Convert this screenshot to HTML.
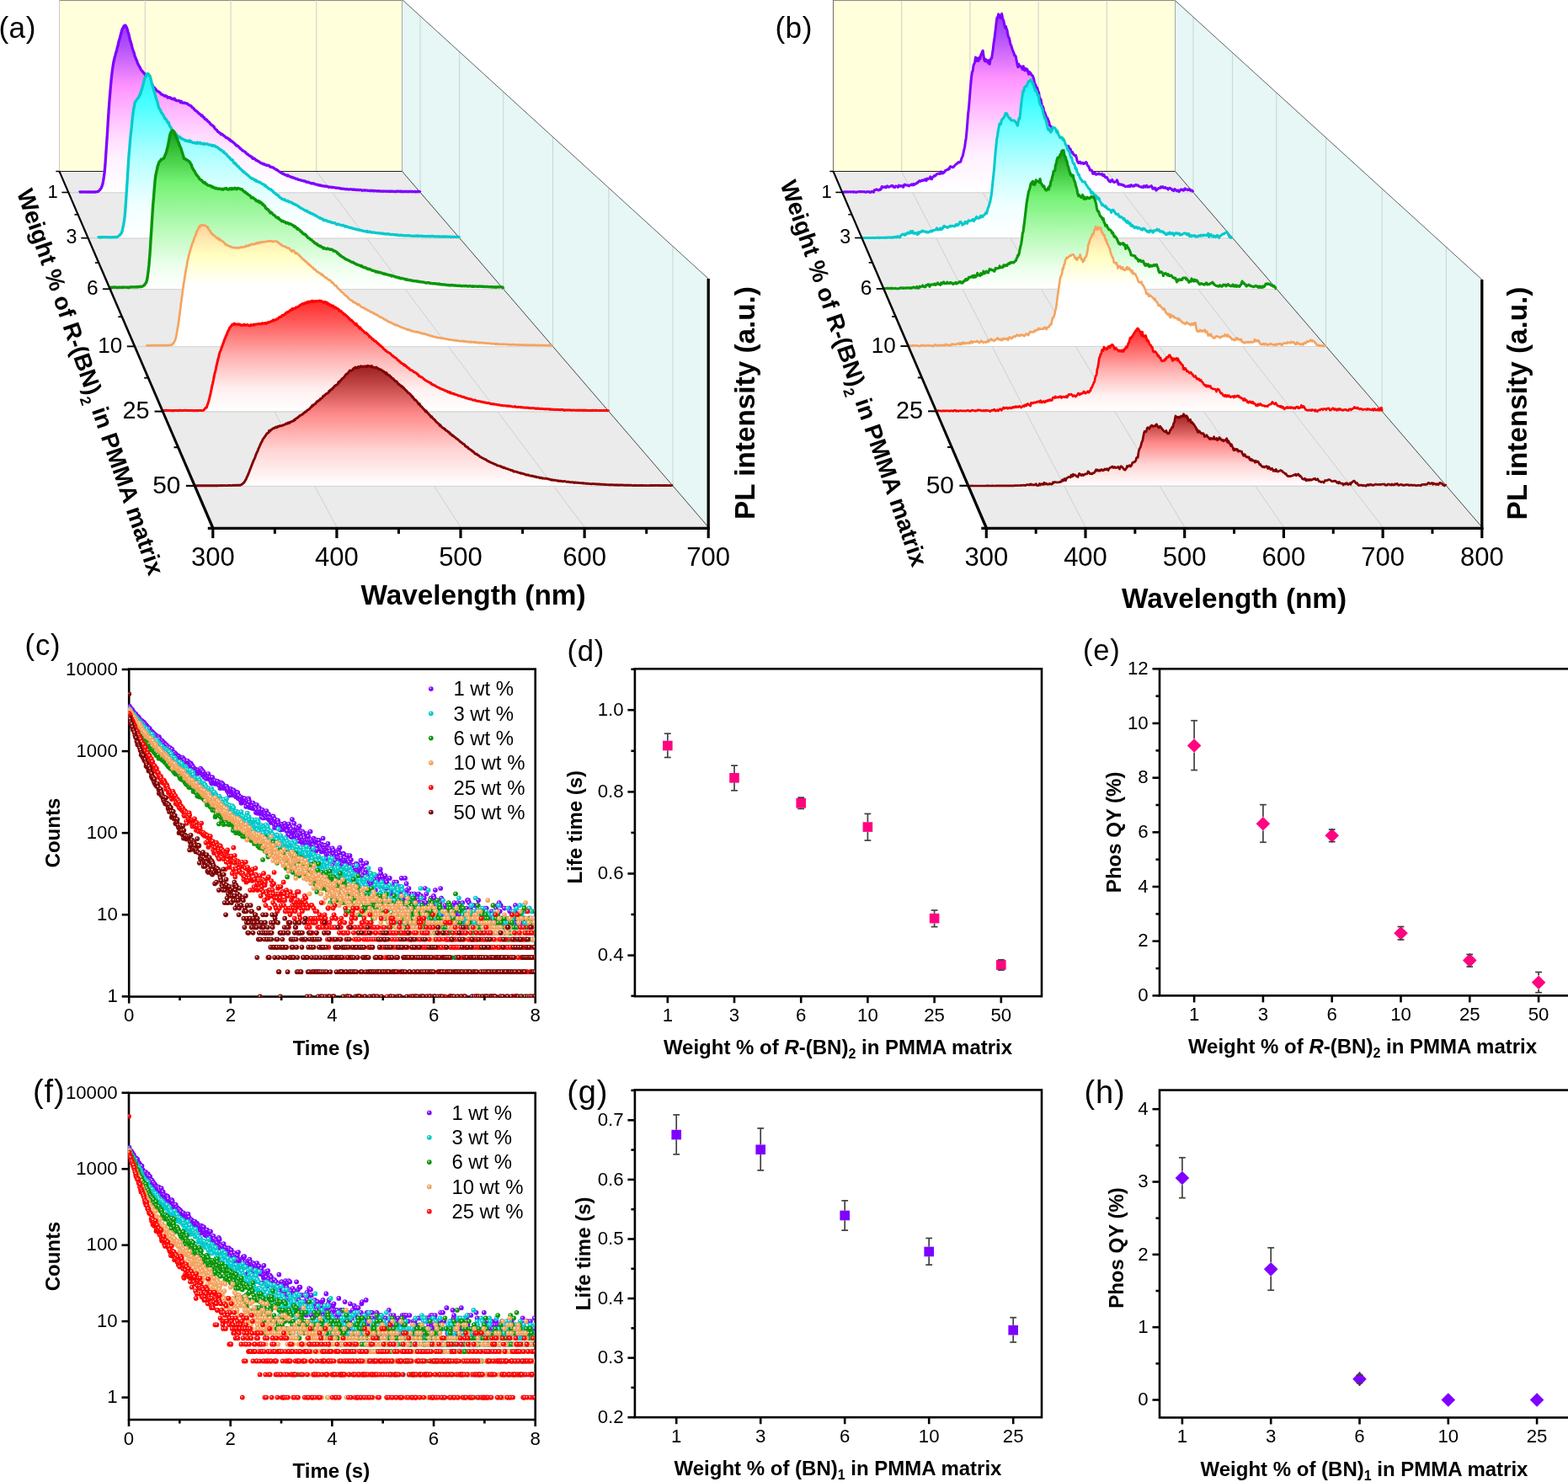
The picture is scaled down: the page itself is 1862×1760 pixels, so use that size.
<!DOCTYPE html>
<html lang="en"><head><meta charset="utf-8"><title>Figure</title>
<style>
html,body{margin:0;padding:0;background:#fff;}
body{width:1862px;height:1760px;overflow:hidden;}
svg{display:block;font-family:"Liberation Sans", Arial, Helvetica, sans-serif;fill:#000;}
</style></head><body>
<svg width="1862" height="1760" viewBox="0 0 1862 1760">
<defs>
<linearGradient id="g1" x1="0" y1="0" x2="0" y2="1"><stop offset="0" stop-color="#9a38f8"/><stop offset="0.12" stop-color="#b050fa"/><stop offset="0.36" stop-color="#ff92ff"/><stop offset="0.5" stop-color="#ffb4ff"/><stop offset="0.65" stop-color="#ffd8ff"/><stop offset="0.8" stop-color="#fff2ff"/><stop offset="1" stop-color="#ffffff"/></linearGradient>
<linearGradient id="g3" x1="0" y1="0" x2="0" y2="1"><stop offset="0" stop-color="#28f0f4"/><stop offset="0.15" stop-color="#40ffff"/><stop offset="0.45" stop-color="#a0ffff"/><stop offset="0.6" stop-color="#c8ffff"/><stop offset="0.8" stop-color="#f0ffff"/><stop offset="1" stop-color="#ffffff"/></linearGradient>
<linearGradient id="g6" x1="0" y1="0" x2="0" y2="1"><stop offset="0" stop-color="#189c20"/><stop offset="0.12" stop-color="#38c038"/><stop offset="0.33" stop-color="#74f274"/><stop offset="0.6" stop-color="#b4fab4"/><stop offset="0.85" stop-color="#ecffec"/><stop offset="1" stop-color="#ffffff"/></linearGradient>
<linearGradient id="g10" x1="0" y1="0" x2="0" y2="1"><stop offset="0" stop-color="#ffd29c"/><stop offset="0.13" stop-color="#ffeab0"/><stop offset="0.25" stop-color="#ffffc0"/><stop offset="0.5" stop-color="#ffffff"/><stop offset="1" stop-color="#ffffff"/></linearGradient>
<linearGradient id="g25" x1="0" y1="0" x2="0" y2="1"><stop offset="0" stop-color="#ff2828"/><stop offset="0.2" stop-color="#ff5c5c"/><stop offset="0.5" stop-color="#ffb0b0"/><stop offset="0.8" stop-color="#fff0f0"/><stop offset="1" stop-color="#ffffff"/></linearGradient>
<linearGradient id="g50" x1="0" y1="0" x2="0" y2="1"><stop offset="0" stop-color="#9c2020"/><stop offset="0.15" stop-color="#c04444"/><stop offset="0.4" stop-color="#ff8888"/><stop offset="0.7" stop-color="#ffd4d4"/><stop offset="1" stop-color="#ffffff"/></linearGradient>
<path id="ca1" d="M93.8 228.5 94.5 228.1 95.3 227.9 96.1 228 96.9 228 97.7 227.9 98.5 227.9 99.3 228.1 100.1 228 100.9 227.8 101.7 228.2 102.5 228.1 103.3 227.9 104.1 228.1 104.9 228 105.7 228 106.5 228.1 107.3 227.9 108.1 228 108.9 228.1 109.7 228.1 110.5 228 111.3 228.1 112.1 227.9 112.9 228 113.7 228 114.5 227.8 115.3 227.7 116.1 227.6 116.9 227.2 117.7 226.4 118.5 225.6 119.3 224.5 120.1 223.5 120.9 221.7 121.7 219.3 122.5 215.6 123.3 210.7 124.1 204.9 124.9 196 125.7 184.2 126.5 172.4 127.3 160.7 128.1 147.3 128.9 134.7 129.7 123 130.5 113.1 131.3 103.9 132.1 94.7 132.9 87.4 133.7 81.4 134.5 75.9 135.3 71.8 136.1 68.5 136.9 65.7 137.7 62.4 138.5 60.3 139.3 56.3 140.1 53.9 140.9 49.8 141.7 47.2 142.5 44.5 143.3 41.2 144.1 38.6 144.9 35.1 145.7 33.4 146.5 32.7 147.3 30.6 148.1 30.9 148.9 30 149.7 31.4 150.5 32.8 151.3 35.3 152.1 38.3 152.9 40.5 153.7 44.1 154.5 47.9 155.3 49.9 156.1 52.7 156.9 56.2 157.7 58.7 158.5 61 159.3 63.1 160.1 66.8 160.9 68.3 161.7 70.6 162.5 71.9 163.3 74.9 164.1 76.3 164.9 78 165.7 79 166.5 80.7 167.3 82.2 168.1 83.6 168.9 84.4 169.7 85.4 170.5 86.3 171.3 87.2 172.1 88.1 172.9 89.7 173.7 90.4 174.5 90.6 175.3 92.5 176.1 94.2 176.9 94.7 177.7 95.2 178.5 97.1 179.3 98.8 180.1 99.7 180.9 100.6 181.7 102.7 182.5 103.8 183.3 104 184.1 105.3 184.9 106 185.7 107 186.5 108 187.3 108.5 188.1 108.8 188.9 109.2 189.7 109.8 190.5 110.7 191.3 111.8 192.1 112 192.9 112.4 193.7 113 194.5 113.3 195.3 114 196.1 113.6 196.9 113.6 197.7 114.6 198.5 114.6 199.3 116.1 200.1 115.6 200.9 115.9 201.7 115.6 202.5 116.6 203.3 116.5 204.1 117.5 204.9 117.7 205.7 117.3 206.5 118.1 207.3 117.1 208.1 118.2 208.9 119.4 209.7 119.5 210.5 119.5 211.3 119.7 212.1 119.4 212.9 119.8 213.7 120.7 214.5 121.7 215.3 120.3 216.1 121.7 216.9 122 217.7 122.4 218.5 121.8 219.3 122.2 220.1 122.7 220.9 122.5 221.7 122.7 222.5 123.2 223.3 123.9 224.1 124.5 224.9 124.8 225.7 125.4 226.5 125.6 227.3 126.2 228.1 127.7 228.9 127.8 229.7 128.5 230.5 129.7 231.3 130.5 232.1 131.3 232.9 131.6 233.7 132.2 234.5 133 235.3 133.7 236.1 134.8 236.9 135.1 237.7 135.9 238.5 136.3 239.3 137.6 240.1 136.9 240.9 138.6 241.7 139.5 242.5 139.4 243.3 141.5 244.1 141.3 244.9 142 245.7 142.4 246.5 143.9 247.3 144.4 248.1 144.8 248.9 145.9 249.7 146.9 250.5 147.9 251.3 148.4 252.1 148.8 252.9 149.8 253.7 149.9 254.5 151.4 255.3 152.8 256.1 153.5 256.9 154.1 257.7 154.8 258.5 156.3 259.3 156.5 260.1 157.4 260.9 157.9 261.7 158.2 262.5 159.6 263.3 159.1 264.1 159.7 264.9 160.5 265.7 161 266.5 161.6 267.3 162.1 268.1 163.2 268.9 163.4 269.7 164 270.5 163.8 271.3 164.6 272.1 165.9 272.9 165.7 273.7 167.1 274.5 166.9 275.3 168 276.1 168.2 276.9 169.2 277.7 169.5 278.5 170.4 279.3 171.7 280.1 171.6 280.9 173.1 281.7 172.9 282.5 173.3 283.3 174.4 284.1 174.9 284.9 176.2 285.7 176.6 286.5 177.3 287.3 177.8 288.1 179 288.9 179.2 289.7 179.7 290.5 180 291.3 180.6 292.1 181.6 292.9 182.5 293.7 183.2 294.5 183.2 295.3 184.3 296.1 184.8 296.9 185 297.7 186 298.5 185.8 299.3 187.1 300.1 188.3 300.9 187.7 301.7 188.6 302.5 188.5 303.3 189.4 304.1 190.3 304.9 190.3 305.7 191 306.5 191.4 307.3 191.8 308.1 192.4 308.9 193 309.7 193.6 310.5 193.9 311.3 193.8 312.1 194.8 312.9 195 313.7 194.6 314.5 195.5 315.3 195.9 316.1 196.2 316.9 196.4 317.7 196.1 318.5 196.7 319.3 196.5 320.1 197.3 320.9 198.3 321.7 198.2 322.5 198.6 323.3 198.6 324.1 198.9 324.9 199.3 325.7 200.1 326.5 200.3 327.3 200.8 328.1 201.8 328.9 201.6 329.7 202.2 330.5 203 331.3 203.6 332.1 204.1 332.9 204.3 333.7 205.2 334.5 205.5 335.3 206.1 336.1 206.1 336.9 206.8 337.7 207.2 338.5 207.3 339.3 207.8 340.1 208 340.9 208.8 341.7 208 342.5 208.8 343.3 209 344.1 209.6 344.9 209.9 345.7 210.2 346.5 210.8 347.3 210.5 348.1 210.9 348.9 211.4 349.7 211.4 350.5 212 351.3 212.3 352.1 212.3 352.9 212.3 353.7 213.3 354.5 213.3 355.3 213.5 356.1 213.7 356.9 213.9 357.7 214.3 358.5 214.3 359.3 214.4 360.1 214.9 360.9 215 361.7 215 362.5 215.2 363.3 215.9 364.1 216 364.9 216.5 365.7 216.2 366.5 216.4 367.3 216.9 368.1 217.3 368.9 217.3 369.7 217.5 370.5 218 371.3 217.7 372.1 217.8 372.9 218.1 373.7 218.4 374.5 218.8 375.3 219.1 376.1 219.2 376.9 219.6 377.7 219.3 378.5 220.1 379.3 219.7 380.1 220.3 380.9 220.1 381.7 220.5 382.5 220.6 383.3 220.8 384.1 221 384.9 221 385.7 221.2 386.5 221.4 387.3 221.2 388.1 221.5 388.9 221.4 389.7 221.9 390.5 222.4 391.3 222.2 392.1 222.1 392.9 222.2 393.7 222.6 394.5 222.5 395.3 222.4 396.1 222.6 396.9 222.7 397.7 222.8 398.5 223.2 399.3 223.2 400.1 223.1 400.9 223.3 401.7 223.3 402.5 223.4 403.3 223.4 404.1 224.1 404.9 223.8 405.7 224.1 406.5 224.2 407.3 224.1 408.1 224.3 408.9 224.4 409.7 224.4 410.5 224.8 411.3 224.6 412.1 224.5 412.9 224.8 413.7 225 414.5 225 415.3 224.8 416.1 224.8 416.9 224.8 417.7 224.9 418.5 225.2 419.3 225.3 420.1 224.9 420.9 225.3 421.7 225.2 422.5 225.5 423.3 225.6 424.1 225.4 424.9 225.5 425.7 225.5 426.5 225.8 427.3 225.5 428.1 225.6 428.9 225.7 429.7 226.1 430.5 226.3 431.3 226 432.1 225.8 432.9 226.1 433.7 226 434.5 226.2 435.3 226 436.1 226.2 436.9 226.3 437.7 226.4 438.5 226.4 439.3 226.6 440.1 226.5 440.9 226.2 441.7 226.7 442.5 226.5 443.3 226.5 444.1 226.9 444.9 226.5 445.7 226.7 446.5 226.7 447.3 227 448.1 226.8 448.9 226.9 449.7 226.7 450.5 227.2 451.3 226.8 452.1 227.1 452.9 227.2 453.7 227.2 454.5 227.3 455.3 227 456.1 227.2 456.9 227.2 457.7 227.2 458.5 227.3 459.3 227.2 460.1 227.1 460.9 227.2 461.7 227.5 462.5 227.1 463.3 227.3 464.1 227.2 464.9 227.4 465.7 227.1 466.5 227.3 467.3 227.3 468.1 227.3 468.9 227.6 469.7 227.5 470.5 227.2 471.3 227.6 472.1 227.2 472.9 227.1 473.7 227.2 474.5 227.4 475.3 227.5 476.1 227.1 476.9 227.5 477.7 227.4 478.5 227.5 479.3 227.4 480.1 227.5 480.9 227.5 481.7 227.3 482.5 227.6 483.3 227.5 484.1 227.5 484.9 227.6 485.7 227.4 486.5 227.5 487.3 227.4 488.1 227.4 488.9 227.5 489.7 227.5 490.5 227.6 491.3 227.6 492.1 227.5 492.9 227.4 493.7 227.9 494.5 227.7 495.3 227.5 496.1 227.4 496.9 227.5 497.7 227.5 498.5 227.6 499.3 228.5"/>
<path id="ca3" d="M116.2 282.7 117 281.7 117.8 281.8 118.6 281.7 119.4 281.8 120.2 281.7 121 281.8 121.8 281.5 122.6 281.7 123.4 281.7 124.2 281.6 125 281.7 125.8 281.6 126.6 281.7 127.4 281.7 128.2 281.7 129 281.7 129.8 281.9 130.6 281.8 131.4 281.8 132.2 281.8 133 281.7 133.8 281.7 134.6 281.8 135.4 281.7 136.2 281.6 137 281.5 137.8 281.8 138.6 281.5 139.4 281.3 140.2 280.8 141 280.2 141.8 279.6 142.6 278.6 143.4 277.9 144.2 276.9 145 274.8 145.8 271.2 146.6 267.4 147.4 262.8 148.2 256.5 149 247 149.8 235.3 150.6 223 151.4 210.7 152.2 197.4 153 184.9 153.8 176 154.6 165.9 155.4 158.5 156.2 151.6 157 142.8 157.8 136 158.6 130.1 159.4 126.4 160.2 121.2 161 120.7 161.8 119.4 162.6 118.1 163.4 117 164.2 116.1 165 114.9 165.8 112.7 166.6 112.1 167.4 108.6 168.2 106.6 169 103.9 169.8 101 170.6 97.9 171.4 94.3 172.2 91.9 173 91.2 173.8 89.3 174.6 87.5 175.4 88.1 176.2 87.8 177 89.3 177.8 89.7 178.6 91.9 179.4 94.9 180.2 99.1 181 101.6 181.8 104.5 182.6 106.9 183.4 109.7 184.2 112.4 185 115.2 185.8 117.7 186.6 120 187.4 122.9 188.2 126.5 189 128.6 189.8 130 190.6 130.5 191.4 133.5 192.2 134.3 193 135.4 193.8 136.7 194.6 137.8 195.4 140.1 196.2 141.3 197 141.2 197.8 142.7 198.6 144.1 199.4 145.8 200.2 145.3 201 148.3 201.8 150.1 202.6 150.7 203.4 152.3 204.2 154.3 205 155.1 205.8 155.3 206.6 156.4 207.4 157.3 208.2 158 209 159.5 209.8 160 210.6 161 211.4 161.9 212.2 163 213 162.9 213.8 162.5 214.6 164.4 215.4 164.2 216.2 165.2 217 165 217.8 165.7 218.6 165.9 219.4 166.3 220.2 167.2 221 166.7 221.8 167.3 222.6 167.6 223.4 167.5 224.2 167 225 168.3 225.8 167.1 226.6 167.9 227.4 168.5 228.2 169 229 169.4 229.8 169.5 230.6 169.6 231.4 169.3 232.2 170.1 233 169.6 233.8 170.3 234.6 169 235.4 169.6 236.2 169.9 237 170.2 237.8 169.3 238.6 170.7 239.4 170.8 240.2 170.8 241 170.3 241.8 171.2 242.6 170.4 243.4 171.1 244.2 170.8 245 170.9 245.8 170.9 246.6 171.1 247.4 171.7 248.2 172 249 172.1 249.8 172.1 250.6 172.2 251.4 172.4 252.2 173.3 253 172.6 253.8 172.9 254.6 173.5 255.4 173.2 256.2 174.2 257 174.6 257.8 174.6 258.6 175.3 259.4 176.3 260.2 176.4 261 177.1 261.8 178.1 262.6 178 263.4 178.4 264.2 179.5 265 180.4 265.8 180.1 266.6 181.8 267.4 182.1 268.2 182.8 269 183.3 269.8 184.3 270.6 185.6 271.4 186.2 272.2 187.1 273 187.5 273.8 189.1 274.6 189.8 275.4 190.1 276.2 189.9 277 191.8 277.8 193.7 278.6 193.4 279.4 193.8 280.2 195.7 281 195.6 281.8 196.9 282.6 197.8 283.4 197.8 284.2 199.2 285 200.4 285.8 200.6 286.6 201.7 287.4 202.2 288.2 203.3 289 204.3 289.8 203.9 290.6 205 291.4 205.9 292.2 206.2 293 206.8 293.8 207.7 294.6 208.4 295.4 208.9 296.2 209.8 297 210.6 297.8 211.2 298.6 211.7 299.4 212.4 300.2 212 301 212.9 301.8 213.5 302.6 214 303.4 213.6 304.2 215.2 305 214.6 305.8 215.4 306.6 215.9 307.4 216.4 308.2 216.2 309 216.6 309.8 217.4 310.6 217.9 311.4 218.5 312.2 218.7 313 219 313.8 219.3 314.6 220.9 315.4 220.4 316.2 221.6 317 222.1 317.8 222.8 318.6 223.5 319.4 224.2 320.2 224.3 321 225.1 321.8 224.9 322.6 226.1 323.4 226.4 324.2 227.3 325 228.5 325.8 228.8 326.6 229.8 327.4 230.1 328.2 231 329 231.4 329.8 231.4 330.6 232.7 331.4 233.5 332.2 234.3 333 234.8 333.8 235.3 334.6 236.2 335.4 236.5 336.2 236.6 337 237.4 337.8 236.8 338.6 237.7 339.4 238 340.2 238.8 341 238.5 341.8 238.5 342.6 239.3 343.4 240 344.2 239.7 345 240 345.8 240.3 346.6 240.7 347.4 241.5 348.2 242 349 242 349.8 242.3 350.6 243.3 351.4 243.3 352.2 243.7 353 244.1 353.8 244.6 354.6 245.3 355.4 245.7 356.2 246.4 357 246.8 357.8 247.4 358.6 247.7 359.4 248.2 360.2 248.8 361 249.1 361.8 249.6 362.6 250.3 363.4 250.1 364.2 250.2 365 251.4 365.8 251.5 366.6 252.3 367.4 252.3 368.2 252.4 369 253.7 369.8 253.6 370.6 253.8 371.4 254.1 372.2 254.8 373 254.9 373.8 255.6 374.6 256.2 375.4 256 376.2 256.7 377 257.3 377.8 258 378.6 258.3 379.4 258.4 380.2 259.3 381 259.2 381.8 259.6 382.6 260.2 383.4 260.2 384.2 261.6 385 261.4 385.8 261.5 386.6 261.6 387.4 261.7 388.2 262.4 389 262.8 389.8 262.8 390.6 263.1 391.4 263.5 392.2 263.6 393 263.5 393.8 264.3 394.6 264.5 395.4 264.8 396.2 264.7 397 264.6 397.8 265 398.6 265.6 399.4 266.3 400.2 266.6 401 266.3 401.8 266.1 402.6 266.6 403.4 267 404.2 267.2 405 267.3 405.8 267.8 406.6 267.5 407.4 267.5 408.2 268 409 268.1 409.8 269.1 410.6 268.8 411.4 268.7 412.2 269.4 413 269.7 413.8 269.7 414.6 270 415.4 270.4 416.2 270.5 417 270.4 417.8 270.9 418.6 271.2 419.4 271.3 420.2 271.7 421 271.8 421.8 271.9 422.6 272.1 423.4 272.5 424.2 272.4 425 273 425.8 273.2 426.6 272.8 427.4 273.3 428.2 273.4 429 273.6 429.8 273.9 430.6 274.1 431.4 274.4 432.2 274.5 433 274.6 433.8 274.6 434.6 274.8 435.4 275.3 436.2 274.6 437 275.6 437.8 275.3 438.6 275.7 439.4 275.1 440.2 275.6 441 276 441.8 276 442.6 276.2 443.4 276 444.2 276.2 445 276.2 445.8 276.5 446.6 276.6 447.4 276.6 448.2 276.7 449 276.8 449.8 276.9 450.6 276.8 451.4 277.1 452.2 277.1 453 277.2 453.8 277.2 454.6 277.7 455.4 277.4 456.2 277.7 457 277.9 457.8 277.9 458.6 277.8 459.4 278.1 460.2 277.7 461 277.8 461.8 278.1 462.6 278.2 463.4 278.3 464.2 278.7 465 278.7 465.8 278.5 466.6 278.6 467.4 278.5 468.2 278.8 469 278.6 469.8 279.1 470.6 278.9 471.4 279.1 472.2 278.9 473 279.4 473.8 279.3 474.6 279.6 475.4 279.4 476.2 279.2 477 279.4 477.8 279.4 478.6 279.9 479.4 279.6 480.2 279.6 481 279.9 481.8 279.9 482.6 279.9 483.4 279.8 484.2 279.6 485 279.8 485.8 279.7 486.6 280.2 487.4 280.2 488.2 280 489 280.2 489.8 280.3 490.6 280.3 491.4 280.3 492.2 280.4 493 280.3 493.8 279.9 494.6 279.9 495.4 280.5 496.2 280.4 497 280 497.8 280.4 498.6 280.3 499.4 280.3 500.2 280.1 501 280.6 501.8 280.5 502.6 280.6 503.4 280.7 504.2 280.7 505 280.8 505.8 280.6 506.6 280.6 507.4 280.5 508.2 280.7 509 280.6 509.8 280.5 510.6 280.9 511.4 280.8 512.2 280.3 513 280.4 513.8 280.7 514.6 280.6 515.4 281 516.2 280.8 517 280.9 517.8 281 518.6 281 519.4 280.8 520.2 281 521 280.9 521.8 281 522.6 281 523.4 281.2 524.2 281 525 280.9 525.8 281 526.6 280.9 527.4 281.1 528.2 281.3 529 281 529.8 280.9 530.6 281.1 531.4 281.1 532.2 281.2 533 281.1 533.8 281.2 534.6 281.1 535.4 281.5 536.2 281.2 537 281.4 537.8 281.4 538.6 281.3 539.4 281.4 540.2 281.3 541 281.3 541.8 281.4 542.6 281.5 543.4 281.3 544.2 281.4 545 281.4 545.8 282.7"/>
<path id="ca6" d="M131.2 343.2 132.1 341.2 132.9 341.2 133.7 341.3 134.5 341.4 135.3 341.1 136.1 341.4 136.9 340.9 137.7 341.1 138.5 341.5 139.3 341.5 140.1 341.3 140.9 341.2 141.7 341.3 142.5 341.1 143.3 341.4 144.1 341.4 144.9 341.3 145.7 341 146.5 341.3 147.3 341.1 148.1 341.1 148.9 341.1 149.7 341.1 150.5 341.2 151.3 341.2 152.1 341.2 152.9 341.6 153.7 341 154.5 341.2 155.3 340.9 156.1 340.9 156.9 340.8 157.7 341.1 158.5 340.9 159.3 340.9 160.1 340.8 160.9 341 161.7 340.7 162.5 340.8 163.3 341.1 164.1 340.7 164.9 340.5 165.7 340.4 166.5 340.7 167.3 340.5 168.1 340.3 168.9 340.1 169.7 339.8 170.5 339.1 171.3 338.9 172.1 337.6 172.9 336.5 173.7 335.3 174.5 332.7 175.3 328.1 176.1 322 176.9 314.7 177.7 305.4 178.5 294 179.3 280.3 180.1 268.3 180.9 255.5 181.7 243.1 182.5 234.2 183.3 223.9 184.1 214.7 184.9 208 185.7 204.4 186.5 200.8 187.3 197 188.1 195.2 188.9 192.4 189.7 191.6 190.5 190.9 191.3 189.3 192.1 189.4 192.9 188.9 193.7 188.6 194.5 187.8 195.3 186.5 196.1 184 196.9 182.4 197.7 179.9 198.5 176.6 199.3 173.8 200.1 169.7 200.9 165.4 201.7 160.8 202.5 158.1 203.3 156.5 204.1 155.4 204.9 154.8 205.7 155.5 206.5 156.2 207.3 158.1 208.1 159.9 208.9 161.5 209.7 163.5 210.5 165.1 211.3 167.9 212.1 169 212.9 171.7 213.7 173.7 214.5 175.3 215.3 177.5 216.1 180.6 216.9 182.7 217.7 185.1 218.5 188.3 219.3 188.2 220.1 188.8 220.9 189.8 221.7 189.6 222.5 190.3 223.3 191.1 224.1 191.1 224.9 192.2 225.7 193.1 226.5 194.6 227.3 195.4 228.1 198.9 228.9 199.9 229.7 201.8 230.5 202.5 231.3 203.8 232.1 205.7 232.9 206.7 233.7 208.3 234.5 208.7 235.3 209.7 236.1 211.2 236.9 212.3 237.7 213.2 238.5 213.5 239.3 214.4 240.1 214.6 240.9 216.1 241.7 216.7 242.5 217.3 243.3 216.6 244.1 218.3 244.9 218.1 245.7 219.1 246.5 219.6 247.3 220.4 248.1 220.2 248.9 220.5 249.7 220.6 250.5 220.9 251.3 222 252.1 221.6 252.9 222.7 253.7 222.5 254.5 222.7 255.3 223.7 256.1 223.9 256.9 223.3 257.7 223.9 258.5 224.1 259.3 224.5 260.1 223.9 260.9 224.1 261.7 224.3 262.5 224.7 263.3 224.8 264.1 224.2 264.9 225.2 265.7 224.6 266.5 224.1 267.3 223.8 268.1 224.3 268.9 223.5 269.7 224.6 270.5 224.8 271.3 225.1 272.1 224.7 272.9 223.8 273.7 224.4 274.5 224.8 275.3 223.5 276.1 224 276.9 224.6 277.7 224.2 278.5 223.3 279.3 223.8 280.1 224 280.9 224.8 281.7 223.7 282.5 223.4 283.3 223.9 284.1 223.9 284.9 224.1 285.7 224.8 286.5 224.6 287.3 224.6 288.1 225.9 288.9 226.5 289.7 227.5 290.5 228 291.3 227.9 292.1 229.1 292.9 229.8 293.7 229.9 294.5 231 295.3 231.3 296.1 231.9 296.9 232.4 297.7 233.4 298.5 234.9 299.3 234.4 300.1 234.4 300.9 235.3 301.7 235.7 302.5 236.5 303.3 236.8 304.1 238.4 304.9 238.1 305.7 239 306.5 238.4 307.3 239.1 308.1 240.6 308.9 239.5 309.7 240.8 310.5 240.8 311.3 242.7 312.1 242.2 312.9 243.4 313.7 244.3 314.5 244.5 315.3 247.1 316.1 246.9 316.9 248.5 317.7 248.4 318.5 248.9 319.3 250.4 320.1 251.1 320.9 252.9 321.7 252 322.5 252.5 323.3 253.5 324.1 254.6 324.9 255.4 325.7 255.5 326.5 256.3 327.3 257.3 328.1 258.1 328.9 258.1 329.7 259 330.5 258.4 331.3 259.7 332.1 260.7 332.9 261.1 333.7 261.5 334.5 262.7 335.3 262.4 336.1 262.5 336.9 263.3 337.7 263.6 338.5 263.5 339.3 264.6 340.1 265.1 340.9 264.5 341.7 264.7 342.5 265.2 343.3 266 344.1 265.6 344.9 265.9 345.7 266.3 346.5 266.9 347.3 267.3 348.1 267.6 348.9 268.5 349.7 269.4 350.5 268.9 351.3 270.1 352.1 270.5 352.9 272.1 353.7 271.4 354.5 272.3 355.3 273.1 356.1 273.3 356.9 274.4 357.7 275.5 358.5 275.4 359.3 276.6 360.1 277.9 360.9 277.7 361.7 278.2 362.5 278.3 363.3 279.8 364.1 280 364.9 281.4 365.7 282.4 366.5 282.7 367.3 282.9 368.1 284.1 368.9 284.3 369.7 284.7 370.5 285.6 371.3 286.4 372.1 286.8 372.9 287.7 373.7 288.7 374.5 288.8 375.3 289.4 376.1 289.5 376.9 290.8 377.7 291 378.5 291.8 379.3 291.8 380.1 292.6 380.9 292.2 381.7 293.3 382.5 293.6 383.3 293.9 384.1 295.1 384.9 294.4 385.7 295 386.5 295.2 387.3 295.5 388.1 295.8 388.9 295.1 389.7 295.5 390.5 295.6 391.3 296.1 392.1 296.4 392.9 296.1 393.7 296.3 394.5 296.4 395.3 297.2 396.1 298 396.9 298 397.7 298.2 398.5 298.6 399.3 299.2 400.1 299.5 400.9 301.1 401.7 301.2 402.5 301.7 403.3 303.1 404.1 303.1 404.9 304.1 405.7 304.4 406.5 305.2 407.3 305.5 408.1 305.9 408.9 306.7 409.7 307.3 410.5 307.8 411.3 308 412.1 308.3 412.9 308.7 413.7 309.3 414.5 309.4 415.3 309.9 416.1 310.5 416.9 310.9 417.7 311.3 418.5 311.4 419.3 311.5 420.1 312.4 420.9 312.7 421.7 313 422.5 313.5 423.3 314 424.1 314.1 424.9 314.6 425.7 314.6 426.5 315.1 427.3 315.3 428.1 315.5 428.9 316.3 429.7 315.8 430.5 316.8 431.3 317.4 432.1 317.6 432.9 317.4 433.7 318.1 434.5 317.9 435.3 318.4 436.1 319.3 436.9 319.3 437.7 319.8 438.5 319.5 439.3 319.5 440.1 320.1 440.9 320.9 441.7 321.1 442.5 321.4 443.3 321.3 444.1 321.6 444.9 321.8 445.7 322.8 446.5 322.3 447.3 323 448.1 322.7 448.9 323.4 449.7 323 450.5 323.3 451.3 323.8 452.1 323.8 452.9 324 453.7 324.3 454.5 324.5 455.3 325.2 456.1 325.3 456.9 324.9 457.7 325.9 458.5 325.7 459.3 325.9 460.1 326.1 460.9 326.5 461.7 326.7 462.5 326.7 463.3 327 464.1 326.9 464.9 327.9 465.7 327.5 466.5 327.7 467.3 327.9 468.1 328.3 468.9 328.7 469.7 328.7 470.5 329 471.3 329.1 472.1 329.7 472.9 329.6 473.7 329.4 474.5 330.3 475.3 330.3 476.1 330.8 476.9 330.5 477.7 330.7 478.5 330.9 479.3 330.9 480.1 331.3 480.9 331.8 481.7 331.9 482.5 331.4 483.3 332.3 484.1 332.3 484.9 332.5 485.7 332.5 486.5 332.7 487.3 332.8 488.1 333 488.9 332.9 489.7 333.5 490.5 333.4 491.3 333.6 492.1 333.7 492.9 333.7 493.7 333.9 494.5 333.8 495.3 334.2 496.1 334.3 496.9 334.4 497.7 334.2 498.5 334.9 499.3 334.7 500.1 334.9 500.9 334.9 501.7 335 502.5 335.1 503.3 335.1 504.1 335.3 504.9 335.9 505.7 335.9 506.5 336.1 507.3 335.7 508.1 335.6 508.9 335.8 509.7 335.6 510.5 336.4 511.3 336.6 512.1 336.4 512.9 336.6 513.7 336.7 514.5 336.7 515.3 336.9 516.1 336.7 516.9 336.9 517.7 337.1 518.5 336.9 519.3 337.1 520.1 337.4 520.9 337.5 521.7 337.1 522.5 337.8 523.3 337.7 524.1 337.9 524.9 337.8 525.7 338 526.5 337.8 527.3 338 528.1 338 528.9 338.1 529.7 338.5 530.5 338.6 531.3 338.4 532.1 338.4 532.9 338.7 533.7 338.7 534.5 339 535.3 338.8 536.1 338.4 536.9 338.8 537.7 338.8 538.5 338.8 539.3 339 540.1 339 540.9 339 541.7 339.4 542.5 339.2 543.3 339.3 544.1 339.3 544.9 339.5 545.7 339.2 546.5 339.6 547.3 339.4 548.1 339.7 548.9 339.7 549.7 339.6 550.5 339.5 551.3 339.7 552.1 339.7 552.9 339.5 553.7 339.7 554.5 339.6 555.3 340 556.1 340.1 556.9 339.7 557.7 339.8 558.5 339.7 559.3 340 560.1 340.1 560.9 340.3 561.7 339.8 562.5 340.2 563.3 340.1 564.1 340 564.9 340.1 565.7 340.1 566.5 340.3 567.3 340.2 568.1 340.5 568.9 340.2 569.7 340 570.5 340.2 571.3 340.4 572.1 340.2 572.9 340.3 573.7 340.5 574.5 340.2 575.3 340.6 576.1 340.6 576.9 340.4 577.7 340.6 578.5 340.5 579.3 340.5 580.1 340.6 580.9 340.7 581.7 340.7 582.5 340.6 583.3 340.6 584.1 341.1 584.9 340.6 585.7 340.8 586.5 341 587.3 341 588.1 340.7 588.9 341.2 589.7 341.1 590.5 340.8 591.3 340.7 592.1 341 592.9 340.9 593.7 340.9 594.5 340.8 595.3 340.9 596.1 341 596.9 341.1 597.7 343.2"/>
<path id="ca10" d="M173.8 411.4 174.6 410.4 175.4 410.2 176.2 410.3 177 410.3 177.8 410.4 178.6 410.4 179.4 410.2 180.2 410.2 181 410.3 181.8 410.3 182.6 410.2 183.4 410.1 184.2 410.2 185 410.2 185.8 410.2 186.6 410.1 187.4 410.3 188.2 410 189 410.1 189.8 410.4 190.6 410 191.4 410.2 192.2 410.2 193 410.2 193.8 409.9 194.6 410.3 195.4 410.2 196.2 410.2 197 410.1 197.8 410.1 198.6 410.2 199.4 410.3 200.2 409.8 201 409.9 201.8 410 202.6 409.7 203.4 410 204.2 409.2 205 408.7 205.8 407.7 206.6 406.5 207.4 405.1 208.2 403.3 209 400.3 209.8 396.4 210.6 391.6 211.4 386.9 212.2 381.8 213 376.3 213.8 369.8 214.6 363.3 215.4 357.1 216.2 351.3 217 345 217.8 339.2 218.6 334.4 219.4 329.1 220.2 324 221 319.3 221.8 315.4 222.6 310.1 223.4 307 224.2 303.4 225 300.5 225.8 297.7 226.6 294.9 227.4 292.8 228.2 289.3 229 288.1 229.8 286.1 230.6 283.1 231.4 280.8 232.2 279.9 233 276.6 233.8 274.9 234.6 273 235.4 271.7 236.2 270.2 237 268.3 237.8 269.3 238.6 267.3 239.4 267.6 240.2 267.2 241 267.7 241.8 267.4 242.6 267.5 243.4 267.8 244.2 268.2 245 268.6 245.8 269.9 246.6 269.6 247.4 271.7 248.2 272.8 249 273.9 249.8 274.4 250.6 276.9 251.4 277.1 252.2 278.7 253 278.3 253.8 279.7 254.6 280.1 255.4 280.5 256.2 281.1 257 282.7 257.8 282.3 258.6 283 259.4 284.3 260.2 283.2 261 285.1 261.8 284.9 262.6 285.5 263.4 286.2 264.2 286.3 265 287.1 265.8 287.9 266.6 288.8 267.4 290 268.2 290.7 269 290.5 269.8 291.3 270.6 291.7 271.4 291.8 272.2 292.3 273 292.3 273.8 293.2 274.6 293.2 275.4 293.6 276.2 294 277 294.1 277.8 294 278.6 293.8 279.4 294.5 280.2 294.3 281 294.3 281.8 294.4 282.6 294.1 283.4 294.5 284.2 294.3 285 293.6 285.8 294 286.6 293.3 287.4 293.9 288.2 293.7 289 293.2 289.8 293.5 290.6 293.3 291.4 292.9 292.2 291.7 293 292.3 293.8 292.1 294.6 292.1 295.4 291 296.2 291.5 297 291.1 297.8 290.8 298.6 289.9 299.4 289.8 300.2 290.5 301 290.2 301.8 289.6 302.6 289.9 303.4 289.4 304.2 288.9 305 288.2 305.8 289.2 306.6 288.5 307.4 288.6 308.2 287.5 309 287.9 309.8 288.2 310.6 287.8 311.4 287.5 312.2 287.2 313 287.6 313.8 287.3 314.6 287.1 315.4 287 316.2 286.8 317 286.8 317.8 286.5 318.6 286.7 319.4 286 320.2 286 321 286.5 321.8 286.3 322.6 286.4 323.4 287.2 324.2 286.6 325 286.7 325.8 286.5 326.6 286.5 327.4 286.5 328.2 286.5 329 287.1 329.8 287.3 330.6 288.3 331.4 288.6 332.2 289.4 333 290.2 333.8 290.4 334.6 291.4 335.4 291.8 336.2 292.2 337 292.5 337.8 292.6 338.6 292.7 339.4 293.5 340.2 293.6 341 294.1 341.8 294.7 342.6 294.5 343.4 294.7 344.2 296 345 297.1 345.8 297.3 346.6 298.9 347.4 297.2 348.2 298 349 297.8 349.8 298.9 350.6 300.6 351.4 301.1 352.2 300.5 353 301.4 353.8 301.8 354.6 302.3 355.4 303.4 356.2 304.1 357 305 357.8 305.8 358.6 306.7 359.4 307.8 360.2 307.9 361 308.6 361.8 309.5 362.6 310.4 363.4 310.9 364.2 311.3 365 312.2 365.8 313.4 366.6 313.4 367.4 314.8 368.2 314.6 369 316.1 369.8 316.8 370.6 317.2 371.4 317.9 372.2 318.5 373 320 373.8 319.8 374.6 320.4 375.4 321.5 376.2 322.4 377 322.7 377.8 323.2 378.6 324.2 379.4 324.2 380.2 324.7 381 325.1 381.8 326.6 382.6 325.8 383.4 326.7 384.2 327.8 385 328.3 385.8 329.3 386.6 329.4 387.4 329.5 388.2 330.8 389 331.2 389.8 331.9 390.6 332.5 391.4 332.9 392.2 332.9 393 333.7 393.8 335.6 394.6 335.6 395.4 335.7 396.2 337.2 397 338.3 397.8 338.8 398.6 339.5 399.4 339.4 400.2 341 401 341.8 401.8 343.2 402.6 343.4 403.4 344.2 404.2 344.9 405 345.9 405.8 346.8 406.6 347.4 407.4 348 408.2 348.7 409 349.9 409.8 350.4 410.6 351.2 411.4 351.5 412.2 352.4 413 352.8 413.8 354.4 414.6 355.2 415.4 355.6 416.2 356 417 356.9 417.8 356.8 418.6 357.4 419.4 358.8 420.2 358.6 421 359.4 421.8 359.7 422.6 359.6 423.4 360.6 424.2 361.5 425 362.1 425.8 361.3 426.6 362.1 427.4 362.8 428.2 363.8 429 364.3 429.8 364.9 430.6 365.4 431.4 365.3 432.2 365.6 433 366.6 433.8 366.7 434.6 367.3 435.4 367.6 436.2 368.1 437 368.9 437.8 368.8 438.6 369 439.4 369.7 440.2 370.4 441 370.7 441.8 371.1 442.6 370.9 443.4 371.6 444.2 372.6 445 372.6 445.8 372.9 446.6 373.8 447.4 373.7 448.2 374.5 449 374.8 449.8 375.3 450.6 376 451.4 376.8 452.2 377 453 376.9 453.8 377.3 454.6 378 455.4 378.5 456.2 379.2 457 379.5 457.8 380 458.6 379.9 459.4 380.8 460.2 381.3 461 382.1 461.8 382.2 462.6 382.4 463.4 382.5 464.2 383.2 465 383.6 465.8 383.9 466.6 384.4 467.4 384.8 468.2 385.2 469 386 469.8 385.5 470.6 385.7 471.4 386.5 472.2 386.4 473 387 473.8 387.4 474.6 387.5 475.4 388.2 476.2 388.5 477 388.7 477.8 389.1 478.6 389.5 479.4 389.5 480.2 390.1 481 390.3 481.8 390.5 482.6 390.7 483.4 391.6 484.2 391.5 485 391.3 485.8 392.1 486.6 391.6 487.4 392.5 488.2 392.8 489 393.2 489.8 393.1 490.6 393.1 491.4 393.9 492.2 393.9 493 394.1 493.8 393.9 494.6 394.3 495.4 394 496.2 394.7 497 394.3 497.8 394.8 498.6 394.9 499.4 395.7 500.2 395.8 501 395.7 501.8 396.3 502.6 396.3 503.4 396 504.2 396.6 505 396.5 505.8 397.1 506.6 397.4 507.4 397.4 508.2 398 509 398.3 509.8 398.1 510.6 398.7 511.4 398.8 512.2 398.9 513 399.6 513.8 399.3 514.6 399.6 515.4 399.8 516.2 400.2 517 400.4 517.8 400.2 518.6 400.8 519.4 401.1 520.2 401.3 521 401.1 521.8 401.1 522.6 401.1 523.4 401.6 524.2 401.6 525 401.8 525.8 401.8 526.6 401.6 527.4 402.2 528.2 402.3 529 402.4 529.8 402.3 530.6 402.7 531.4 402.9 532.2 402.8 533 403.3 533.8 403.3 534.6 403.4 535.4 403.6 536.2 403.6 537 403.7 537.8 404 538.6 404.1 539.4 404.2 540.2 404.1 541 404.4 541.8 404.6 542.6 404.2 543.4 404.5 544.2 404.7 545 404.8 545.8 405.2 546.6 405.2 547.4 405 548.2 405.1 549 404.9 549.8 405.1 550.6 405.6 551.4 405.1 552.2 405.6 553 405.5 553.8 405.6 554.6 405.7 555.4 406.2 556.2 406 557 406.1 557.8 406.2 558.6 405.7 559.4 406.5 560.2 406 561 406.2 561.8 406.5 562.6 406.2 563.4 406.2 564.2 406.8 565 406.6 565.8 406.9 566.6 406.9 567.4 406.8 568.2 407.2 569 406.9 569.8 407.4 570.6 406.9 571.4 407 572.2 407.1 573 407.3 573.8 407.1 574.6 407.3 575.4 407.7 576.2 407.5 577 407.8 577.8 407.7 578.6 407.6 579.4 407.6 580.2 407.8 581 407.9 581.8 407.8 582.6 407.9 583.4 408.3 584.2 408.3 585 408.2 585.8 408.1 586.6 408.2 587.4 408.6 588.2 408.2 589 408.8 589.8 408.3 590.6 408.2 591.4 408.9 592.2 408.6 593 408.9 593.8 408.7 594.6 408.7 595.4 408.9 596.2 408.7 597 408.9 597.8 408.9 598.6 408.6 599.4 409 600.2 408.9 601 409 601.8 409.1 602.6 408.9 603.4 409.2 604.2 409.3 605 409.5 605.8 409.4 606.6 409.3 607.4 409.2 608.2 409.3 609 409.1 609.8 409.4 610.6 409.4 611.4 409.4 612.2 409.5 613 409.5 613.8 409.5 614.6 409.3 615.4 409.7 616.2 409.6 617 409.6 617.8 409.6 618.6 409.5 619.4 409.7 620.2 409.6 621 409.6 621.8 409.7 622.6 409.8 623.4 409.8 624.2 409.8 625 409.7 625.8 409.8 626.6 409.8 627.4 409.6 628.2 410 629 409.9 629.8 409.7 630.6 410.1 631.4 410.2 632.2 409.7 633 409.9 633.8 409.8 634.6 410.1 635.4 409.8 636.2 410.1 637 410.1 637.8 410.2 638.6 409.8 639.4 410 640.2 410 641 410.2 641.8 410.1 642.6 410.2 643.4 410.2 644.2 410 645 410.1 645.8 410.1 646.6 410.2 647.4 410.1 648.2 410.3 649 410.3 649.8 410 650.6 410.3 651.4 410.2 652.2 410.1 653 410.4 653.8 410.3 654.6 410.4 655.4 410.3 656.2 411.4"/>
<path id="ca25" d="M192.5 488.6 193.3 487.6 194.1 487.4 194.9 487.5 195.7 487.5 196.5 487.4 197.3 487.3 198.1 487.5 198.9 487.6 199.7 487.4 200.5 487.4 201.3 487.5 202.1 487.4 202.9 487.7 203.7 487.6 204.5 487.8 205.3 487.5 206.1 487.8 206.9 487.4 207.7 487.5 208.5 487.4 209.3 487.5 210.1 487.5 210.9 487.6 211.7 487.7 212.5 487.5 213.3 487.3 214.1 487.5 214.9 487.5 215.7 487.4 216.5 487.6 217.3 487.6 218.1 487.4 218.9 487.4 219.7 487.2 220.5 487.4 221.3 487.6 222.1 487.4 222.9 487.6 223.7 487.6 224.5 487.6 225.3 487.6 226.1 487.5 226.9 487.6 227.7 487.6 228.5 487.5 229.3 487.5 230.1 487.7 230.9 487.7 231.7 487.4 232.5 487.6 233.3 487.5 234.1 487.8 234.9 487.5 235.7 487.4 236.5 487.4 237.3 487.6 238.1 487.4 238.9 487.6 239.7 487.4 240.5 487.6 241.3 487.4 242.1 486.9 242.9 485.8 243.7 485.1 244.5 484 245.3 483.9 246.1 481.6 246.9 479.2 247.7 476.6 248.5 473.7 249.3 470.5 250.1 467 250.9 463.1 251.7 458.8 252.5 455.8 253.3 452 254.1 447.7 254.9 443.8 255.7 440.8 256.5 437.5 257.3 433.3 258.1 430.1 258.9 426.6 259.7 423.9 260.5 420.1 261.3 417.6 262.1 416.1 262.9 413.5 263.7 411.4 264.5 409.1 265.3 407.1 266.1 404.8 266.9 402.6 267.7 400.8 268.5 398.4 269.3 397.3 270.1 394.6 270.9 393 271.7 391.7 272.5 389.5 273.3 388.6 274.1 387.8 274.9 386.6 275.7 385.3 276.5 385.7 277.3 384.8 278.1 384.1 278.9 385.4 279.7 384.8 280.5 385.1 281.3 385.3 282.1 384.9 282.9 385.6 283.7 384.8 284.5 385.1 285.3 385.4 286.1 386.5 286.9 386 287.7 386.3 288.5 385.7 289.3 386.2 290.1 385.2 290.9 386 291.7 386.3 292.5 386 293.3 385.4 294.1 385.6 294.9 386.6 295.7 386.8 296.5 386.1 297.3 386.8 298.1 385.6 298.9 386.3 299.7 386 300.5 386.2 301.3 385 302.1 385.9 302.9 385.4 303.7 384.9 304.5 384.9 305.3 384.9 306.1 385 306.9 384.5 307.7 384.4 308.5 384.7 309.3 384.5 310.1 384.7 310.9 384.8 311.7 383.5 312.5 384.1 313.3 384.2 314.1 384 314.9 383.4 315.7 384 316.5 384.2 317.3 383.2 318.1 382.7 318.9 383.1 319.7 382.6 320.5 382.3 321.3 382.1 322.1 381.5 322.9 381.4 323.7 380.8 324.5 379.9 325.3 380.9 326.1 380.2 326.9 379.7 327.7 379.9 328.5 378.8 329.3 378.9 330.1 378.3 330.9 377.4 331.7 376.5 332.5 376.8 333.3 376.2 334.1 376 334.9 374.5 335.7 374.6 336.5 374.3 337.3 373.8 338.1 373.2 338.9 372.8 339.7 371.2 340.5 371.5 341.3 370.8 342.1 370 342.9 370.2 343.7 369.5 344.5 368.6 345.3 368 346.1 368.3 346.9 366.6 347.7 367.2 348.5 366.2 349.3 366.3 350.1 366.6 350.9 365.7 351.7 364.8 352.5 365.1 353.3 364.8 354.1 364 354.9 364 355.7 362.8 356.5 362.6 357.3 361.9 358.1 361.3 358.9 361.1 359.7 360.4 360.5 360.3 361.3 361 362.1 360 362.9 359.3 363.7 359.9 364.5 359.6 365.3 358.2 366.1 358.3 366.9 359.2 367.7 358.3 368.5 358.2 369.3 357.8 370.1 357.4 370.9 358.3 371.7 357.3 372.5 357.9 373.3 358.4 374.1 357.8 374.9 357.4 375.7 357.8 376.5 357.8 377.3 357.4 378.1 357.8 378.9 357.2 379.7 357 380.5 357.7 381.3 357.3 382.1 357.9 382.9 358.3 383.7 358.6 384.5 359.5 385.3 358.4 386.1 358.8 386.9 359 387.7 359.1 388.5 360.9 389.3 360 390.1 360.7 390.9 361.2 391.7 362.8 392.5 362 393.3 362.3 394.1 363.7 394.9 363.3 395.7 363.1 396.5 365 397.3 365.4 398.1 364.8 398.9 365.3 399.7 366.4 400.5 366.4 401.3 366.7 402.1 367.3 402.9 369.2 403.7 369.4 404.5 369 405.3 370 406.1 370.7 406.9 371.2 407.7 372 408.5 373.5 409.3 373.1 410.1 373.8 410.9 374.8 411.7 375.3 412.5 376.1 413.3 376.9 414.1 377.3 414.9 379 415.7 378.9 416.5 380.5 417.3 380.2 418.1 380.9 418.9 382.1 419.7 382.6 420.5 383.7 421.3 384.4 422.1 385.8 422.9 384.2 423.7 385.7 424.5 386.9 425.3 387.5 426.1 388.3 426.9 390.1 427.7 388.7 428.5 390.7 429.3 391 430.1 391.8 430.9 392.9 431.7 393.1 432.5 394.2 433.3 395.1 434.1 395.8 434.9 395.2 435.7 396.4 436.5 396.8 437.3 397.7 438.1 398.7 438.9 400.3 439.7 399.9 440.5 400.7 441.3 401.5 442.1 402.9 442.9 402.7 443.7 403.8 444.5 404.7 445.3 405.3 446.1 405 446.9 405.9 447.7 407.4 448.5 407.2 449.3 408.5 450.1 408.7 450.9 410.1 451.7 410.7 452.5 410.8 453.3 412 454.1 412.4 454.9 413.2 455.7 414.6 456.5 414.9 457.3 415.6 458.1 416.7 458.9 416.8 459.7 417.9 460.5 418.1 461.3 418.7 462.1 419.1 462.9 419.6 463.7 420.1 464.5 420.8 465.3 422 466.1 422.6 466.9 422.7 467.7 424.1 468.5 424.1 469.3 424.8 470.1 425.1 470.9 426 471.7 427.2 472.5 427.7 473.3 428 474.1 429.3 474.9 429.5 475.7 430.2 476.5 431.2 477.3 431.6 478.1 432 478.9 432.3 479.7 433.8 480.5 433.1 481.3 434.3 482.1 434.5 482.9 435.5 483.7 436.5 484.5 436.7 485.3 437.2 486.1 437.9 486.9 439.1 487.7 439.4 488.5 439.6 489.3 439.9 490.1 440.5 490.9 441.3 491.7 441.7 492.5 442.3 493.3 442.5 494.1 443 494.9 443.6 495.7 444.6 496.5 444.8 497.3 446.5 498.1 446.5 498.9 447.1 499.7 447.7 500.5 447.7 501.3 448.2 502.1 449 502.9 449.8 503.7 450.4 504.5 451.2 505.3 451.7 506.1 452.1 506.9 452.6 507.7 452.9 508.5 453.6 509.3 453.7 510.1 454.2 510.9 455.1 511.7 454.8 512.5 456.2 513.3 456.8 514.1 456.6 514.9 457.4 515.7 457.7 516.5 457.8 517.3 458.6 518.1 459.1 518.9 459.6 519.7 459.7 520.5 460.2 521.3 460.4 522.1 461.2 522.9 461.3 523.7 461.9 524.5 461.9 525.3 462.4 526.1 462.5 526.9 462.9 527.7 463.7 528.5 463.7 529.3 464.1 530.1 464.6 530.9 464.6 531.7 465.6 532.5 465.2 533.3 465.6 534.1 466.6 534.9 465.9 535.7 467.1 536.5 467 537.3 467.4 538.1 467.3 538.9 467.9 539.7 467.8 540.5 468.6 541.3 468.6 542.1 468.8 542.9 469.1 543.7 469.4 544.5 470 545.3 470.1 546.1 470.1 546.9 470.3 547.7 470.6 548.5 471.2 549.3 471.4 550.1 471.3 550.9 471.4 551.7 472 552.5 472.2 553.3 472.7 554.1 472.7 554.9 473.1 555.7 473.4 556.5 473.7 557.3 473.6 558.1 474.1 558.9 474 559.7 474.1 560.5 474.6 561.3 475 562.1 475.3 562.9 475.2 563.7 475 564.5 475.7 565.3 475.7 566.1 476.1 566.9 476.4 567.7 476.3 568.5 476.4 569.3 476.6 570.1 476.8 570.9 476.9 571.7 477.3 572.5 477.3 573.3 477.5 574.1 477.7 574.9 477.8 575.7 478.2 576.5 478.1 577.3 478.4 578.1 478.7 578.9 478.6 579.7 478.5 580.5 478.8 581.3 479 582.1 479.3 582.9 479.7 583.7 479.5 584.5 479.6 585.3 480 586.1 479.7 586.9 480 587.7 480.2 588.5 480.2 589.3 480.3 590.1 480.5 590.9 480.9 591.7 480.8 592.5 480.7 593.3 481 594.1 481.2 594.9 481.5 595.7 481.4 596.5 481.4 597.3 481.8 598.1 481.8 598.9 481.7 599.7 481.7 600.5 481.9 601.3 482.2 602.1 481.9 602.9 481.9 603.7 482.4 604.5 482.1 605.3 482.3 606.1 482.5 606.9 482.6 607.7 482.8 608.5 482.9 609.3 483 610.1 483 610.9 482.9 611.7 482.6 612.5 483.4 613.3 483.4 614.1 483.4 614.9 483.4 615.7 483.3 616.5 483.6 617.3 483.6 618.1 483.4 618.9 483.9 619.7 483.6 620.5 483.8 621.3 484.2 622.1 483.9 622.9 484.1 623.7 484.3 624.5 484.2 625.3 484 626.1 484.2 626.9 484.4 627.7 484.2 628.5 484.7 629.3 484.6 630.1 484.7 630.9 484.7 631.7 484.8 632.5 484.7 633.3 484.6 634.1 485 634.9 485 635.7 485.3 636.5 484.9 637.3 485.1 638.1 485.5 638.9 485 639.7 485.1 640.5 485.4 641.3 485.7 642.1 485.3 642.9 485.5 643.7 485.5 644.5 485.5 645.3 485.6 646.1 485.9 646.9 485.8 647.7 485.6 648.5 485.8 649.3 485.9 650.1 485.7 650.9 485.9 651.7 486 652.5 485.8 653.3 486.4 654.1 485.9 654.9 486.2 655.7 486.2 656.5 486.2 657.3 486.5 658.1 486.4 658.9 486.3 659.7 486.6 660.5 486.6 661.3 486.4 662.1 486.3 662.9 486.7 663.7 486.6 664.5 486.4 665.3 486.8 666.1 486.5 666.9 486.6 667.7 486.6 668.5 486.5 669.3 486.9 670.1 487.4 670.9 487 671.7 487 672.5 486.9 673.3 486.9 674.1 487 674.9 487.1 675.7 487 676.5 487.1 677.3 487 678.1 487.2 678.9 487.3 679.7 487.3 680.5 487.1 681.3 487.1 682.1 487.3 682.9 487.2 683.7 487.2 684.5 487.3 685.3 487.3 686.1 487.4 686.9 487.1 687.7 487.4 688.5 487.2 689.3 487.4 690.1 487.1 690.9 487.3 691.7 487.2 692.5 487.6 693.3 487.2 694.1 487.5 694.9 487.2 695.7 487.2 696.5 487.4 697.3 487.5 698.1 487.4 698.9 487.5 699.7 487.4 700.5 487.4 701.3 487.6 702.1 487.4 702.9 487.5 703.7 487.3 704.5 487.4 705.3 487.6 706.1 487.4 706.9 487.2 707.7 487.5 708.5 487.5 709.3 487.4 710.1 487.5 710.9 487.4 711.7 487.5 712.5 487.6 713.3 487.5 714.1 487.5 714.9 487.4 715.7 487.5 716.5 487.4 717.3 487.6 718.1 487.4 718.9 487.4 719.7 487.5 720.5 487.5 721.3 487.5 722.1 487.5 722.9 488.6"/>
<path id="ca50" d="M232.5 576.9 233.3 576.7 234.1 576.7 234.9 576.8 235.7 576.8 236.5 576.7 237.3 576.7 238.1 576.7 238.9 576.8 239.7 576.8 240.5 576.8 241.3 576.7 242.1 576.8 242.9 576.8 243.7 576.8 244.5 576.7 245.3 576.8 246.1 576.7 246.9 576.8 247.7 576.7 248.5 576.7 249.3 576.7 250.1 576.6 250.9 576.7 251.7 576.7 252.5 576.7 253.3 576.7 254.1 576.7 254.9 576.6 255.7 576.7 256.5 576.6 257.3 576.7 258.1 576.6 258.9 576.7 259.7 576.6 260.5 576.6 261.3 576.5 262.1 576.6 262.9 576.7 263.7 576.5 264.5 576.6 265.3 576.6 266.1 576.5 266.9 576.6 267.7 576.6 268.5 576.6 269.3 576.6 270.1 576.6 270.9 576.5 271.7 576.6 272.5 576.4 273.3 576.4 274.1 576.6 274.9 576.6 275.7 576.5 276.5 576.3 277.3 576.4 278.1 576.3 278.9 576.5 279.7 576.3 280.5 576.3 281.3 576.3 282.1 576.4 282.9 576.3 283.7 576.3 284.5 576.3 285.3 576.2 286.1 575.8 286.9 575.3 287.7 575.1 288.5 574.1 289.3 573.5 290.1 572.6 290.9 571.4 291.7 569.8 292.5 568.5 293.3 566.3 294.1 565 294.9 562.8 295.7 561 296.5 558.8 297.3 556.7 298.1 554.7 298.9 552.6 299.7 550.5 300.5 548.4 301.3 546.7 302.1 544.9 302.9 543.1 303.7 540.8 304.5 538.6 305.3 536.9 306.1 535.4 306.9 533 307.7 531.4 308.5 529.5 309.3 527.7 310.1 525.8 310.9 524.7 311.7 522.7 312.5 521.1 313.3 520.2 314.1 519.1 314.9 517.9 315.7 516.9 316.5 515.5 317.3 514.6 318.1 514.2 318.9 513.7 319.7 511.3 320.5 512 321.3 511.1 322.1 510.4 322.9 509.7 323.7 509.2 324.5 508.6 325.3 508.7 326.1 507.9 326.9 507.8 327.7 507.1 328.5 507.7 329.3 507.2 330.1 506.3 330.9 506.6 331.7 506 332.5 505.6 333.3 505.7 334.1 505.7 334.9 505.6 335.7 504.9 336.5 504.9 337.3 504.4 338.1 504.2 338.9 504 339.7 502.9 340.5 502.9 341.3 503.3 342.1 502 342.9 501.9 343.7 502.5 344.5 501.1 345.3 501.2 346.1 500.8 346.9 500.2 347.7 500.2 348.5 499.7 349.3 498.6 350.1 499 350.9 497.5 351.7 497.1 352.5 496.6 353.3 496.2 354.1 495.2 354.9 495.1 355.7 493.7 356.5 493.7 357.3 493 358.1 492.5 358.9 492.2 359.7 491.7 360.5 490.7 361.3 490.4 362.1 489.2 362.9 489 363.7 488.8 364.5 487.6 365.3 487.1 366.1 486.5 366.9 486.2 367.7 485.3 368.5 484.4 369.3 483.4 370.1 483.1 370.9 481.2 371.7 481.8 372.5 480.6 373.3 480.4 374.1 479.4 374.9 479.3 375.7 477.8 376.5 476.6 377.3 476.7 378.1 475.8 378.9 475.2 379.7 475 380.5 473.5 381.3 473.4 382.1 472.8 382.9 472.2 383.7 470.2 384.5 470.4 385.3 469.4 386.1 468.9 386.9 467.9 387.7 467.4 388.5 467.3 389.3 466.9 390.1 465.8 390.9 464.3 391.7 464.7 392.5 462.9 393.3 462.6 394.1 462.5 394.9 461 395.7 460.8 396.5 459.6 397.3 458.4 398.1 458.2 398.9 457.1 399.7 457.3 400.5 456.5 401.3 455.6 402.1 453.6 402.9 454.1 403.7 452.6 404.5 451.9 405.3 450.9 406.1 449.8 406.9 449.2 407.7 448.7 408.5 448.1 409.3 446.8 410.1 445.7 410.9 444.6 411.7 443.9 412.5 444 413.3 442.8 414.1 441.9 414.9 440.5 415.7 439.9 416.5 440.4 417.3 439.9 418.1 439.6 418.9 438.7 419.7 437.8 420.5 436.9 421.3 436.9 422.1 436 422.9 437 423.7 436.8 424.5 437 425.3 435.4 426.1 435.4 426.9 436.2 427.7 435.9 428.5 434.7 429.3 435.2 430.1 435.5 430.9 435.2 431.7 435.5 432.5 435.2 433.3 434.9 434.1 435.3 434.9 435 435.7 435.6 436.5 434.3 437.3 434.9 438.1 434.7 438.9 434.9 439.7 435.3 440.5 435.6 441.3 434.4 442.1 436.1 442.9 436 443.7 436.2 444.5 436.2 445.3 436.8 446.1 436.8 446.9 436 447.7 436.9 448.5 437.4 449.3 437.7 450.1 438.1 450.9 439 451.7 438.6 452.5 439.2 453.3 439.5 454.1 440.4 454.9 441.1 455.7 441 456.5 442.1 457.3 442.2 458.1 443.7 458.9 442.6 459.7 444.2 460.5 445.3 461.3 445.2 462.1 445.5 462.9 446.2 463.7 447.5 464.5 447.7 465.3 449.1 466.1 449.3 466.9 449.8 467.7 450.6 468.5 451.7 469.3 452.7 470.1 452.6 470.9 453.1 471.7 453.9 472.5 455.3 473.3 456.6 474.1 456.3 474.9 457.5 475.7 457.7 476.5 458.9 477.3 458.6 478.1 460.2 478.9 460 479.7 461 480.5 462.2 481.3 462.7 482.1 463.5 482.9 464.5 483.7 465.1 484.5 466.4 485.3 466.9 486.1 467 486.9 468.1 487.7 468.7 488.5 469.6 489.3 471.3 490.1 471 490.9 472.7 491.7 473.7 492.5 475 493.3 474.8 494.1 475.7 494.9 476.7 495.7 477.3 496.5 479.1 497.3 480.1 498.1 479.3 498.9 481 499.7 482.5 500.5 482.6 501.3 483.6 502.1 484.7 502.9 485.6 503.7 486.3 504.5 487.2 505.3 488.7 506.1 487.9 506.9 489.4 507.7 490 508.5 491.3 509.3 491.8 510.1 492.9 510.9 493.6 511.7 495.2 512.5 494.6 513.3 495.8 514.1 497.1 514.9 497.4 515.7 498.5 516.5 498.7 517.3 500.3 518.1 500.8 518.9 501.9 519.7 502.2 520.5 503.1 521.3 503.7 522.1 505.4 522.9 504.8 523.7 506.3 524.5 506.9 525.3 508 526.1 508.3 526.9 508.4 527.7 509.6 528.5 509.4 529.3 511.1 530.1 511.3 530.9 511.6 531.7 512.3 532.5 513.3 533.3 513.2 534.1 515 534.9 514.8 535.7 516.2 536.5 516.4 537.3 517.6 538.1 517.2 538.9 518.5 539.7 518.9 540.5 519.3 541.3 520.4 542.1 520.7 542.9 521.2 543.7 522 544.5 522.5 545.3 523.3 546.1 524 546.9 525 547.7 525.2 548.5 525.7 549.3 526.8 550.1 527.1 550.9 527.6 551.7 528.1 552.5 529.8 553.3 529.8 554.1 531 554.9 530.8 555.7 531.4 556.5 533 557.3 533 558.1 533.6 558.9 534.2 559.7 534.6 560.5 535.8 561.3 535.7 562.1 536.9 562.9 537 563.7 538.7 564.5 538.7 565.3 539.4 566.1 539.1 566.9 540.3 567.7 540.6 568.5 541.1 569.3 541.6 570.1 542.6 570.9 542.9 571.7 543.2 572.5 543.7 573.3 544.1 574.1 544.6 574.9 545.1 575.7 545.3 576.5 545.8 577.3 545.8 578.1 546.8 578.9 547.4 579.7 547.5 580.5 548.4 581.3 548.2 582.1 548.8 582.9 549.4 583.7 549.6 584.5 549.6 585.3 550.3 586.1 550.4 586.9 551.2 587.7 551.4 588.5 551.5 589.3 552 590.1 552.7 590.9 552.8 591.7 553.1 592.5 553.1 593.3 553.3 594.1 553.6 594.9 554.3 595.7 554.1 596.5 554.8 597.3 555.4 598.1 554.9 598.9 555.7 599.7 555.6 600.5 556.2 601.3 556.6 602.1 556.6 602.9 556.8 603.7 557.3 604.5 557.7 605.3 557.9 606.1 558 606.9 558.7 607.7 558.5 608.5 558.7 609.3 559.4 610.1 560.1 610.9 559.7 611.7 560.1 612.5 560.1 613.3 560.4 614.1 560.5 614.9 561.1 615.7 561.1 616.5 561.3 617.3 561.9 618.1 561.6 618.9 562.3 619.7 562.3 620.5 562.3 621.3 562.7 622.1 562.9 622.9 563.2 623.7 563.3 624.5 564 625.3 564 626.1 564.2 626.9 563.9 627.7 564.3 628.5 564.8 629.3 564.9 630.1 565 630.9 565.1 631.7 565.5 632.5 565.1 633.3 565.5 634.1 565.6 634.9 566.3 635.7 565.9 636.5 566.3 637.3 566.8 638.1 566.6 638.9 566.8 639.7 566.9 640.5 567.2 641.3 567.7 642.1 567.1 642.9 567.5 643.7 568 644.5 568.2 645.3 567.9 646.1 568.3 646.9 568.3 647.7 568.4 648.5 568.2 649.3 568.3 650.1 568.8 650.9 568.9 651.7 569.1 652.5 569 653.3 569.7 654.1 569.5 654.9 570.2 655.7 569.8 656.5 570 657.3 570.3 658.1 570.2 658.9 570.2 659.7 570.4 660.5 570.6 661.3 570.6 662.1 571.2 662.9 570.8 663.7 571.2 664.5 571.3 665.3 571.3 666.1 571.1 666.9 571.5 667.7 571.7 668.5 571.7 669.3 571.7 670.1 571.4 670.9 571.7 671.7 571.9 672.5 572.1 673.3 572.3 674.1 572.2 674.9 572.4 675.7 572.2 676.5 572.6 677.3 572.7 678.1 572.6 678.9 572.9 679.7 572.7 680.5 572.8 681.3 572.9 682.1 573.4 682.9 572.8 683.7 573.2 684.5 573.2 685.3 573.3 686.1 573.1 686.9 573.6 687.7 573.6 688.5 573.5 689.3 573.6 690.1 573.7 690.9 573.9 691.7 573.6 692.5 574.1 693.3 573.9 694.1 574.1 694.9 573.9 695.7 574.4 696.5 574.2 697.3 574.5 698.1 574.2 698.9 574.2 699.7 574.6 700.5 574.6 701.3 574.6 702.1 574.8 702.9 574.7 703.7 574.6 704.5 574.4 705.3 574.4 706.1 574.9 706.9 574.9 707.7 574.8 708.5 575 709.3 575 710.1 575 710.9 575.2 711.7 574.9 712.5 575.2 713.3 575.3 714.1 575.2 714.9 575.3 715.7 575.1 716.5 575.4 717.3 575.5 718.1 575.5 718.9 575.3 719.7 575.6 720.5 575.6 721.3 575.6 722.1 575.6 722.9 575.7 723.7 575.7 724.5 576 725.3 575.7 726.1 575.9 726.9 575.8 727.7 575.6 728.5 575.9 729.3 576 730.1 576 730.9 576 731.7 575.8 732.5 576 733.3 575.8 734.1 576.2 734.9 576.2 735.7 575.9 736.5 576 737.3 575.9 738.1 576 738.9 576.1 739.7 576 740.5 576.1 741.3 576.2 742.1 576.2 742.9 576.3 743.7 576.2 744.5 576.3 745.3 576.2 746.1 576.4 746.9 576.2 747.7 576.3 748.5 576.3 749.3 576.4 750.1 576.3 750.9 576.5 751.7 576.6 752.5 576.5 753.3 576.3 754.1 576.5 754.9 576.5 755.7 576.5 756.5 576.5 757.3 576.6 758.1 576.6 758.9 576.5 759.7 576.4 760.5 576.5 761.3 576.6 762.1 576.4 762.9 576.5 763.7 576.4 764.5 576.6 765.3 576.6 766.1 576.6 766.9 576.5 767.7 576.6 768.5 576.6 769.3 576.6 770.1 576.6 770.9 576.6 771.7 576.4 772.5 576.5 773.3 576.5 774.1 576.5 774.9 576.4 775.7 576.5 776.5 576.5 777.3 576.5 778.1 576.5 778.9 576.4 779.7 576.4 780.5 576.5 781.3 576.4 782.1 576.5 782.9 576.4 783.7 576.5 784.5 576.6 785.3 576.5 786.1 576.5 786.9 576.6 787.7 576.5 788.5 576.5 789.3 576.5 790.1 576.7 790.9 576.5 791.7 576.6 792.5 576.5 793.3 576.6 794.1 576.6 794.9 576.4 795.7 576.5 796.5 576.6 797.3 576.6 798.1 576.5 798.9 576.9"/>
<path id="cb1" d="M1000 228.4 1000.8 228.2 1001.6 228.2 1002.4 227.8 1003.2 228.2 1004 227.8 1004.8 227.8 1005.6 227.9 1006.4 227.7 1007.2 228.2 1008 227.9 1008.8 227.7 1009.6 227.9 1010.4 228 1011.2 227.7 1012 227.7 1012.8 228.1 1013.6 228.2 1014.4 227.6 1015.2 228.1 1016 228.3 1016.8 228.4 1017.6 227.9 1018.4 227.7 1019.2 227.8 1020 227.6 1020.8 227.7 1021.6 227.6 1022.4 227.7 1023.2 227.6 1024 227.7 1024.8 227.8 1025.6 227.7 1026.4 227.5 1027.2 228.3 1028 228.3 1028.8 228.1 1029.6 227.5 1030.4 227.9 1031.2 227.7 1032 227.9 1032.8 227.8 1033.6 228.7 1034.4 228 1035.2 227.2 1036 227.9 1036.8 228.1 1037.6 228.3 1038.4 225.7 1039.2 225.6 1040 225.5 1040.8 224.7 1041.6 225.4 1042.4 225.8 1043.2 226.1 1044 225.8 1044.8 224.8 1045.6 225.4 1046.4 224.4 1047.2 221.5 1048 222.2 1048.8 221.9 1049.6 222.5 1050.4 222 1051.2 221.8 1052 223 1052.8 221.7 1053.6 220.8 1054.4 221.7 1055.2 222.3 1056 221.9 1056.8 221.8 1057.6 221.3 1058.4 220.5 1059.2 220.7 1060 220.5 1060.8 222.2 1061.6 221.6 1062.4 222.7 1063.2 221.8 1064 220.9 1064.8 221.4 1065.6 221.6 1066.4 222.5 1067.2 220.1 1068 220.5 1068.8 221.3 1069.6 220.6 1070.4 221 1071.2 220.8 1072 222 1072.8 222.3 1073.6 219.6 1074.4 219.1 1075.2 219.4 1076 220.1 1076.8 220.1 1077.6 219.8 1078.4 220.5 1079.2 220.9 1080 220.4 1080.8 219.7 1081.6 219.7 1082.4 218.8 1083.2 219.7 1084 219.9 1084.8 218.3 1085.6 219.5 1086.4 218.5 1087.2 218.6 1088 217.8 1088.8 217.1 1089.6 217.4 1090.4 215.8 1091.2 215.7 1092 214.6 1092.8 215.4 1093.6 214.9 1094.4 214.4 1095.2 213.9 1096 214.5 1096.8 214.2 1097.6 213.5 1098.4 212.8 1099.2 214.4 1100 214.6 1100.8 212 1101.6 213.1 1102.4 212.6 1103.2 212.1 1104 211.8 1104.8 209.8 1105.6 212.5 1106.4 212.8 1107.2 210.9 1108 210 1108.8 209.6 1109.6 208.5 1110.4 209 1111.2 208.4 1112 207 1112.8 206.8 1113.6 206.4 1114.4 206.1 1115.2 206 1116 206.6 1116.8 205.6 1117.6 203.9 1118.4 206 1119.2 204.5 1120 205.7 1120.8 204.7 1121.6 204.3 1122.4 202.6 1123.2 202.6 1124 201.8 1124.8 201.5 1125.6 201.6 1126.4 200.4 1127.2 200.8 1128 198.4 1128.8 197.5 1129.6 198.3 1130.4 198.3 1131.2 198.5 1132 198.8 1132.8 197.4 1133.6 196.9 1134.4 195.9 1135.2 195.2 1136 194.4 1136.8 194.1 1137.6 192.9 1138.4 192.6 1139.2 193 1140 192.3 1140.8 192 1141.6 189.1 1142.4 186.9 1143.2 185.4 1144 181.7 1144.8 177.8 1145.6 174.8 1146.4 168.8 1147.2 163.9 1148 155.9 1148.8 145.9 1149.6 135.3 1150.4 129 1151.2 119.1 1152 109 1152.8 99.5 1153.6 91.3 1154.4 85.7 1155.2 84 1156 77.9 1156.8 75.8 1157.6 74.2 1158.4 68.1 1159.2 69 1160 72.3 1160.8 69 1161.6 72.5 1162.4 71.6 1163.2 67.9 1164 69.8 1164.8 64.9 1165.6 64.1 1166.4 61.1 1167.2 60.2 1168 66 1168.8 71.2 1169.6 72.7 1170.4 70.3 1171.2 73 1172 71.6 1172.8 72 1173.6 75 1174.4 71.6 1175.2 76.3 1176 71.4 1176.8 69.5 1177.6 69.2 1178.4 63.9 1179.2 58.6 1180 51.2 1180.8 46.6 1181.6 40.1 1182.4 33.4 1183.2 26.1 1184 20.7 1184.8 21 1185.6 16.7 1186.4 17.7 1187.2 20.4 1188 21.6 1188.8 20.2 1189.6 16.2 1190.4 20.4 1191.2 23.5 1192 25.2 1192.8 30 1193.6 33.2 1194.4 31.1 1195.2 34.1 1196 35.9 1196.8 41.3 1197.6 44 1198.4 45.2 1199.2 48.7 1200 52.8 1200.8 53.8 1201.6 56.8 1202.4 59.3 1203.2 61.1 1204 63.1 1204.8 66 1205.6 65.8 1206.4 67.4 1207.2 72.4 1208 76.5 1208.8 79.7 1209.6 76 1210.4 78.6 1211.2 78.1 1212 78.7 1212.8 79.8 1213.6 81.4 1214.4 82.5 1215.2 78.6 1216 80.3 1216.8 83.8 1217.6 83.8 1218.4 81.5 1219.2 81.9 1220 82.6 1220.8 85.8 1221.6 88.3 1222.4 85.2 1223.2 86.9 1224 86.8 1224.8 88.9 1225.6 89.6 1226.4 90.1 1227.2 92.5 1228 95 1228.8 100.4 1229.6 100.2 1230.4 103.3 1231.2 103.6 1232 105.2 1232.8 108.3 1233.6 109.7 1234.4 115.4 1235.2 118.2 1236 117.8 1236.8 122 1237.6 126.7 1238.4 126.4 1239.2 128.9 1240 133.7 1240.8 133.6 1241.6 136.8 1242.4 138.2 1243.2 140.3 1244 140.5 1244.8 142.9 1245.6 144.3 1246.4 148.6 1247.2 149.6 1248 150.1 1248.8 151 1249.6 153 1250.4 151.7 1251.2 152.7 1252 154 1252.8 155.4 1253.6 155.6 1254.4 159.1 1255.2 159.8 1256 162.9 1256.8 163 1257.6 163.4 1258.4 165.2 1259.2 166.4 1260 166.6 1260.8 168.3 1261.6 170.2 1262.4 169.3 1263.2 171.6 1264 171.1 1264.8 172.7 1265.6 172.7 1266.4 172.8 1267.2 174.1 1268 173.5 1268.8 173.4 1269.6 175.7 1270.4 176.8 1271.2 176.9 1272 181.1 1272.8 181.3 1273.6 180.7 1274.4 182.6 1275.2 183.9 1276 184 1276.8 185.1 1277.6 184.6 1278.4 187.7 1279.2 191.4 1280 192.7 1280.8 193.7 1281.6 192.8 1282.4 192.2 1283.2 194 1284 194 1284.8 193.5 1285.6 193.2 1286.4 194.4 1287.2 194.5 1288 193.4 1288.8 193.5 1289.6 192.5 1290.4 193.3 1291.2 196.2 1292 197 1292.8 197.7 1293.6 199.8 1294.4 202.3 1295.2 201.6 1296 202.2 1296.8 202.9 1297.6 206.2 1298.4 206.4 1299.2 206.1 1300 204.8 1300.8 206.7 1301.6 207.4 1302.4 207.1 1303.2 206.6 1304 206.8 1304.8 205.9 1305.6 206.8 1306.4 207.1 1307.2 206.8 1308 207.3 1308.8 206.4 1309.6 208.8 1310.4 208.5 1311.2 207.7 1312 209.7 1312.8 210.7 1313.6 210.6 1314.4 210.5 1315.2 212.1 1316 213.7 1316.8 214.8 1317.6 215.6 1318.4 216 1319.2 214.2 1320 215 1320.8 213.6 1321.6 215.7 1322.4 215.9 1323.2 216.6 1324 216.1 1324.8 216 1325.6 215.6 1326.4 213.8 1327.2 215.6 1328 218.9 1328.8 219.3 1329.6 218.5 1330.4 219 1331.2 219.5 1332 219.1 1332.8 219.6 1333.6 220.2 1334.4 219.8 1335.2 220.6 1336 221.6 1336.8 221.7 1337.6 221.4 1338.4 221 1339.2 221.6 1340 220.8 1340.8 220.5 1341.6 221.8 1342.4 220.9 1343.2 219.6 1344 220.8 1344.8 221 1345.6 221.3 1346.4 220.3 1347.2 220.9 1348 220.1 1348.8 219.2 1349.6 219.7 1350.4 220.5 1351.2 219.9 1352 220.7 1352.8 221.6 1353.6 221.6 1354.4 222.1 1355.2 222.3 1356 221.7 1356.8 222.3 1357.6 222.7 1358.4 220.7 1359.2 221 1360 222.1 1360.8 222.2 1361.6 220.2 1362.4 221.2 1363.2 222.3 1364 222.3 1364.8 222.1 1365.6 221.4 1366.4 221.4 1367.2 220.7 1368 221.7 1368.8 224.3 1369.6 223.7 1370.4 223.3 1371.2 224.5 1372 223.2 1372.8 226.1 1373.6 225.8 1374.4 224.8 1375.2 224.2 1376 223.4 1376.8 223.6 1377.6 223.3 1378.4 221.8 1379.2 223 1380 222.3 1380.8 221.5 1381.6 222.9 1382.4 223.3 1383.2 222.6 1384 222.4 1384.8 223.8 1385.6 223.4 1386.4 223.8 1387.2 225.1 1388 223.7 1388.8 223.2 1389.6 223.6 1390.4 224.1 1391.2 224.8 1392 225.8 1392.8 225.2 1393.6 226.6 1394.4 226.2 1395.2 224.5 1396 225.4 1396.8 226.3 1397.6 226.9 1398.4 225.9 1399.2 226 1400 227.7 1400.8 226.9 1401.6 225.8 1402.4 224.9 1403.2 225.3 1404 225.9 1404.8 225 1405.6 226.3 1406.4 225.2 1407.2 223.9 1408 225.2 1408.8 225.1 1409.6 224.9 1410.4 225.9 1411.2 224.9 1412 225.5 1412.8 224.9 1413.6 226.4 1414.4 225.9 1415.2 225.9 1416 226.4 1416.8 228.4"/>
<path id="cb3" d="M1023.8 282.5 1024.5 282.5 1025.3 282.5 1026.1 282.5 1026.9 282.5 1027.7 282.5 1028.5 282.5 1029.3 282.5 1030.1 282.5 1030.9 282.4 1031.7 282.5 1032.5 282.5 1033.3 282.6 1034.1 282.5 1034.9 282.5 1035.7 282.6 1036.5 282.5 1037.3 282.3 1038.1 282.4 1038.9 282.4 1039.7 282.4 1040.5 282.4 1041.3 282.3 1042.1 282.2 1042.9 282.3 1043.7 282.5 1044.5 282.3 1045.3 282.4 1046.1 282.3 1046.9 282.3 1047.7 282.2 1048.5 282.4 1049.3 282.2 1050.1 282.2 1050.9 282.4 1051.7 282.3 1052.5 282 1053.3 282.2 1054.1 282.1 1054.9 281.9 1055.7 282 1056.5 282 1057.3 282.2 1058.1 282 1058.9 282 1059.7 282.2 1060.5 281.5 1061.3 282 1062.1 281.9 1062.9 281.3 1063.7 281.5 1064.5 281.9 1065.3 281 1066.1 280.5 1066.9 281.5 1067.7 281.9 1068.5 282.1 1069.3 280.7 1070.1 279.3 1070.9 278.6 1071.7 278.7 1072.5 278 1073.3 278.7 1074.1 279.3 1074.9 277.7 1075.7 278.9 1076.5 277.4 1077.3 276.9 1078.1 276.1 1078.9 277.3 1079.7 277 1080.5 276.9 1081.3 274.6 1082.1 275.5 1082.9 276.4 1083.7 274.4 1084.5 277.2 1085.3 276.9 1086.1 277.3 1086.9 276.4 1087.7 276.9 1088.5 277.4 1089.3 278.5 1090.1 276 1090.9 277.6 1091.7 275.6 1092.5 275.8 1093.3 275.5 1094.1 275.4 1094.9 274 1095.7 274.8 1096.5 274.2 1097.3 274.8 1098.1 275.3 1098.9 275.3 1099.7 275 1100.5 276.1 1101.3 275.5 1102.1 275.5 1102.9 276 1103.7 275 1104.5 274.6 1105.3 274.9 1106.1 274.1 1106.9 275 1107.7 273.7 1108.5 273.5 1109.3 273.4 1110.1 273.1 1110.9 273.1 1111.7 272.6 1112.5 270.8 1113.3 273 1114.1 272.3 1114.9 272.9 1115.7 271.5 1116.5 272.3 1117.3 270.9 1118.1 272.6 1118.9 271.7 1119.7 271.1 1120.5 268.7 1121.3 268.2 1122.1 269.4 1122.9 269.6 1123.7 269.6 1124.5 269.5 1125.3 270.6 1126.1 269.7 1126.9 269.3 1127.7 268.7 1128.5 268.1 1129.3 269 1130.1 268.5 1130.9 268.2 1131.7 268.6 1132.5 268.4 1133.3 268.8 1134.1 268.7 1134.9 266.8 1135.7 266.4 1136.5 267.7 1137.3 266.8 1138.1 267.3 1138.9 265.9 1139.7 263.9 1140.5 263.3 1141.3 264.2 1142.1 264.7 1142.9 267.2 1143.7 266.4 1144.5 266 1145.3 265.9 1146.1 263.4 1146.9 263.8 1147.7 263.7 1148.5 265.4 1149.3 263.3 1150.1 261.7 1150.9 262.4 1151.7 262.2 1152.5 262.2 1153.3 262.1 1154.1 261.8 1154.9 260.8 1155.7 260.4 1156.5 262.6 1157.3 260.4 1158.1 260.5 1158.9 258.8 1159.7 257.3 1160.5 259 1161.3 258.7 1162.1 259.3 1162.9 259 1163.7 257.9 1164.5 256.2 1165.3 257.9 1166.1 256.3 1166.9 257.5 1167.7 256.2 1168.5 255.6 1169.3 254.7 1170.1 253.7 1170.9 252.2 1171.7 253.5 1172.5 250 1173.3 246.8 1174.1 245.7 1174.9 242.2 1175.7 240.3 1176.5 235.7 1177.3 231.6 1178.1 224.4 1178.9 216 1179.7 208.5 1180.5 201 1181.3 190.5 1182.1 181 1182.9 172.8 1183.7 165.5 1184.5 161 1185.3 155.3 1186.1 151.4 1186.9 146.9 1187.7 147.5 1188.5 147.5 1189.3 142.8 1190.1 141.9 1190.9 140.6 1191.7 140.3 1192.5 138.7 1193.3 136.8 1194.1 134.6 1194.9 134.5 1195.7 135 1196.5 137.1 1197.3 138.7 1198.1 139.6 1198.9 140.8 1199.7 140.4 1200.5 142.9 1201.3 142.7 1202.1 143 1202.9 143.2 1203.7 143 1204.5 143 1205.3 144.2 1206.1 144.9 1206.9 146.2 1207.7 147.8 1208.5 149.3 1209.3 143.8 1210.1 140.3 1210.9 140.9 1211.7 133.3 1212.5 125.2 1213.3 118.6 1214.1 113.2 1214.9 107.6 1215.7 108.7 1216.5 103.8 1217.3 103.1 1218.1 102.2 1218.9 102.4 1219.7 100.5 1220.5 98.5 1221.3 96.5 1222.1 97 1222.9 95.9 1223.7 95 1224.5 94.4 1225.3 96.1 1226.1 99.5 1226.9 99.1 1227.7 102.6 1228.5 104.6 1229.3 108 1230.1 107.4 1230.9 108 1231.7 111.2 1232.5 113.8 1233.3 113.2 1234.1 120.7 1234.9 123.3 1235.7 125.3 1236.5 125.7 1237.3 128.8 1238.1 130.1 1238.9 134.7 1239.7 136.5 1240.5 140.4 1241.3 140.5 1242.1 143.5 1242.9 147.1 1243.7 149 1244.5 153.7 1245.3 154.4 1246.1 153.2 1246.9 154.1 1247.7 157.2 1248.5 154.9 1249.3 155 1250.1 151.3 1250.9 151.3 1251.7 151.7 1252.5 151.8 1253.3 152.8 1254.1 154.6 1254.9 157.4 1255.7 155.4 1256.5 158.2 1257.3 160.8 1258.1 161.6 1258.9 163.7 1259.7 163.2 1260.5 163.2 1261.3 163.2 1262.1 166.3 1262.9 165 1263.7 166.6 1264.5 168.8 1265.3 171.7 1266.1 172.8 1266.9 173.7 1267.7 177.5 1268.5 177.9 1269.3 179.9 1270.1 180.1 1270.9 184.3 1271.7 187.1 1272.5 186.8 1273.3 190 1274.1 193.4 1274.9 194.2 1275.7 194.3 1276.5 197.5 1277.3 200.6 1278.1 199.8 1278.9 203.9 1279.7 205.3 1280.5 207.9 1281.3 207.4 1282.1 210.5 1282.9 211.6 1283.7 213.3 1284.5 213.7 1285.3 215.7 1286.1 215.6 1286.9 215.9 1287.7 216 1288.5 216 1289.3 218.6 1290.1 219.7 1290.9 220.9 1291.7 221.8 1292.5 223.4 1293.3 224.2 1294.1 224.4 1294.9 226.6 1295.7 229.5 1296.5 227.7 1297.3 228.2 1298.1 230.1 1298.9 230 1299.7 232.5 1300.5 232.2 1301.3 232.1 1302.1 233 1302.9 236.1 1303.7 234.4 1304.5 236.6 1305.3 235.5 1306.1 238.7 1306.9 240 1307.7 241.2 1308.5 243.7 1309.3 242.7 1310.1 244.1 1310.9 244.4 1311.7 245.4 1312.5 244.4 1313.3 246.3 1314.1 245.9 1314.9 248 1315.7 248.6 1316.5 248.2 1317.3 249 1318.1 249.5 1318.9 249.7 1319.7 252.5 1320.5 250.3 1321.3 249.3 1322.1 249.3 1322.9 250.7 1323.7 251.7 1324.5 253.2 1325.3 254.3 1326.1 254.4 1326.9 254.7 1327.7 254.1 1328.5 256.2 1329.3 257.6 1330.1 257.1 1330.9 258.1 1331.7 257.6 1332.5 258.4 1333.3 259.2 1334.1 260.6 1334.9 259.4 1335.7 260.8 1336.5 262.6 1337.3 263.3 1338.1 264.3 1338.9 262.4 1339.7 263.7 1340.5 265.1 1341.3 265.7 1342.1 264.9 1342.9 268 1343.7 268.7 1344.5 267.3 1345.3 268.2 1346.1 269.1 1346.9 270.3 1347.7 270.6 1348.5 269.4 1349.3 269.4 1350.1 270.2 1350.9 271.3 1351.7 270.5 1352.5 270.2 1353.3 271.3 1354.1 271.4 1354.9 272.6 1355.7 272.5 1356.5 273.2 1357.3 271.2 1358.1 271.3 1358.9 271.4 1359.7 272.4 1360.5 273.8 1361.3 274 1362.1 274.9 1362.9 274.3 1363.7 275.6 1364.5 275.9 1365.3 274 1366.1 273.7 1366.9 273.9 1367.7 275.1 1368.5 275.3 1369.3 276.2 1370.1 273.7 1370.9 274.1 1371.7 274 1372.5 273.7 1373.3 273.6 1374.1 272 1374.9 273.4 1375.7 273.4 1376.5 272.9 1377.3 275.1 1378.1 274.5 1378.9 275.3 1379.7 275.1 1380.5 274.7 1381.3 275.6 1382.1 276.8 1382.9 276.4 1383.7 277.5 1384.5 278.8 1385.3 278.8 1386.1 277.7 1386.9 276.8 1387.7 277.8 1388.5 276.3 1389.3 276 1390.1 277.9 1390.9 277.5 1391.7 277.4 1392.5 276.6 1393.3 278.8 1394.1 279.7 1394.9 277.4 1395.7 277.4 1396.5 276.5 1397.3 276.7 1398.1 277.6 1398.9 277.9 1399.7 276.9 1400.5 277.1 1401.3 279.3 1402.1 278.7 1402.9 279 1403.7 278.5 1404.5 278 1405.3 277.2 1406.1 277.2 1406.9 276.8 1407.7 277.2 1408.5 277.6 1409.3 279 1410.1 277.7 1410.9 278.9 1411.7 277.6 1412.5 280.6 1413.3 279.4 1414.1 279.5 1414.9 280.8 1415.7 279.9 1416.5 279.8 1417.3 279.9 1418.1 280.3 1418.9 279.7 1419.7 281.1 1420.5 281.2 1421.3 280.6 1422.1 281.1 1422.9 280.4 1423.7 279.8 1424.5 279.9 1425.3 280.4 1426.1 279.1 1426.9 279.5 1427.7 280.1 1428.5 279.2 1429.3 279.9 1430.1 279 1430.9 279.6 1431.7 279.6 1432.5 279.9 1433.3 279.2 1434.1 278 1434.9 277.1 1435.7 281.5 1436.5 279.3 1437.3 279 1438.1 278.4 1438.9 280.5 1439.7 280.8 1440.5 281.1 1441.3 279.9 1442.1 281.1 1442.9 280.3 1443.7 281.6 1444.5 281.1 1445.3 279.4 1446.1 280.4 1446.9 280.2 1447.7 282.4 1448.5 280.4 1449.3 280.1 1450.1 279.7 1450.9 278.8 1451.7 278.1 1452.5 278 1453.3 278 1454.1 277 1454.9 276.6 1455.7 276.4 1456.5 275.5 1457.3 275.9 1458.1 277.1 1458.9 279.4 1459.7 281 1460.5 281.8 1461.3 282.2 1462.1 281.7 1462.9 282.3 1463.7 282.5"/>
<path id="cb6" d="M1048.8 343 1049.5 342.4 1050.3 342.6 1051.1 342.4 1051.9 342.6 1052.7 342.4 1053.5 342.3 1054.3 342.5 1055.1 342.3 1055.9 342.7 1056.7 342.4 1057.5 342.3 1058.3 342.7 1059.1 342.1 1059.9 342.6 1060.7 342.5 1061.5 342.5 1062.3 342.5 1063.1 342.2 1063.9 342.8 1064.7 342.7 1065.5 342.7 1066.3 342.7 1067.1 342.8 1067.9 342.6 1068.7 342.1 1069.5 341.8 1070.3 341.7 1071.1 341.9 1071.9 342.5 1072.7 341.9 1073.5 342 1074.3 342.3 1075.1 342.1 1075.9 342.1 1076.7 341.7 1077.5 342 1078.3 341.9 1079.1 341.7 1079.9 341.8 1080.7 342.1 1081.5 342.5 1082.3 341.7 1083.1 342.1 1083.9 341.5 1084.7 340.9 1085.5 341.2 1086.3 341.7 1087.1 341.7 1087.9 341.9 1088.7 340.5 1089.5 342 1090.3 342.1 1091.1 342 1091.9 340.2 1092.7 341 1093.5 340.4 1094.3 340.1 1095.1 340.3 1095.9 339 1096.7 340.4 1097.5 340.7 1098.3 340.6 1099.1 340.8 1099.9 338.5 1100.7 338.6 1101.5 338.5 1102.3 337.6 1103.1 338.8 1103.9 340.4 1104.7 338.1 1105.5 338.5 1106.3 338.1 1107.1 338 1107.9 337.8 1108.7 338.2 1109.5 337.2 1110.3 337 1111.1 338.5 1111.9 337.7 1112.7 337.4 1113.5 335.9 1114.3 337.1 1115.1 337.6 1115.9 337.5 1116.7 338.4 1117.5 336 1118.3 337.3 1119.1 335.8 1119.9 335.7 1120.7 334.9 1121.5 336.8 1122.3 336.7 1123.1 336.4 1123.9 336.7 1124.7 335.1 1125.5 335.7 1126.3 336.5 1127.1 336.1 1127.9 336.4 1128.7 335.3 1129.5 336.2 1130.3 336.1 1131.1 336.5 1131.9 337.6 1132.7 336.8 1133.5 336 1134.3 336.4 1135.1 335.3 1135.9 337 1136.7 336.3 1137.5 335.9 1138.3 336 1139.1 334.5 1139.9 334.8 1140.7 334.5 1141.5 336.2 1142.3 336 1143.1 336 1143.9 334.4 1144.7 333.6 1145.5 333.9 1146.3 332.3 1147.1 331.3 1147.9 332.8 1148.7 332.2 1149.5 331.7 1150.3 329.4 1151.1 329.5 1151.9 329.2 1152.7 328.7 1153.5 329.2 1154.3 328.1 1155.1 327.3 1155.9 329.6 1156.7 328.9 1157.5 327.1 1158.3 329.1 1159.1 328.2 1159.9 327.6 1160.7 324.4 1161.5 326.9 1162.3 326.4 1163.1 327 1163.9 327.5 1164.7 324.7 1165.5 326.4 1166.3 325.9 1167.1 324.9 1167.9 322.2 1168.7 324.9 1169.5 324.2 1170.3 324.1 1171.1 322.2 1171.9 323 1172.7 323.1 1173.5 323.9 1174.3 321.7 1175.1 319.6 1175.9 320.2 1176.7 319.9 1177.5 320.8 1178.3 320.6 1179.1 320.7 1179.9 321.6 1180.7 322.2 1181.5 320.7 1182.3 318.4 1183.1 319 1183.9 318.8 1184.7 318.7 1185.5 318.4 1186.3 318.2 1187.1 315.9 1187.9 317.5 1188.7 317.8 1189.5 317.6 1190.3 316.8 1191.1 317.4 1191.9 314.8 1192.7 315.2 1193.5 315.8 1194.3 314.8 1195.1 314.6 1195.9 315.4 1196.7 314.2 1197.5 312.9 1198.3 312.6 1199.1 313.1 1199.9 311.7 1200.7 312.1 1201.5 311.6 1202.3 311.6 1203.1 312 1203.9 311.9 1204.7 310.7 1205.5 310.1 1206.3 309.7 1207.1 307.1 1207.9 306.1 1208.7 303.1 1209.5 303.2 1210.3 300.5 1211.1 296 1211.9 292.3 1212.7 289.3 1213.5 284.3 1214.3 277.1 1215.1 274.9 1215.9 268.2 1216.7 262 1217.5 255.1 1218.3 248.4 1219.1 241.1 1219.9 236.9 1220.7 231.9 1221.5 227.5 1222.3 225.8 1223.1 222.9 1223.9 218.7 1224.7 217.2 1225.5 218.5 1226.3 215.3 1227.1 218.9 1227.9 216.2 1228.7 219.5 1229.5 217.5 1230.3 213.8 1231.1 215.5 1231.9 215.5 1232.7 215 1233.5 215.8 1234.3 216.5 1235.1 212.5 1235.9 217.3 1236.7 218.1 1237.5 219.3 1238.3 221.2 1239.1 221.6 1239.9 221 1240.7 224.5 1241.5 224.9 1242.3 226.1 1243.1 225.2 1243.9 225.2 1244.7 223.2 1245.5 225 1246.3 220.7 1247.1 220.7 1247.9 215.3 1248.7 214.4 1249.5 210.4 1250.3 207.8 1251.1 203.3 1251.9 203 1252.7 202.6 1253.5 195.8 1254.3 194 1255.1 189.8 1255.9 187.3 1256.7 186.8 1257.5 187.1 1258.3 185.9 1259.1 183.3 1259.9 183.6 1260.7 179.8 1261.5 178.7 1262.3 179.9 1263.1 178.6 1263.9 184.3 1264.7 185.4 1265.5 186.9 1266.3 190.6 1267.1 191.9 1267.9 196.7 1268.7 198 1269.5 201.7 1270.3 203.9 1271.1 207.3 1271.9 206.7 1272.7 209.2 1273.5 209.1 1274.3 208.1 1275.1 212.7 1275.9 214.9 1276.7 216.4 1277.5 221.1 1278.3 222.5 1279.1 226.2 1279.9 230.6 1280.7 232.8 1281.5 231.6 1282.3 232.9 1283.1 233.4 1283.9 234.5 1284.7 233.9 1285.5 231.4 1286.3 233 1287.1 236.3 1287.9 234.3 1288.7 234.6 1289.5 236.3 1290.3 235.5 1291.1 234.2 1291.9 235.3 1292.7 235.5 1293.5 234.8 1294.3 235.5 1295.1 234.1 1295.9 233.3 1296.7 233.4 1297.5 234.5 1298.3 234.8 1299.1 234 1299.9 236.6 1300.7 239 1301.5 241.6 1302.3 246.3 1303.1 250 1303.9 251.2 1304.7 251.1 1305.5 253.9 1306.3 256.3 1307.1 257.1 1307.9 257.6 1308.7 259.2 1309.5 260.8 1310.3 259.5 1311.1 264.2 1311.9 264.8 1312.7 268.2 1313.5 267.8 1314.3 267.4 1315.1 270 1315.9 270.8 1316.7 272.7 1317.5 272.5 1318.3 273.1 1319.1 273.7 1319.9 274.6 1320.7 276.9 1321.5 276.3 1322.3 278.6 1323.1 281.1 1323.9 280.3 1324.7 281.7 1325.5 282.3 1326.3 283.8 1327.1 285.7 1327.9 287.7 1328.7 289.3 1329.5 288.6 1330.3 290.3 1331.1 289.8 1331.9 289.3 1332.7 289.5 1333.5 288.7 1334.3 290.9 1335.1 289.7 1335.9 291.8 1336.7 295.5 1337.5 293.2 1338.3 291.4 1339.1 294.1 1339.9 294.2 1340.7 296.1 1341.5 297.6 1342.3 299.3 1343.1 302.9 1343.9 302.8 1344.7 303.3 1345.5 303.6 1346.3 303.5 1347.1 303.9 1347.9 304 1348.7 306.4 1349.5 306.4 1350.3 307.6 1351.1 308 1351.9 310.3 1352.7 309 1353.5 309.6 1354.3 308.9 1355.1 310.7 1355.9 310.3 1356.7 310.8 1357.5 309.9 1358.3 312 1359.1 314.3 1359.9 315.2 1360.7 313.5 1361.5 315.3 1362.3 314.6 1363.1 313.8 1363.9 314.1 1364.7 316.8 1365.5 316.2 1366.3 315.1 1367.1 316.1 1367.9 316.2 1368.7 315.3 1369.5 315.6 1370.3 314.5 1371.1 315.5 1371.9 315.3 1372.7 314.3 1373.5 314.4 1374.3 316.5 1375.1 318.4 1375.9 321.7 1376.7 323.5 1377.5 323.8 1378.3 322.6 1379.1 322.9 1379.9 323.4 1380.7 324.6 1381.5 327.5 1382.3 325.3 1383.1 325.1 1383.9 324.4 1384.7 325.1 1385.5 325.6 1386.3 326.9 1387.1 325.6 1387.9 327.1 1388.7 327.7 1389.5 327.6 1390.3 327 1391.1 327.3 1391.9 328.4 1392.7 329.7 1393.5 329.9 1394.3 329.7 1395.1 330.8 1395.9 330.4 1396.7 332.2 1397.5 335 1398.3 332.9 1399.1 333.4 1399.9 331.8 1400.7 331.9 1401.5 332.2 1402.3 332.6 1403.1 331.6 1403.9 332.2 1404.7 330 1405.5 330 1406.3 330 1407.1 330.1 1407.9 329.9 1408.7 331.8 1409.5 331.1 1410.3 332.7 1411.1 333.3 1411.9 335.3 1412.7 334.2 1413.5 334.5 1414.3 334.3 1415.1 330.9 1415.9 332.5 1416.7 333.4 1417.5 334.1 1418.3 332.2 1419.1 332.5 1419.9 334 1420.7 332.9 1421.5 333.1 1422.3 334.8 1423.1 335.8 1423.9 337.1 1424.7 337.7 1425.5 337.4 1426.3 336.6 1427.1 336.8 1427.9 337.3 1428.7 337.8 1429.5 337.6 1430.3 338.1 1431.1 337 1431.9 336.7 1432.7 335.9 1433.5 338 1434.3 337 1435.1 337.5 1435.9 337.8 1436.7 337.2 1437.5 336.5 1438.3 336 1439.1 336.2 1439.9 335.2 1440.7 336 1441.5 337.6 1442.3 338 1443.1 338.8 1443.9 339.3 1444.7 339.6 1445.5 339.5 1446.3 339.6 1447.1 340.3 1447.9 339.6 1448.7 338.6 1449.5 339.9 1450.3 339.7 1451.1 340.3 1451.9 339.3 1452.7 338.1 1453.5 338.7 1454.3 338.6 1455.1 338.2 1455.9 339.9 1456.7 339.5 1457.5 338.3 1458.3 337.5 1459.1 338.3 1459.9 339.1 1460.7 339.1 1461.5 339.9 1462.3 339.5 1463.1 339.6 1463.9 338 1464.7 339.8 1465.5 339.2 1466.3 340.2 1467.1 338.8 1467.9 338.9 1468.7 340.5 1469.5 339.3 1470.3 340 1471.1 339.6 1471.9 340.4 1472.7 338.9 1473.5 338.3 1474.3 336.4 1475.1 334 1475.9 336.4 1476.7 335.7 1477.5 336.7 1478.3 337.8 1479.1 337.8 1479.9 339.9 1480.7 339.9 1481.5 338.8 1482.3 338.7 1483.1 338.1 1483.9 339 1484.7 339.7 1485.5 339.4 1486.3 340 1487.1 340 1487.9 340.7 1488.7 340.5 1489.5 340.4 1490.3 339.9 1491.1 339.4 1491.9 339.5 1492.7 340.4 1493.5 340.1 1494.3 341.4 1495.1 341.4 1495.9 339.9 1496.7 340.6 1497.5 341.5 1498.3 340.4 1499.1 341.2 1499.9 339.9 1500.7 340.8 1501.5 340.1 1502.3 338.9 1503.1 337.1 1503.9 337.4 1504.7 336.9 1505.5 337.6 1506.3 336.9 1507.1 337.7 1507.9 337.4 1508.7 338.3 1509.5 338.9 1510.3 338.8 1511.1 339.3 1511.9 340.2 1512.7 339.3 1513.5 340.5 1514.3 341.1 1515.1 342.7 1515.9 343.0"/>
<path id="cb10" d="M1078.8 411.1 1079.5 410.1 1080.3 410.8 1081.1 410.7 1081.9 410.7 1082.7 410.9 1083.5 410.2 1084.3 410.3 1085.1 410.5 1085.9 410.4 1086.7 410.3 1087.5 410.7 1088.3 410.6 1089.1 410.4 1089.9 410.5 1090.7 410.9 1091.5 411.2 1092.3 411.1 1093.1 410.8 1093.9 410.1 1094.7 410.1 1095.5 410 1096.3 410 1097.1 410.7 1097.9 410.3 1098.7 410.9 1099.5 410.6 1100.3 410.4 1101.1 410.3 1101.9 409.8 1102.7 410 1103.5 410.6 1104.3 410.7 1105.1 410.5 1105.9 410.7 1106.7 410.5 1107.5 410.5 1108.3 411.3 1109.1 410.7 1109.9 409.7 1110.7 409.2 1111.5 409.5 1112.3 410.1 1113.1 410.6 1113.9 410.3 1114.7 410.3 1115.5 410.5 1116.3 409.8 1117.1 410 1117.9 410.2 1118.7 410 1119.5 409.6 1120.3 410.2 1121.1 410.6 1121.9 410.3 1122.7 408.9 1123.5 409.2 1124.3 409.4 1125.1 410 1125.9 409.6 1126.7 409.5 1127.5 410.2 1128.3 410.7 1129.1 410 1129.9 409 1130.7 408.4 1131.5 409.5 1132.3 408.8 1133.1 409 1133.9 408.9 1134.7 409.1 1135.5 409.2 1136.3 408.2 1137.1 408 1137.9 408.5 1138.7 408.5 1139.5 407.4 1140.3 409.3 1141.1 407.6 1141.9 408.6 1142.7 407 1143.5 408.3 1144.3 406.7 1145.1 408 1145.9 407.9 1146.7 408.2 1147.5 407.1 1148.3 407.5 1149.1 407.5 1149.9 407.4 1150.7 406.8 1151.5 408 1152.3 406 1153.1 405.4 1153.9 405.2 1154.7 407.3 1155.5 406.2 1156.3 405.9 1157.1 405.7 1157.9 405.9 1158.7 406 1159.5 405.8 1160.3 404.9 1161.1 406 1161.9 406 1162.7 407.1 1163.5 406.6 1164.3 406 1165.1 404.7 1165.9 405.4 1166.7 406 1167.5 406.9 1168.3 406.2 1169.1 406.3 1169.9 406.1 1170.7 406.7 1171.5 406.5 1172.3 405.5 1173.1 404 1173.9 405.8 1174.7 405.1 1175.5 404.1 1176.3 403.2 1177.1 402.5 1177.9 403.8 1178.7 403.9 1179.5 404.2 1180.3 405 1181.1 403.7 1181.9 403.9 1182.7 403.2 1183.5 402.7 1184.3 401.3 1185.1 401.9 1185.9 403.5 1186.7 402.7 1187.5 403 1188.3 402.9 1189.1 404.3 1189.9 404.3 1190.7 402.5 1191.5 401.9 1192.3 402.9 1193.1 402.5 1193.9 402.1 1194.7 402.8 1195.5 402.4 1196.3 401.9 1197.1 404 1197.9 402.5 1198.7 400.4 1199.5 401 1200.3 401 1201.1 402.2 1201.9 401.3 1202.7 400.1 1203.5 400.5 1204.3 399.2 1205.1 399.3 1205.9 399.9 1206.7 399 1207.5 397.6 1208.3 397.8 1209.1 398 1209.9 399.1 1210.7 398.5 1211.5 398.6 1212.3 397.7 1213.1 398.2 1213.9 397.6 1214.7 398.4 1215.5 398.2 1216.3 399.1 1217.1 398.5 1217.9 397.4 1218.7 396.4 1219.5 396.9 1220.3 397.4 1221.1 398.1 1221.9 396.4 1222.7 395 1223.5 393.8 1224.3 394 1225.1 394.5 1225.9 394.4 1226.7 394.1 1227.5 394 1228.3 394.1 1229.1 392 1229.9 392.6 1230.7 392.4 1231.5 392.1 1232.3 391.6 1233.1 389.8 1233.9 391.2 1234.7 390.6 1235.5 390.6 1236.3 390.9 1237.1 390.7 1237.9 390.8 1238.7 390.8 1239.5 389.5 1240.3 388.7 1241.1 390.1 1241.9 389 1242.7 391.2 1243.5 388.8 1244.3 388.9 1245.1 388.4 1245.9 388 1246.7 385.8 1247.5 385.2 1248.3 385.5 1249.1 381.8 1249.9 377.6 1250.7 377.7 1251.5 375.9 1252.3 373.7 1253.1 369.1 1253.9 366.3 1254.7 361.8 1255.5 354.4 1256.3 348.7 1257.1 343.3 1257.9 338 1258.7 332.1 1259.5 328.4 1260.3 327.3 1261.1 325.1 1261.9 318.6 1262.7 319.2 1263.5 314.6 1264.3 313.6 1265.1 308.9 1265.9 307.7 1266.7 305.8 1267.5 306.6 1268.3 305.5 1269.1 304.9 1269.9 304.2 1270.7 303.4 1271.5 303.8 1272.3 302.9 1273.1 302.5 1273.9 302.2 1274.7 302.4 1275.5 303.5 1276.3 305.6 1277.1 307.3 1277.9 306.2 1278.7 308.6 1279.5 308.1 1280.3 306.2 1281.1 305.7 1281.9 305 1282.7 302.4 1283.5 306.3 1284.3 308.3 1285.1 307.7 1285.9 311.3 1286.7 310.1 1287.5 309.3 1288.3 305.9 1289.1 305.7 1289.9 304.9 1290.7 301.3 1291.5 297.6 1292.3 290.7 1293.1 289.1 1293.9 286.1 1294.7 283.6 1295.5 282.3 1296.3 281.2 1297.1 278.2 1297.9 277.7 1298.7 278 1299.5 273 1300.3 272.3 1301.1 269.1 1301.9 270.6 1302.7 272.8 1303.5 271.5 1304.3 269.7 1305.1 270.2 1305.9 272.1 1306.7 270.5 1307.5 271.3 1308.3 275.7 1309.1 275.9 1309.9 279 1310.7 279.2 1311.5 279.1 1312.3 283.2 1313.1 285.8 1313.9 284.8 1314.7 289.9 1315.5 289.9 1316.3 292.1 1317.1 294.1 1317.9 294.9 1318.7 299.8 1319.5 301.8 1320.3 304.1 1321.1 305.6 1321.9 306.6 1322.7 311.7 1323.5 311.8 1324.3 311.7 1325.1 313.5 1325.9 312.2 1326.7 314.3 1327.5 318.7 1328.3 316.2 1329.1 317.2 1329.9 315.8 1330.7 317.2 1331.5 319.4 1332.3 317.6 1333.1 317.3 1333.9 320.1 1334.7 320.1 1335.5 320.8 1336.3 320.9 1337.1 318.8 1337.9 317.6 1338.7 317.1 1339.5 320.3 1340.3 319.2 1341.1 318.5 1341.9 320.2 1342.7 321.6 1343.5 323 1344.3 321.1 1345.1 324.9 1345.9 323.7 1346.7 325.1 1347.5 325.8 1348.3 325.4 1349.1 327.6 1349.9 328.9 1350.7 331 1351.5 333.3 1352.3 335.2 1353.1 335.1 1353.9 335.6 1354.7 335.3 1355.5 334.6 1356.3 337.6 1357.1 338.2 1357.9 339.7 1358.7 340.9 1359.5 343.3 1360.3 344.1 1361.1 348.6 1361.9 349.1 1362.7 348.4 1363.5 349.7 1364.3 351.9 1365.1 350 1365.9 351.4 1366.7 351.4 1367.5 352.4 1368.3 352.5 1369.1 353.7 1369.9 354.9 1370.7 356 1371.5 354.6 1372.3 357.3 1373.1 358.3 1373.9 358.5 1374.7 360 1375.5 363 1376.3 362.5 1377.1 362 1377.9 364 1378.7 364.1 1379.5 365.5 1380.3 365.8 1381.1 367.6 1381.9 366.4 1382.7 366.7 1383.5 369 1384.3 371.2 1385.1 371.1 1385.9 373 1386.7 373.6 1387.5 373.9 1388.3 372.7 1389.1 376.5 1389.9 377.1 1390.7 373.8 1391.5 376.1 1392.3 375.6 1393.1 375.1 1393.9 375.6 1394.7 377.4 1395.5 377.4 1396.3 377.5 1397.1 378 1397.9 378.4 1398.7 379.9 1399.5 378.2 1400.3 378.8 1401.1 380.5 1401.9 380.4 1402.7 381.9 1403.5 382.1 1404.3 383.2 1405.1 383.2 1405.9 384.2 1406.7 384.1 1407.5 384.9 1408.3 384.2 1409.1 382.6 1409.9 383.8 1410.7 384.2 1411.5 383.9 1412.3 385.2 1413.1 385.2 1413.9 386.3 1414.7 384.7 1415.5 384.2 1416.3 384.9 1417.1 386 1417.9 383.8 1418.7 383.8 1419.5 383.3 1420.3 388.2 1421.1 392.5 1421.9 393.4 1422.7 393.8 1423.5 392.9 1424.3 393.3 1425.1 391.9 1425.9 393.5 1426.7 392.4 1427.5 392.7 1428.3 393.6 1429.1 392.6 1429.9 392.5 1430.7 391.7 1431.5 394.8 1432.3 393.1 1433.1 393.9 1433.9 395.2 1434.7 398.6 1435.5 397.1 1436.3 397.5 1437.1 398.6 1437.9 396.7 1438.7 398.9 1439.5 399.5 1440.3 400.9 1441.1 401.5 1441.9 400.9 1442.7 401.3 1443.5 399.9 1444.3 399 1445.1 399.4 1445.9 399.9 1446.7 399.7 1447.5 400.1 1448.3 400.4 1449.1 401.4 1449.9 400.1 1450.7 399.3 1451.5 399.7 1452.3 399.3 1453.1 398.8 1453.9 399.2 1454.7 397.2 1455.5 398 1456.3 399.1 1457.1 399.6 1457.9 397.6 1458.7 398.2 1459.5 400.1 1460.3 399.9 1461.1 400.8 1461.9 401.2 1462.7 403.1 1463.5 403.2 1464.3 402.9 1465.1 403.1 1465.9 404.3 1466.7 403.9 1467.5 402.2 1468.3 401.2 1469.1 403.1 1469.9 401.9 1470.7 403.1 1471.5 402.9 1472.3 403.9 1473.1 403.8 1473.9 402.9 1474.7 405.9 1475.5 406 1476.3 406.1 1477.1 407.3 1477.9 407.1 1478.7 407.3 1479.5 406.4 1480.3 406.4 1481.1 406.6 1481.9 405.8 1482.7 406.7 1483.5 406.7 1484.3 406.1 1485.1 405.8 1485.9 406.7 1486.7 406.2 1487.5 406.4 1488.3 406.3 1489.1 405.7 1489.9 403 1490.7 404.6 1491.5 405.4 1492.3 404.5 1493.1 404.1 1493.9 405.3 1494.7 404.5 1495.5 406.7 1496.3 407.6 1497.1 409 1497.9 408.9 1498.7 409.1 1499.5 409.2 1500.3 408 1501.1 408 1501.9 409.4 1502.7 408.6 1503.5 408.2 1504.3 408.9 1505.1 409.9 1505.9 409.3 1506.7 408.9 1507.5 408.9 1508.3 409.2 1509.1 407.9 1509.9 408.7 1510.7 408.9 1511.5 409.4 1512.3 409.5 1513.1 409.2 1513.9 410 1514.7 408.9 1515.5 408.5 1516.3 409.6 1517.1 409 1517.9 408.4 1518.7 408.3 1519.5 408.7 1520.3 407.9 1521.1 409.3 1521.9 409.3 1522.7 409.8 1523.5 408.2 1524.3 407.8 1525.1 407.2 1525.9 407.7 1526.7 407.6 1527.5 407.7 1528.3 407.7 1529.1 406.4 1529.9 406.9 1530.7 407 1531.5 407 1532.3 407.4 1533.1 405.8 1533.9 406.2 1534.7 406.7 1535.5 406.5 1536.3 406.3 1537.1 407.7 1537.9 408.3 1538.7 409.1 1539.5 407.7 1540.3 406.3 1541.1 408.2 1541.9 408.3 1542.7 408 1543.5 409.1 1544.3 409.3 1545.1 408.3 1545.9 409.2 1546.7 408.4 1547.5 409.3 1548.3 408 1549.1 406.8 1549.9 407.5 1550.7 407.6 1551.5 406.4 1552.3 405.2 1553.1 405.9 1553.9 405.7 1554.7 405.5 1555.5 404.9 1556.3 403.7 1557.1 404 1557.9 405.5 1558.7 404.4 1559.5 404.6 1560.3 405.1 1561.1 406.6 1561.9 407.3 1562.7 407.5 1563.5 409.6 1564.3 409.5 1565.1 410 1565.9 410 1566.7 410.1 1567.5 410.7 1568.3 410.6 1569.1 410.7 1569.9 410.3 1570.7 410.9 1571.5 410.8 1572.3 410.9 1573.1 410.6 1573.9 410.7 1574.7 411.1"/>
<path id="cb25" d="M1112.5 488.4 1113.3 488.2 1114.1 487.6 1114.9 487.9 1115.7 488 1116.5 487.9 1117.3 488 1118.1 488.1 1118.9 488.2 1119.7 487.8 1120.5 487.7 1121.3 487.9 1122.1 488.1 1122.9 487.8 1123.7 487.9 1124.5 487.7 1125.3 487.9 1126.1 487.9 1126.9 488 1127.7 488.3 1128.5 487.9 1129.3 488 1130.1 487.6 1130.9 487.9 1131.7 488.3 1132.5 487.7 1133.3 487.7 1134.1 487.1 1134.9 487.7 1135.7 488.4 1136.5 487.8 1137.3 487.9 1138.1 488.3 1138.9 487.8 1139.7 487.9 1140.5 487.7 1141.3 487.7 1142.1 487.8 1142.9 488.1 1143.7 488 1144.5 487.9 1145.3 487.8 1146.1 488.1 1146.9 488.1 1147.7 488 1148.5 487.3 1149.3 487.5 1150.1 487.4 1150.9 488.2 1151.7 488.1 1152.5 488.3 1153.3 487.7 1154.1 487.2 1154.9 487.2 1155.7 487.7 1156.5 487.5 1157.3 487.8 1158.1 488.2 1158.9 487.7 1159.7 488 1160.5 487 1161.3 486.9 1162.1 487.1 1162.9 487.3 1163.7 486.9 1164.5 487.2 1165.3 487.8 1166.1 488 1166.9 487.9 1167.7 487.2 1168.5 488 1169.3 487.9 1170.1 487.2 1170.9 487.8 1171.7 487.3 1172.5 487.6 1173.3 487.6 1174.1 487.7 1174.9 488.2 1175.7 488.7 1176.5 488 1177.3 487.5 1178.1 487.1 1178.9 487.3 1179.7 487.4 1180.5 486.1 1181.3 486.6 1182.1 488.2 1182.9 487.7 1183.7 487.6 1184.5 486.8 1185.3 488 1186.1 487.3 1186.9 486.3 1187.7 485.6 1188.5 486.2 1189.3 487.3 1190.1 485.9 1190.9 485.1 1191.7 483.8 1192.5 485.4 1193.3 484.7 1194.1 484.6 1194.9 484.2 1195.7 484.2 1196.5 485.3 1197.3 484.5 1198.1 484.8 1198.9 484.2 1199.7 484.1 1200.5 484.8 1201.3 485 1202.1 483.6 1202.9 483.9 1203.7 483.2 1204.5 484.1 1205.3 483.3 1206.1 482.7 1206.9 483.7 1207.7 482.9 1208.5 483.1 1209.3 483.5 1210.1 482.6 1210.9 482.3 1211.7 482.8 1212.5 484.2 1213.3 483.3 1214.1 482.9 1214.9 482.2 1215.7 481.7 1216.5 482.7 1217.3 481.1 1218.1 480.5 1218.9 481.9 1219.7 480.5 1220.5 479.4 1221.3 480.3 1222.1 480.9 1222.9 481.5 1223.7 482 1224.5 478.4 1225.3 478.6 1226.1 478.5 1226.9 478.9 1227.7 477.9 1228.5 478.1 1229.3 478.3 1230.1 478.2 1230.9 477.2 1231.7 477.7 1232.5 476.9 1233.3 476.6 1234.1 476.9 1234.9 477.8 1235.7 475.7 1236.5 476.6 1237.3 478 1238.1 477.4 1238.9 476.6 1239.7 476.8 1240.5 478 1241.3 476.8 1242.1 475.9 1242.9 476.7 1243.7 475.9 1244.5 475.1 1245.3 476 1246.1 474.7 1246.9 474.5 1247.7 475.7 1248.5 474.9 1249.3 475.4 1250.1 472.7 1250.9 471.8 1251.7 472 1252.5 472.5 1253.3 470.9 1254.1 472.2 1254.9 471.9 1255.7 471.7 1256.5 472.1 1257.3 471.9 1258.1 470.9 1258.9 471.4 1259.7 470.7 1260.5 472.6 1261.3 471.7 1262.1 471.5 1262.9 471 1263.7 471.4 1264.5 471.7 1265.3 471.4 1266.1 470.4 1266.9 472 1267.7 471.4 1268.5 469.4 1269.3 468.3 1270.1 468.7 1270.9 468.7 1271.7 468.1 1272.5 468.4 1273.3 469.5 1274.1 470.6 1274.9 469.9 1275.7 469.6 1276.5 470.1 1277.3 471.1 1278.1 470.3 1278.9 469.4 1279.7 468.3 1280.5 467 1281.3 467.8 1282.1 468.8 1282.9 468.2 1283.7 467.1 1284.5 467.7 1285.3 467.2 1286.1 466.5 1286.9 464.9 1287.7 466.6 1288.5 465.9 1289.3 467.2 1290.1 465.8 1290.9 465.8 1291.7 464.8 1292.5 466.2 1293.3 465.9 1294.1 463.9 1294.9 464.1 1295.7 460.8 1296.5 460.6 1297.3 458.2 1298.1 456.6 1298.9 454.4 1299.7 453.4 1300.5 448.8 1301.3 446.4 1302.1 445.3 1302.9 438.5 1303.7 436.1 1304.5 431.3 1305.3 425 1306.1 423.9 1306.9 420.5 1307.7 420.4 1308.5 415.5 1309.3 415.6 1310.1 416.5 1310.9 412.2 1311.7 413.8 1312.5 414.2 1313.3 413.7 1314.1 415 1314.9 414.4 1315.7 412.3 1316.5 411.2 1317.3 411.2 1318.1 412.8 1318.9 410.6 1319.7 410.7 1320.5 409.2 1321.3 409.7 1322.1 410.4 1322.9 412.4 1323.7 414.8 1324.5 413.7 1325.3 413.1 1326.1 414.5 1326.9 415.2 1327.7 415.9 1328.5 417.3 1329.3 416.1 1330.1 416.3 1330.9 416.4 1331.7 417.6 1332.5 415.9 1333.3 416.8 1334.1 417.6 1334.9 414.6 1335.7 415.1 1336.5 413.6 1337.3 411.6 1338.1 412.8 1338.9 411.4 1339.7 408 1340.5 407.1 1341.3 404.2 1342.1 401.2 1342.9 402 1343.7 399.9 1344.5 400.4 1345.3 398.1 1346.1 396.8 1346.9 395.3 1347.7 394.6 1348.5 392.7 1349.3 392.6 1350.1 390.7 1350.9 390 1351.7 390.5 1352.5 391.8 1353.3 393.2 1354.1 393.8 1354.9 396.1 1355.7 399 1356.5 394.1 1357.3 398.2 1358.1 399.6 1358.9 398.8 1359.7 400.1 1360.5 398.5 1361.3 401 1362.1 405.1 1362.9 403.7 1363.7 404.8 1364.5 406.9 1365.3 409.1 1366.1 409.9 1366.9 410.2 1367.7 412.6 1368.5 412.7 1369.3 417.2 1370.1 418.1 1370.9 417.7 1371.7 417.3 1372.5 418.2 1373.3 419.1 1374.1 420.6 1374.9 422.8 1375.7 422 1376.5 424 1377.3 425.1 1378.1 424.8 1378.9 428 1379.7 428.6 1380.5 428.9 1381.3 428.2 1382.1 427.8 1382.9 428.4 1383.7 426.2 1384.5 426.8 1385.3 424.4 1386.1 424.2 1386.9 424.3 1387.7 422.8 1388.5 421.7 1389.3 421.9 1390.1 424.2 1390.9 424.5 1391.7 426.6 1392.5 428.5 1393.3 425.6 1394.1 425.9 1394.9 427.3 1395.7 426.1 1396.5 425.8 1397.3 425.5 1398.1 428.1 1398.9 425.9 1399.7 428 1400.5 429.2 1401.3 430.6 1402.1 430.8 1402.9 432.6 1403.7 433.2 1404.5 433.7 1405.3 438.4 1406.1 438.8 1406.9 437 1407.7 437.2 1408.5 439 1409.3 441.1 1410.1 440.4 1410.9 441.5 1411.7 441.7 1412.5 443.2 1413.3 442.2 1414.1 442 1414.9 443.5 1415.7 444.4 1416.5 444.9 1417.3 446.7 1418.1 447.3 1418.9 447.3 1419.7 446.4 1420.5 448.6 1421.3 450 1422.1 449.4 1422.9 450.3 1423.7 449.9 1424.5 451.6 1425.3 452.2 1426.1 451.2 1426.9 453.1 1427.7 453.8 1428.5 454.4 1429.3 456.4 1430.1 456.9 1430.9 457.8 1431.7 457.2 1432.5 459 1433.3 457.8 1434.1 459.2 1434.9 457.8 1435.7 459.2 1436.5 458.8 1437.3 458.4 1438.1 460.6 1438.9 461.1 1439.7 461.7 1440.5 461.7 1441.3 462 1442.1 462.1 1442.9 462.1 1443.7 462.6 1444.5 465.1 1445.3 462.9 1446.1 461.9 1446.9 462.4 1447.7 463.1 1448.5 464.9 1449.3 466.4 1450.1 467.4 1450.9 466.9 1451.7 468 1452.5 469.8 1453.3 469.7 1454.1 470.6 1454.9 469.1 1455.7 470.5 1456.5 471 1457.3 469.4 1458.1 470 1458.9 470.9 1459.7 469.8 1460.5 471.1 1461.3 471.7 1462.1 471.3 1462.9 470.8 1463.7 470.6 1464.5 471.1 1465.3 472 1466.1 470.1 1466.9 470.9 1467.7 471.3 1468.5 470.5 1469.3 469.9 1470.1 470.8 1470.9 470 1471.7 471.7 1472.5 472.1 1473.3 471.8 1474.1 473 1474.9 473 1475.7 473.5 1476.5 475.6 1477.3 474.9 1478.1 473.4 1478.9 475.6 1479.7 475.3 1480.5 475.6 1481.3 477.9 1482.1 477.5 1482.9 478.3 1483.7 476.9 1484.5 476.8 1485.3 477.2 1486.1 478.7 1486.9 478.2 1487.7 477.2 1488.5 479.2 1489.3 478.9 1490.1 479.5 1490.9 480.4 1491.7 481.9 1492.5 480.8 1493.3 481.9 1494.1 480 1494.9 480.7 1495.7 481.2 1496.5 479.5 1497.3 480.1 1498.1 480.6 1498.9 481.8 1499.7 481.6 1500.5 481.7 1501.3 481.6 1502.1 482.5 1502.9 482.4 1503.7 482.4 1504.5 482.2 1505.3 482.7 1506.1 481.4 1506.9 481 1507.7 480.4 1508.5 480.1 1509.3 480 1510.1 479.1 1510.9 477.3 1511.7 478.5 1512.5 479.3 1513.3 479.9 1514.1 480 1514.9 478.5 1515.7 479.6 1516.5 481.1 1517.3 482.1 1518.1 482.2 1518.9 482.7 1519.7 482.3 1520.5 483.5 1521.3 482.2 1522.1 483.2 1522.9 484.4 1523.7 483.3 1524.5 484.8 1525.3 485.9 1526.1 485.2 1526.9 484.3 1527.7 484 1528.5 483.4 1529.3 484.7 1530.1 483.8 1530.9 484.4 1531.7 483.7 1532.5 484.7 1533.3 483.6 1534.1 484.2 1534.9 483.9 1535.7 485.1 1536.5 484.4 1537.3 484.3 1538.1 485.2 1538.9 483.8 1539.7 483.2 1540.5 483.8 1541.3 483.2 1542.1 485 1542.9 484.4 1543.7 484.3 1544.5 483.8 1545.3 481.4 1546.1 483.9 1546.9 483.8 1547.7 482.5 1548.5 483 1549.3 484.4 1550.1 486.2 1550.9 486.5 1551.7 487 1552.5 487.4 1553.3 487.1 1554.1 487.1 1554.9 487.4 1555.7 486.9 1556.5 487.3 1557.3 487.7 1558.1 486.4 1558.9 486.9 1559.7 487 1560.5 487.2 1561.3 488.2 1562.1 486.6 1562.9 488.1 1563.7 487.8 1564.5 488.7 1565.3 487.3 1566.1 487.2 1566.9 486.7 1567.7 487 1568.5 486 1569.3 485.7 1570.1 486 1570.9 486.7 1571.7 485.5 1572.5 485.7 1573.3 485.6 1574.1 486.1 1574.9 486.7 1575.7 485.2 1576.5 485 1577.3 485.3 1578.1 484.9 1578.9 486.5 1579.7 487.2 1580.5 486.8 1581.3 486.4 1582.1 485.1 1582.9 484.7 1583.7 485.6 1584.5 486.6 1585.3 485.6 1586.1 485.8 1586.9 486.8 1587.7 487.3 1588.5 485.6 1589.3 486 1590.1 486.6 1590.9 485.3 1591.7 485.9 1592.5 486.7 1593.3 486.6 1594.1 487.4 1594.9 487.2 1595.7 486.6 1596.5 486.7 1597.3 486.3 1598.1 486.3 1598.9 487.1 1599.7 487.2 1600.5 487.3 1601.3 487.7 1602.1 486 1602.9 485.7 1603.7 485.9 1604.5 486.9 1605.3 486.1 1606.1 485.4 1606.9 485.4 1607.7 484.5 1608.5 483.3 1609.3 484.7 1610.1 484.6 1610.9 485.2 1611.7 484.2 1612.5 484.2 1613.3 485.4 1614.1 485.5 1614.9 486.1 1615.7 485.3 1616.5 485.6 1617.3 486.2 1618.1 486.6 1618.9 486.2 1619.7 486.3 1620.5 486.1 1621.3 486.1 1622.1 486.2 1622.9 486.6 1623.7 485.5 1624.5 486.1 1625.3 485.7 1626.1 486.3 1626.9 486.3 1627.7 486.7 1628.5 486.5 1629.3 486.6 1630.1 485.8 1630.9 487.4 1631.7 486.2 1632.5 485.4 1633.3 486.6 1634.1 487.2 1634.9 486.9 1635.7 486.5 1636.5 485.7 1637.3 487.3 1638.1 485.2 1638.9 487.1 1639.7 484.8 1640.5 484.1 1641.3 488.4"/>
<path id="cb50" d="M1151.2 576.8 1152 577 1152.8 577 1153.6 577 1154.4 576.9 1155.2 577 1156 577 1156.8 577 1157.6 577 1158.4 577 1159.2 577 1160 577 1160.8 577 1161.6 577 1162.4 577 1163.2 577 1164 577 1164.8 577 1165.6 577 1166.4 577 1167.2 577 1168 577 1168.8 577 1169.6 577 1170.4 577 1171.2 576.9 1172 577 1172.8 576.9 1173.6 576.9 1174.4 576.9 1175.2 577 1176 577 1176.8 577 1177.6 576.9 1178.4 576.9 1179.2 576.9 1180 577 1180.8 577 1181.6 577 1182.4 576.9 1183.2 576.9 1184 576.9 1184.8 576.9 1185.6 576.9 1186.4 576.9 1187.2 576.9 1188 576.9 1188.8 576.9 1189.6 576.9 1190.4 576.9 1191.2 576.9 1192 576.8 1192.8 576.9 1193.6 576.8 1194.4 576.8 1195.2 576.9 1196 576.9 1196.8 576.8 1197.6 576.9 1198.4 576.9 1199.2 576.9 1200 576.9 1200.8 576.8 1201.6 576.8 1202.4 576.8 1203.2 576.8 1204 576.8 1204.8 576.7 1205.6 576.6 1206.4 576.7 1207.2 576.7 1208 576.6 1208.8 576.6 1209.6 576.5 1210.4 576.5 1211.2 576.6 1212 576.7 1212.8 576.2 1213.6 576.4 1214.4 576.5 1215.2 576.2 1216 576.2 1216.8 576.4 1217.6 576.6 1218.4 576 1219.2 575.6 1220 575.7 1220.8 575.7 1221.6 575.9 1222.4 575.9 1223.2 575 1224 575.9 1224.8 575 1225.6 575.6 1226.4 575.9 1227.2 575.9 1228 575.8 1228.8 575.8 1229.6 575 1230.4 574.7 1231.2 576.5 1232 576.7 1232.8 576.6 1233.6 576.2 1234.4 574.3 1235.2 576 1236 575.1 1236.8 574.9 1237.6 575.4 1238.4 574.5 1239.2 575.5 1240 573.2 1240.8 574.9 1241.6 575 1242.4 574 1243.2 574.8 1244 575.3 1244.8 575.1 1245.6 575.1 1246.4 574.2 1247.2 574.8 1248 574.9 1248.8 575.1 1249.6 574.7 1250.4 572.7 1251.2 573.6 1252 572.5 1252.8 572.4 1253.6 572.8 1254.4 573 1255.2 572.7 1256 572.9 1256.8 573 1257.6 572.7 1258.4 572.3 1259.2 572.2 1260 572.3 1260.8 570.9 1261.6 569.8 1262.4 571.2 1263.2 570.7 1264 568.5 1264.8 570.2 1265.6 570.6 1266.4 568.1 1267.2 567.4 1268 567.4 1268.8 566.5 1269.6 566.3 1270.4 566.4 1271.2 567 1272 564.1 1272.8 565 1273.6 565.9 1274.4 563.1 1275.2 564.4 1276 564.5 1276.8 564 1277.6 564.9 1278.4 565.7 1279.2 565.7 1280 566.5 1280.8 564.3 1281.6 562.3 1282.4 562.9 1283.2 563.6 1284 564.7 1284.8 564.5 1285.6 563.3 1286.4 564.5 1287.2 564 1288 563.5 1288.8 562.8 1289.6 562.9 1290.4 563 1291.2 562.4 1292 559.9 1292.8 560.2 1293.6 561.4 1294.4 562.7 1295.2 562.6 1296 562.4 1296.8 562.8 1297.6 561.8 1298.4 561.9 1299.2 561.6 1300 560.6 1300.8 559.1 1301.6 557.7 1302.4 559.1 1303.2 557.9 1304 558.4 1304.8 559.2 1305.6 558.1 1306.4 559.2 1307.2 558.7 1308 557.5 1308.8 558.4 1309.6 558.8 1310.4 557.8 1311.2 558.3 1312 556.9 1312.8 557.5 1313.6 557.8 1314.4 556.6 1315.2 557.2 1316 558.5 1316.8 557 1317.6 555.9 1318.4 555.1 1319.2 555.2 1320 554.8 1320.8 554 1321.6 555.2 1322.4 555.6 1323.2 554.4 1324 554.8 1324.8 555.7 1325.6 555.3 1326.4 555 1327.2 555.4 1328 554.3 1328.8 555.5 1329.6 557 1330.4 555.3 1331.2 553.7 1332 554.5 1332.8 554.6 1333.6 555.9 1334.4 557.4 1335.2 557.2 1336 558.2 1336.8 557.1 1337.6 556.1 1338.4 553.5 1339.2 554.5 1340 553.5 1340.8 552.9 1341.6 552.6 1342.4 554 1343.2 553.4 1344 551.9 1344.8 549.5 1345.6 549.1 1346.4 548.6 1347.2 548.9 1348 548 1348.8 546.8 1349.6 543.7 1350.4 543.2 1351.2 543.2 1352 537.2 1352.8 533.8 1353.6 532.2 1354.4 530.9 1355.2 527.7 1356 524.6 1356.8 523.5 1357.6 518.7 1358.4 514.4 1359.2 512.2 1360 513.1 1360.8 512.8 1361.6 510.7 1362.4 508.2 1363.2 507.6 1364 508.6 1364.8 509.4 1365.6 507.4 1366.4 506.2 1367.2 505.3 1368 505.1 1368.8 506.4 1369.6 506.1 1370.4 506.1 1371.2 505.8 1372 505.9 1372.8 504.1 1373.6 503.9 1374.4 505.8 1375.2 506.6 1376 508 1376.8 507.2 1377.6 506.2 1378.4 507.1 1379.2 507.9 1380 509.8 1380.8 510.1 1381.6 511.5 1382.4 512.2 1383.2 512.6 1384 512.9 1384.8 511.3 1385.6 513.5 1386.4 514.9 1387.2 514.4 1388 515 1388.8 513.3 1389.6 510.7 1390.4 510.3 1391.2 508.5 1392 506.9 1392.8 507.4 1393.6 502.8 1394.4 501.9 1395.2 497.8 1396 493.8 1396.8 495.4 1397.6 495.3 1398.4 495.3 1399.2 495.2 1400 496.2 1400.8 495.6 1401.6 494.5 1402.4 494.3 1403.2 494.9 1404 493.8 1404.8 494.6 1405.6 491.7 1406.4 493.2 1407.2 493.9 1408 495.2 1408.8 493.6 1409.6 494.5 1410.4 496 1411.2 500 1412 498.5 1412.8 499.1 1413.6 498.3 1414.4 502 1415.2 501.1 1416 501.8 1416.8 503.7 1417.6 503.6 1418.4 504.9 1419.2 506.8 1420 507.4 1420.8 510.2 1421.6 509.9 1422.4 513.5 1423.2 512.7 1424 511.7 1424.8 512.7 1425.6 514.1 1426.4 514.1 1427.2 515 1428 514.9 1428.8 514.6 1429.6 515.7 1430.4 518.7 1431.2 517.6 1432 517.9 1432.8 516.7 1433.6 517.6 1434.4 519.3 1435.2 519.3 1436 521.2 1436.8 521.7 1437.6 520.4 1438.4 520.4 1439.2 521.3 1440 521.3 1440.8 520.6 1441.6 518.7 1442.4 521.7 1443.2 521.3 1444 521.4 1444.8 520.4 1445.6 522.7 1446.4 521.7 1447.2 521.8 1448 519.5 1448.8 520.5 1449.6 521.4 1450.4 522.3 1451.2 523.1 1452 522.5 1452.8 523.8 1453.6 523.1 1454.4 522.9 1455.2 523.2 1456 521.7 1456.8 520.7 1457.6 525.3 1458.4 523.3 1459.2 524.5 1460 526.8 1460.8 526.9 1461.6 529.5 1462.4 527.7 1463.2 529.8 1464 531.6 1464.8 534.3 1465.6 534.8 1466.4 532.9 1467.2 534.3 1468 534.5 1468.8 533.3 1469.6 533.9 1470.4 536.2 1471.2 535.9 1472 535.4 1472.8 536 1473.6 536 1474.4 536 1475.2 538.5 1476 539.9 1476.8 541.4 1477.6 539.6 1478.4 539.8 1479.2 541.9 1480 542.7 1480.8 543 1481.6 542.4 1482.4 543.3 1483.2 542.8 1484 545.9 1484.8 546.3 1485.6 545.1 1486.4 547.1 1487.2 545.8 1488 547.1 1488.8 547.4 1489.6 547.2 1490.4 549.2 1491.2 547.2 1492 548.1 1492.8 548.8 1493.6 548 1494.4 548.4 1495.2 550.5 1496 551.8 1496.8 551.4 1497.6 553 1498.4 553.8 1499.2 554.5 1500 554 1500.8 554.1 1501.6 555 1502.4 554.3 1503.2 553.9 1504 553.6 1504.8 555.1 1505.6 556.5 1506.4 554.2 1507.2 555 1508 556.3 1508.8 557.6 1509.6 557.1 1510.4 556.1 1511.2 557.3 1512 559.3 1512.8 558.4 1513.6 558.5 1514.4 559.6 1515.2 557.3 1516 558.7 1516.8 559.9 1517.6 560.1 1518.4 559.6 1519.2 559.2 1520 559 1520.8 558.5 1521.6 559.2 1522.4 559.1 1523.2 560.4 1524 561 1524.8 561.4 1525.6 562 1526.4 563 1527.2 562.7 1528 564.4 1528.8 565 1529.6 565.7 1530.4 565.4 1531.2 565.4 1532 565.7 1532.8 565.7 1533.6 565.2 1534.4 565 1535.2 564.6 1536 564.5 1536.8 564 1537.6 563.6 1538.4 563.2 1539.2 564.9 1540 563.7 1540.8 563.8 1541.6 563 1542.4 563.9 1543.2 565.4 1544 564.9 1544.8 566.1 1545.6 566.9 1546.4 568.5 1547.2 568.8 1548 569.2 1548.8 569.4 1549.6 568.1 1550.4 569.8 1551.2 570.9 1552 569.4 1552.8 570.1 1553.6 569.7 1554.4 570.6 1555.2 569.3 1556 569.6 1556.8 570.3 1557.6 570 1558.4 569.5 1559.2 569.2 1560 568.6 1560.8 568.9 1561.6 568.2 1562.4 570 1563.2 570 1564 569.6 1564.8 568.7 1565.6 570.5 1566.4 571.6 1567.2 571.6 1568 572.2 1568.8 572.6 1569.6 572.2 1570.4 572 1571.2 572.3 1572 573.2 1572.8 571.9 1573.6 570.5 1574.4 570.8 1575.2 570.7 1576 570.3 1576.8 570.4 1577.6 569.5 1578.4 569.5 1579.2 569.9 1580 570.4 1580.8 571.1 1581.6 571.7 1582.4 571.6 1583.2 571.5 1584 571.1 1584.8 571.4 1585.6 571 1586.4 571.6 1587.2 572.8 1588 573.4 1588.8 572.7 1589.6 574.1 1590.4 572.3 1591.2 573.7 1592 574 1592.8 574 1593.6 574.5 1594.4 574.2 1595.2 576 1596 574.9 1596.8 574.6 1597.6 575 1598.4 573.7 1599.2 574.5 1600 574 1600.8 575.6 1601.6 575 1602.4 575 1603.2 573.7 1604 575.4 1604.8 573.3 1605.6 572.5 1606.4 572.4 1607.2 571.1 1608 571.2 1608.8 571.8 1609.6 573.2 1610.4 574.1 1611.2 573.5 1612 574.3 1612.8 575.9 1613.6 576.6 1614.4 576.2 1615.2 576.2 1616 576.2 1616.8 576.3 1617.6 576.2 1618.4 576.8 1619.2 576.3 1620 576.6 1620.8 576.5 1621.6 577.1 1622.4 577.1 1623.2 575.8 1624 576.2 1624.8 575.4 1625.6 576.3 1626.4 576 1627.2 575.1 1628 575.3 1628.8 575.5 1629.6 576.4 1630.4 576.1 1631.2 576.2 1632 575.7 1632.8 575.5 1633.6 575 1634.4 575.3 1635.2 575.5 1636 575.6 1636.8 575.3 1637.6 575.5 1638.4 575.4 1639.2 575.7 1640 575.3 1640.8 575.2 1641.6 575 1642.4 575 1643.2 575.2 1644 574.9 1644.8 576 1645.6 576.3 1646.4 576 1647.2 576.1 1648 575.1 1648.8 575 1649.6 575.1 1650.4 575.5 1651.2 575.9 1652 576.1 1652.8 574.9 1653.6 575.2 1654.4 576 1655.2 575.5 1656 575.8 1656.8 574.6 1657.6 575.2 1658.4 575.2 1659.2 574.2 1660 575.5 1660.8 576.3 1661.6 576.2 1662.4 575.6 1663.2 575.5 1664 575.2 1664.8 575.8 1665.6 576 1666.4 576.5 1667.2 576 1668 576.3 1668.8 575.9 1669.6 575.6 1670.4 575.8 1671.2 575.6 1672 575.6 1672.8 576.2 1673.6 576.4 1674.4 576 1675.2 575.9 1676 576.1 1676.8 576 1677.6 576.4 1678.4 576.3 1679.2 576.1 1680 576.1 1680.8 576.4 1681.6 576.8 1682.4 576.7 1683.2 576.3 1684 576.3 1684.8 576.4 1685.6 576.3 1686.4 576.3 1687.2 576.8 1688 575.9 1688.8 575.3 1689.6 575.4 1690.4 575.4 1691.2 575.3 1692 575.6 1692.8 575.1 1693.6 575.5 1694.4 575 1695.2 574.9 1696 573.4 1696.8 573.5 1697.6 573.9 1698.4 574.7 1699.2 574.1 1700 573.7 1700.8 573.7 1701.6 575.3 1702.4 573.8 1703.2 574.4 1704 574.5 1704.8 575.4 1705.6 575.3 1706.4 574.5 1707.2 575.1 1708 575.6 1708.8 574.6 1709.6 573.4 1710.4 573.4 1711.2 574.3 1712 574 1712.8 574.8 1713.6 575.9 1714.4 575.8 1715.2 576.9 1716 576.3 1716.8 576.1 1717.6 576.8"/>
<radialGradient id="r1" cx="0.38" cy="0.36" r="0.6"><stop offset="0" stop-color="#fff" stop-opacity="0.92"/><stop offset="0.13" stop-color="#fff" stop-opacity="0.75"/><stop offset="0.4" stop-color="#fff" stop-opacity="0"/></radialGradient>
<marker id="m1" markerWidth="7" markerHeight="7" refX="3.5" refY="3.5" markerUnits="userSpaceOnUse" overflow="visible"><circle cx="3.5" cy="3.5" r="2.85" fill="#8000ff"/><circle cx="3.5" cy="3.5" r="2.85" fill="url(#r1)"/></marker>
<radialGradient id="r3" cx="0.38" cy="0.36" r="0.6"><stop offset="0" stop-color="#fff" stop-opacity="0.92"/><stop offset="0.13" stop-color="#fff" stop-opacity="0.75"/><stop offset="0.4" stop-color="#fff" stop-opacity="0"/></radialGradient>
<marker id="m3" markerWidth="7" markerHeight="7" refX="3.5" refY="3.5" markerUnits="userSpaceOnUse" overflow="visible"><circle cx="3.5" cy="3.5" r="2.85" fill="#00cacc"/><circle cx="3.5" cy="3.5" r="2.85" fill="url(#r3)"/></marker>
<radialGradient id="r6" cx="0.38" cy="0.36" r="0.6"><stop offset="0" stop-color="#fff" stop-opacity="0.92"/><stop offset="0.13" stop-color="#fff" stop-opacity="0.75"/><stop offset="0.4" stop-color="#fff" stop-opacity="0"/></radialGradient>
<marker id="m6" markerWidth="7" markerHeight="7" refX="3.5" refY="3.5" markerUnits="userSpaceOnUse" overflow="visible"><circle cx="3.5" cy="3.5" r="2.85" fill="#0a960a"/><circle cx="3.5" cy="3.5" r="2.85" fill="url(#r6)"/></marker>
<radialGradient id="r10" cx="0.38" cy="0.36" r="0.6"><stop offset="0" stop-color="#fff" stop-opacity="0.92"/><stop offset="0.13" stop-color="#fff" stop-opacity="0.75"/><stop offset="0.4" stop-color="#fff" stop-opacity="0"/></radialGradient>
<marker id="m10" markerWidth="7" markerHeight="7" refX="3.5" refY="3.5" markerUnits="userSpaceOnUse" overflow="visible"><circle cx="3.5" cy="3.5" r="2.85" fill="#f4a460"/><circle cx="3.5" cy="3.5" r="2.85" fill="url(#r10)"/></marker>
<radialGradient id="r25" cx="0.38" cy="0.36" r="0.6"><stop offset="0" stop-color="#fff" stop-opacity="0.92"/><stop offset="0.13" stop-color="#fff" stop-opacity="0.75"/><stop offset="0.4" stop-color="#fff" stop-opacity="0"/></radialGradient>
<marker id="m25" markerWidth="7" markerHeight="7" refX="3.5" refY="3.5" markerUnits="userSpaceOnUse" overflow="visible"><circle cx="3.5" cy="3.5" r="2.85" fill="#ff0000"/><circle cx="3.5" cy="3.5" r="2.85" fill="url(#r25)"/></marker>
<radialGradient id="r50" cx="0.38" cy="0.36" r="0.6"><stop offset="0" stop-color="#fff" stop-opacity="0.92"/><stop offset="0.13" stop-color="#fff" stop-opacity="0.75"/><stop offset="0.4" stop-color="#fff" stop-opacity="0"/></radialGradient>
<marker id="m50" markerWidth="7" markerHeight="7" refX="3.5" refY="3.5" markerUnits="userSpaceOnUse" overflow="visible"><circle cx="3.5" cy="3.5" r="2.85" fill="#800000"/><circle cx="3.5" cy="3.5" r="2.85" fill="url(#r50)"/></marker>
<clipPath id="clipc"><rect x="152.6" y="794.6" width="482.2" height="389.7"/></clipPath>
<clipPath id="clipf"><rect x="152.4" y="1297.9" width="482.4" height="388.8"/></clipPath>
</defs>
<rect width="1862" height="1760" fill="#fff"/>
<g id="pa">
<rect x="70.5" y="-0.55" width="407" height="204.05" fill="#ffffdc"/>
<line x1="70.5" y1="0.5" x2="477.5" y2="0.5" stroke="#8c8c84" stroke-width="1.2"/>
<line x1="70.5" y1="0" x2="70.5" y2="203.5" stroke="#c4c4c4" stroke-width="0.9"/>
<line x1="172.25" y1="-0.55" x2="172.25" y2="203.5" stroke="#c8c8c4" stroke-width="0.9"/>
<line x1="274" y1="-0.55" x2="274" y2="203.5" stroke="#c8c8c4" stroke-width="0.9"/>
<line x1="375.75" y1="-0.55" x2="375.75" y2="203.5" stroke="#c8c8c4" stroke-width="0.9"/>
<polygon points="477.5,-0.55 841.2,331 841.2,626 477.5,203.5" fill="#e6f7f5"/>
<line x1="499.02" y1="19.06" x2="499.02" y2="228.5" stroke="#c4d0d0" stroke-width="0.9"/>
<line x1="545.65" y1="61.57" x2="545.65" y2="282.66" stroke="#c4d0d0" stroke-width="0.9"/>
<line x1="597.77" y1="109.09" x2="597.77" y2="343.22" stroke="#c4d0d0" stroke-width="0.9"/>
<line x1="656.43" y1="162.56" x2="656.43" y2="411.36" stroke="#c4d0d0" stroke-width="0.9"/>
<line x1="722.93" y1="223.18" x2="722.93" y2="488.61" stroke="#c4d0d0" stroke-width="0.9"/>
<line x1="798.95" y1="292.49" x2="798.95" y2="576.92" stroke="#c4d0d0" stroke-width="0.9"/>
<line x1="477.5" y1="-0.55" x2="841.2" y2="331" stroke="#606060" stroke-width="1"/>
<line x1="477.5" y1="-0.55" x2="477.5" y2="203.5" stroke="#a8a8a8" stroke-width="1"/>
<polygon points="70.5,203.5 477.5,203.5 841.2,626 252.8,626" fill="#ebebeb"/>
<line x1="172.25" y1="203.5" x2="399.9" y2="626" stroke="#cfcfcf" stroke-width="1"/>
<line x1="274" y1="203.5" x2="547" y2="626" stroke="#cfcfcf" stroke-width="1"/>
<line x1="375.75" y1="203.5" x2="694.1" y2="626" stroke="#cfcfcf" stroke-width="1"/>
<line x1="81.29" y1="228.5" x2="499.02" y2="228.5" stroke="#cfcfcf" stroke-width="1"/>
<line x1="104.66" y1="282.66" x2="545.65" y2="282.66" stroke="#cfcfcf" stroke-width="1"/>
<line x1="130.78" y1="343.22" x2="597.77" y2="343.22" stroke="#cfcfcf" stroke-width="1"/>
<line x1="160.19" y1="411.36" x2="656.43" y2="411.36" stroke="#cfcfcf" stroke-width="1"/>
<line x1="193.52" y1="488.61" x2="722.93" y2="488.61" stroke="#cfcfcf" stroke-width="1"/>
<line x1="231.62" y1="576.92" x2="798.95" y2="576.92" stroke="#cfcfcf" stroke-width="1"/>
<line x1="66.5" y1="203.5" x2="477.5" y2="203.5" stroke="#222" stroke-width="1.1"/>
<line x1="477.5" y1="203.5" x2="841.2" y2="626" stroke="#333" stroke-width="0.9"/>
<use href="#ca1" fill="url(#g1)"/>
<line x1="81.29" y1="228.9" x2="499.02" y2="228.9" stroke="#d4d4d4" stroke-width="1"/>
<use href="#ca1" fill="none" stroke="#8000ff" stroke-width="3.3" stroke-linejoin="round"/>
<use href="#ca3" fill="url(#g3)"/>
<line x1="104.66" y1="283.06" x2="545.65" y2="283.06" stroke="#d4d4d4" stroke-width="1"/>
<use href="#ca3" fill="none" stroke="#00cacc" stroke-width="3.3" stroke-linejoin="round"/>
<use href="#ca6" fill="url(#g6)"/>
<line x1="130.78" y1="343.62" x2="597.77" y2="343.62" stroke="#d4d4d4" stroke-width="1"/>
<use href="#ca6" fill="none" stroke="#0a960a" stroke-width="3.4" stroke-linejoin="round"/>
<use href="#ca10" fill="url(#g10)"/>
<line x1="160.19" y1="411.76" x2="656.43" y2="411.76" stroke="#d4d4d4" stroke-width="1"/>
<use href="#ca10" fill="none" stroke="#f4a460" stroke-width="2.7" stroke-linejoin="round"/>
<use href="#ca25" fill="url(#g25)"/>
<line x1="193.52" y1="489.01" x2="722.93" y2="489.01" stroke="#d4d4d4" stroke-width="1"/>
<use href="#ca25" fill="none" stroke="#ff0000" stroke-width="3" stroke-linejoin="round"/>
<use href="#ca50" fill="url(#g50)"/>
<line x1="231.62" y1="577.32" x2="798.95" y2="577.32" stroke="#d4d4d4" stroke-width="1"/>
<use href="#ca50" fill="none" stroke="#800000" stroke-width="2.9" stroke-linejoin="round"/>
<polygon points="69.58,203.9 71.42,203.1 254.31,626.35 251.29,627.65"/>
<line x1="246.8" y1="627.3" x2="842.8" y2="627.3" stroke="#000" stroke-width="3.3"/>
<line x1="841.2" y1="331" x2="841.2" y2="628.9" stroke="#000" stroke-width="3.3"/>
<line x1="252.8" y1="627.3" x2="252.8" y2="639.1" stroke="#000" stroke-width="3.2"/>
<text x="252.8" y="671.9" font-size="31" text-anchor="middle">300</text>
<line x1="326.35" y1="627.3" x2="326.35" y2="633.9" stroke="#000" stroke-width="3"/>
<line x1="399.9" y1="627.3" x2="399.9" y2="639.1" stroke="#000" stroke-width="3.2"/>
<text x="399.9" y="671.9" font-size="31" text-anchor="middle">400</text>
<line x1="473.45" y1="627.3" x2="473.45" y2="633.9" stroke="#000" stroke-width="3"/>
<line x1="547" y1="627.3" x2="547" y2="639.1" stroke="#000" stroke-width="3.2"/>
<text x="547" y="671.9" font-size="31" text-anchor="middle">500</text>
<line x1="620.55" y1="627.3" x2="620.55" y2="633.9" stroke="#000" stroke-width="3"/>
<line x1="694.1" y1="627.3" x2="694.1" y2="639.1" stroke="#000" stroke-width="3.2"/>
<text x="694.1" y="671.9" font-size="31" text-anchor="middle">600</text>
<line x1="767.65" y1="627.3" x2="767.65" y2="633.9" stroke="#000" stroke-width="3"/>
<line x1="841.2" y1="627.3" x2="841.2" y2="639.1" stroke="#000" stroke-width="3.2"/>
<text x="841.2" y="671.9" font-size="31" text-anchor="middle">700</text>
<line x1="81.29" y1="228.5" x2="73.38" y2="228.5" stroke="#000" stroke-width="1.59"/>
<text x="68.66" y="234.66" font-size="21.96" text-anchor="end">1</text>
<line x1="104.66" y1="282.66" x2="96.31" y2="282.66" stroke="#000" stroke-width="1.68"/>
<text x="91.33" y="289.26" font-size="23.19" text-anchor="end">3</text>
<line x1="130.78" y1="343.22" x2="121.95" y2="343.22" stroke="#000" stroke-width="1.78"/>
<text x="116.67" y="350.31" font-size="24.55" text-anchor="end">6</text>
<line x1="160.19" y1="411.36" x2="150.8" y2="411.36" stroke="#000" stroke-width="1.89"/>
<text x="145.19" y="419" font-size="26.09" text-anchor="end">10</text>
<line x1="193.52" y1="488.61" x2="183.5" y2="488.61" stroke="#000" stroke-width="2.02"/>
<text x="177.52" y="497.22" font-size="28.81" text-anchor="end">25</text>
<line x1="231.62" y1="576.92" x2="220.89" y2="576.92" stroke="#000" stroke-width="2.16"/>
<text x="214.48" y="585.9" font-size="29.83" text-anchor="end">50</text>
<line x1="70.5" y1="203.5" x2="66.5" y2="203.5" stroke="#000" stroke-width="1.5"/>
<line x1="92.65" y1="254.85" x2="88.44" y2="254.85" stroke="#000" stroke-width="1.58"/>
<line x1="117.35" y1="312.07" x2="112.89" y2="312.07" stroke="#000" stroke-width="1.67"/>
<line x1="145.04" y1="376.25" x2="140.31" y2="376.25" stroke="#000" stroke-width="1.77"/>
<line x1="176.31" y1="448.73" x2="171.28" y2="448.73" stroke="#000" stroke-width="1.89"/>
<line x1="211.91" y1="531.24" x2="206.53" y2="531.24" stroke="#000" stroke-width="2.02"/>
<text x="562" y="718" font-size="33.3" text-anchor="middle" font-weight="bold">Wavelength (nm)</text>
<text x="0" y="0" font-size="33.3" text-anchor="middle" font-weight="bold" transform="translate(896 478.5) rotate(-90)">PL intensity (a.u.)</text>
<text x="0" y="0" font-size="28" text-anchor="middle" font-weight="bold" transform="translate(98.3 456.7) rotate(71)">Weight % of R-(BN)<tspan font-size="17.5" dy="9">2</tspan><tspan dy="-9"> in PMMA matrix</tspan></text>
<text x="-1.6" y="44.6" font-size="35.2" letter-spacing="0.5">(a)</text>
</g>
<g id="pb">
<rect x="989.5" y="0.67" width="406" height="202.83" fill="#ffffdc"/>
<line x1="989.5" y1="0.5" x2="1395.5" y2="0.5" stroke="#8c8c84" stroke-width="1.2"/>
<line x1="989.5" y1="0" x2="989.5" y2="203.5" stroke="#74746c" stroke-width="1.1"/>
<line x1="1070.7" y1="0.67" x2="1070.7" y2="203.5" stroke="#c8c8c4" stroke-width="0.9"/>
<line x1="1151.9" y1="0.67" x2="1151.9" y2="203.5" stroke="#c8c8c4" stroke-width="0.9"/>
<line x1="1233.1" y1="0.67" x2="1233.1" y2="203.5" stroke="#c8c8c4" stroke-width="0.9"/>
<line x1="1314.3" y1="0.67" x2="1314.3" y2="203.5" stroke="#c8c8c4" stroke-width="0.9"/>
<polygon points="1395.5,0.67 1759.8,332 1759.8,626 1395.5,203.5" fill="#e6f7f5"/>
<line x1="1417" y1="20.23" x2="1417" y2="228.43" stroke="#c4d0d0" stroke-width="0.9"/>
<line x1="1463.61" y1="62.62" x2="1463.61" y2="282.49" stroke="#c4d0d0" stroke-width="0.9"/>
<line x1="1515.76" y1="110.05" x2="1515.76" y2="342.97" stroke="#c4d0d0" stroke-width="0.9"/>
<line x1="1574.49" y1="163.46" x2="1574.49" y2="411.08" stroke="#c4d0d0" stroke-width="0.9"/>
<line x1="1641.12" y1="224.06" x2="1641.12" y2="488.36" stroke="#c4d0d0" stroke-width="0.9"/>
<line x1="1717.38" y1="293.42" x2="1717.38" y2="576.81" stroke="#c4d0d0" stroke-width="0.9"/>
<line x1="1395.5" y1="0.67" x2="1759.8" y2="332" stroke="#606060" stroke-width="1"/>
<line x1="1395.5" y1="0.67" x2="1395.5" y2="203.5" stroke="#a8a8a8" stroke-width="1"/>
<polygon points="989.5,203.5 1395.5,203.5 1759.8,626 1171.3,626" fill="#ebebeb"/>
<line x1="1070.7" y1="203.5" x2="1289" y2="626" stroke="#cfcfcf" stroke-width="1"/>
<line x1="1151.9" y1="203.5" x2="1406.7" y2="626" stroke="#cfcfcf" stroke-width="1"/>
<line x1="1233.1" y1="203.5" x2="1524.4" y2="626" stroke="#cfcfcf" stroke-width="1"/>
<line x1="1314.3" y1="203.5" x2="1642.1" y2="626" stroke="#cfcfcf" stroke-width="1"/>
<line x1="1000.23" y1="228.43" x2="1417" y2="228.43" stroke="#cfcfcf" stroke-width="1"/>
<line x1="1023.49" y1="282.49" x2="1463.61" y2="282.49" stroke="#cfcfcf" stroke-width="1"/>
<line x1="1049.51" y1="342.97" x2="1515.76" y2="342.97" stroke="#cfcfcf" stroke-width="1"/>
<line x1="1078.82" y1="411.08" x2="1574.49" y2="411.08" stroke="#cfcfcf" stroke-width="1"/>
<line x1="1112.08" y1="488.36" x2="1641.12" y2="488.36" stroke="#cfcfcf" stroke-width="1"/>
<line x1="1150.13" y1="576.81" x2="1717.38" y2="576.81" stroke="#cfcfcf" stroke-width="1"/>
<line x1="985.5" y1="203.5" x2="1395.5" y2="203.5" stroke="#222" stroke-width="1.1"/>
<line x1="1395.5" y1="203.5" x2="1759.8" y2="626" stroke="#333" stroke-width="0.9"/>
<use href="#cb1" fill="url(#g1)"/>
<line x1="1000.23" y1="228.83" x2="1417" y2="228.83" stroke="#d4d4d4" stroke-width="1"/>
<use href="#cb1" fill="none" stroke="#8000ff" stroke-width="3" stroke-linejoin="round"/>
<use href="#cb3" fill="url(#g3)"/>
<line x1="1023.49" y1="282.89" x2="1463.61" y2="282.89" stroke="#d4d4d4" stroke-width="1"/>
<use href="#cb3" fill="none" stroke="#00cacc" stroke-width="3" stroke-linejoin="round"/>
<use href="#cb6" fill="url(#g6)"/>
<line x1="1049.51" y1="343.37" x2="1515.76" y2="343.37" stroke="#d4d4d4" stroke-width="1"/>
<use href="#cb6" fill="none" stroke="#0a960a" stroke-width="3.1" stroke-linejoin="round"/>
<use href="#cb10" fill="url(#g10)"/>
<line x1="1078.82" y1="411.48" x2="1574.49" y2="411.48" stroke="#d4d4d4" stroke-width="1"/>
<use href="#cb10" fill="none" stroke="#f4a460" stroke-width="2.6" stroke-linejoin="round"/>
<use href="#cb25" fill="url(#g25)"/>
<line x1="1112.08" y1="488.76" x2="1641.12" y2="488.76" stroke="#d4d4d4" stroke-width="1"/>
<use href="#cb25" fill="none" stroke="#ff0000" stroke-width="2.7" stroke-linejoin="round"/>
<use href="#cb50" fill="url(#g50)"/>
<line x1="1150.13" y1="577.21" x2="1717.38" y2="577.21" stroke="#d4d4d4" stroke-width="1"/>
<use href="#cb50" fill="none" stroke="#800000" stroke-width="2.7" stroke-linejoin="round"/>
<polygon points="988.58,203.9 990.42,203.1 1172.82,626.35 1169.78,627.65"/>
<line x1="1165.3" y1="627.3" x2="1761.4" y2="627.3" stroke="#000" stroke-width="3.3"/>
<line x1="1759.8" y1="332" x2="1759.8" y2="628.9" stroke="#000" stroke-width="3.3"/>
<line x1="1171.3" y1="627.3" x2="1171.3" y2="639.1" stroke="#000" stroke-width="3.2"/>
<text x="1171.3" y="671.9" font-size="31" text-anchor="middle">300</text>
<line x1="1230.15" y1="627.3" x2="1230.15" y2="633.9" stroke="#000" stroke-width="3"/>
<line x1="1289" y1="627.3" x2="1289" y2="639.1" stroke="#000" stroke-width="3.2"/>
<text x="1289" y="671.9" font-size="31" text-anchor="middle">400</text>
<line x1="1347.85" y1="627.3" x2="1347.85" y2="633.9" stroke="#000" stroke-width="3"/>
<line x1="1406.7" y1="627.3" x2="1406.7" y2="639.1" stroke="#000" stroke-width="3.2"/>
<text x="1406.7" y="671.9" font-size="31" text-anchor="middle">500</text>
<line x1="1465.55" y1="627.3" x2="1465.55" y2="633.9" stroke="#000" stroke-width="3"/>
<line x1="1524.4" y1="627.3" x2="1524.4" y2="639.1" stroke="#000" stroke-width="3.2"/>
<text x="1524.4" y="671.9" font-size="31" text-anchor="middle">600</text>
<line x1="1583.25" y1="627.3" x2="1583.25" y2="633.9" stroke="#000" stroke-width="3"/>
<line x1="1642.1" y1="627.3" x2="1642.1" y2="639.1" stroke="#000" stroke-width="3.2"/>
<text x="1642.1" y="671.9" font-size="31" text-anchor="middle">700</text>
<line x1="1700.95" y1="627.3" x2="1700.95" y2="633.9" stroke="#000" stroke-width="3"/>
<line x1="1759.8" y1="627.3" x2="1759.8" y2="639.1" stroke="#000" stroke-width="3.2"/>
<text x="1759.8" y="671.9" font-size="31" text-anchor="middle">800</text>
<line x1="1000.23" y1="228.43" x2="992.32" y2="228.43" stroke="#000" stroke-width="1.59"/>
<text x="987.6" y="234.6" font-size="21.97" text-anchor="end">1</text>
<line x1="1023.49" y1="282.49" x2="1015.14" y2="282.49" stroke="#000" stroke-width="1.68"/>
<text x="1010.16" y="289.1" font-size="23.2" text-anchor="end">3</text>
<line x1="1049.51" y1="342.97" x2="1040.67" y2="342.97" stroke="#000" stroke-width="1.78"/>
<text x="1035.39" y="350.07" font-size="24.58" text-anchor="end">6</text>
<line x1="1078.82" y1="411.08" x2="1069.42" y2="411.08" stroke="#000" stroke-width="1.89"/>
<text x="1063.8" y="418.73" font-size="26.13" text-anchor="end">10</text>
<line x1="1112.08" y1="488.36" x2="1102.04" y2="488.36" stroke="#000" stroke-width="2.02"/>
<text x="1096.05" y="497" font-size="28.86" text-anchor="end">25</text>
<line x1="1150.13" y1="576.81" x2="1139.37" y2="576.81" stroke="#000" stroke-width="2.17"/>
<text x="1132.95" y="585.81" font-size="29.9" text-anchor="end">50</text>
<line x1="989.5" y1="203.5" x2="985.5" y2="203.5" stroke="#000" stroke-width="1.5"/>
<line x1="1011.54" y1="254.73" x2="1007.32" y2="254.73" stroke="#000" stroke-width="1.58"/>
<line x1="1036.13" y1="311.86" x2="1031.67" y2="311.86" stroke="#000" stroke-width="1.67"/>
<line x1="1063.72" y1="375.98" x2="1058.98" y2="375.98" stroke="#000" stroke-width="1.78"/>
<line x1="1094.91" y1="448.46" x2="1089.86" y2="448.46" stroke="#000" stroke-width="1.89"/>
<line x1="1130.44" y1="531.04" x2="1125.05" y2="531.04" stroke="#000" stroke-width="2.02"/>
<text x="1465.55" y="722" font-size="33.3" text-anchor="middle" font-weight="bold">Wavelength (nm)</text>
<text x="0" y="0" font-size="33.3" text-anchor="middle" font-weight="bold" transform="translate(1813 479) rotate(-90)">PL intensity (a.u.)</text>
<text x="0" y="0" font-size="28" text-anchor="middle" font-weight="bold" transform="translate(1004.8 446.5) rotate(71)">Weight % of R-(BN)<tspan font-size="17.5" dy="9">2</tspan><tspan dy="-9"> in PMMA matrix</tspan></text>
<text x="920.4" y="44.6" font-size="35.2" letter-spacing="0.5">(b)</text>
</g>
<g id="pc">
<rect x="153.2" y="794.6" width="482.5" height="389" fill="none" stroke="#000" stroke-width="2.6"/>
<g clip-path="url(#clipc)">
<path d="M153.2 840.1L153.7 838.7L154.2 839.6L154.6 841.3L155.1 842.6L155.6 841.4L156.1 842.3L156.6 844.0L157.1 842.8L157.5 844.8L158 844.9L158.5 845.7L159 848.4L159.5 847.4L160 847.2L160.4 848.2L160.9 849.8L161.4 848.0L161.9 851.1L162.4 850.5L162.9 850.7L163.3 852.1L163.8 852.1L164.3 851.4L164.8 852.3L165.3 854.7L165.8 854.1L166.2 854.5L166.7 855.0L167.2 856.8L167.7 856.8L168.2 856.4L168.7 856.0L169.1 857.1L169.6 857.7L170.1 857.9L170.6 857.7L171.1 860.3L171.6 858.9L172 860.5L172.5 860.1L173 862.1L173.5 863.4L174 861.5L174.5 862.6L174.9 863.1L175.4 864.1L175.9 865.7L176.4 866.7L176.9 864.6L177.3 866.4L177.8 865.3L178.3 867.5L178.8 868.9L179.3 868.5L179.8 869.8L180.2 868.6L180.7 871.1L181.2 869.5L181.7 870.9L182.2 870.7L182.7 871.6L183.1 873.8L183.6 872.1L184.1 873.8L184.6 875.3L185.1 873.1L185.6 873.9L186 875.2L186.5 877.9L187 876.9L187.5 875.1L188 878.5L188.5 877.0L188.9 875.2L189.4 876.8L189.9 878.0L190.4 880.7L190.9 880.7L191.4 879.4L191.8 881.1L192.3 881.4L192.8 879.8L193.3 881.3L193.8 882.2L194.3 887.4L194.7 884.8L195.2 882.3L195.7 884.1L196.2 883.9L196.7 885.6L197.2 884.5L197.6 884.5L198.1 887.5L198.6 886.0L199.1 888.4L199.6 887.6L200 887.2L200.5 889.4L201 890.8L201.5 890.1L202 888.2L202.5 891.3L202.9 893.6L203.4 893.9L203.9 892.7L204.4 889.9L204.9 894.7L205.4 893.5L205.8 895.8L206.3 894.3L206.8 895.4L207.3 893.8L207.8 896.1L208.3 897.7L208.7 895.4L209.2 896.3L209.7 898.0L210.2 897.8L210.7 897.3L211.2 898.2L211.6 897.5L212.1 898.5L212.6 898.5L213.1 900.1L213.6 900.8L214.1 902.2L214.5 902.1L215 900.1L215.5 899.8L216 901.8L216.5 900.8L217 899.9L217.4 905.1L217.9 905.6L218.4 901.7L218.9 902.5L219.4 906.3L219.9 904.3L220.3 906.0L220.8 906.9L221.3 905.8L221.8 906.7L222.3 906.3L222.7 903.5L223.2 909.8L223.7 908.5L224.2 906.7L224.7 906.0L225.2 910.0L225.6 906.1L226.1 908.9L226.6 906.5L227.1 907.9L227.6 911.5L228.1 909.2L228.5 913.6L229 910.8L229.5 911.1L230 913.4L230.5 914.0L231 915.4L231.4 913.4L231.9 918.2L232.4 913.6L232.9 914.3L233.4 914.5L233.9 915.7L234.3 915.1L234.8 918.6L235.3 914.7L235.8 916.3L236.3 916.4L236.8 917.4L237.2 917.3L237.7 916.7L238.2 912.6L238.7 915.8L239.2 918.3L239.7 915.9L240.1 914.9L240.6 920.5L241.1 917.1L241.6 916.8L242.1 920.8L242.6 922.9L243 919.7L243.5 919.8L244 920.5L244.5 919.7L245 924.8L245.4 920.6L245.9 920.7L246.4 921.4L246.9 923.2L247.4 919.0L247.9 922.7L248.3 924.9L248.8 924.3L249.3 923.1L249.8 923.1L250.3 927.7L250.8 927.5L251.2 930.3L251.7 924.4L252.2 923.2L252.7 930.1L253.2 929.0L253.7 927.1L254.1 927.3L254.6 928.7L255.1 930.6L255.6 927.2L256.1 930.8L256.6 930.2L257 929.8L257.5 929.2L258 927.8L258.5 928.0L259 930.8L259.5 932.0L259.9 930.0L260.4 932.8L260.9 929.3L261.4 936.1L261.9 930.5L262.4 929.7L262.8 935.1L263.3 934.6L263.8 930.3L264.3 935.5L264.8 931.7L265.3 936.1L265.7 933.9L266.2 933.7L266.7 935.4L267.2 934.1L267.7 933.9L268.1 935.9L268.6 934.4L269.1 933.8L269.6 938.7L270.1 935.8L270.6 937.2L271 940.4L271.5 941.8L272 938.5L272.5 944.6L273 940.4L273.5 936.9L273.9 938.9L274.4 937.0L274.9 944.2L275.4 938.6L275.9 940.4L276.4 939.2L276.8 943.9L277.3 938.3L277.8 942.2L278.3 940.0L278.8 942.2L279.3 944.9L279.7 943.3L280.2 946.2L280.7 940.5L281.2 944.4L281.7 941.2L282.2 941.4L282.6 948.1L283.1 944.3L283.6 944.9L284.1 948.3L284.6 947.9L285.1 947.0L285.5 950.4L286 946.5L286.5 953.7L287 948.3L287.5 951.8L288 947.8L288.4 948.6L288.9 950.2L289.4 951.6L289.9 948.3L290.4 949.2L290.9 948.4L291.3 951.8L291.8 953.9L292.3 957.9L292.8 950.9L293.3 949.1L293.7 951.2L294.2 955.6L294.7 956.0L295.2 948.4L295.7 950.4L296.2 952.6L296.6 958.9L297.1 957.7L297.6 958.7L298.1 958.1L298.6 959.6L299.1 957.7L299.5 957.1L300 959.8L300.5 953.5L301 960.0L301.5 960.2L302 958.1L302.4 959.1L302.9 956.1L303.4 959.8L303.9 965.1L304.4 961.5L304.9 955.8L305.3 965.6L305.8 963.9L306.3 965.6L306.8 962.6L307.3 964.6L307.8 959.3L308.2 961.3L308.7 965.8L309.2 965.6L309.7 966.6L310.2 965.4L310.7 970.4L311.1 963.3L311.6 961.9L312.1 966.1L312.6 971.5L313.1 967.1L313.6 965.4L314 968.1L314.5 964.2L315 966.1L315.5 969.9L316 969.6L316.4 963.0L316.9 971.5L317.4 966.8L317.9 968.1L318.4 972.1L318.9 966.8L319.3 971.3L319.8 974.1L320.3 973.2L320.8 973.5L321.3 971.5L321.8 976.9L322.2 975.9L322.7 973.0L323.2 975.0L323.7 969.4L324.2 972.1L324.7 969.6L325.1 977.5L325.6 978.8L326.1 982.9L326.6 973.0L327.1 976.2L327.6 982.9L328 980.1L328.5 976.5L329 975.0L329.5 976.5L330 974.4L330.5 977.2L330.9 981.9L331.4 979.8L331.9 980.1L332.4 984.8L332.9 985.6L333.4 979.1L333.8 981.2L334.3 978.8L334.8 980.8L335.3 985.2L335.8 979.8L336.3 981.5L336.7 983.3L337.2 982.6L337.7 978.1L338.2 978.1L338.7 980.8L339.1 981.2L339.6 981.2L340.1 986.3L340.6 986.0L341.1 986.7L341.6 980.1L342 990.9L342.5 981.5L343 978.5L343.5 991.4L344 981.9L344.5 982.2L344.9 987.1L345.4 993.6L345.9 984.8L346.4 994.1L346.9 973.2L347.4 989.6L347.8 987.1L348.3 987.1L348.8 994.6L349.3 977.8L349.8 993.2L350.3 986.7L350.7 992.7L351.2 984.0L351.7 982.9L352.2 1006.1L352.7 992.3L353.2 996.6L353.6 992.3L354.1 983.7L354.6 999.1L355.1 989.6L355.6 981.2L356.1 995.1L356.5 995.6L357 990.5L357.5 987.1L358 994.6L358.5 1000.8L359 1000.2L359.4 987.5L359.9 998.1L360.4 989.2L360.9 992.7L361.4 995.1L361.8 999.7L362.3 1005.5L362.8 998.1L363.3 1000.8L363.8 1004.8L364.3 997.6L364.7 990.1L365.2 1001.3L365.7 998.1L366.2 993.2L366.7 1003.1L367.2 1001.3L367.6 998.1L368.1 1010.0L368.6 987.5L369.1 999.7L369.6 997.1L370.1 1008.7L370.5 1008.0L371 999.1L371.5 1006.1L372 1003.6L372.5 995.6L373 997.1L373.4 998.6L373.9 1004.8L374.4 997.6L374.9 999.1L375.4 1010.7L375.9 1004.8L376.3 997.6L376.8 1008.7L377.3 1020.2L377.8 1000.8L378.3 998.1L378.8 998.1L379.2 1001.9L379.7 1006.1L380.2 1004.8L380.7 1005.5L381.2 1008.0L381.7 1011.5L382.1 1002.5L382.6 1009.4L383.1 1003.6L383.6 995.6L384.1 1010.7L384.5 1004.2L385 1007.4L385.5 1011.5L386 1009.4L386.5 1004.2L387 1009.4L387.4 1014.4L387.9 1019.3L388.4 1007.4L388.9 1012.2L389.4 1001.9L389.9 1007.4L390.3 1013.7L390.8 1013.7L391.3 1008.0L391.8 1010.7L392.3 1015.2L392.8 1017.6L393.2 1022.9L393.7 1019.3L394.2 1016.8L394.7 1007.4L395.2 1027.8L395.7 1013.7L396.1 1010.0L396.6 1017.6L397.1 1016.8L397.6 1016.8L398.1 1020.2L398.6 1021.9L399 1014.4L399.5 1025.8L400 1014.4L400.5 1018.4L401 1018.4L401.5 1022.9L401.9 1009.4L402.4 1019.3L402.9 1012.9L403.4 1006.7L403.9 1020.2L404.4 1030.0L404.8 1025.8L405.3 1019.3L405.8 1028.9L406.3 1033.5L406.8 1025.8L407.2 1026.8L407.7 1013.7L408.2 1014.4L408.7 1021.9L409.2 1026.8L409.7 1030.0L410.1 1022.9L410.6 1023.8L411.1 1021.9L411.6 1019.3L412.1 1032.3L412.6 1016.0L413 1023.8L413.5 1021.9L414 1031.1L414.5 1023.8L415 1034.7L415.5 1016.0L415.9 1027.8L416.4 1026.8L416.9 1021.0L417.4 1027.8L417.9 1036.0L418.4 1027.8L418.8 1030.0L419.3 1032.3L419.8 1040.0L420.3 1027.8L420.8 1036.0L421.3 1034.7L421.7 1031.1L422.2 1036.0L422.7 1025.8L423.2 1025.8L423.7 1033.5L424.2 1030.0L424.6 1026.8L425.1 1036.0L425.6 1034.7L426.1 1047.7L426.6 1032.3L427.1 1041.4L427.5 1041.4L428 1031.1L428.5 1021.9L429 1046.0L429.5 1028.9L429.9 1049.4L430.4 1041.4L430.9 1040.0L431.4 1036.0L431.9 1025.8L432.4 1044.4L432.8 1046.0L433.3 1053.1L433.8 1037.2L434.3 1032.3L434.8 1033.5L435.3 1024.8L435.7 1047.7L436.2 1041.4L436.7 1040.0L437.2 1041.4L437.7 1053.1L438.2 1044.4L438.6 1049.4L439.1 1047.7L439.6 1037.2L440.1 1040.0L440.6 1049.4L441.1 1046.0L441.5 1053.1L442 1038.6L442.5 1055.0L443 1046.0L443.5 1042.9L444 1047.7L444.4 1041.4L444.9 1046.0L445.4 1044.4L445.9 1057.1L446.4 1049.4L446.9 1040.0L447.3 1046.0L447.8 1042.9L448.3 1046.0L448.8 1044.4L449.3 1063.9L449.8 1049.4L450.2 1041.4L450.7 1061.5L451.2 1041.4L451.7 1032.3L452.2 1037.2L452.6 1053.1L453.1 1059.2L453.6 1047.7L454.1 1041.4L454.6 1051.2L455.1 1049.4L455.5 1044.4L456 1053.1L456.5 1041.4L457 1047.7L457.5 1040.0L458 1046.0L458.4 1046.0L458.9 1055.0L459.4 1047.7L459.9 1061.5L460.4 1069.2L460.9 1072.1L461.3 1075.2L461.8 1075.2L462.3 1059.2L462.8 1042.9L463.3 1061.5L463.8 1053.1L464.2 1053.1L464.7 1055.0L465.2 1069.2L465.7 1053.1L466.2 1086.3L466.7 1053.1L467.1 1075.2L467.6 1057.1L468.1 1047.7L468.6 1059.2L469.1 1069.2L469.6 1057.1L470 1049.4L470.5 1082.3L471 1047.7L471.5 1061.5L472 1053.1L472.5 1069.2L472.9 1053.1L473.4 1063.9L473.9 1069.2L474.4 1061.5L474.9 1059.2L475.3 1053.1L475.8 1066.5L476.3 1059.2L476.8 1042.9L477.3 1086.3L477.8 1069.2L478.2 1066.5L478.7 1075.2L479.2 1063.9L479.7 1101.3L480.2 1101.3L480.7 1059.2L481.1 1042.9L481.6 1066.5L482.1 1078.6L482.6 1049.4L483.1 1057.1L483.6 1078.6L484 1095.7L484.5 1101.3L485 1061.5L485.5 1055.0L486 1072.1L486.5 1061.5L486.9 1072.1L487.4 1078.6L487.9 1069.2L488.4 1072.1L488.9 1063.9L489.4 1061.5L489.8 1078.6L490.3 1101.3L490.8 1075.2L491.3 1072.1L491.8 1069.2L492.3 1061.5L492.7 1063.9L493.2 1082.3L493.7 1078.6L494.2 1072.1L494.7 1075.2L495.2 1086.3L495.6 1090.7L496.1 1066.5L496.6 1069.2L497.1 1061.5L497.6 1090.7L498 1082.3L498.5 1115.5L499 1072.1L499.5 1075.2L500 1063.9L500.5 1090.7L500.9 1072.1L501.4 1075.2L501.9 1075.2L502.4 1078.6L502.9 1078.6L503.4 1090.7L503.8 1066.5L504.3 1078.6L504.8 1055.0L505.3 1086.3L505.8 1072.1L506.3 1061.5L506.7 1082.3L507.2 1086.3L507.7 1086.3L508.2 1082.3L508.7 1082.3L509.2 1082.3L509.6 1078.6L510.1 1107.8L510.6 1082.3L511.1 1082.3L511.6 1066.5L512.1 1090.7L512.5 1101.3L513 1069.2L513.5 1078.6L514 1095.7L514.5 1075.2L515 1063.9L515.4 1095.7L515.9 1066.5L516.4 1095.7L516.9 1057.1L517.4 1078.6L517.9 1078.6L518.3 1107.8L518.8 1086.3L519.3 1082.3L519.8 1086.3L520.3 1090.7L520.8 1072.1L521.2 1090.7L521.7 1075.2L522.2 1090.7L522.7 1072.1L523.2 1055.0L523.6 1078.6L524.1 1066.5L524.6 1082.3L525.1 1082.3L525.6 1090.7L526.1 1086.3L526.5 1090.7L527 1086.3L527.5 1078.6L528 1101.3L528.5 1075.2L529 1095.7L529.4 1082.3L529.9 1115.5L530.4 1115.5L530.9 1115.5L531.4 1082.3L531.9 1115.5L532.3 1101.3L532.8 1101.3L533.3 1115.5L533.8 1086.3L534.3 1101.3L534.8 1078.6L535.2 1095.7L535.7 1101.3L536.2 1115.5L536.7 1095.7L537.2 1082.3L537.7 1075.2L538.1 1082.3L538.6 1078.6L539.1 1090.7L539.6 1072.1L540.1 1082.3L540.6 1137.1L541 1090.7L541.5 1137.1L542 1086.3L542.5 1078.6L543 1095.7L543.5 1086.3L543.9 1072.1L544.4 1086.3L544.9 1078.6L545.4 1115.5L545.9 1086.3L546.3 1090.7L546.8 1107.8L547.3 1082.3L547.8 1154.2L548.3 1090.7L548.8 1101.3L549.2 1072.1L549.7 1086.3L550.2 1107.8L550.7 1090.7L551.2 1107.8L551.7 1101.3L552.1 1107.8L552.6 1095.7L553.1 1137.1L553.6 1107.8L554.1 1078.6L554.6 1095.7L555 1069.2L555.5 1095.7L556 1069.2L556.5 1086.3L557 1072.1L557.5 1095.7L557.9 1124.9L558.4 1086.3L558.9 1078.6L559.4 1090.7L559.9 1115.5L560.4 1086.3L560.8 1183.4L561.3 1115.5L561.8 1124.9L562.3 1115.5L562.8 1075.2L563.3 1101.3L563.7 1090.7L564.2 1095.7L564.7 1137.1L565.2 1095.7L565.7 1101.3L566.2 1115.5L566.6 1082.3L567.1 1078.6L567.6 1075.2L568.1 1069.2L568.6 1078.6L569 1095.7L569.5 1090.7L570 1078.6L570.5 1107.8L571 1101.3L571.5 1090.7L571.9 1115.5L572.4 1082.3L572.9 1124.9L573.4 1107.8L573.9 1090.7L574.4 1086.3L574.8 1107.8L575.3 1078.6L575.8 1101.3L576.3 1090.7L576.8 1090.7L577.3 1115.5L577.7 1078.6L578.2 1124.9L578.7 1095.7L579.2 1107.8L579.7 1124.9L580.2 1107.8L580.6 1086.3L581.1 1095.7L581.6 1101.3L582.1 1086.3L582.6 1107.8L583.1 1095.7L583.5 1124.9L584 1082.3L584.5 1086.3L585 1090.7L585.5 1107.8L586 1124.9L586.4 1107.8L586.9 1107.8L587.4 1107.8L587.9 1090.7L588.4 1107.8L588.9 1078.6L589.3 1107.8L589.8 1124.9L590.3 1090.7L590.8 1075.2L591.3 1095.7L591.7 1082.3L592.2 1095.7L592.7 1072.1L593.2 1095.7L593.7 1082.3L594.2 1095.7L594.6 1075.2L595.1 1137.1L595.6 1095.7L596.1 1095.7L596.6 1095.7L597.1 1183.4L597.5 1154.2L598 1101.3L598.5 1107.8L599 1078.6L599.5 1101.3L600 1095.7L600.4 1115.5L600.9 1107.8L601.4 1124.9L601.9 1107.8L602.4 1101.3L602.9 1095.7L603.3 1124.9L603.8 1107.8L604.3 1107.8L604.8 1078.6L605.3 1082.3L605.8 1124.9L606.2 1107.8L606.7 1107.8L607.2 1082.3L607.7 1086.3L608.2 1090.7L608.7 1095.7L609.1 1090.7L609.6 1115.5L610.1 1082.3L610.6 1090.7L611.1 1115.5L611.6 1101.3L612 1075.2L612.5 1095.7L613 1107.8L613.5 1107.8L614 1095.7L614.4 1090.7L614.9 1115.5L615.4 1082.3L615.9 1107.8L616.4 1095.7L616.9 1115.5L617.3 1115.5L617.8 1107.8L618.3 1101.3L618.8 1095.7L619.3 1086.3L619.8 1124.9L620.2 1124.9L620.7 1154.2L621.2 1101.3L621.7 1115.5L622.2 1107.8L622.7 1124.9L623.1 1124.9L623.6 1082.3L624.1 1115.5L624.6 1137.1L625.1 1115.5L625.6 1124.9L626 1115.5L626.5 1101.3L627 1107.8L627.5 1107.8L628 1137.1L628.5 1078.6L628.9 1090.7L629.4 1095.7L629.9 1101.3L630.4 1137.1L630.9 1095.7L631.4 1107.8L631.8 1082.3L632.3 1115.5L632.8 1101.3L633.3 1090.7L633.8 1107.8L634.3 1124.9L634.7 1115.5L635.2 1107.8L635.7 1090.7" fill="none" stroke="none" marker-start="url(#m1)" marker-mid="url(#m1)" marker-end="url(#m1)"/>
<path d="M153.2 841.9L153.7 842.4L154.2 842.2L154.6 843.9L155.1 844.1L155.6 845.6L156.1 846.3L156.6 848.1L157.1 847.7L157.5 848.4L158 848.0L158.5 848.6L159 848.2L159.5 849.7L160 850.7L160.4 850.8L160.9 851.8L161.4 852.5L161.9 853.3L162.4 853.2L162.9 856.4L163.3 856.3L163.8 856.2L164.3 854.8L164.8 857.0L165.3 857.0L165.8 856.9L166.2 857.7L166.7 860.4L167.2 858.9L167.7 861.8L168.2 861.5L168.7 861.6L169.1 861.2L169.6 862.8L170.1 861.8L170.6 863.8L171.1 863.1L171.6 863.8L172 866.2L172.5 868.2L173 867.8L173.5 866.9L174 867.2L174.5 865.6L174.9 869.3L175.4 867.9L175.9 870.0L176.4 870.3L176.9 870.2L177.3 872.5L177.8 871.9L178.3 871.6L178.8 871.9L179.3 874.7L179.8 873.5L180.2 875.8L180.7 871.5L181.2 874.3L181.7 875.0L182.2 876.9L182.7 878.7L183.1 879.4L183.6 879.2L184.1 880.0L184.6 878.7L185.1 878.8L185.6 879.1L186 878.3L186.5 881.0L187 880.3L187.5 883.6L188 884.5L188.5 885.5L188.9 882.5L189.4 884.0L189.9 884.2L190.4 887.5L190.9 885.2L191.4 888.0L191.8 886.6L192.3 886.2L192.8 889.4L193.3 888.5L193.8 889.4L194.3 888.3L194.7 888.5L195.2 891.1L195.7 889.2L196.2 890.3L196.7 890.5L197.2 892.8L197.6 891.1L198.1 890.3L198.6 892.7L199.1 891.9L199.6 891.8L200 894.4L200.5 892.5L201 896.1L201.5 893.1L202 895.4L202.5 895.7L202.9 896.2L203.4 895.1L203.9 899.7L204.4 898.5L204.9 901.2L205.4 900.0L205.8 902.1L206.3 901.0L206.8 901.2L207.3 899.6L207.8 901.7L208.3 903.0L208.7 902.0L209.2 904.6L209.7 906.0L210.2 906.1L210.7 905.4L211.2 904.8L211.6 907.7L212.1 905.7L212.6 905.3L213.1 905.6L213.6 904.9L214.1 908.7L214.5 910.7L215 909.2L215.5 909.6L216 906.7L216.5 911.9L217 909.3L217.4 910.5L217.9 911.0L218.4 912.8L218.9 912.2L219.4 910.6L219.9 913.5L220.3 910.1L220.8 911.2L221.3 912.1L221.8 913.6L222.3 916.8L222.7 915.5L223.2 914.5L223.7 918.7L224.2 918.7L224.7 915.8L225.2 918.6L225.6 920.1L226.1 914.9L226.6 918.6L227.1 920.3L227.6 921.3L228.1 918.7L228.5 920.3L229 916.9L229.5 920.0L230 925.6L230.5 924.2L231 926.1L231.4 926.5L231.9 923.5L232.4 924.8L232.9 927.0L233.4 929.0L233.9 925.3L234.3 924.4L234.8 931.2L235.3 925.9L235.8 924.0L236.3 927.9L236.8 929.7L237.2 926.8L237.7 929.4L238.2 931.1L238.7 937.0L239.2 931.7L239.7 931.7L240.1 933.3L240.6 932.5L241.1 929.9L241.6 934.3L242.1 931.4L242.6 936.3L243 931.4L243.5 932.0L244 938.0L244.5 934.5L245 934.5L245.4 937.1L245.9 938.1L246.4 938.3L246.9 937.1L247.4 940.7L247.9 936.5L248.3 938.5L248.8 940.8L249.3 939.4L249.8 940.1L250.3 945.2L250.8 940.3L251.2 936.3L251.7 938.7L252.2 940.8L252.7 942.7L253.2 940.5L253.7 944.3L254.1 941.6L254.6 940.8L255.1 946.2L255.6 946.8L256.1 943.3L256.6 944.4L257 945.5L257.5 951.2L258 948.7L258.5 946.4L259 955.8L259.5 947.5L259.9 947.5L260.4 945.5L260.9 950.9L261.4 950.4L261.9 948.4L262.4 949.1L262.8 953.5L263.3 949.9L263.8 953.0L264.3 955.6L264.8 958.3L265.3 953.0L265.7 949.6L266.2 956.0L266.7 955.8L267.2 957.3L267.7 953.5L268.1 952.8L268.6 954.4L269.1 948.4L269.6 959.6L270.1 960.0L270.6 955.6L271 960.8L271.5 957.3L272 957.3L272.5 960.2L273 956.7L273.5 959.3L273.9 960.2L274.4 962.4L274.9 960.8L275.4 959.8L275.9 957.1L276.4 962.1L276.8 964.6L277.3 959.1L277.8 968.9L278.3 969.1L278.8 964.2L279.3 964.4L279.7 969.6L280.2 967.8L280.7 963.5L281.2 972.7L281.7 968.6L282.2 965.8L282.6 964.4L283.1 967.6L283.6 964.9L284.1 967.1L284.6 971.3L285.1 973.0L285.5 966.6L286 967.8L286.5 964.2L287 975.6L287.5 968.9L288 972.7L288.4 973.0L288.9 971.8L289.4 969.6L289.9 973.5L290.4 975.0L290.9 975.6L291.3 971.5L291.8 972.4L292.3 976.5L292.8 971.8L293.3 975.9L293.7 965.6L294.2 979.1L294.7 982.6L295.2 972.4L295.7 970.2L296.2 973.8L296.6 979.1L297.1 975.3L297.6 975.6L298.1 978.1L298.6 974.7L299.1 975.6L299.5 974.4L300 973.5L300.5 985.2L301 980.5L301.5 981.5L302 977.2L302.4 975.0L302.9 980.1L303.4 973.5L303.9 986.7L304.4 979.1L304.9 980.5L305.3 985.6L305.8 985.2L306.3 973.8L306.8 976.2L307.3 987.1L307.8 982.2L308.2 993.6L308.7 983.3L309.2 983.7L309.7 989.6L310.2 982.9L310.7 980.1L311.1 981.9L311.6 986.0L312.1 982.6L312.6 989.2L313.1 991.8L313.6 981.5L314 985.2L314.5 985.2L315 993.2L315.5 980.5L316 979.5L316.4 994.1L316.9 984.4L317.4 988.8L317.9 981.9L318.4 994.6L318.9 985.6L319.3 991.8L319.8 991.4L320.3 994.1L320.8 987.5L321.3 993.6L321.8 987.1L322.2 991.8L322.7 990.5L323.2 1001.9L323.7 990.9L324.2 998.6L324.7 993.6L325.1 1000.2L325.6 994.6L326.1 993.2L326.6 994.1L327.1 996.1L327.6 996.6L328 1003.1L328.5 991.4L329 997.1L329.5 1001.9L330 992.3L330.5 984.4L330.9 1010.0L331.4 1003.6L331.9 1001.9L332.4 1003.6L332.9 1006.7L333.4 992.3L333.8 995.1L334.3 996.1L334.8 1003.1L335.3 996.6L335.8 999.1L336.3 1006.1L336.7 1003.1L337.2 999.7L337.7 997.1L338.2 1000.2L338.7 995.1L339.1 1001.9L339.6 996.1L340.1 1004.8L340.6 1003.6L341.1 999.1L341.6 1004.2L342 1002.5L342.5 1011.5L343 1010.0L343.5 1015.2L344 1003.6L344.5 1008.7L344.9 1000.8L345.4 1010.7L345.9 1004.2L346.4 1003.6L346.9 1001.3L347.4 1016.8L347.8 1004.2L348.3 1008.0L348.8 1002.5L349.3 998.6L349.8 1004.8L350.3 1009.4L350.7 1000.2L351.2 1006.1L351.7 1010.0L352.2 1016.0L352.7 1010.0L353.2 1006.1L353.6 1014.4L354.1 1026.8L354.6 1016.8L355.1 1016.0L355.6 1010.0L356.1 1015.2L356.5 1015.2L357 1010.7L357.5 1006.7L358 1014.4L358.5 1014.4L359 1014.4L359.4 1015.2L359.9 1015.2L360.4 1012.9L360.9 1007.4L361.4 1009.4L361.8 1014.4L362.3 1016.8L362.8 1012.9L363.3 1015.2L363.8 1005.5L364.3 1005.5L364.7 1010.0L365.2 1025.8L365.7 1023.8L366.2 1020.2L366.7 1010.0L367.2 1026.8L367.6 1013.7L368.1 1016.8L368.6 1016.0L369.1 1015.2L369.6 1014.4L370.1 1025.8L370.5 1013.7L371 1019.3L371.5 1013.7L372 1007.4L372.5 1015.2L373 1015.2L373.4 1027.8L373.9 1019.3L374.4 1017.6L374.9 1017.6L375.4 1024.8L375.9 1021.9L376.3 1031.1L376.8 1025.8L377.3 1023.8L377.8 1016.8L378.3 1016.8L378.8 1032.3L379.2 1034.7L379.7 1030.0L380.2 1021.9L380.7 1030.0L381.2 1028.9L381.7 1026.8L382.1 1033.5L382.6 1023.8L383.1 1019.3L383.6 1033.5L384.1 1020.2L384.5 1019.3L385 1041.4L385.5 1034.7L386 1044.4L386.5 1030.0L387 1024.8L387.4 1033.5L387.9 1027.8L388.4 1026.8L388.9 1025.8L389.4 1030.0L389.9 1030.0L390.3 1032.3L390.8 1038.6L391.3 1018.4L391.8 1022.9L392.3 1030.0L392.8 1022.9L393.2 1038.6L393.7 1032.3L394.2 1041.4L394.7 1019.3L395.2 1044.4L395.7 1040.0L396.1 1041.4L396.6 1038.6L397.1 1040.0L397.6 1033.5L398.1 1030.0L398.6 1033.5L399 1038.6L399.5 1032.3L400 1026.8L400.5 1041.4L401 1024.8L401.5 1030.0L401.9 1031.1L402.4 1037.2L402.9 1036.0L403.4 1046.0L403.9 1046.0L404.4 1037.2L404.8 1040.0L405.3 1036.0L405.8 1033.5L406.3 1042.9L406.8 1053.1L407.2 1046.0L407.7 1031.1L408.2 1053.1L408.7 1030.0L409.2 1038.6L409.7 1036.0L410.1 1027.8L410.6 1040.0L411.1 1037.2L411.6 1037.2L412.1 1031.1L412.6 1051.2L413 1042.9L413.5 1047.7L414 1038.6L414.5 1037.2L415 1038.6L415.5 1030.0L415.9 1042.9L416.4 1049.4L416.9 1034.7L417.4 1044.4L417.9 1037.2L418.4 1037.2L418.8 1059.2L419.3 1044.4L419.8 1044.4L420.3 1040.0L420.8 1059.2L421.3 1051.2L421.7 1041.4L422.2 1038.6L422.7 1040.0L423.2 1027.8L423.7 1041.4L424.2 1046.0L424.6 1053.1L425.1 1044.4L425.6 1046.0L426.1 1046.0L426.6 1057.1L427.1 1044.4L427.5 1047.7L428 1057.1L428.5 1049.4L429 1055.0L429.5 1051.2L429.9 1051.2L430.4 1046.0L430.9 1053.1L431.4 1046.0L431.9 1044.4L432.4 1047.7L432.8 1044.4L433.3 1059.2L433.8 1053.1L434.3 1041.4L434.8 1051.2L435.3 1061.5L435.7 1069.2L436.2 1078.6L436.7 1042.9L437.2 1078.6L437.7 1031.1L438.2 1059.2L438.6 1066.5L439.1 1055.0L439.6 1063.9L440.1 1037.2L440.6 1044.4L441.1 1055.0L441.5 1041.4L442 1069.2L442.5 1063.9L443 1057.1L443.5 1072.1L444 1053.1L444.4 1066.5L444.9 1038.6L445.4 1051.2L445.9 1063.9L446.4 1047.7L446.9 1061.5L447.3 1078.6L447.8 1063.9L448.3 1069.2L448.8 1061.5L449.3 1069.2L449.8 1051.2L450.2 1061.5L450.7 1053.1L451.2 1066.5L451.7 1061.5L452.2 1051.2L452.6 1082.3L453.1 1047.7L453.6 1057.1L454.1 1082.3L454.6 1051.2L455.1 1066.5L455.5 1059.2L456 1072.1L456.5 1061.5L457 1063.9L457.5 1053.1L458 1086.3L458.4 1053.1L458.9 1075.2L459.4 1063.9L459.9 1066.5L460.4 1075.2L460.9 1063.9L461.3 1053.1L461.8 1059.2L462.3 1066.5L462.8 1051.2L463.3 1090.7L463.8 1095.7L464.2 1069.2L464.7 1069.2L465.2 1055.0L465.7 1078.6L466.2 1075.2L466.7 1069.2L467.1 1086.3L467.6 1055.0L468.1 1082.3L468.6 1069.2L469.1 1059.2L469.6 1078.6L470 1072.1L470.5 1051.2L471 1078.6L471.5 1066.5L472 1061.5L472.5 1055.0L472.9 1057.1L473.4 1095.7L473.9 1075.2L474.4 1075.2L474.9 1069.2L475.3 1069.2L475.8 1078.6L476.3 1101.3L476.8 1075.2L477.3 1053.1L477.8 1057.1L478.2 1075.2L478.7 1090.7L479.2 1095.7L479.7 1086.3L480.2 1061.5L480.7 1101.3L481.1 1101.3L481.6 1078.6L482.1 1063.9L482.6 1095.7L483.1 1063.9L483.6 1086.3L484 1072.1L484.5 1066.5L485 1078.6L485.5 1115.5L486 1069.2L486.5 1078.6L486.9 1066.5L487.4 1086.3L487.9 1101.3L488.4 1082.3L488.9 1075.2L489.4 1072.1L489.8 1063.9L490.3 1086.3L490.8 1078.6L491.3 1090.7L491.8 1086.3L492.3 1090.7L492.7 1075.2L493.2 1095.7L493.7 1090.7L494.2 1082.3L494.7 1095.7L495.2 1086.3L495.6 1095.7L496.1 1078.6L496.6 1124.9L497.1 1095.7L497.6 1078.6L498 1075.2L498.5 1095.7L499 1078.6L499.5 1055.0L500 1066.5L500.5 1115.5L500.9 1082.3L501.4 1090.7L501.9 1095.7L502.4 1107.8L502.9 1078.6L503.4 1090.7L503.8 1095.7L504.3 1095.7L504.8 1107.8L505.3 1101.3L505.8 1086.3L506.3 1082.3L506.7 1078.6L507.2 1078.6L507.7 1107.8L508.2 1107.8L508.7 1057.1L509.2 1075.2L509.6 1090.7L510.1 1086.3L510.6 1090.7L511.1 1078.6L511.6 1095.7L512.1 1101.3L512.5 1154.2L513 1090.7L513.5 1082.3L514 1095.7L514.5 1072.1L515 1082.3L515.4 1090.7L515.9 1090.7L516.4 1095.7L516.9 1095.7L517.4 1101.3L517.9 1095.7L518.3 1101.3L518.8 1078.6L519.3 1072.1L519.8 1082.3L520.3 1086.3L520.8 1115.5L521.2 1075.2L521.7 1086.3L522.2 1101.3L522.7 1095.7L523.2 1082.3L523.6 1082.3L524.1 1078.6L524.6 1107.8L525.1 1090.7L525.6 1101.3L526.1 1069.2L526.5 1095.7L527 1101.3L527.5 1090.7L528 1090.7L528.5 1101.3L529 1086.3L529.4 1107.8L529.9 1095.7L530.4 1086.3L530.9 1095.7L531.4 1107.8L531.9 1107.8L532.3 1107.8L532.8 1075.2L533.3 1107.8L533.8 1086.3L534.3 1086.3L534.8 1101.3L535.2 1154.2L535.7 1086.3L536.2 1115.5L536.7 1078.6L537.2 1095.7L537.7 1115.5L538.1 1107.8L538.6 1090.7L539.1 1101.3L539.6 1090.7L540.1 1115.5L540.6 1090.7L541 1115.5L541.5 1101.3L542 1124.9L542.5 1078.6L543 1107.8L543.5 1115.5L543.9 1124.9L544.4 1095.7L544.9 1066.5L545.4 1101.3L545.9 1115.5L546.3 1101.3L546.8 1082.3L547.3 1115.5L547.8 1095.7L548.3 1075.2L548.8 1124.9L549.2 1124.9L549.7 1086.3L550.2 1090.7L550.7 1101.3L551.2 1090.7L551.7 1090.7L552.1 1101.3L552.6 1082.3L553.1 1090.7L553.6 1095.7L554.1 1086.3L554.6 1090.7L555 1095.7L555.5 1115.5L556 1086.3L556.5 1101.3L557 1124.9L557.5 1137.1L557.9 1095.7L558.4 1086.3L558.9 1082.3L559.4 1075.2L559.9 1075.2L560.4 1101.3L560.8 1137.1L561.3 1107.8L561.8 1090.7L562.3 1095.7L562.8 1082.3L563.3 1086.3L563.7 1095.7L564.2 1183.4L564.7 1066.5L565.2 1137.1L565.7 1115.5L566.2 1107.8L566.6 1107.8L567.1 1101.3L567.6 1086.3L568.1 1078.6L568.6 1086.3L569 1101.3L569.5 1107.8L570 1107.8L570.5 1078.6L571 1137.1L571.5 1095.7L571.9 1095.7L572.4 1107.8L572.9 1107.8L573.4 1078.6L573.9 1115.5L574.4 1095.7L574.8 1095.7L575.3 1115.5L575.8 1124.9L576.3 1090.7L576.8 1154.2L577.3 1095.7L577.7 1082.3L578.2 1115.5L578.7 1095.7L579.2 1107.8L579.7 1107.8L580.2 1101.3L580.6 1086.3L581.1 1107.8L581.6 1095.7L582.1 1107.8L582.6 1101.3L583.1 1124.9L583.5 1137.1L584 1107.8L584.5 1086.3L585 1107.8L585.5 1107.8L586 1115.5L586.4 1090.7L586.9 1115.5L587.4 1082.3L587.9 1095.7L588.4 1137.1L588.9 1090.7L589.3 1124.9L589.8 1137.1L590.3 1086.3L590.8 1124.9L591.3 1137.1L591.7 1107.8L592.2 1075.2L592.7 1107.8L593.2 1137.1L593.7 1115.5L594.2 1101.3L594.6 1124.9L595.1 1154.2L595.6 1090.7L596.1 1090.7L596.6 1101.3L597.1 1137.1L597.5 1107.8L598 1124.9L598.5 1107.8L599 1095.7L599.5 1124.9L600 1154.2L600.4 1090.7L600.9 1090.7L601.4 1115.5L601.9 1101.3L602.4 1115.5L602.9 1078.6L603.3 1095.7L603.8 1115.5L604.3 1124.9L604.8 1115.5L605.3 1115.5L605.8 1107.8L606.2 1101.3L606.7 1095.7L607.2 1115.5L607.7 1137.1L608.2 1115.5L608.7 1090.7L609.1 1095.7L609.6 1082.3L610.1 1115.5L610.6 1101.3L611.1 1101.3L611.6 1107.8L612 1101.3L612.5 1137.1L613 1115.5L613.5 1078.6L614 1154.2L614.4 1101.3L614.9 1090.7L615.4 1101.3L615.9 1086.3L616.4 1115.5L616.9 1137.1L617.3 1075.2L617.8 1101.3L618.3 1107.8L618.8 1137.1L619.3 1086.3L619.8 1107.8L620.2 1082.3L620.7 1124.9L621.2 1107.8L621.7 1082.3L622.2 1075.2L622.7 1095.7L623.1 1107.8L623.6 1095.7L624.1 1107.8L624.6 1101.3L625.1 1101.3L625.6 1115.5L626 1124.9L626.5 1107.8L627 1124.9L627.5 1095.7L628 1137.1L628.5 1078.6L628.9 1095.7L629.4 1107.8L629.9 1090.7L630.4 1107.8L630.9 1082.3L631.4 1095.7L631.8 1107.8L632.3 1107.8L632.8 1101.3L633.3 1107.8L633.8 1095.7L634.3 1115.5L634.7 1115.5L635.2 1101.3L635.7 1095.7" fill="none" stroke="none" marker-start="url(#m3)" marker-mid="url(#m3)" marker-end="url(#m3)"/>
<path d="M153.2 848.9L153.7 849.1L154.2 849.3L154.6 850.7L155.1 850.4L155.6 852.3L156.1 854.3L156.6 854.2L157.1 855.1L157.5 855.5L158 859.1L158.5 857.0L159 860.3L159.5 857.0L160 860.9L160.4 860.7L160.9 861.4L161.4 863.0L161.9 862.5L162.4 864.0L162.9 863.5L163.3 865.5L163.8 867.0L164.3 867.2L164.8 869.0L165.3 866.9L165.8 870.3L166.2 868.8L166.7 869.0L167.2 869.5L167.7 871.4L168.2 870.4L168.7 871.7L169.1 875.2L169.6 874.3L170.1 874.0L170.6 873.8L171.1 876.2L171.6 876.4L172 877.8L172.5 878.4L173 880.9L173.5 878.9L174 881.6L174.5 878.0L174.9 882.7L175.4 882.8L175.9 884.1L176.4 884.1L176.9 883.5L177.3 886.7L177.8 887.3L178.3 885.6L178.8 890.1L179.3 886.2L179.8 888.4L180.2 886.4L180.7 890.7L181.2 889.1L181.7 890.1L182.2 892.0L182.7 891.2L183.1 893.7L183.6 892.5L184.1 890.2L184.6 892.2L185.1 896.6L185.6 894.8L186 897.3L186.5 894.4L187 897.0L187.5 896.4L188 896.5L188.5 900.7L188.9 899.6L189.4 899.7L189.9 899.7L190.4 900.5L190.9 900.0L191.4 901.0L191.8 900.2L192.3 902.3L192.8 901.5L193.3 902.0L193.8 903.6L194.3 902.1L194.7 901.8L195.2 904.0L195.7 905.2L196.2 905.0L196.7 902.8L197.2 906.0L197.6 905.3L198.1 907.9L198.6 905.3L199.1 906.7L199.6 909.8L200 910.2L200.5 909.9L201 909.4L201.5 911.8L202 912.1L202.5 907.3L202.9 911.1L203.4 913.2L203.9 912.7L204.4 910.5L204.9 913.7L205.4 915.0L205.8 913.7L206.3 916.1L206.8 917.3L207.3 913.0L207.8 914.9L208.3 919.0L208.7 917.2L209.2 919.3L209.7 917.4L210.2 916.9L210.7 917.8L211.2 919.0L211.6 919.2L212.1 920.2L212.6 919.3L213.1 921.8L213.6 923.7L214.1 922.5L214.5 924.8L215 924.8L215.5 925.5L216 924.0L216.5 926.1L217 924.8L217.4 923.4L217.9 923.8L218.4 922.4L218.9 922.6L219.4 929.0L219.9 924.9L220.3 927.1L220.8 931.1L221.3 927.7L221.8 931.7L222.3 929.1L222.7 928.6L223.2 932.2L223.7 932.7L224.2 934.7L224.7 935.1L225.2 931.1L225.6 931.4L226.1 934.8L226.6 930.0L227.1 931.4L227.6 935.2L228.1 933.7L228.5 932.6L229 933.5L229.5 940.0L230 935.4L230.5 937.0L231 939.9L231.4 939.6L231.9 940.8L232.4 937.8L232.9 940.7L233.4 941.6L233.9 934.9L234.3 945.5L234.8 944.3L235.3 938.0L235.8 940.3L236.3 943.2L236.8 946.4L237.2 942.0L237.7 946.1L238.2 943.7L238.7 946.4L239.2 946.1L239.7 945.6L240.1 944.2L240.6 947.6L241.1 946.4L241.6 948.6L242.1 946.5L242.6 949.7L243 950.2L243.5 950.2L244 946.1L244.5 948.9L245 952.3L245.4 951.2L245.9 955.8L246.4 950.2L246.9 952.5L247.4 953.5L247.9 949.9L248.3 955.0L248.8 956.3L249.3 954.8L249.8 957.9L250.3 958.5L250.8 952.6L251.2 956.1L251.7 956.1L252.2 961.9L252.7 955.4L253.2 961.7L253.7 958.1L254.1 956.1L254.6 962.4L255.1 958.7L255.6 970.2L256.1 969.1L256.6 967.1L257 959.1L257.5 961.7L258 962.6L258.5 959.6L259 968.1L259.5 964.9L259.9 978.5L260.4 965.1L260.9 968.1L261.4 965.4L261.9 970.2L262.4 966.1L262.8 966.6L263.3 975.0L263.8 968.9L264.3 971.5L264.8 970.2L265.3 979.1L265.7 975.0L266.2 967.8L266.7 973.2L267.2 978.5L267.7 973.8L268.1 976.5L268.6 971.3L269.1 978.5L269.6 973.0L270.1 972.7L270.6 970.2L271 972.7L271.5 973.5L272 979.5L272.5 973.5L273 978.1L273.5 971.5L273.9 978.8L274.4 973.8L274.9 978.1L275.4 976.2L275.9 978.8L276.4 977.2L276.8 986.3L277.3 982.6L277.8 981.9L278.3 974.1L278.8 979.8L279.3 982.6L279.7 983.3L280.2 989.2L280.7 987.1L281.2 986.3L281.7 979.5L282.2 977.5L282.6 984.0L283.1 979.1L283.6 985.2L284.1 985.2L284.6 990.1L285.1 987.5L285.5 980.8L286 977.5L286.5 988.4L287 988.4L287.5 988.8L288 993.2L288.4 988.0L288.9 987.5L289.4 992.3L289.9 993.6L290.4 989.2L290.9 985.2L291.3 991.4L291.8 993.6L292.3 989.2L292.8 992.3L293.3 989.6L293.7 994.6L294.2 987.1L294.7 989.2L295.2 984.8L295.7 990.9L296.2 996.6L296.6 994.6L297.1 992.3L297.6 993.2L298.1 998.1L298.6 997.6L299.1 991.4L299.5 996.1L300 997.6L300.5 989.6L301 993.2L301.5 997.6L302 1001.9L302.4 1000.8L302.9 992.7L303.4 993.6L303.9 1000.8L304.4 1000.2L304.9 994.1L305.3 995.1L305.8 994.1L306.3 1004.8L306.8 1001.9L307.3 1001.3L307.8 1000.2L308.2 1006.7L308.7 1004.8L309.2 999.7L309.7 994.6L310.2 1002.5L310.7 995.1L311.1 1007.4L311.6 998.1L312.1 1021.0L312.6 999.7L313.1 1002.5L313.6 1002.5L314 1005.5L314.5 1010.7L315 994.1L315.5 1009.4L316 1006.7L316.4 1004.8L316.9 1010.0L317.4 1012.9L317.9 1004.8L318.4 1017.6L318.9 1004.8L319.3 1010.0L319.8 1008.7L320.3 1010.0L320.8 1008.7L321.3 1004.2L321.8 1010.0L322.2 1004.8L322.7 1007.4L323.2 999.7L323.7 1013.7L324.2 1011.5L324.7 1000.2L325.1 1008.0L325.6 1012.9L326.1 1010.0L326.6 1010.7L327.1 1015.2L327.6 1015.2L328 1015.2L328.5 1010.7L329 1024.8L329.5 1014.4L330 1015.2L330.5 1021.0L330.9 1020.2L331.4 1017.6L331.9 1017.6L332.4 1016.8L332.9 1009.4L333.4 1010.0L333.8 1016.0L334.3 1014.4L334.8 1015.2L335.3 1012.9L335.8 1016.0L336.3 1013.7L336.7 1022.9L337.2 1019.3L337.7 1011.5L338.2 1025.8L338.7 1025.8L339.1 1012.2L339.6 1031.1L340.1 1014.4L340.6 1028.9L341.1 1041.4L341.6 1022.9L342 1030.0L342.5 1020.2L343 1032.3L343.5 1033.5L344 1027.8L344.5 1025.8L344.9 1022.9L345.4 1012.9L345.9 1028.9L346.4 1031.1L346.9 1030.0L347.4 1017.6L347.8 1036.0L348.3 1030.0L348.8 1030.0L349.3 1020.2L349.8 1015.2L350.3 1026.8L350.7 1028.9L351.2 1013.7L351.7 1040.0L352.2 1022.9L352.7 1025.8L353.2 1021.0L353.6 1040.0L354.1 1019.3L354.6 1040.0L355.1 1040.0L355.6 1024.8L356.1 1038.6L356.5 1024.8L357 1018.4L357.5 1024.8L358 1024.8L358.5 1019.3L359 1022.9L359.4 1032.3L359.9 1033.5L360.4 1025.8L360.9 1033.5L361.4 1037.2L361.8 1033.5L362.3 1023.8L362.8 1034.7L363.3 1037.2L363.8 1036.0L364.3 1030.0L364.7 1038.6L365.2 1027.8L365.7 1033.5L366.2 1042.9L366.7 1036.0L367.2 1028.9L367.6 1036.0L368.1 1040.0L368.6 1034.7L369.1 1044.4L369.6 1042.9L370.1 1026.8L370.5 1037.2L371 1040.0L371.5 1034.7L372 1042.9L372.5 1047.7L373 1042.9L373.4 1024.8L373.9 1049.4L374.4 1046.0L374.9 1025.8L375.4 1053.1L375.9 1037.2L376.3 1059.2L376.8 1036.0L377.3 1033.5L377.8 1049.4L378.3 1025.8L378.8 1044.4L379.2 1053.1L379.7 1037.2L380.2 1044.4L380.7 1044.4L381.2 1038.6L381.7 1051.2L382.1 1036.0L382.6 1042.9L383.1 1041.4L383.6 1055.0L384.1 1040.0L384.5 1040.0L385 1038.6L385.5 1053.1L386 1053.1L386.5 1044.4L387 1044.4L387.4 1036.0L387.9 1046.0L388.4 1057.1L388.9 1042.9L389.4 1041.4L389.9 1044.4L390.3 1046.0L390.8 1057.1L391.3 1047.7L391.8 1034.7L392.3 1072.1L392.8 1049.4L393.2 1047.7L393.7 1041.4L394.2 1044.4L394.7 1066.5L395.2 1042.9L395.7 1059.2L396.1 1041.4L396.6 1047.7L397.1 1059.2L397.6 1042.9L398.1 1044.4L398.6 1053.1L399 1055.0L399.5 1049.4L400 1069.2L400.5 1053.1L401 1059.2L401.5 1066.5L401.9 1061.5L402.4 1059.2L402.9 1055.0L403.4 1053.1L403.9 1037.2L404.4 1044.4L404.8 1051.2L405.3 1051.2L405.8 1044.4L406.3 1061.5L406.8 1072.1L407.2 1066.5L407.7 1047.7L408.2 1047.7L408.7 1046.0L409.2 1057.1L409.7 1063.9L410.1 1057.1L410.6 1072.1L411.1 1082.3L411.6 1053.1L412.1 1053.1L412.6 1053.1L413 1072.1L413.5 1051.2L414 1082.3L414.5 1069.2L415 1066.5L415.5 1061.5L415.9 1072.1L416.4 1063.9L416.9 1059.2L417.4 1075.2L417.9 1063.9L418.4 1066.5L418.8 1066.5L419.3 1059.2L419.8 1044.4L420.3 1072.1L420.8 1078.6L421.3 1066.5L421.7 1061.5L422.2 1063.9L422.7 1053.1L423.2 1051.2L423.7 1061.5L424.2 1053.1L424.6 1107.8L425.1 1075.2L425.6 1040.0L426.1 1086.3L426.6 1057.1L427.1 1069.2L427.5 1057.1L428 1057.1L428.5 1101.3L429 1063.9L429.5 1086.3L429.9 1061.5L430.4 1066.5L430.9 1078.6L431.4 1082.3L431.9 1072.1L432.4 1066.5L432.8 1075.2L433.3 1101.3L433.8 1078.6L434.3 1063.9L434.8 1066.5L435.3 1075.2L435.7 1063.9L436.2 1057.1L436.7 1063.9L437.2 1069.2L437.7 1057.1L438.2 1075.2L438.6 1072.1L439.1 1075.2L439.6 1075.2L440.1 1075.2L440.6 1095.7L441.1 1055.0L441.5 1075.2L442 1069.2L442.5 1066.5L443 1090.7L443.5 1082.3L444 1075.2L444.4 1075.2L444.9 1072.1L445.4 1066.5L445.9 1078.6L446.4 1078.6L446.9 1063.9L447.3 1063.9L447.8 1072.1L448.3 1082.3L448.8 1063.9L449.3 1063.9L449.8 1063.9L450.2 1075.2L450.7 1069.2L451.2 1063.9L451.7 1072.1L452.2 1082.3L452.6 1082.3L453.1 1075.2L453.6 1082.3L454.1 1078.6L454.6 1066.5L455.1 1090.7L455.5 1066.5L456 1086.3L456.5 1069.2L457 1090.7L457.5 1090.7L458 1086.3L458.4 1115.5L458.9 1061.5L459.4 1069.2L459.9 1082.3L460.4 1072.1L460.9 1075.2L461.3 1101.3L461.8 1075.2L462.3 1078.6L462.8 1095.7L463.3 1078.6L463.8 1101.3L464.2 1072.1L464.7 1072.1L465.2 1095.7L465.7 1090.7L466.2 1095.7L466.7 1086.3L467.1 1095.7L467.6 1075.2L468.1 1063.9L468.6 1078.6L469.1 1090.7L469.6 1082.3L470 1090.7L470.5 1082.3L471 1082.3L471.5 1072.1L472 1086.3L472.5 1075.2L472.9 1090.7L473.4 1069.2L473.9 1072.1L474.4 1107.8L474.9 1101.3L475.3 1107.8L475.8 1090.7L476.3 1090.7L476.8 1101.3L477.3 1107.8L477.8 1090.7L478.2 1072.1L478.7 1078.6L479.2 1075.2L479.7 1086.3L480.2 1090.7L480.7 1101.3L481.1 1137.1L481.6 1075.2L482.1 1090.7L482.6 1090.7L483.1 1086.3L483.6 1090.7L484 1095.7L484.5 1066.5L485 1086.3L485.5 1095.7L486 1107.8L486.5 1072.1L486.9 1072.1L487.4 1095.7L487.9 1107.8L488.4 1078.6L488.9 1082.3L489.4 1075.2L489.8 1082.3L490.3 1090.7L490.8 1066.5L491.3 1086.3L491.8 1086.3L492.3 1086.3L492.7 1086.3L493.2 1095.7L493.7 1072.1L494.2 1078.6L494.7 1078.6L495.2 1137.1L495.6 1095.7L496.1 1082.3L496.6 1086.3L497.1 1124.9L497.6 1082.3L498 1107.8L498.5 1078.6L499 1137.1L499.5 1090.7L500 1090.7L500.5 1086.3L500.9 1078.6L501.4 1075.2L501.9 1101.3L502.4 1095.7L502.9 1082.3L503.4 1095.7L503.8 1082.3L504.3 1137.1L504.8 1082.3L505.3 1078.6L505.8 1086.3L506.3 1086.3L506.7 1101.3L507.2 1086.3L507.7 1101.3L508.2 1101.3L508.7 1086.3L509.2 1075.2L509.6 1101.3L510.1 1124.9L510.6 1069.2L511.1 1082.3L511.6 1082.3L512.1 1124.9L512.5 1090.7L513 1078.6L513.5 1072.1L514 1154.2L514.5 1086.3L515 1095.7L515.4 1082.3L515.9 1107.8L516.4 1124.9L516.9 1115.5L517.4 1095.7L517.9 1124.9L518.3 1086.3L518.8 1095.7L519.3 1069.2L519.8 1124.9L520.3 1107.8L520.8 1090.7L521.2 1115.5L521.7 1078.6L522.2 1075.2L522.7 1078.6L523.2 1115.5L523.6 1090.7L524.1 1107.8L524.6 1124.9L525.1 1090.7L525.6 1107.8L526.1 1101.3L526.5 1101.3L527 1107.8L527.5 1137.1L528 1107.8L528.5 1095.7L529 1095.7L529.4 1101.3L529.9 1115.5L530.4 1095.7L530.9 1082.3L531.4 1137.1L531.9 1137.1L532.3 1078.6L532.8 1072.1L533.3 1107.8L533.8 1115.5L534.3 1075.2L534.8 1078.6L535.2 1124.9L535.7 1115.5L536.2 1090.7L536.7 1137.1L537.2 1107.8L537.7 1115.5L538.1 1090.7L538.6 1082.3L539.1 1107.8L539.6 1082.3L540.1 1115.5L540.6 1124.9L541 1061.5L541.5 1101.3L542 1137.1L542.5 1095.7L543 1090.7L543.5 1137.1L543.9 1095.7L544.4 1124.9L544.9 1115.5L545.4 1101.3L545.9 1082.3L546.3 1075.2L546.8 1095.7L547.3 1101.3L547.8 1124.9L548.3 1107.8L548.8 1078.6L549.2 1107.8L549.7 1124.9L550.2 1078.6L550.7 1137.1L551.2 1101.3L551.7 1107.8L552.1 1124.9L552.6 1086.3L553.1 1124.9L553.6 1107.8L554.1 1124.9L554.6 1095.7L555 1095.7L555.5 1086.3L556 1115.5L556.5 1101.3L557 1101.3L557.5 1095.7L557.9 1115.5L558.4 1090.7L558.9 1115.5L559.4 1101.3L559.9 1137.1L560.4 1090.7L560.8 1107.8L561.3 1107.8L561.8 1115.5L562.3 1101.3L562.8 1086.3L563.3 1124.9L563.7 1115.5L564.2 1137.1L564.7 1101.3L565.2 1107.8L565.7 1115.5L566.2 1115.5L566.6 1101.3L567.1 1075.2L567.6 1090.7L568.1 1101.3L568.6 1095.7L569 1124.9L569.5 1107.8L570 1124.9L570.5 1115.5L571 1101.3L571.5 1137.1L571.9 1124.9L572.4 1086.3L572.9 1082.3L573.4 1101.3L573.9 1107.8L574.4 1090.7L574.8 1115.5L575.3 1101.3L575.8 1137.1L576.3 1090.7L576.8 1086.3L577.3 1090.7L577.7 1124.9L578.2 1183.4L578.7 1095.7L579.2 1154.2L579.7 1090.7L580.2 1107.8L580.6 1124.9L581.1 1115.5L581.6 1095.7L582.1 1107.8L582.6 1115.5L583.1 1101.3L583.5 1154.2L584 1124.9L584.5 1124.9L585 1154.2L585.5 1075.2L586 1107.8L586.4 1095.7L586.9 1101.3L587.4 1183.4L587.9 1137.1L588.4 1101.3L588.9 1090.7L589.3 1115.5L589.8 1095.7L590.3 1115.5L590.8 1137.1L591.3 1086.3L591.7 1095.7L592.2 1101.3L592.7 1101.3L593.2 1137.1L593.7 1090.7L594.2 1107.8L594.6 1115.5L595.1 1095.7L595.6 1124.9L596.1 1107.8L596.6 1090.7L597.1 1107.8L597.5 1137.1L598 1115.5L598.5 1107.8L599 1090.7L599.5 1101.3L600 1124.9L600.4 1137.1L600.9 1137.1L601.4 1137.1L601.9 1115.5L602.4 1107.8L602.9 1090.7L603.3 1101.3L603.8 1115.5L604.3 1115.5L604.8 1101.3L605.3 1101.3L605.8 1095.7L606.2 1107.8L606.7 1137.1L607.2 1107.8L607.7 1124.9L608.2 1095.7L608.7 1107.8L609.1 1137.1L609.6 1086.3L610.1 1101.3L610.6 1115.5L611.1 1115.5L611.6 1107.8L612 1086.3L612.5 1107.8L613 1115.5L613.5 1101.3L614 1107.8L614.4 1090.7L614.9 1137.1L615.4 1107.8L615.9 1107.8L616.4 1154.2L616.9 1124.9L617.3 1086.3L617.8 1090.7L618.3 1115.5L618.8 1124.9L619.3 1082.3L619.8 1107.8L620.2 1183.4L620.7 1115.5L621.2 1115.5L621.7 1115.5L622.2 1154.2L622.7 1078.6L623.1 1090.7L623.6 1090.7L624.1 1101.3L624.6 1183.4L625.1 1137.1L625.6 1107.8L626 1101.3L626.5 1107.8L627 1124.9L627.5 1115.5L628 1090.7L628.5 1107.8L628.9 1115.5L629.4 1115.5L629.9 1107.8L630.4 1107.8L630.9 1107.8L631.4 1090.7L631.8 1095.7L632.3 1115.5L632.8 1115.5L633.3 1124.9L633.8 1107.8L634.3 1124.9L634.7 1101.3L635.2 1115.5L635.7 1082.3" fill="none" stroke="none" marker-start="url(#m6)" marker-mid="url(#m6)" marker-end="url(#m6)"/>
<path d="M153.2 843.6L153.7 842.6L154.2 844.4L154.6 844.7L155.1 846.7L155.6 846.4L156.1 847.0L156.6 847.6L157.1 848.9L157.5 849.9L158 851.5L158.5 851.5L159 851.5L159.5 851.2L160 853.9L160.4 854.5L160.9 854.2L161.4 855.1L161.9 857.1L162.4 857.0L162.9 858.5L163.3 858.5L163.8 860.1L164.3 859.7L164.8 861.2L165.3 858.5L165.8 860.5L166.2 860.7L166.7 863.3L167.2 863.1L167.7 864.9L168.2 864.0L168.7 865.9L169.1 866.1L169.6 866.8L170.1 869.1L170.6 868.9L171.1 868.4L171.6 869.0L172 871.5L172.5 871.1L173 870.8L173.5 874.7L174 872.3L174.5 873.3L174.9 874.2L175.4 875.1L175.9 875.7L176.4 875.5L176.9 876.5L177.3 877.2L177.8 877.4L178.3 877.7L178.8 876.4L179.3 879.7L179.8 880.3L180.2 882.0L180.7 880.9L181.2 882.1L181.7 879.9L182.2 883.1L182.7 883.5L183.1 885.6L183.6 883.0L184.1 885.8L184.6 883.7L185.1 885.4L185.6 887.4L186 887.6L186.5 888.0L187 890.8L187.5 888.5L188 889.6L188.5 891.6L188.9 889.2L189.4 889.2L189.9 892.1L190.4 891.9L190.9 891.2L191.4 894.1L191.8 894.0L192.3 893.1L192.8 896.5L193.3 896.1L193.8 896.6L194.3 896.4L194.7 895.8L195.2 894.7L195.7 895.3L196.2 895.9L196.7 896.8L197.2 899.4L197.6 898.1L198.1 898.4L198.6 899.9L199.1 901.9L199.6 902.3L200 902.8L200.5 902.3L201 901.2L201.5 903.6L202 903.5L202.5 907.3L202.9 904.9L203.4 905.8L203.9 905.3L204.4 907.0L204.9 912.3L205.4 905.9L205.8 907.0L206.3 907.0L206.8 909.1L207.3 910.0L207.8 907.2L208.3 909.6L208.7 910.1L209.2 909.9L209.7 911.4L210.2 911.5L210.7 914.2L211.2 912.7L211.6 915.0L212.1 913.0L212.6 916.6L213.1 915.1L213.6 913.9L214.1 913.4L214.5 914.4L215 915.9L215.5 914.9L216 917.7L216.5 918.8L217 918.2L217.4 918.6L217.9 915.7L218.4 920.6L218.9 920.6L219.4 924.2L219.9 920.2L220.3 923.1L220.8 921.6L221.3 922.2L221.8 921.2L222.3 922.5L222.7 922.1L223.2 927.6L223.7 926.3L224.2 926.5L224.7 925.3L225.2 925.4L225.6 927.3L226.1 929.9L226.6 928.9L227.1 929.0L227.6 929.0L228.1 926.9L228.5 926.5L229 930.3L229.5 933.2L230 930.5L230.5 930.8L231 932.5L231.4 932.0L231.9 933.2L232.4 934.0L232.9 933.8L233.4 930.1L233.9 934.7L234.3 936.0L234.8 937.0L235.3 938.5L235.8 935.8L236.3 936.0L236.8 934.8L237.2 935.9L237.7 934.4L238.2 939.9L238.7 938.3L239.2 938.0L239.7 937.7L240.1 942.6L240.6 943.4L241.1 938.6L241.6 944.0L242.1 940.0L242.6 945.2L243 939.1L243.5 944.7L244 950.9L244.5 942.0L245 943.4L245.4 942.6L245.9 945.3L246.4 941.5L246.9 946.5L247.4 947.6L247.9 942.7L248.3 945.2L248.8 948.4L249.3 950.7L249.8 950.2L250.3 946.8L250.8 952.6L251.2 953.3L251.7 952.5L252.2 956.0L252.7 949.2L253.2 954.1L253.7 948.9L254.1 952.1L254.6 953.2L255.1 953.7L255.6 947.3L256.1 957.1L256.6 954.6L257 957.7L257.5 954.1L258 963.0L258.5 950.9L259 959.3L259.5 957.9L259.9 956.1L260.4 952.6L260.9 960.8L261.4 956.9L261.9 957.3L262.4 963.0L262.8 959.3L263.3 956.3L263.8 959.6L264.3 958.7L264.8 965.8L265.3 959.1L265.7 967.3L266.2 965.8L266.7 959.1L267.2 971.3L267.7 966.8L268.1 967.3L268.6 969.6L269.1 960.6L269.6 967.8L270.1 970.2L270.6 967.6L271 971.8L271.5 971.5L272 966.1L272.5 968.9L273 973.2L273.5 965.8L273.9 972.7L274.4 970.7L274.9 969.9L275.4 971.3L275.9 972.4L276.4 969.6L276.8 975.3L277.3 975.6L277.8 975.6L278.3 972.1L278.8 973.8L279.3 971.3L279.7 973.2L280.2 983.7L280.7 980.1L281.2 978.5L281.7 971.5L282.2 973.8L282.6 972.7L283.1 975.9L283.6 982.9L284.1 980.1L284.6 983.7L285.1 974.1L285.5 980.1L286 980.1L286.5 980.1L287 977.2L287.5 982.9L288 986.3L288.4 981.2L288.9 981.9L289.4 982.2L289.9 984.8L290.4 988.0L290.9 980.1L291.3 983.7L291.8 983.7L292.3 979.1L292.8 987.1L293.3 997.6L293.7 991.8L294.2 986.0L294.7 990.9L295.2 983.3L295.7 985.6L296.2 990.9L296.6 982.9L297.1 989.6L297.6 990.5L298.1 991.4L298.6 994.6L299.1 990.9L299.5 990.9L300 994.6L300.5 995.1L301 988.8L301.5 992.3L302 996.1L302.4 997.1L302.9 991.8L303.4 999.7L303.9 996.6L304.4 995.6L304.9 993.2L305.3 990.5L305.8 994.1L306.3 997.6L306.8 998.1L307.3 998.1L307.8 991.4L308.2 996.6L308.7 999.7L309.2 996.1L309.7 993.6L310.2 995.6L310.7 994.6L311.1 997.6L311.6 993.6L312.1 1006.1L312.6 995.6L313.1 999.7L313.6 1004.2L314 998.1L314.5 998.1L315 996.1L315.5 1011.5L316 1003.6L316.4 999.1L316.9 1010.0L317.4 1001.3L317.9 1004.2L318.4 1005.5L318.9 1000.2L319.3 1008.7L319.8 1005.5L320.3 1012.2L320.8 1016.0L321.3 1008.0L321.8 993.6L322.2 1003.6L322.7 1005.5L323.2 1003.6L323.7 1004.2L324.2 1021.9L324.7 1004.2L325.1 1016.8L325.6 1011.5L326.1 1009.4L326.6 1013.7L327.1 1008.7L327.6 1018.4L328 1023.8L328.5 1015.2L329 1000.8L329.5 1012.2L330 1013.7L330.5 1022.9L330.9 1017.6L331.4 1002.5L331.9 1016.0L332.4 1012.9L332.9 1021.9L333.4 1013.7L333.8 1016.0L334.3 1020.2L334.8 1011.5L335.3 1023.8L335.8 1017.6L336.3 1027.8L336.7 1025.8L337.2 1008.7L337.7 1020.2L338.2 1019.3L338.7 1021.0L339.1 1017.6L339.6 1018.4L340.1 1017.6L340.6 1026.8L341.1 1018.4L341.6 1013.7L342 1016.0L342.5 1034.7L343 1030.0L343.5 1018.4L344 1023.8L344.5 1021.0L344.9 1020.2L345.4 1021.9L345.9 1023.8L346.4 1011.5L346.9 1025.8L347.4 1013.7L347.8 1031.1L348.3 1023.8L348.8 1031.1L349.3 1021.0L349.8 1031.1L350.3 1016.0L350.7 1021.9L351.2 1042.9L351.7 1021.9L352.2 1034.7L352.7 1036.0L353.2 1020.2L353.6 1027.8L354.1 1021.0L354.6 1037.2L355.1 1019.3L355.6 1036.0L356.1 1034.7L356.5 1027.8L357 1031.1L357.5 1032.3L358 1034.7L358.5 1020.2L359 1023.8L359.4 1037.2L359.9 1036.0L360.4 1034.7L360.9 1042.9L361.4 1024.8L361.8 1032.3L362.3 1033.5L362.8 1021.9L363.3 1036.0L363.8 1030.0L364.3 1044.4L364.7 1025.8L365.2 1041.4L365.7 1040.0L366.2 1041.4L366.7 1038.6L367.2 1041.4L367.6 1061.5L368.1 1040.0L368.6 1032.3L369.1 1049.4L369.6 1044.4L370.1 1034.7L370.5 1033.5L371 1044.4L371.5 1033.5L372 1041.4L372.5 1055.0L373 1027.8L373.4 1037.2L373.9 1038.6L374.4 1040.0L374.9 1042.9L375.4 1041.4L375.9 1040.0L376.3 1051.2L376.8 1053.1L377.3 1046.0L377.8 1044.4L378.3 1053.1L378.8 1038.6L379.2 1047.7L379.7 1044.4L380.2 1055.0L380.7 1061.5L381.2 1061.5L381.7 1041.4L382.1 1051.2L382.6 1046.0L383.1 1047.7L383.6 1044.4L384.1 1072.1L384.5 1049.4L385 1049.4L385.5 1046.0L386 1041.4L386.5 1066.5L387 1051.2L387.4 1051.2L387.9 1049.4L388.4 1046.0L388.9 1061.5L389.4 1055.0L389.9 1051.2L390.3 1047.7L390.8 1057.1L391.3 1075.2L391.8 1063.9L392.3 1053.1L392.8 1051.2L393.2 1057.1L393.7 1055.0L394.2 1055.0L394.7 1059.2L395.2 1053.1L395.7 1049.4L396.1 1061.5L396.6 1069.2L397.1 1051.2L397.6 1063.9L398.1 1061.5L398.6 1046.0L399 1057.1L399.5 1057.1L400 1059.2L400.5 1061.5L401 1063.9L401.5 1057.1L401.9 1057.1L402.4 1066.5L402.9 1075.2L403.4 1047.7L403.9 1066.5L404.4 1072.1L404.8 1069.2L405.3 1063.9L405.8 1053.1L406.3 1059.2L406.8 1044.4L407.2 1061.5L407.7 1053.1L408.2 1063.9L408.7 1057.1L409.2 1063.9L409.7 1066.5L410.1 1069.2L410.6 1069.2L411.1 1059.2L411.6 1069.2L412.1 1072.1L412.6 1072.1L413 1066.5L413.5 1055.0L414 1075.2L414.5 1051.2L415 1072.1L415.5 1055.0L415.9 1059.2L416.4 1066.5L416.9 1075.2L417.4 1086.3L417.9 1061.5L418.4 1078.6L418.8 1059.2L419.3 1051.2L419.8 1057.1L420.3 1057.1L420.8 1057.1L421.3 1061.5L421.7 1072.1L422.2 1086.3L422.7 1063.9L423.2 1053.1L423.7 1059.2L424.2 1063.9L424.6 1075.2L425.1 1075.2L425.6 1066.5L426.1 1069.2L426.6 1072.1L427.1 1078.6L427.5 1066.5L428 1066.5L428.5 1082.3L429 1066.5L429.5 1057.1L429.9 1061.5L430.4 1063.9L430.9 1069.2L431.4 1055.0L431.9 1066.5L432.4 1072.1L432.8 1086.3L433.3 1101.3L433.8 1066.5L434.3 1066.5L434.8 1055.0L435.3 1086.3L435.7 1066.5L436.2 1066.5L436.7 1072.1L437.2 1069.2L437.7 1072.1L438.2 1082.3L438.6 1086.3L439.1 1078.6L439.6 1086.3L440.1 1066.5L440.6 1107.8L441.1 1069.2L441.5 1066.5L442 1063.9L442.5 1069.2L443 1086.3L443.5 1059.2L444 1082.3L444.4 1061.5L444.9 1069.2L445.4 1090.7L445.9 1086.3L446.4 1086.3L446.9 1066.5L447.3 1082.3L447.8 1075.2L448.3 1082.3L448.8 1075.2L449.3 1082.3L449.8 1086.3L450.2 1101.3L450.7 1069.2L451.2 1069.2L451.7 1075.2L452.2 1095.7L452.6 1086.3L453.1 1086.3L453.6 1086.3L454.1 1078.6L454.6 1107.8L455.1 1090.7L455.5 1086.3L456 1107.8L456.5 1063.9L457 1069.2L457.5 1075.2L458 1075.2L458.4 1075.2L458.9 1086.3L459.4 1078.6L459.9 1086.3L460.4 1107.8L460.9 1095.7L461.3 1090.7L461.8 1086.3L462.3 1069.2L462.8 1078.6L463.3 1090.7L463.8 1115.5L464.2 1075.2L464.7 1095.7L465.2 1107.8L465.7 1124.9L466.2 1075.2L466.7 1078.6L467.1 1107.8L467.6 1086.3L468.1 1086.3L468.6 1090.7L469.1 1082.3L469.6 1101.3L470 1086.3L470.5 1101.3L471 1078.6L471.5 1075.2L472 1090.7L472.5 1090.7L472.9 1072.1L473.4 1082.3L473.9 1075.2L474.4 1072.1L474.9 1090.7L475.3 1075.2L475.8 1086.3L476.3 1075.2L476.8 1063.9L477.3 1078.6L477.8 1101.3L478.2 1086.3L478.7 1115.5L479.2 1086.3L479.7 1107.8L480.2 1082.3L480.7 1078.6L481.1 1095.7L481.6 1090.7L482.1 1082.3L482.6 1090.7L483.1 1072.1L483.6 1090.7L484 1066.5L484.5 1090.7L485 1086.3L485.5 1082.3L486 1107.8L486.5 1107.8L486.9 1101.3L487.4 1095.7L487.9 1078.6L488.4 1107.8L488.9 1101.3L489.4 1115.5L489.8 1107.8L490.3 1137.1L490.8 1124.9L491.3 1101.3L491.8 1124.9L492.3 1095.7L492.7 1090.7L493.2 1072.1L493.7 1082.3L494.2 1101.3L494.7 1086.3L495.2 1101.3L495.6 1101.3L496.1 1101.3L496.6 1107.8L497.1 1078.6L497.6 1124.9L498 1137.1L498.5 1090.7L499 1101.3L499.5 1095.7L500 1101.3L500.5 1095.7L500.9 1095.7L501.4 1082.3L501.9 1090.7L502.4 1078.6L502.9 1086.3L503.4 1090.7L503.8 1115.5L504.3 1115.5L504.8 1078.6L505.3 1115.5L505.8 1124.9L506.3 1086.3L506.7 1101.3L507.2 1101.3L507.7 1095.7L508.2 1078.6L508.7 1095.7L509.2 1101.3L509.6 1078.6L510.1 1095.7L510.6 1115.5L511.1 1115.5L511.6 1107.8L512.1 1075.2L512.5 1107.8L513 1101.3L513.5 1115.5L514 1095.7L514.5 1115.5L515 1115.5L515.4 1086.3L515.9 1078.6L516.4 1101.3L516.9 1101.3L517.4 1082.3L517.9 1107.8L518.3 1101.3L518.8 1095.7L519.3 1101.3L519.8 1101.3L520.3 1137.1L520.8 1107.8L521.2 1095.7L521.7 1101.3L522.2 1115.5L522.7 1115.5L523.2 1107.8L523.6 1115.5L524.1 1095.7L524.6 1124.9L525.1 1095.7L525.6 1082.3L526.1 1124.9L526.5 1124.9L527 1124.9L527.5 1095.7L528 1090.7L528.5 1082.3L529 1124.9L529.4 1095.7L529.9 1086.3L530.4 1086.3L530.9 1086.3L531.4 1095.7L531.9 1115.5L532.3 1090.7L532.8 1095.7L533.3 1101.3L533.8 1095.7L534.3 1095.7L534.8 1095.7L535.2 1095.7L535.7 1115.5L536.2 1082.3L536.7 1101.3L537.2 1124.9L537.7 1101.3L538.1 1086.3L538.6 1115.5L539.1 1107.8L539.6 1124.9L540.1 1095.7L540.6 1107.8L541 1101.3L541.5 1101.3L542 1078.6L542.5 1154.2L543 1124.9L543.5 1090.7L543.9 1101.3L544.4 1101.3L544.9 1154.2L545.4 1137.1L545.9 1183.4L546.3 1115.5L546.8 1107.8L547.3 1154.2L547.8 1090.7L548.3 1090.7L548.8 1124.9L549.2 1107.8L549.7 1137.1L550.2 1115.5L550.7 1101.3L551.2 1107.8L551.7 1107.8L552.1 1115.5L552.6 1115.5L553.1 1101.3L553.6 1086.3L554.1 1115.5L554.6 1124.9L555 1095.7L555.5 1086.3L556 1124.9L556.5 1082.3L557 1090.7L557.5 1124.9L557.9 1137.1L558.4 1107.8L558.9 1154.2L559.4 1107.8L559.9 1101.3L560.4 1154.2L560.8 1124.9L561.3 1137.1L561.8 1090.7L562.3 1115.5L562.8 1101.3L563.3 1086.3L563.7 1101.3L564.2 1115.5L564.7 1101.3L565.2 1090.7L565.7 1086.3L566.2 1090.7L566.6 1137.1L567.1 1107.8L567.6 1082.3L568.1 1090.7L568.6 1154.2L569 1095.7L569.5 1137.1L570 1154.2L570.5 1082.3L571 1115.5L571.5 1090.7L571.9 1124.9L572.4 1095.7L572.9 1154.2L573.4 1101.3L573.9 1115.5L574.4 1115.5L574.8 1115.5L575.3 1124.9L575.8 1095.7L576.3 1101.3L576.8 1154.2L577.3 1154.2L577.7 1101.3L578.2 1095.7L578.7 1115.5L579.2 1069.2L579.7 1107.8L580.2 1101.3L580.6 1101.3L581.1 1115.5L581.6 1095.7L582.1 1101.3L582.6 1107.8L583.1 1101.3L583.5 1101.3L584 1124.9L584.5 1101.3L585 1154.2L585.5 1101.3L586 1107.8L586.4 1095.7L586.9 1137.1L587.4 1101.3L587.9 1124.9L588.4 1107.8L588.9 1124.9L589.3 1107.8L589.8 1115.5L590.3 1082.3L590.8 1101.3L591.3 1124.9L591.7 1154.2L592.2 1101.3L592.7 1090.7L593.2 1107.8L593.7 1124.9L594.2 1101.3L594.6 1101.3L595.1 1137.1L595.6 1137.1L596.1 1107.8L596.6 1107.8L597.1 1107.8L597.5 1137.1L598 1124.9L598.5 1124.9L599 1086.3L599.5 1124.9L600 1115.5L600.4 1124.9L600.9 1101.3L601.4 1107.8L601.9 1107.8L602.4 1107.8L602.9 1107.8L603.3 1154.2L603.8 1137.1L604.3 1090.7L604.8 1124.9L605.3 1101.3L605.8 1090.7L606.2 1137.1L606.7 1154.2L607.2 1115.5L607.7 1115.5L608.2 1137.1L608.7 1107.8L609.1 1086.3L609.6 1124.9L610.1 1124.9L610.6 1115.5L611.1 1115.5L611.6 1124.9L612 1137.1L612.5 1154.2L613 1115.5L613.5 1183.4L614 1137.1L614.4 1107.8L614.9 1124.9L615.4 1090.7L615.9 1095.7L616.4 1154.2L616.9 1107.8L617.3 1101.3L617.8 1082.3L618.3 1137.1L618.8 1090.7L619.3 1090.7L619.8 1154.2L620.2 1107.8L620.7 1137.1L621.2 1107.8L621.7 1137.1L622.2 1137.1L622.7 1107.8L623.1 1124.9L623.6 1154.2L624.1 1072.1L624.6 1115.5L625.1 1090.7L625.6 1115.5L626 1154.2L626.5 1137.1L627 1124.9L627.5 1137.1L628 1095.7L628.5 1107.8L628.9 1124.9L629.4 1137.1L629.9 1137.1L630.4 1124.9L630.9 1090.7L631.4 1124.9L631.8 1107.8L632.3 1115.5L632.8 1183.4L633.3 1101.3L633.8 1090.7L634.3 1095.7L634.7 1115.5L635.2 1115.5L635.7 1124.9" fill="none" stroke="none" marker-start="url(#m10)" marker-mid="url(#m10)" marker-end="url(#m10)"/>
<path d="M153.2 847.0L153.7 848.0L154.2 849.5L154.6 850.8L155.1 850.4L155.6 853.0L156.1 854.2L156.6 855.5L157.1 857.3L157.5 856.1L158 857.8L158.5 859.2L159 860.7L159.5 862.3L160 861.9L160.4 864.0L160.9 866.5L161.4 867.6L161.9 867.9L162.4 871.4L162.9 868.2L163.3 872.5L163.8 871.9L164.3 874.7L164.8 875.1L165.3 873.6L165.8 875.6L166.2 877.0L166.7 878.3L167.2 877.8L167.7 880.6L168.2 881.8L168.7 881.1L169.1 885.6L169.6 883.4L170.1 886.0L170.6 884.1L171.1 888.1L171.6 889.4L172 889.2L172.5 892.0L173 887.7L173.5 894.2L174 893.6L174.5 893.6L174.9 894.4L175.4 894.4L175.9 897.3L176.4 899.5L176.9 896.7L177.3 898.2L177.8 897.8L178.3 902.5L178.8 904.2L179.3 904.0L179.8 901.2L180.2 905.5L180.7 904.4L181.2 904.8L181.7 908.9L182.2 908.7L182.7 909.9L183.1 910.9L183.6 909.3L184.1 914.4L184.6 912.5L185.1 916.0L185.6 912.1L186 913.1L186.5 917.5L187 917.5L187.5 918.2L188 917.5L188.5 921.6L188.9 923.0L189.4 921.3L189.9 923.8L190.4 924.6L190.9 921.8L191.4 923.9L191.8 927.0L192.3 926.8L192.8 929.6L193.3 929.6L193.8 927.4L194.3 927.8L194.7 926.7L195.2 930.0L195.7 928.7L196.2 930.3L196.7 933.5L197.2 937.2L197.6 931.8L198.1 932.4L198.6 933.7L199.1 937.5L199.6 936.9L200 941.5L200.5 938.5L201 942.0L201.5 940.4L202 939.9L202.5 941.4L202.9 946.4L203.4 944.6L203.9 949.1L204.4 941.8L204.9 944.6L205.4 939.8L205.8 947.9L206.3 942.3L206.8 947.2L207.3 948.7L207.8 947.2L208.3 945.0L208.7 954.4L209.2 949.9L209.7 952.6L210.2 948.7L210.7 955.0L211.2 956.1L211.6 950.4L212.1 955.6L212.6 959.1L213.1 952.5L213.6 956.1L214.1 960.4L214.5 956.9L215 957.1L215.5 960.0L216 961.9L216.5 962.4L217 959.3L217.4 963.5L217.9 962.1L218.4 968.1L218.9 968.9L219.4 962.8L219.9 963.3L220.3 965.4L220.8 968.3L221.3 975.3L221.8 977.8L222.3 965.4L222.7 968.9L223.2 970.4L223.7 973.8L224.2 973.2L224.7 965.4L225.2 968.3L225.6 974.4L226.1 974.4L226.6 974.7L227.1 975.9L227.6 973.8L228.1 979.1L228.5 981.5L229 974.1L229.5 978.1L230 979.8L230.5 974.4L231 972.4L231.4 978.8L231.9 981.5L232.4 981.9L232.9 986.0L233.4 976.9L233.9 982.6L234.3 981.2L234.8 986.0L235.3 983.3L235.8 987.5L236.3 983.3L236.8 984.0L237.2 981.5L237.7 983.7L238.2 987.5L238.7 988.4L239.2 977.5L239.7 988.8L240.1 988.4L240.6 990.1L241.1 990.9L241.6 988.8L242.1 991.4L242.6 991.4L243 992.7L243.5 990.5L244 992.3L244.5 1000.8L245 991.4L245.4 993.6L245.9 992.3L246.4 992.3L246.9 999.1L247.4 1006.1L247.9 995.6L248.3 1004.2L248.8 994.6L249.3 996.1L249.8 993.2L250.3 1001.3L250.8 1000.2L251.2 999.1L251.7 1000.8L252.2 1001.3L252.7 999.1L253.2 1009.4L253.7 1006.1L254.1 1012.9L254.6 1002.5L255.1 1012.2L255.6 1006.7L256.1 1011.5L256.6 1000.8L257 1000.8L257.5 1013.7L258 1016.0L258.5 1004.2L259 1010.7L259.5 1019.3L259.9 1010.7L260.4 1020.2L260.9 1004.2L261.4 1012.2L261.9 1004.8L262.4 1011.5L262.8 1008.0L263.3 1008.7L263.8 1014.4L264.3 1011.5L264.8 1010.7L265.3 1010.7L265.7 1020.2L266.2 1016.8L266.7 1012.9L267.2 1014.4L267.7 1032.3L268.1 1016.0L268.6 1023.8L269.1 1012.2L269.6 1016.0L270.1 1009.4L270.6 1016.8L271 1017.6L271.5 1024.8L272 1030.0L272.5 1027.8L273 1016.8L273.5 1022.9L273.9 1020.2L274.4 1017.6L274.9 1016.8L275.4 1022.9L275.9 1037.2L276.4 1023.8L276.8 1032.3L277.3 1006.7L277.8 1022.9L278.3 1024.8L278.8 1016.0L279.3 1041.4L279.7 1031.1L280.2 1021.9L280.7 1032.3L281.2 1036.0L281.7 1022.9L282.2 1024.8L282.6 1022.9L283.1 1024.8L283.6 1026.8L284.1 1031.1L284.6 1034.7L285.1 1024.8L285.5 1024.8L286 1027.8L286.5 1037.2L287 1028.9L287.5 1023.8L288 1026.8L288.4 1037.2L288.9 1040.0L289.4 1044.4L289.9 1040.0L290.4 1030.0L290.9 1041.4L291.3 1031.1L291.8 1023.8L292.3 1047.7L292.8 1046.0L293.3 1042.9L293.7 1032.3L294.2 1030.0L294.7 1046.0L295.2 1037.2L295.7 1040.0L296.2 1042.9L296.6 1036.0L297.1 1057.1L297.6 1034.7L298.1 1037.2L298.6 1033.5L299.1 1037.2L299.5 1046.0L300 1032.3L300.5 1044.4L301 1057.1L301.5 1053.1L302 1044.4L302.4 1044.4L302.9 1055.0L303.4 1031.1L303.9 1038.6L304.4 1055.0L304.9 1040.0L305.3 1049.4L305.8 1057.1L306.3 1055.0L306.8 1051.2L307.3 1046.0L307.8 1051.2L308.2 1055.0L308.7 1040.0L309.2 1049.4L309.7 1063.9L310.2 1046.0L310.7 1057.1L311.1 1053.1L311.6 1047.7L312.1 1044.4L312.6 1059.2L313.1 1037.2L313.6 1046.0L314 1069.2L314.5 1051.2L315 1047.7L315.5 1075.2L316 1059.2L316.4 1059.2L316.9 1061.5L317.4 1066.5L317.9 1042.9L318.4 1066.5L318.9 1041.4L319.3 1057.1L319.8 1063.9L320.3 1078.6L320.8 1057.1L321.3 1063.9L321.8 1063.9L322.2 1046.0L322.7 1063.9L323.2 1051.2L323.7 1057.1L324.2 1072.1L324.7 1061.5L325.1 1049.4L325.6 1036.0L326.1 1066.5L326.6 1075.2L327.1 1066.5L327.6 1078.6L328 1078.6L328.5 1061.5L329 1066.5L329.5 1082.3L330 1055.0L330.5 1053.1L330.9 1061.5L331.4 1069.2L331.9 1078.6L332.4 1069.2L332.9 1066.5L333.4 1053.1L333.8 1075.2L334.3 1061.5L334.8 1061.5L335.3 1059.2L335.8 1059.2L336.3 1069.2L336.7 1047.7L337.2 1075.2L337.7 1061.5L338.2 1069.2L338.7 1082.3L339.1 1082.3L339.6 1078.6L340.1 1057.1L340.6 1063.9L341.1 1063.9L341.6 1063.9L342 1082.3L342.5 1095.7L343 1101.3L343.5 1078.6L344 1082.3L344.5 1086.3L344.9 1059.2L345.4 1078.6L345.9 1069.2L346.4 1082.3L346.9 1066.5L347.4 1075.2L347.8 1063.9L348.3 1115.5L348.8 1078.6L349.3 1072.1L349.8 1090.7L350.3 1063.9L350.7 1082.3L351.2 1078.6L351.7 1075.2L352.2 1072.1L352.7 1059.2L353.2 1072.1L353.6 1069.2L354.1 1095.7L354.6 1059.2L355.1 1075.2L355.6 1086.3L356.1 1072.1L356.5 1090.7L357 1078.6L357.5 1075.2L358 1072.1L358.5 1072.1L359 1082.3L359.4 1072.1L359.9 1069.2L360.4 1075.2L360.9 1078.6L361.4 1072.1L361.8 1063.9L362.3 1090.7L362.8 1072.1L363.3 1066.5L363.8 1078.6L364.3 1101.3L364.7 1075.2L365.2 1095.7L365.7 1078.6L366.2 1095.7L366.7 1101.3L367.2 1101.3L367.6 1101.3L368.1 1090.7L368.6 1095.7L369.1 1075.2L369.6 1090.7L370.1 1107.8L370.5 1075.2L371 1107.8L371.5 1115.5L372 1095.7L372.5 1078.6L373 1095.7L373.4 1090.7L373.9 1090.7L374.4 1082.3L374.9 1095.7L375.4 1090.7L375.9 1107.8L376.3 1082.3L376.8 1115.5L377.3 1101.3L377.8 1090.7L378.3 1090.7L378.8 1101.3L379.2 1101.3L379.7 1086.3L380.2 1101.3L380.7 1090.7L381.2 1124.9L381.7 1072.1L382.1 1090.7L382.6 1095.7L383.1 1124.9L383.6 1101.3L384.1 1095.7L384.5 1124.9L385 1107.8L385.5 1086.3L386 1095.7L386.5 1090.7L387 1101.3L387.4 1101.3L387.9 1095.7L388.4 1101.3L388.9 1115.5L389.4 1078.6L389.9 1078.6L390.3 1124.9L390.8 1115.5L391.3 1095.7L391.8 1115.5L392.3 1101.3L392.8 1101.3L393.2 1115.5L393.7 1137.1L394.2 1090.7L394.7 1101.3L395.2 1115.5L395.7 1078.6L396.1 1115.5L396.6 1086.3L397.1 1101.3L397.6 1075.2L398.1 1101.3L398.6 1090.7L399 1090.7L399.5 1124.9L400 1137.1L400.5 1124.9L401 1115.5L401.5 1101.3L401.9 1101.3L402.4 1101.3L402.9 1107.8L403.4 1095.7L403.9 1095.7L404.4 1115.5L404.8 1101.3L405.3 1090.7L405.8 1137.1L406.3 1154.2L406.8 1107.8L407.2 1154.2L407.7 1107.8L408.2 1107.8L408.7 1107.8L409.2 1095.7L409.7 1137.1L410.1 1078.6L410.6 1086.3L411.1 1115.5L411.6 1183.4L412.1 1107.8L412.6 1183.4L413 1137.1L413.5 1107.8L414 1101.3L414.5 1101.3L415 1101.3L415.5 1137.1L415.9 1137.1L416.4 1101.3L416.9 1095.7L417.4 1090.7L417.9 1124.9L418.4 1086.3L418.8 1082.3L419.3 1078.6L419.8 1107.8L420.3 1154.2L420.8 1115.5L421.3 1101.3L421.7 1101.3L422.2 1090.7L422.7 1124.9L423.2 1115.5L423.7 1115.5L424.2 1078.6L424.6 1137.1L425.1 1101.3L425.6 1107.8L426.1 1115.5L426.6 1115.5L427.1 1124.9L427.5 1101.3L428 1101.3L428.5 1183.4L429 1101.3L429.5 1095.7L429.9 1082.3L430.4 1107.8L430.9 1095.7L431.4 1124.9L431.9 1115.5L432.4 1090.7L432.8 1107.8L433.3 1115.5L433.8 1107.8L434.3 1101.3L434.8 1107.8L435.3 1115.5L435.7 1107.8L436.2 1095.7L436.7 1115.5L437.2 1101.3L437.7 1124.9L438.2 1124.9L438.6 1115.5L439.1 1124.9L439.6 1086.3L440.1 1107.8L440.6 1095.7L441.1 1101.3L441.5 1115.5L442 1124.9L442.5 1154.2L443 1101.3L443.5 1101.3L444 1115.5L444.4 1183.4L444.9 1101.3L445.4 1107.8L445.9 1137.1L446.4 1107.8L446.9 1115.5L447.3 1137.1L447.8 1101.3L448.3 1154.2L448.8 1101.3L449.3 1154.2L449.8 1115.5L450.2 1137.1L450.7 1124.9L451.2 1107.8L451.7 1115.5L452.2 1115.5L452.6 1090.7L453.1 1137.1L453.6 1107.8L454.1 1124.9L454.6 1101.3L455.1 1154.2L455.5 1124.9L456 1115.5L456.5 1101.3L457 1137.1L457.5 1107.8L458 1154.2L458.4 1082.3L458.9 1115.5L459.4 1137.1L459.9 1183.4L460.4 1154.2L460.9 1137.1L461.3 1137.1L461.8 1107.8L462.3 1154.2L462.8 1101.3L463.3 1154.2L463.8 1107.8L464.2 1090.7L464.7 1095.7L465.2 1137.1L465.7 1115.5L466.2 1090.7L466.7 1107.8L467.1 1124.9L467.6 1107.8L468.1 1095.7L468.6 1115.5L469.1 1154.2L469.6 1115.5L470 1124.9L470.5 1107.8L471 1107.8L471.5 1137.1L472 1137.1L472.5 1115.5L472.9 1154.2L473.4 1124.9L473.9 1124.9L474.4 1101.3L474.9 1095.7L475.3 1154.2L475.8 1124.9L476.3 1154.2L476.8 1107.8L477.3 1124.9L477.8 1124.9L478.2 1115.5L478.7 1124.9L479.2 1137.1L479.7 1107.8L480.2 1137.1L480.7 1124.9L481.1 1107.8L482.1 1107.8L482.6 1137.1L483.1 1107.8L483.6 1107.8L484 1124.9L484.5 1101.3L485 1115.5L485.5 1137.1L486 1107.8L486.5 1183.4L486.9 1137.1L487.4 1115.5L487.9 1115.5L488.4 1137.1L488.9 1124.9L489.4 1137.1L489.8 1115.5L490.3 1124.9L490.8 1115.5L491.3 1137.1L491.8 1107.8L492.3 1115.5L492.7 1137.1L493.2 1124.9L493.7 1124.9L494.2 1107.8L494.7 1124.9L495.2 1154.2L495.6 1154.2L496.1 1115.5L496.6 1137.1L497.1 1124.9L497.6 1095.7L498 1090.7L498.5 1115.5L499 1101.3L499.5 1137.1L500 1095.7L500.5 1137.1L500.9 1124.9L501.4 1107.8L501.9 1137.1L502.4 1183.4L502.9 1124.9L503.4 1090.7L503.8 1124.9L504.3 1107.8L504.8 1154.2L505.3 1107.8L505.8 1124.9L506.3 1101.3L506.7 1154.2L507.2 1124.9L507.7 1107.8L508.2 1137.1L508.7 1137.1L509.2 1154.2L509.6 1115.5L510.1 1124.9L510.6 1183.4L511.1 1101.3L511.6 1183.4L512.1 1137.1L512.5 1124.9L513 1124.9L513.5 1124.9L514 1086.3L514.5 1101.3L515 1124.9L515.4 1137.1L515.9 1124.9L516.4 1137.1L516.9 1124.9L517.4 1115.5L517.9 1115.5L518.3 1137.1L518.8 1124.9L519.3 1124.9L519.8 1154.2L520.3 1101.3L520.8 1154.2L521.2 1107.8L521.7 1154.2L522.2 1115.5L522.7 1183.4L523.2 1124.9L523.6 1124.9L524.1 1124.9L524.6 1137.1L525.1 1154.2L525.6 1137.1L526.1 1154.2L526.5 1154.2L527 1115.5L527.5 1124.9L528.5 1183.4L529 1095.7L529.4 1124.9L529.9 1107.8L530.4 1154.2L530.9 1107.8L531.4 1115.5L531.9 1137.1L532.3 1137.1L532.8 1115.5L533.3 1095.7L533.8 1137.1L534.3 1183.4L534.8 1095.7L535.2 1124.9L535.7 1183.4L536.2 1115.5L536.7 1154.2L537.2 1115.5L537.7 1107.8L538.1 1124.9L538.6 1124.9L539.1 1154.2L539.6 1115.5L540.1 1124.9L540.6 1101.3L541 1154.2L541.5 1154.2L542 1124.9L542.5 1107.8L543 1115.5L543.5 1124.9L543.9 1137.1L544.4 1137.1L544.9 1137.1L545.4 1115.5L545.9 1124.9L546.3 1154.2L546.8 1107.8L547.3 1101.3L547.8 1115.5L548.3 1137.1L548.8 1154.2L549.2 1107.8L549.7 1115.5L550.2 1137.1L550.7 1115.5L551.2 1124.9L551.7 1124.9L552.1 1183.4L552.6 1154.2L553.1 1107.8L553.6 1101.3L554.1 1124.9L554.6 1137.1L555 1124.9L555.5 1154.2L556 1154.2L556.5 1115.5L557 1154.2L557.5 1137.1L557.9 1154.2L558.4 1137.1L558.9 1107.8L559.4 1115.5L559.9 1115.5L560.4 1115.5L560.8 1137.1L561.3 1124.9L561.8 1101.3L562.3 1115.5L562.8 1154.2L563.3 1115.5L563.7 1137.1L564.2 1115.5L564.7 1124.9L565.2 1183.4L565.7 1107.8L566.2 1115.5L566.6 1183.4L567.1 1124.9L567.6 1137.1L568.1 1115.5L568.6 1137.1L569 1124.9L569.5 1137.1L570 1115.5L570.5 1107.8L571 1124.9L571.5 1090.7L571.9 1137.1L572.4 1154.2L572.9 1115.5L573.4 1137.1L573.9 1124.9L574.4 1154.2L574.8 1115.5L575.3 1107.8L575.8 1115.5L576.3 1137.1L576.8 1137.1L577.3 1101.3L577.7 1154.2L578.2 1115.5L578.7 1124.9L579.2 1137.1L579.7 1107.8L580.2 1124.9L580.6 1115.5L581.1 1154.2L581.6 1124.9L582.1 1154.2L582.6 1107.8L583.1 1183.4L583.5 1137.1L584 1137.1L584.5 1124.9L585 1183.4L585.5 1137.1L586 1115.5L586.4 1124.9L586.9 1115.5L587.4 1183.4L587.9 1183.4L588.4 1086.3L589.3 1137.1L589.8 1137.1L590.3 1154.2L590.8 1137.1L591.3 1124.9L591.7 1154.2L592.2 1124.9L592.7 1124.9L593.2 1115.5L593.7 1137.1L594.2 1154.2L594.6 1137.1L595.1 1115.5L595.6 1137.1L596.1 1137.1L596.6 1137.1L597.1 1115.5L597.5 1124.9L598 1137.1L598.5 1154.2L599 1115.5L599.5 1154.2L600 1137.1L600.4 1154.2L600.9 1115.5L601.4 1124.9L601.9 1154.2L602.4 1101.3L602.9 1124.9L603.3 1101.3L603.8 1137.1L604.3 1154.2L604.8 1137.1L605.3 1137.1L605.8 1154.2L606.2 1124.9L606.7 1154.2L607.2 1115.5L607.7 1137.1L608.2 1086.3L608.7 1183.4L609.1 1183.4L609.6 1115.5L610.1 1137.1L610.6 1124.9L611.1 1107.8L611.6 1183.4L612 1115.5L612.5 1154.2L613 1124.9L613.5 1124.9L614 1124.9L614.4 1086.3L614.9 1154.2L615.4 1137.1L615.9 1124.9L616.4 1154.2L616.9 1107.8L617.3 1154.2L617.8 1101.3L618.3 1115.5L618.8 1154.2L619.3 1137.1L619.8 1115.5L620.2 1124.9L620.7 1115.5L621.2 1137.1L621.7 1101.3L622.2 1124.9L622.7 1137.1L623.1 1124.9L623.6 1107.8L624.1 1115.5L624.6 1124.9L625.1 1154.2L625.6 1154.2L626 1124.9L626.5 1082.3L627 1137.1L627.5 1137.1L628 1107.8L628.5 1101.3L628.9 1101.3L629.4 1154.2L629.9 1183.4L630.4 1124.9L630.9 1107.8L631.4 1101.3L631.8 1107.8L632.3 1137.1L632.8 1137.1L633.3 1137.1L633.8 1183.4L634.3 1124.9L634.7 1137.1L635.2 1137.1L635.7 1124.9" fill="none" stroke="none" marker-start="url(#m25)" marker-mid="url(#m25)" marker-end="url(#m25)"/>
<path d="M153.2 824.2L153.7 851.9L154.2 853.4L154.6 854.1L155.1 857.4L155.6 859.1L156.1 860.7L156.6 859.7L157.1 862.9L157.5 863.3L158 866.7L158.5 866.3L159 867.2L159.5 869.0L160 870.0L160.4 873.2L160.9 874.7L161.4 875.9L161.9 876.2L162.4 880.5L162.9 880.7L163.3 884.2L163.8 881.4L164.3 884.8L164.8 884.2L165.3 885.7L165.8 887.2L166.2 888.7L166.7 891.3L167.2 890.9L167.7 896.4L168.2 894.0L168.7 895.3L169.1 896.4L169.6 899.3L170.1 899.4L170.6 897.3L171.1 901.9L171.6 903.0L172 903.5L172.5 901.9L173 905.1L173.5 909.7L174 906.3L174.5 908.4L174.9 910.9L175.4 911.1L175.9 910.3L176.4 915.5L176.9 913.7L177.3 910.2L177.8 913.8L178.3 913.0L178.8 916.2L179.3 917.6L179.8 921.9L180.2 918.7L180.7 923.9L181.2 923.0L181.7 922.7L182.2 926.4L182.7 924.2L183.1 929.0L183.6 925.3L184.1 930.8L184.6 931.8L185.1 930.7L185.6 931.0L186 933.8L186.5 931.8L187 930.6L187.5 933.8L188 934.7L188.5 937.7L188.9 942.2L189.4 937.7L189.9 942.2L190.4 939.2L190.9 937.0L191.4 944.4L191.8 940.5L192.3 943.0L192.8 944.9L193.3 947.3L193.8 946.2L194.3 950.7L194.7 950.2L195.2 946.8L195.7 952.5L196.2 954.4L196.7 953.5L197.2 947.3L197.6 954.8L198.1 953.5L198.6 954.4L199.1 956.5L199.6 960.0L200 960.2L200.5 955.6L201 963.9L201.5 960.2L202 958.3L202.5 960.8L202.9 959.1L203.4 963.5L203.9 970.7L204.4 967.6L204.9 970.2L205.4 969.1L205.8 963.7L206.3 968.3L206.8 972.4L207.3 969.6L207.8 968.6L208.3 978.1L208.7 972.7L209.2 977.8L209.7 974.1L210.2 976.2L210.7 973.0L211.2 980.5L211.6 980.1L212.1 982.9L212.6 989.2L213.1 982.6L213.6 987.5L214.1 979.8L214.5 983.7L215 986.3L215.5 981.5L216 986.3L216.5 990.9L217 990.5L217.4 980.8L217.9 995.6L218.4 986.0L218.9 991.4L219.4 994.1L219.9 991.8L220.3 992.7L220.8 995.1L221.3 996.6L221.8 994.6L222.3 993.6L222.7 996.1L223.2 995.6L223.7 996.1L224.2 995.1L224.7 993.2L225.2 1009.4L225.6 999.7L226.1 1004.8L226.6 991.8L227.1 999.7L227.6 1003.6L228.1 997.6L228.5 1008.7L229 999.7L229.5 1001.9L230 1007.4L230.5 1000.2L231 1001.9L231.4 1004.2L231.9 1008.0L232.4 1011.5L232.9 1008.7L233.4 1010.0L233.9 1011.5L234.3 996.1L234.8 1003.6L235.3 1012.2L235.8 1004.8L236.3 1004.2L236.8 1024.8L237.2 1013.7L237.7 1019.3L238.2 1018.4L238.7 1018.4L239.2 1020.2L239.7 1015.2L240.1 1014.4L240.6 1017.6L241.1 1012.2L241.6 1028.9L242.1 1018.4L242.6 1024.8L243 1022.9L243.5 1028.9L244 1020.2L244.5 1023.8L245 1023.8L245.4 1015.2L245.9 1024.8L246.4 1034.7L246.9 1020.2L247.4 1036.0L247.9 1026.8L248.3 1033.5L248.8 1018.4L249.3 1027.8L249.8 1021.9L250.3 1028.9L250.8 1021.9L251.2 1037.2L251.7 1022.9L252.2 1038.6L252.7 1024.8L253.2 1036.0L253.7 1027.8L254.1 1030.0L254.6 1036.0L255.1 1049.4L255.6 1031.1L256.1 1033.5L256.6 1031.1L257 1047.7L257.5 1031.1L258 1036.0L258.5 1036.0L259 1032.3L259.5 1034.7L259.9 1057.1L260.4 1034.7L260.9 1038.6L261.4 1041.4L261.9 1042.9L262.4 1046.0L262.8 1046.0L263.3 1051.2L263.8 1051.2L264.3 1053.1L264.8 1057.1L265.3 1032.3L265.7 1038.6L266.2 1049.4L266.7 1072.1L267.2 1057.1L267.7 1053.1L268.1 1086.3L268.6 1044.4L269.1 1051.2L269.6 1066.5L270.1 1072.1L270.6 1072.1L271 1061.5L271.5 1053.1L272 1055.0L272.5 1053.1L273 1059.2L273.5 1063.9L273.9 1059.2L274.4 1057.1L274.9 1072.1L275.4 1063.9L275.9 1053.1L276.4 1055.0L276.8 1069.2L277.3 1063.9L277.8 1069.2L278.3 1047.7L278.8 1063.9L279.3 1078.6L279.7 1057.1L280.2 1051.2L280.7 1069.2L281.2 1053.1L281.7 1075.2L282.2 1061.5L282.6 1069.2L283.1 1069.2L283.6 1086.3L284.1 1078.6L284.6 1055.0L285.1 1063.9L285.5 1066.5L286 1075.2L286.5 1075.2L287 1066.5L287.5 1066.5L288 1066.5L288.4 1066.5L288.9 1069.2L289.4 1090.7L289.9 1082.3L290.4 1101.3L290.9 1078.6L291.3 1082.3L291.8 1063.9L292.3 1082.3L292.8 1095.7L293.3 1090.7L293.7 1075.2L294.2 1107.8L294.7 1095.7L295.2 1107.8L295.7 1095.7L296.2 1090.7L296.6 1090.7L297.1 1090.7L297.6 1075.2L298.1 1082.3L298.6 1101.3L299.1 1082.3L299.5 1101.3L300 1095.7L300.5 1107.8L301 1090.7L301.5 1095.7L302 1095.7L302.4 1101.3L302.9 1086.3L303.4 1086.3L303.9 1101.3L304.4 1090.7L304.9 1101.3L305.3 1137.1L305.8 1090.7L306.3 1095.7L306.8 1115.5L307.3 1078.6L307.8 1107.8L308.2 1115.5L308.7 1183.4L309.2 1115.5L309.7 1095.7L310.2 1101.3L310.7 1095.7L311.1 1107.8L311.6 1101.3L312.1 1086.3L312.6 1101.3L313.1 1101.3L313.6 1107.8L314 1115.5L314.5 1095.7L315 1095.7L315.5 1107.8L316 1086.3L316.4 1107.8L316.9 1115.5L317.4 1115.5L317.9 1101.3L318.4 1137.1L318.9 1107.8L319.3 1137.1L319.8 1137.1L320.3 1115.5L320.8 1107.8L321.3 1124.9L321.8 1095.7L322.2 1115.5L322.7 1107.8L323.2 1086.3L323.7 1101.3L324.2 1124.9L324.7 1095.7L325.1 1095.7L325.6 1124.9L326.1 1137.1L326.6 1090.7L327.1 1086.3L327.6 1124.9L328 1115.5L328.5 1124.9L329 1124.9L329.5 1115.5L330 1095.7L330.5 1137.1L330.9 1154.2L331.4 1154.2L331.9 1124.9L332.4 1107.8L332.9 1183.4L333.4 1107.8L333.8 1107.8L334.3 1124.9L334.8 1124.9L335.3 1115.5L335.8 1137.1L336.3 1124.9L336.7 1107.8L337.2 1107.8L337.7 1101.3L338.2 1090.7L338.7 1124.9L339.1 1137.1L339.6 1124.9L340.1 1124.9L340.6 1101.3L341.1 1107.8L341.6 1154.2L342 1101.3L342.5 1107.8L343 1095.7L343.5 1095.7L344 1137.1L344.5 1095.7L344.9 1137.1L345.4 1115.5L345.9 1115.5L346.4 1124.9L346.9 1137.1L347.4 1115.5L347.8 1124.9L348.3 1137.1L348.8 1137.1L349.3 1115.5L349.8 1107.8L350.3 1095.7L350.7 1101.3L351.2 1101.3L351.7 1115.5L352.2 1124.9L352.7 1154.2L353.2 1137.1L353.6 1107.8L354.1 1107.8L354.6 1154.2L355.1 1107.8L355.6 1095.7L356.1 1107.8L356.5 1107.8L357 1154.2L357.5 1154.2L358 1115.5L358.5 1124.9L359 1107.8L359.4 1115.5L359.9 1137.1L360.4 1137.1L360.9 1115.5L361.4 1095.7L361.8 1115.5L362.3 1115.5L362.8 1090.7L363.3 1115.5L363.8 1137.1L364.3 1137.1L364.7 1183.4L365.2 1137.1L365.7 1154.2L366.2 1124.9L366.7 1107.8L367.2 1154.2L367.6 1107.8L368.1 1115.5L368.6 1183.4L369.1 1107.8L369.6 1124.9L370.1 1137.1L370.5 1154.2L371 1115.5L371.5 1115.5L372 1154.2L372.5 1124.9L373 1154.2L373.4 1115.5L373.9 1137.1L374.4 1115.5L374.9 1154.2L375.4 1154.2L375.9 1107.8L376.3 1137.1L376.8 1154.2L377.3 1115.5L377.8 1183.4L378.3 1154.2L378.8 1124.9L379.2 1154.2L379.7 1115.5L380.2 1137.1L380.7 1183.4L381.2 1154.2L381.7 1183.4L382.1 1124.9L382.6 1124.9L383.1 1183.4L383.6 1154.2L384.1 1124.9L384.5 1137.1L385 1107.8L385.5 1095.7L386 1154.2L386.5 1183.4L387 1137.1L387.4 1124.9L387.9 1154.2L388.9 1107.8L389.4 1183.4L389.9 1137.1L390.3 1107.8L390.8 1183.4L391.3 1115.5L391.8 1183.4L392.3 1154.2L392.8 1137.1L393.2 1137.1L393.7 1137.1L394.2 1137.1L394.7 1183.4L395.7 1137.1L396.1 1183.4L396.6 1183.4L397.1 1137.1L397.6 1115.5L398.1 1124.9L398.6 1115.5L399 1124.9L399.5 1154.2L400 1137.1L400.5 1124.9L401 1137.1L401.5 1101.3L401.9 1137.1L402.4 1124.9L402.9 1137.1L403.4 1154.2L403.9 1154.2L404.4 1115.5L404.8 1137.1L405.3 1154.2L405.8 1154.2L406.3 1137.1L406.8 1124.9L407.2 1124.9L407.7 1183.4L408.7 1124.9L409.2 1124.9L409.7 1124.9L410.6 1154.2L411.1 1154.2L411.6 1124.9L412.1 1183.4L412.6 1115.5L413 1137.1L413.5 1183.4L414 1124.9L414.5 1154.2L415 1115.5L415.5 1183.4L415.9 1154.2L416.4 1101.3L416.9 1154.2L417.4 1137.1L418.4 1137.1L418.8 1154.2L419.3 1124.9L420.3 1137.1L420.8 1154.2L421.3 1154.2L421.7 1124.9L422.2 1183.4L422.7 1124.9L423.2 1154.2L423.7 1124.9L424.2 1183.4L424.6 1137.1L425.1 1183.4L425.6 1183.4L426.1 1107.8L426.6 1183.4L427.1 1183.4L427.5 1124.9L428 1124.9L428.5 1154.2L429 1154.2L429.5 1107.8L429.9 1154.2L430.4 1124.9L430.9 1137.1L431.4 1137.1L432.4 1124.9L432.8 1183.4L433.3 1137.1L433.8 1183.4L434.3 1154.2L434.8 1137.1L435.3 1137.1L435.7 1137.1L436.2 1137.1L436.7 1101.3L437.2 1154.2L437.7 1137.1L438.2 1154.2L438.6 1107.8L439.1 1183.4L439.6 1154.2L440.1 1124.9L440.6 1154.2L441.1 1154.2L442 1183.4L442.5 1124.9L443 1154.2L443.5 1183.4L444 1154.2L444.4 1183.4L445.4 1137.1L445.9 1154.2L446.9 1183.4L447.3 1137.1L447.8 1154.2L448.3 1183.4L448.8 1154.2L449.3 1115.5L449.8 1115.5L450.2 1154.2L450.7 1124.9L451.2 1154.2L451.7 1137.1L452.2 1137.1L452.6 1115.5L453.1 1183.4L454.1 1154.2L454.6 1154.2L455.1 1154.2L455.5 1107.8L456 1115.5L456.5 1115.5L457 1115.5L457.5 1154.2L458 1124.9L458.4 1107.8L458.9 1107.8L459.4 1154.2L459.9 1124.9L460.4 1115.5L460.9 1154.2L461.3 1137.1L461.8 1154.2L462.3 1124.9L462.8 1137.1L463.3 1183.4L463.8 1183.4L464.2 1124.9L464.7 1183.4L465.2 1137.1L465.7 1137.1L466.2 1154.2L466.7 1154.2L467.1 1183.4L468.1 1154.2L468.6 1154.2L469.1 1154.2L470 1137.1L470.5 1154.2L471 1154.2L471.5 1183.4L472 1137.1L472.5 1124.9L472.9 1183.4L473.9 1124.9L474.9 1183.4L475.3 1183.4L475.8 1115.5L476.3 1124.9L476.8 1154.2L477.3 1124.9L477.8 1154.2L478.2 1154.2L478.7 1154.2L479.2 1137.1L479.7 1137.1L480.2 1154.2L480.7 1115.5L481.1 1137.1L481.6 1154.2L482.1 1137.1L482.6 1124.9L483.1 1183.4L483.6 1137.1L484 1137.1L485 1107.8L485.5 1137.1L486 1154.2L486.5 1154.2L486.9 1154.2L487.4 1115.5L487.9 1115.5L488.4 1183.4L489.4 1124.9L489.8 1137.1L490.3 1183.4L490.8 1183.4L491.3 1154.2L491.8 1154.2L492.3 1124.9L492.7 1115.5L493.2 1183.4L493.7 1183.4L494.2 1183.4L494.7 1137.1L495.6 1154.2L496.1 1183.4L496.6 1154.2L497.1 1137.1L498 1124.9L499 1183.4L499.5 1154.2L500 1137.1L500.5 1183.4L500.9 1154.2L501.4 1183.4L501.9 1154.2L502.4 1115.5L502.9 1183.4L503.4 1137.1L504.3 1154.2L504.8 1115.5L505.3 1137.1L506.3 1183.4L506.7 1137.1L507.2 1183.4L507.7 1154.2L508.2 1137.1L508.7 1137.1L509.2 1124.9L509.6 1183.4L510.1 1154.2L510.6 1183.4L511.1 1137.1L511.6 1154.2L512.1 1124.9L512.5 1137.1L513 1154.2L513.5 1124.9L514 1183.4L515 1154.2L515.4 1124.9L515.9 1183.4L516.4 1183.4L516.9 1183.4L517.4 1124.9L518.3 1137.1L518.8 1137.1L519.3 1107.8L519.8 1183.4L520.3 1101.3L520.8 1137.1L521.2 1154.2L521.7 1154.2L522.2 1137.1L522.7 1183.4L523.2 1154.2L523.6 1154.2L524.1 1154.2L524.6 1183.4L525.1 1154.2L525.6 1183.4L526.1 1107.8L526.5 1137.1L527 1137.1L527.5 1137.1L528 1154.2L528.5 1137.1L529.9 1137.1L530.4 1124.9L530.9 1154.2L531.9 1137.1L532.3 1154.2L533.3 1154.2L533.8 1183.4L534.3 1137.1L534.8 1183.4L535.2 1154.2L535.7 1183.4L536.2 1115.5L536.7 1115.5L537.2 1183.4L537.7 1183.4L539.1 1154.2L539.6 1183.4L540.6 1154.2L541 1154.2L542 1154.2L542.5 1154.2L543 1183.4L543.5 1183.4L544.4 1154.2L544.9 1137.1L545.4 1107.8L545.9 1154.2L546.3 1115.5L547.3 1183.4L547.8 1154.2L548.3 1183.4L548.8 1124.9L549.2 1154.2L549.7 1115.5L550.2 1101.3L550.7 1183.4L551.2 1183.4L551.7 1137.1L552.1 1154.2L552.6 1183.4L553.1 1137.1L553.6 1154.2L554.6 1137.1L555 1124.9L555.5 1124.9L556.5 1154.2L557 1154.2L557.5 1154.2L558.4 1154.2L558.9 1137.1L559.4 1124.9L559.9 1137.1L560.4 1183.4L560.8 1115.5L561.3 1137.1L561.8 1154.2L562.3 1137.1L562.8 1154.2L563.3 1183.4L563.7 1137.1L564.2 1154.2L565.2 1154.2L565.7 1183.4L566.2 1154.2L566.6 1137.1L567.6 1183.4L568.1 1183.4L568.6 1115.5L569 1137.1L569.5 1137.1L570 1137.1L570.5 1183.4L571 1154.2L571.5 1137.1L571.9 1124.9L572.9 1183.4L573.4 1183.4L573.9 1137.1L574.4 1154.2L574.8 1124.9L575.3 1124.9L575.8 1183.4L576.3 1183.4L576.8 1154.2L577.3 1137.1L577.7 1183.4L578.2 1183.4L578.7 1115.5L579.2 1154.2L579.7 1154.2L580.2 1124.9L580.6 1183.4L581.1 1154.2L581.6 1137.1L582.1 1115.5L582.6 1183.4L583.1 1137.1L583.5 1183.4L584 1183.4L584.5 1154.2L585 1137.1L585.5 1183.4L586 1137.1L586.4 1154.2L586.9 1183.4L587.9 1154.2L588.4 1183.4L588.9 1137.1L589.3 1137.1L589.8 1137.1L590.3 1154.2L590.8 1137.1L591.3 1137.1L591.7 1154.2L592.2 1154.2L592.7 1137.1L593.2 1154.2L593.7 1183.4L594.2 1137.1L594.6 1107.8L595.1 1183.4L595.6 1137.1L596.1 1154.2L596.6 1137.1L597.1 1183.4L597.5 1124.9L598 1115.5L599 1154.2L599.5 1154.2L600 1137.1L600.4 1137.1L600.9 1154.2L601.4 1183.4L601.9 1137.1L602.4 1183.4L602.9 1183.4L603.3 1101.3L603.8 1154.2L604.3 1154.2L604.8 1154.2L605.3 1154.2L606.2 1154.2L607.2 1183.4L607.7 1137.1L608.2 1154.2L608.7 1154.2L609.1 1115.5L609.6 1124.9L610.1 1137.1L610.6 1154.2L611.6 1183.4L612 1154.2L612.5 1124.9L613 1183.4L613.5 1183.4L614.4 1183.4L614.9 1115.5L615.4 1183.4L615.9 1124.9L616.4 1154.2L616.9 1154.2L617.3 1115.5L617.8 1183.4L618.3 1115.5L618.8 1124.9L619.3 1183.4L620.2 1137.1L620.7 1154.2L621.2 1137.1L621.7 1154.2L622.2 1154.2L622.7 1137.1L623.1 1154.2L623.6 1183.4L624.1 1137.1L625.1 1115.5L625.6 1124.9L626 1137.1L626.5 1183.4L627 1115.5L627.5 1124.9L628 1137.1L628.5 1124.9L628.9 1183.4L629.4 1137.1L629.9 1137.1L630.4 1101.3L630.9 1154.2L631.4 1183.4L631.8 1137.1L632.3 1154.2L633.3 1154.2L634.3 1183.4L634.7 1124.9L635.2 1154.2L635.7 1183.4" fill="none" stroke="none" marker-start="url(#m50)" marker-mid="url(#m50)" marker-end="url(#m50)"/>
</g>
<line x1="153.2" y1="1183.6" x2="153.2" y2="1191.6" stroke="#000" stroke-width="2.6"/>
<text x="153.2" y="1213.3" font-size="22.2" text-anchor="middle">0</text>
<line x1="213.51" y1="1183.6" x2="213.51" y2="1188.1" stroke="#000" stroke-width="2.6"/>
<line x1="273.82" y1="1183.6" x2="273.82" y2="1191.6" stroke="#000" stroke-width="2.6"/>
<text x="273.82" y="1213.3" font-size="22.2" text-anchor="middle">2</text>
<line x1="334.14" y1="1183.6" x2="334.14" y2="1188.1" stroke="#000" stroke-width="2.6"/>
<line x1="394.45" y1="1183.6" x2="394.45" y2="1191.6" stroke="#000" stroke-width="2.6"/>
<text x="394.45" y="1213.3" font-size="22.2" text-anchor="middle">4</text>
<line x1="454.76" y1="1183.6" x2="454.76" y2="1188.1" stroke="#000" stroke-width="2.6"/>
<line x1="515.08" y1="1183.6" x2="515.08" y2="1191.6" stroke="#000" stroke-width="2.6"/>
<text x="515.08" y="1213.3" font-size="22.2" text-anchor="middle">6</text>
<line x1="575.39" y1="1183.6" x2="575.39" y2="1188.1" stroke="#000" stroke-width="2.6"/>
<line x1="635.7" y1="1183.6" x2="635.7" y2="1191.6" stroke="#000" stroke-width="2.6"/>
<text x="635.7" y="1213.3" font-size="22.2" text-anchor="middle">8</text>
<line x1="153.2" y1="1183.4" x2="144.7" y2="1183.4" stroke="#000" stroke-width="2.6"/>
<text x="139.8" y="1190.1" font-size="22.2" text-anchor="end">1</text>
<line x1="153.2" y1="1086.3" x2="144.7" y2="1086.3" stroke="#000" stroke-width="2.6"/>
<text x="139.8" y="1093" font-size="22.2" text-anchor="end">10</text>
<line x1="153.2" y1="989.2" x2="144.7" y2="989.2" stroke="#000" stroke-width="2.6"/>
<text x="139.8" y="995.9" font-size="22.2" text-anchor="end">100</text>
<line x1="153.2" y1="892.1" x2="144.7" y2="892.1" stroke="#000" stroke-width="2.6"/>
<text x="139.8" y="898.8" font-size="22.2" text-anchor="end">1000</text>
<line x1="153.2" y1="795" x2="144.7" y2="795" stroke="#000" stroke-width="2.6"/>
<text x="139.8" y="801.7" font-size="22.2" text-anchor="end">10000</text>
<text x="393.45" y="1252.6" font-size="24" text-anchor="middle" font-weight="bold">Time (s)</text>
<text x="0" y="0" font-size="24" text-anchor="middle" font-weight="bold" transform="translate(71 989.1) rotate(-90)">Counts</text>
<circle cx="511.8" cy="818" r="2.85" fill="#8000ff"/><circle cx="511.8" cy="818" r="2.85" fill="url(#r1)"/>
<text x="538.4" y="826.3" font-size="23.9">1 wt %</text>
<circle cx="511.8" cy="847.3" r="2.85" fill="#00cacc"/><circle cx="511.8" cy="847.3" r="2.85" fill="url(#r3)"/>
<text x="538.4" y="855.6" font-size="23.9">3 wt %</text>
<circle cx="511.8" cy="876.6" r="2.85" fill="#0a960a"/><circle cx="511.8" cy="876.6" r="2.85" fill="url(#r6)"/>
<text x="538.4" y="884.9" font-size="23.9">6 wt %</text>
<circle cx="511.8" cy="905.9" r="2.85" fill="#f4a460"/><circle cx="511.8" cy="905.9" r="2.85" fill="url(#r10)"/>
<text x="538.4" y="914.2" font-size="23.9">10 wt %</text>
<circle cx="511.8" cy="935.2" r="2.85" fill="#ff0000"/><circle cx="511.8" cy="935.2" r="2.85" fill="url(#r25)"/>
<text x="538.4" y="943.5" font-size="23.9">25 wt %</text>
<circle cx="511.8" cy="964.5" r="2.85" fill="#800000"/><circle cx="511.8" cy="964.5" r="2.85" fill="url(#r50)"/>
<text x="538.4" y="972.8" font-size="23.9">50 wt %</text>
<text x="29.6" y="777.5" font-size="34.6" letter-spacing="0.8">(c)</text>
</g>
<g id="pf">
<rect x="153" y="1297.9" width="482.7" height="388.1" fill="none" stroke="#000" stroke-width="2.6"/>
<g clip-path="url(#clipf)">
<path d="M153 1364.6L153.5 1362.5L154 1366.5L154.4 1367.1L154.9 1366.1L155.4 1367.2L155.9 1367.3L156.4 1368.1L156.9 1370.6L157.3 1369.4L157.8 1371.6L158.3 1373.1L158.8 1371.4L159.3 1374.9L159.8 1374.5L160.2 1377.0L160.7 1376.1L161.2 1375.0L161.7 1375.6L162.2 1378.6L162.7 1377.6L163.1 1376.6L163.6 1379.4L164.1 1380.9L164.6 1381.8L165.1 1381.2L165.6 1382.0L166 1383.2L166.5 1383.9L167 1385.7L167.5 1387.3L168 1386.6L168.5 1384.5L168.9 1390.3L169.4 1389.0L169.9 1391.5L170.4 1390.8L170.9 1391.6L171.4 1392.9L171.8 1393.2L172.3 1393.4L172.8 1391.9L173.3 1394.1L173.8 1396.4L174.3 1394.3L174.7 1397.9L175.2 1396.2L175.7 1394.2L176.2 1396.1L176.7 1400.6L177.2 1398.5L177.6 1399.2L178.1 1397.0L178.6 1401.5L179.1 1400.7L179.6 1403.9L180.1 1404.4L180.5 1401.7L181 1405.9L181.5 1404.2L182 1404.2L182.5 1406.9L183 1406.6L183.4 1407.0L183.9 1406.3L184.4 1408.1L184.9 1408.4L185.4 1410.4L185.9 1409.1L186.3 1409.6L186.8 1411.9L187.3 1415.3L187.8 1412.1L188.3 1409.6L188.8 1411.5L189.2 1415.9L189.7 1413.7L190.2 1416.6L190.7 1416.6L191.2 1414.5L191.7 1411.2L192.1 1419.1L192.6 1415.9L193.1 1418.4L193.6 1415.3L194.1 1418.4L194.6 1420.2L195 1420.6L195.5 1419.4L196 1422.3L196.5 1425.1L197 1420.6L197.5 1422.4L197.9 1420.1L198.4 1420.6L198.9 1428.3L199.4 1421.4L199.9 1423.9L200.4 1427.3L200.8 1427.0L201.3 1426.5L201.8 1426.9L202.3 1427.6L202.8 1425.2L203.3 1427.6L203.7 1428.3L204.2 1425.0L204.7 1426.5L205.2 1433.8L205.7 1430.7L206.2 1431.3L206.6 1430.9L207.1 1433.4L207.6 1432.6L208.1 1433.6L208.6 1430.6L209 1434.3L209.5 1434.8L210 1433.9L210.5 1437.6L211 1435.5L211.5 1435.2L211.9 1435.5L212.4 1436.2L212.9 1441.6L213.4 1438.4L213.9 1437.1L214.4 1439.5L214.8 1438.7L215.3 1443.5L215.8 1441.2L216.3 1441.0L216.8 1441.3L217.3 1446.7L217.7 1440.3L218.2 1445.1L218.7 1443.5L219.2 1442.1L219.7 1444.1L220.2 1447.5L220.6 1442.5L221.1 1447.9L221.6 1442.2L222.1 1445.5L222.6 1447.5L223.1 1443.8L223.5 1441.8L224 1446.2L224.5 1445.5L225 1451.1L225.5 1448.4L226 1453.9L226.4 1453.3L226.9 1448.3L227.4 1448.8L227.9 1450.5L228.4 1454.3L228.9 1451.3L229.3 1452.7L229.8 1451.3L230.3 1450.5L230.8 1454.3L231.3 1450.5L231.8 1455.6L232.2 1453.1L232.7 1452.9L233.2 1454.3L233.7 1452.5L234.2 1453.5L234.7 1454.7L235.1 1456.5L235.6 1455.8L236.1 1458.6L236.6 1456.3L237.1 1456.3L237.6 1464.4L238 1460.7L238.5 1458.1L239 1455.6L239.5 1457.2L240 1457.6L240.5 1458.8L240.9 1463.8L241.4 1461.0L241.9 1457.2L242.4 1462.8L242.9 1461.7L243.4 1466.6L243.8 1463.8L244.3 1467.2L244.8 1461.7L245.3 1466.3L245.8 1460.7L246.3 1466.6L246.7 1468.7L247.2 1463.8L247.7 1466.6L248.2 1463.6L248.7 1462.5L249.2 1475.0L249.6 1469.6L250.1 1462.5L250.6 1473.6L251.1 1474.6L251.6 1471.2L252.1 1472.2L252.5 1470.9L253 1468.7L253.5 1467.8L254 1473.6L254.5 1471.2L255 1476.4L255.4 1479.9L255.9 1473.2L256.4 1477.9L256.9 1473.2L257.4 1479.5L257.9 1475.7L258.3 1480.7L258.8 1479.5L259.3 1472.2L259.8 1469.9L260.3 1477.5L260.7 1471.9L261.2 1478.3L261.7 1482.0L262.2 1478.7L262.7 1483.3L263.2 1487.5L263.6 1479.9L264.1 1484.6L264.6 1482.8L265.1 1484.2L265.6 1477.2L266.1 1482.0L266.5 1490.0L267 1482.8L267.5 1481.6L268 1485.1L268.5 1487.0L269 1491.1L269.4 1482.4L269.9 1489.0L270.4 1485.5L270.9 1483.7L271.4 1482.4L271.9 1482.4L272.3 1487.5L272.8 1484.2L273.3 1487.5L273.8 1491.6L274.3 1485.1L274.8 1484.6L275.2 1488.5L275.7 1493.8L276.2 1491.6L276.7 1498.1L277.2 1491.6L277.7 1496.2L278.1 1495.0L278.6 1488.0L279.1 1493.8L279.6 1491.1L280.1 1490.5L280.6 1494.4L281 1498.1L281.5 1495.0L282 1491.1L282.5 1495.6L283 1487.0L283.5 1505.2L283.9 1496.8L284.4 1502.2L284.9 1501.5L285.4 1503.6L285.9 1496.2L286.4 1496.8L286.8 1496.8L287.3 1495.0L287.8 1507.5L288.3 1498.1L288.8 1492.7L289.3 1493.3L289.7 1505.2L290.2 1492.2L290.7 1504.4L291.2 1498.8L291.7 1498.1L292.2 1502.2L292.6 1502.2L293.1 1499.4L293.6 1512.8L294.1 1500.8L294.6 1511.9L295.1 1497.5L295.5 1511.9L296 1502.9L296.5 1495.6L297 1501.5L297.5 1498.8L298 1508.4L298.4 1502.2L298.9 1507.5L299.4 1501.5L299.9 1505.2L300.4 1521.1L300.9 1500.1L301.3 1510.1L301.8 1501.5L302.3 1504.4L302.8 1505.2L303.3 1505.9L303.8 1507.5L304.2 1502.9L304.7 1518.8L305.2 1500.1L305.7 1508.4L306.2 1511.9L306.7 1512.8L307.1 1510.9L307.6 1503.6L308.1 1509.2L308.6 1508.4L309.1 1523.5L309.6 1512.8L310 1512.8L310.5 1506.7L311 1511.9L311.5 1523.5L312 1513.7L312.5 1514.7L312.9 1517.8L313.4 1502.9L313.9 1515.7L314.4 1515.7L314.9 1512.8L315.3 1517.8L315.8 1510.1L316.3 1516.7L316.8 1527.3L317.3 1519.9L317.8 1521.1L318.2 1509.2L318.7 1518.8L319.2 1518.8L319.7 1514.7L320.2 1527.3L320.7 1514.7L321.1 1527.3L321.6 1522.3L322.1 1516.7L322.6 1521.1L323.1 1526.0L323.6 1531.6L324 1530.1L324.5 1531.6L325 1527.3L325.5 1527.3L326 1519.9L326.5 1534.8L326.9 1534.8L327.4 1526.0L327.9 1522.3L328.4 1526.0L328.9 1533.2L329.4 1528.7L329.8 1533.2L330.3 1524.7L330.8 1524.7L331.3 1513.7L331.8 1533.2L332.3 1527.3L332.7 1528.7L333.2 1526.0L333.7 1536.4L334.2 1522.3L334.7 1522.3L335.2 1526.0L335.6 1538.2L336.1 1546.1L336.6 1530.1L337.1 1524.7L337.6 1540.0L338.1 1523.5L338.5 1534.8L339 1521.1L339.5 1536.4L340 1533.2L340.5 1528.7L341 1553.2L341.4 1523.5L341.9 1541.9L342.4 1533.2L342.9 1521.1L343.4 1543.9L343.9 1533.2L344.3 1522.3L344.8 1531.6L345.3 1533.2L345.8 1548.3L346.3 1543.9L346.8 1548.3L347.2 1546.1L347.7 1530.1L348.2 1533.2L348.7 1536.4L349.2 1541.9L349.7 1533.2L350.1 1540.0L350.6 1540.0L351.1 1543.9L351.6 1536.4L352.1 1522.3L352.6 1555.9L353 1555.9L353.5 1543.9L354 1531.6L354.5 1550.7L355 1543.9L355.5 1528.7L355.9 1558.8L356.4 1528.7L356.9 1546.1L357.4 1538.2L357.9 1538.2L358.4 1553.2L358.8 1548.3L359.3 1553.2L359.8 1546.1L360.3 1555.9L360.8 1548.3L361.3 1538.2L361.7 1550.7L362.2 1548.3L362.7 1546.1L363.2 1553.2L363.7 1562.0L364.2 1541.9L364.6 1534.8L365.1 1543.9L365.6 1553.2L366.1 1538.2L366.6 1548.3L367.1 1530.1L367.5 1550.7L368 1546.1L368.5 1569.1L369 1531.6L369.5 1562.0L369.9 1538.2L370.4 1548.3L370.9 1555.9L371.4 1546.1L371.9 1555.9L372.4 1565.4L372.8 1562.0L373.3 1553.2L373.8 1543.9L374.3 1562.0L374.8 1548.3L375.3 1558.8L375.7 1553.2L376.2 1555.9L376.7 1546.1L377.2 1546.1L377.7 1550.7L378.2 1573.3L378.6 1558.8L379.1 1550.7L379.6 1562.0L380.1 1565.4L380.6 1550.7L381.1 1569.1L381.5 1558.8L382 1550.7L382.5 1546.1L383 1589.2L383.5 1543.9L384 1562.0L384.4 1565.4L384.9 1565.4L385.4 1553.2L385.9 1558.8L386.4 1553.2L386.9 1558.8L387.3 1536.4L387.8 1562.0L388.3 1583.2L388.8 1565.4L389.3 1562.0L389.8 1548.3L390.2 1553.2L390.7 1543.9L391.2 1562.0L391.7 1569.1L392.2 1583.2L392.7 1565.4L393.1 1558.8L393.6 1565.4L394.1 1550.7L394.6 1558.8L395.1 1589.2L395.6 1550.7L396 1555.9L396.5 1548.3L397 1565.4L397.5 1569.1L398 1562.0L398.5 1555.9L398.9 1573.3L399.4 1577.9L399.9 1565.4L400.4 1555.9L400.9 1589.2L401.4 1573.3L401.8 1562.0L402.3 1541.9L402.8 1565.4L403.3 1562.0L403.8 1569.1L404.3 1596.4L404.7 1555.9L405.2 1573.3L405.7 1555.9L406.2 1562.0L406.7 1565.4L407.2 1555.9L407.6 1569.1L408.1 1569.1L408.6 1565.4L409.1 1583.2L409.6 1546.1L410.1 1583.2L410.5 1565.4L411 1565.4L411.5 1569.1L412 1569.1L412.5 1583.2L413 1569.1L413.4 1565.4L413.9 1562.0L414.4 1573.3L414.9 1558.8L415.4 1569.1L415.9 1548.3L416.3 1573.3L416.8 1577.9L417.3 1573.3L417.8 1565.4L418.3 1583.2L418.8 1555.9L419.2 1605.1L419.7 1616.4L420.2 1577.9L420.7 1550.7L421.2 1583.2L421.6 1577.9L422.1 1562.0L422.6 1573.3L423.1 1553.2L423.6 1569.1L424.1 1605.1L424.5 1605.1L425 1565.4L425.5 1553.2L426 1565.4L426.5 1589.2L427 1583.2L427.4 1573.3L427.9 1565.4L428.4 1573.3L428.9 1558.8L429.4 1548.3L429.9 1546.1L430.3 1577.9L430.8 1562.0L431.3 1565.4L431.8 1565.4L432.3 1596.4L432.8 1569.1L433.2 1583.2L433.7 1562.0L434.2 1583.2L434.7 1543.9L435.2 1565.4L435.7 1558.8L436.1 1573.3L436.6 1605.1L437.1 1558.8L437.6 1616.4L438.1 1596.4L438.6 1558.8L439 1565.4L439.5 1558.8L440 1589.2L440.5 1573.3L441 1577.9L441.5 1583.2L441.9 1558.8L442.4 1565.4L442.9 1573.3L443.4 1616.4L443.9 1569.1L444.4 1573.3L444.8 1577.9L445.3 1583.2L445.8 1583.2L446.3 1569.1L446.8 1569.1L447.3 1558.8L447.7 1583.2L448.2 1565.4L448.7 1573.3L449.2 1562.0L449.7 1562.0L450.2 1589.2L450.6 1573.3L451.1 1577.9L451.6 1562.0L452.1 1569.1L452.6 1562.0L453.1 1569.1L453.5 1573.3L454 1589.2L454.5 1605.1L455 1577.9L455.5 1565.4L456 1596.4L456.4 1565.4L456.9 1583.2L457.4 1605.1L457.9 1565.4L458.4 1589.2L458.9 1583.2L459.3 1577.9L459.8 1583.2L460.3 1573.3L460.8 1583.2L461.3 1573.3L461.8 1555.9L462.2 1596.4L462.7 1577.9L463.2 1569.1L463.7 1632.4L464.2 1562.0L464.7 1569.1L465.1 1573.3L465.6 1583.2L466.1 1569.1L466.6 1596.4L467.1 1577.9L467.6 1562.0L468 1573.3L468.5 1565.4L469 1583.2L469.5 1596.4L470 1589.2L470.5 1569.1L470.9 1583.2L471.4 1573.3L471.9 1596.4L472.4 1596.4L472.9 1565.4L473.4 1605.1L473.8 1573.3L474.3 1583.2L474.8 1583.2L475.3 1616.4L475.8 1573.3L476.2 1573.3L476.7 1577.9L477.2 1573.3L477.7 1562.0L478.2 1577.9L478.7 1605.1L479.1 1589.2L479.6 1562.0L480.1 1565.4L480.6 1583.2L481.1 1562.0L481.6 1605.1L482 1583.2L482.5 1577.9L483 1562.0L483.5 1583.2L484 1589.2L484.5 1596.4L484.9 1569.1L485.4 1583.2L485.9 1589.2L486.4 1562.0L486.9 1583.2L487.4 1596.4L487.8 1583.2L488.3 1605.1L488.8 1596.4L489.3 1616.4L489.8 1583.2L490.3 1573.3L490.7 1569.1L491.2 1589.2L491.7 1577.9L492.2 1596.4L492.7 1569.1L493.2 1577.9L493.6 1573.3L494.1 1589.2L494.6 1596.4L495.1 1596.4L495.6 1577.9L496.1 1577.9L496.5 1577.9L497 1565.4L497.5 1589.2L498 1583.2L498.5 1632.4L499 1577.9L499.4 1577.9L499.9 1565.4L500.4 1605.1L500.9 1589.2L501.4 1605.1L501.9 1605.1L502.3 1577.9L502.8 1583.2L503.3 1589.2L503.8 1583.2L504.3 1565.4L504.8 1596.4L505.2 1589.2L505.7 1589.2L506.2 1569.1L506.7 1565.4L507.2 1589.2L507.7 1565.4L508.1 1577.9L508.6 1589.2L509.1 1573.3L509.6 1605.1L510.1 1565.4L510.6 1569.1L511 1577.9L511.5 1562.0L512 1577.9L512.5 1577.9L513 1565.4L513.5 1562.0L513.9 1596.4L514.4 1616.4L514.9 1573.3L515.4 1573.3L515.9 1565.4L516.4 1583.2L516.8 1562.0L517.3 1605.1L517.8 1596.4L518.3 1583.2L518.8 1596.4L519.3 1577.9L519.7 1616.4L520.2 1569.1L520.7 1577.9L521.2 1577.9L521.7 1577.9L522.2 1573.3L522.6 1569.1L523.1 1558.8L523.6 1573.3L524.1 1573.3L524.6 1577.9L525.1 1596.4L525.5 1605.1L526 1558.8L526.5 1589.2L527 1589.2L527.5 1569.1L528 1605.1L528.4 1605.1L528.9 1616.4L529.4 1605.1L529.9 1605.1L530.4 1553.2L530.8 1589.2L531.3 1583.2L531.8 1589.2L532.3 1605.1L532.8 1589.2L533.3 1605.1L533.7 1589.2L534.2 1573.3L534.7 1596.4L535.2 1569.1L535.7 1605.1L536.2 1583.2L536.6 1569.1L537.1 1596.4L537.6 1555.9L538.1 1577.9L538.6 1565.4L539.1 1562.0L539.5 1583.2L540 1605.1L540.5 1577.9L541 1616.4L541.5 1573.3L542 1583.2L542.4 1605.1L542.9 1583.2L543.4 1569.1L543.9 1596.4L544.4 1605.1L544.9 1573.3L545.3 1583.2L545.8 1577.9L546.3 1605.1L546.8 1573.3L547.3 1596.4L547.8 1553.2L548.2 1596.4L548.7 1577.9L549.2 1573.3L549.7 1616.4L550.2 1583.2L550.7 1596.4L551.1 1569.1L551.6 1565.4L552.1 1596.4L552.6 1605.1L553.1 1605.1L553.6 1577.9L554 1565.4L554.5 1596.4L555 1573.3L555.5 1573.3L556 1562.0L556.5 1589.2L556.9 1577.9L557.4 1577.9L557.9 1596.4L558.4 1596.4L558.9 1583.2L559.4 1562.0L559.8 1632.4L560.3 1577.9L560.8 1589.2L561.3 1589.2L561.8 1577.9L562.3 1596.4L562.7 1589.2L563.2 1596.4L563.7 1573.3L564.2 1632.4L564.7 1583.2L565.2 1596.4L565.6 1558.8L566.1 1573.3L566.6 1565.4L567.1 1596.4L567.6 1583.2L568.5 1659.6L569 1589.2L569.5 1589.2L570 1583.2L570.5 1583.2L571 1583.2L571.4 1605.1L571.9 1583.2L572.4 1605.1L572.9 1605.1L573.4 1577.9L573.9 1583.2L574.3 1569.1L574.8 1558.8L575.3 1583.2L575.8 1583.2L576.3 1569.1L576.8 1605.1L577.2 1569.1L577.7 1605.1L578.2 1583.2L578.7 1632.4L579.2 1569.1L579.7 1589.2L580.1 1577.9L580.6 1605.1L581.1 1589.2L581.6 1577.9L582.1 1573.3L582.5 1589.2L583 1605.1L583.5 1583.2L584 1569.1L584.5 1577.9L585 1577.9L585.4 1583.2L585.9 1573.3L586.4 1583.2L586.9 1605.1L587.4 1589.2L587.9 1569.1L588.3 1573.3L588.8 1596.4L589.3 1569.1L589.8 1583.2L590.3 1589.2L590.8 1573.3L591.2 1589.2L591.7 1605.1L592.2 1583.2L592.7 1573.3L593.2 1596.4L593.7 1589.2L594.1 1616.4L594.6 1596.4L595.1 1589.2L595.6 1583.2L596.1 1569.1L596.6 1616.4L597 1573.3L597.5 1605.1L598 1583.2L598.5 1573.3L599 1573.3L599.5 1616.4L599.9 1583.2L600.4 1605.1L600.9 1577.9L601.4 1596.4L601.9 1605.1L602.4 1577.9L602.8 1577.9L603.3 1589.2L603.8 1569.1L604.3 1589.2L604.8 1589.2L605.3 1605.1L605.7 1589.2L606.2 1583.2L606.7 1605.1L607.2 1565.4L607.7 1569.1L608.2 1616.4L608.6 1589.2L609.1 1577.9L609.6 1596.4L610.1 1577.9L610.6 1589.2L611.1 1583.2L611.5 1573.3L612 1577.9L612.5 1596.4L613 1589.2L613.5 1605.1L614 1589.2L614.4 1583.2L614.9 1573.3L615.4 1616.4L615.9 1589.2L616.4 1577.9L616.9 1583.2L617.3 1605.1L617.8 1583.2L618.3 1632.4L618.8 1589.2L619.3 1616.4L619.8 1589.2L620.2 1616.4L620.7 1565.4L621.2 1589.2L621.7 1569.1L622.2 1589.2L622.7 1596.4L623.1 1632.4L623.6 1577.9L624.1 1589.2L624.6 1589.2L625.1 1596.4L625.6 1569.1L626 1569.1L626.5 1596.4L627 1596.4L627.5 1605.1L628 1589.2L628.5 1605.1L628.9 1583.2L629.4 1589.2L629.9 1569.1L630.4 1596.4L630.9 1632.4L631.4 1605.1L631.8 1632.4L632.3 1589.2L632.8 1583.2L633.3 1616.4L633.8 1583.2L634.3 1577.9L634.7 1565.4L635.2 1589.2L635.7 1596.4" fill="none" stroke="none" marker-start="url(#m1)" marker-mid="url(#m1)" marker-end="url(#m1)"/>
<path d="M153 1365.4L153.5 1367.0L154 1366.2L154.4 1368.5L154.9 1368.7L155.4 1371.2L155.9 1372.5L156.4 1373.7L156.9 1372.6L157.3 1374.7L157.8 1375.9L158.3 1374.7L158.8 1376.4L159.3 1378.8L159.8 1379.6L160.2 1378.4L160.7 1381.9L161.2 1383.3L161.7 1383.0L162.2 1384.1L162.7 1383.8L163.1 1384.8L163.6 1384.6L164.1 1386.7L164.6 1389.7L165.1 1386.4L165.6 1388.0L166 1389.6L166.5 1389.8L167 1390.4L167.5 1395.6L168 1392.8L168.5 1395.5L168.9 1396.3L169.4 1396.9L169.9 1399.1L170.4 1398.5L170.9 1399.8L171.4 1399.5L171.8 1403.5L172.3 1400.6L172.8 1403.7L173.3 1401.6L173.8 1402.9L174.3 1403.8L174.7 1403.6L175.2 1405.8L175.7 1403.4L176.2 1408.6L176.7 1409.8L177.2 1409.4L177.6 1410.9L178.1 1409.2L178.6 1411.1L179.1 1412.6L179.6 1415.9L180.1 1414.9L180.5 1414.6L181 1412.3L181.5 1415.0L182 1415.3L182.5 1416.7L183 1416.4L183.4 1416.9L183.9 1421.1L184.4 1420.1L184.9 1417.3L185.4 1419.7L185.9 1421.7L186.3 1422.9L186.8 1424.5L187.3 1419.8L187.8 1422.0L188.3 1425.9L188.8 1422.9L189.2 1426.5L189.7 1424.8L190.2 1427.4L190.7 1427.0L191.2 1428.3L191.7 1426.5L192.1 1425.7L192.6 1429.7L193.1 1429.3L193.6 1427.4L194.1 1432.6L194.6 1430.4L195 1429.2L195.5 1430.5L196 1431.6L196.5 1432.0L197 1434.9L197.5 1432.8L197.9 1432.0L198.4 1430.9L198.9 1439.8L199.4 1435.5L199.9 1435.0L200.4 1435.2L200.8 1437.8L201.3 1434.1L201.8 1437.4L202.3 1437.4L202.8 1439.2L203.3 1441.5L203.7 1439.2L204.2 1441.8L204.7 1444.3L205.2 1441.9L205.7 1443.3L206.2 1440.9L206.6 1442.2L207.1 1442.7L207.6 1438.1L208.1 1441.8L208.6 1443.3L209 1445.8L209.5 1441.8L210 1446.2L210.5 1442.5L211 1450.3L211.5 1445.6L211.9 1449.0L212.4 1448.4L212.9 1449.4L213.4 1446.3L213.9 1449.0L214.4 1448.8L214.8 1451.7L215.3 1448.4L215.8 1449.6L216.3 1448.4L216.8 1452.5L217.3 1454.5L217.7 1449.7L218.2 1453.1L218.7 1460.5L219.2 1456.3L219.7 1458.8L220.2 1453.3L220.6 1455.8L221.1 1455.8L221.6 1456.0L222.1 1452.1L222.6 1460.7L223.1 1450.9L223.5 1458.8L224 1459.5L224.5 1463.3L225 1458.8L225.5 1455.0L226 1461.5L226.4 1465.8L226.9 1463.8L227.4 1460.5L227.9 1458.3L228.4 1463.8L228.9 1463.3L229.3 1463.8L229.8 1461.5L230.3 1465.8L230.8 1464.4L231.3 1465.8L231.8 1468.7L232.2 1459.7L232.7 1464.1L233.2 1466.6L233.7 1465.8L234.2 1465.8L234.7 1467.5L235.1 1475.3L235.6 1468.4L236.1 1472.2L236.6 1475.3L237.1 1474.2L237.6 1470.3L238 1470.3L238.5 1474.6L239 1473.9L239.5 1475.7L240 1475.3L240.5 1479.9L240.9 1476.8L241.4 1473.6L241.9 1477.2L242.4 1476.0L242.9 1474.2L243.4 1481.1L243.8 1480.3L244.3 1477.5L244.8 1476.0L245.3 1479.9L245.8 1480.7L246.3 1482.0L246.7 1475.3L247.2 1484.6L247.7 1471.5L248.2 1479.5L248.7 1476.8L249.2 1486.0L249.6 1488.0L250.1 1483.7L250.6 1485.1L251.1 1483.7L251.6 1488.5L252.1 1477.9L252.5 1479.9L253 1483.3L253.5 1481.1L254 1485.5L254.5 1485.1L255 1487.0L255.4 1481.1L255.9 1486.5L256.4 1481.6L256.9 1492.7L257.4 1488.0L257.9 1486.5L258.3 1498.1L258.8 1495.0L259.3 1492.2L259.8 1495.0L260.3 1493.8L260.7 1489.0L261.2 1487.0L261.7 1492.7L262.2 1492.2L262.7 1500.8L263.2 1492.7L263.6 1507.5L264.1 1485.5L264.6 1496.2L265.1 1499.4L265.6 1491.6L266.1 1489.5L266.5 1493.3L267 1491.6L267.5 1488.0L268 1498.1L268.5 1500.8L269 1504.4L269.4 1493.8L269.9 1506.7L270.4 1495.6L270.9 1494.4L271.4 1515.7L271.9 1501.5L272.3 1507.5L272.8 1502.9L273.3 1502.9L273.8 1500.1L274.3 1496.2L274.8 1500.8L275.2 1496.8L275.7 1505.2L276.2 1505.9L276.7 1506.7L277.2 1512.8L277.7 1505.2L278.1 1495.0L278.6 1505.9L279.1 1502.2L279.6 1508.4L280.1 1510.9L280.6 1502.2L281 1517.8L281.5 1507.5L282 1511.9L282.5 1505.9L283 1511.9L283.5 1510.9L283.9 1506.7L284.4 1505.9L284.9 1503.6L285.4 1512.8L285.9 1502.9L286.4 1516.7L286.8 1502.9L287.3 1509.2L287.8 1519.9L288.3 1500.8L288.8 1512.8L289.3 1514.7L289.7 1515.7L290.2 1505.2L290.7 1518.8L291.2 1505.2L291.7 1504.4L292.2 1522.3L292.6 1521.1L293.1 1523.5L293.6 1522.3L294.1 1524.7L294.6 1521.1L295.1 1508.4L295.5 1516.7L296 1513.7L296.5 1517.8L297 1518.8L297.5 1506.7L298 1512.8L298.4 1521.1L298.9 1517.8L299.4 1514.7L299.9 1522.3L300.4 1526.0L300.9 1531.6L301.3 1527.3L301.8 1517.8L302.3 1519.9L302.8 1518.8L303.3 1508.4L303.8 1513.7L304.2 1514.7L304.7 1531.6L305.2 1522.3L305.7 1519.9L306.2 1530.1L306.7 1536.4L307.1 1522.3L307.6 1530.1L308.1 1510.1L308.6 1530.1L309.1 1533.2L309.6 1534.8L310 1541.9L310.5 1531.6L311 1524.7L311.5 1536.4L312 1540.0L312.5 1533.2L312.9 1534.8L313.4 1550.7L313.9 1550.7L314.4 1530.1L314.9 1546.1L315.3 1531.6L315.8 1538.2L316.3 1522.3L316.8 1558.8L317.3 1526.0L317.8 1523.5L318.2 1523.5L318.7 1541.9L319.2 1540.0L319.7 1524.7L320.2 1540.0L320.7 1536.4L321.1 1533.2L321.6 1530.1L322.1 1526.0L322.6 1536.4L323.1 1543.9L323.6 1531.6L324 1548.3L324.5 1553.2L325 1534.8L325.5 1541.9L326 1526.0L326.5 1533.2L326.9 1538.2L327.4 1538.2L327.9 1534.8L328.4 1530.1L328.9 1540.0L329.4 1541.9L329.8 1528.7L330.3 1553.2L330.8 1553.2L331.3 1536.4L331.8 1540.0L332.3 1562.0L332.7 1548.3L333.2 1550.7L333.7 1527.3L334.2 1555.9L334.7 1550.7L335.2 1546.1L335.6 1538.2L336.1 1540.0L336.6 1553.2L337.1 1531.6L337.6 1541.9L338.1 1550.7L338.5 1546.1L339 1555.9L339.5 1550.7L340 1546.1L340.5 1531.6L341 1562.0L341.4 1548.3L341.9 1558.8L342.4 1550.7L342.9 1536.4L343.4 1548.3L343.9 1550.7L344.3 1541.9L344.8 1540.0L345.3 1541.9L345.8 1562.0L346.3 1546.1L346.8 1555.9L347.2 1541.9L347.7 1562.0L348.2 1546.1L348.7 1540.0L349.2 1543.9L349.7 1546.1L350.1 1538.2L350.6 1540.0L351.1 1577.9L351.6 1555.9L352.1 1565.4L352.6 1536.4L353 1548.3L353.5 1548.3L354 1550.7L354.5 1562.0L355 1583.2L355.5 1538.2L355.9 1565.4L356.4 1546.1L356.9 1546.1L357.4 1558.8L357.9 1558.8L358.4 1550.7L358.8 1550.7L359.3 1546.1L359.8 1555.9L360.3 1550.7L360.8 1550.7L361.3 1553.2L361.7 1553.2L362.2 1558.8L362.7 1550.7L363.2 1538.2L363.7 1558.8L364.2 1555.9L364.6 1555.9L365.1 1558.8L365.6 1558.8L366.1 1569.1L366.6 1553.2L367.1 1553.2L367.5 1573.3L368 1555.9L368.5 1543.9L369 1569.1L369.5 1550.7L369.9 1553.2L370.4 1569.1L370.9 1577.9L371.4 1555.9L371.9 1546.1L372.4 1577.9L372.8 1569.1L373.3 1569.1L373.8 1577.9L374.3 1536.4L374.8 1558.8L375.3 1616.4L375.7 1569.1L376.2 1558.8L376.7 1573.3L377.2 1562.0L377.7 1550.7L378.2 1583.2L378.6 1562.0L379.1 1565.4L379.6 1569.1L380.1 1569.1L380.6 1577.9L381.1 1555.9L381.5 1583.2L382 1573.3L382.5 1555.9L383 1596.4L383.5 1565.4L384 1569.1L384.4 1596.4L384.9 1569.1L385.4 1550.7L385.9 1550.7L386.4 1573.3L386.9 1569.1L387.3 1577.9L387.8 1562.0L388.3 1558.8L388.8 1589.2L389.3 1569.1L389.8 1550.7L390.2 1577.9L390.7 1569.1L391.2 1577.9L391.7 1577.9L392.2 1583.2L392.7 1541.9L393.1 1562.0L393.6 1565.4L394.1 1589.2L394.6 1573.3L395.1 1583.2L395.6 1565.4L396 1583.2L396.5 1573.3L397 1605.1L397.5 1583.2L398 1589.2L398.5 1589.2L398.9 1577.9L399.4 1573.3L399.9 1569.1L400.4 1569.1L400.9 1589.2L401.4 1569.1L401.8 1558.8L402.3 1577.9L402.8 1573.3L403.3 1573.3L403.8 1577.9L404.3 1583.2L404.7 1577.9L405.2 1569.1L405.7 1565.4L406.2 1577.9L406.7 1573.3L407.2 1589.2L407.6 1573.3L408.1 1562.0L408.6 1565.4L409.1 1573.3L409.6 1573.3L410.1 1605.1L410.5 1589.2L411 1583.2L411.5 1558.8L412 1589.2L412.5 1558.8L413 1573.3L413.4 1583.2L413.9 1565.4L414.4 1583.2L414.9 1573.3L415.4 1565.4L415.9 1589.2L416.3 1565.4L416.8 1562.0L417.3 1596.4L417.8 1589.2L418.3 1573.3L418.8 1583.2L419.2 1577.9L419.7 1562.0L420.2 1577.9L420.7 1573.3L421.2 1558.8L421.6 1605.1L422.1 1605.1L422.6 1569.1L423.1 1577.9L423.6 1616.4L424.1 1596.4L424.5 1558.8L425 1583.2L425.5 1583.2L426 1577.9L426.5 1577.9L427 1583.2L427.4 1589.2L427.9 1569.1L428.4 1573.3L428.9 1589.2L429.4 1565.4L429.9 1573.3L430.3 1616.4L430.8 1583.2L431.3 1569.1L431.8 1583.2L432.3 1659.6L432.8 1562.0L433.2 1605.1L433.7 1616.4L434.2 1605.1L434.7 1596.4L435.2 1596.4L435.7 1605.1L436.1 1577.9L436.6 1589.2L437.1 1577.9L437.6 1565.4L438.1 1558.8L438.6 1589.2L439 1577.9L439.5 1596.4L440 1589.2L440.5 1589.2L441 1577.9L441.5 1573.3L441.9 1605.1L442.4 1583.2L442.9 1569.1L443.4 1589.2L443.9 1605.1L444.4 1569.1L444.8 1596.4L445.3 1616.4L445.8 1573.3L446.3 1596.4L446.8 1616.4L447.3 1583.2L447.7 1583.2L448.2 1589.2L448.7 1583.2L449.2 1573.3L449.7 1577.9L450.2 1569.1L450.6 1569.1L451.1 1616.4L451.6 1565.4L452.1 1596.4L452.6 1616.4L453.1 1562.0L453.5 1589.2L454 1589.2L454.5 1583.2L455 1583.2L455.5 1569.1L456 1569.1L456.4 1583.2L456.9 1573.3L457.4 1577.9L457.9 1577.9L458.4 1589.2L458.9 1558.8L459.3 1589.2L459.8 1577.9L460.3 1616.4L460.8 1605.1L461.3 1573.3L461.8 1589.2L462.2 1605.1L462.7 1565.4L463.2 1589.2L463.7 1605.1L464.2 1589.2L464.7 1583.2L465.1 1565.4L465.6 1616.4L466.1 1589.2L466.6 1589.2L467.1 1605.1L467.6 1569.1L468 1583.2L468.5 1583.2L469 1632.4L469.5 1589.2L470 1616.4L470.5 1573.3L470.9 1583.2L471.4 1589.2L471.9 1573.3L472.4 1596.4L472.9 1573.3L473.4 1577.9L473.8 1589.2L474.3 1577.9L474.8 1589.2L475.3 1589.2L475.8 1577.9L476.2 1577.9L476.7 1605.1L477.2 1583.2L477.7 1616.4L478.2 1589.2L478.7 1589.2L479.1 1632.4L479.6 1596.4L480.1 1596.4L480.6 1577.9L481.1 1577.9L481.6 1583.2L482 1569.1L482.5 1577.9L483 1605.1L483.5 1577.9L484 1589.2L484.5 1605.1L484.9 1596.4L485.4 1589.2L485.9 1596.4L486.4 1583.2L486.9 1577.9L487.4 1589.2L487.8 1589.2L488.3 1583.2L488.8 1596.4L489.3 1577.9L489.8 1589.2L490.3 1605.1L490.7 1583.2L491.2 1573.3L491.7 1583.2L492.2 1589.2L492.7 1605.1L493.2 1565.4L493.6 1589.2L494.1 1596.4L494.6 1605.1L495.1 1583.2L495.6 1577.9L496.1 1577.9L496.5 1577.9L497 1616.4L497.5 1577.9L498 1589.2L498.5 1605.1L499 1583.2L499.4 1577.9L499.9 1616.4L500.4 1577.9L500.9 1562.0L501.4 1573.3L501.9 1565.4L502.3 1583.2L502.8 1569.1L503.3 1596.4L503.8 1589.2L504.3 1565.4L504.8 1589.2L505.2 1569.1L505.7 1596.4L506.2 1596.4L506.7 1605.1L507.2 1589.2L507.7 1583.2L508.1 1605.1L508.6 1596.4L509.1 1577.9L509.6 1632.4L510.1 1589.2L510.6 1569.1L511 1596.4L511.5 1589.2L512 1596.4L512.5 1583.2L513 1616.4L513.5 1565.4L513.9 1583.2L514.4 1565.4L514.9 1589.2L515.4 1596.4L515.9 1583.2L516.4 1596.4L516.8 1616.4L517.3 1583.2L517.8 1569.1L518.3 1605.1L518.8 1583.2L519.3 1583.2L519.7 1605.1L520.2 1589.2L520.7 1577.9L521.2 1605.1L521.7 1632.4L522.2 1616.4L522.6 1565.4L523.1 1632.4L523.6 1605.1L524.1 1605.1L524.6 1596.4L525.1 1596.4L525.5 1605.1L526 1616.4L526.5 1577.9L527 1596.4L527.5 1605.1L528 1659.6L528.4 1596.4L528.9 1596.4L529.4 1589.2L529.9 1616.4L530.4 1596.4L530.8 1596.4L531.3 1596.4L531.8 1573.3L532.3 1583.2L532.8 1583.2L533.3 1596.4L533.7 1616.4L534.2 1569.1L534.7 1616.4L535.2 1589.2L535.7 1589.2L536.2 1573.3L536.6 1605.1L537.1 1589.2L537.6 1596.4L538.1 1596.4L538.6 1569.1L539.1 1583.2L539.5 1573.3L540 1596.4L540.5 1577.9L541 1577.9L541.5 1577.9L542 1577.9L542.4 1616.4L542.9 1596.4L543.4 1605.1L543.9 1565.4L544.4 1596.4L544.9 1605.1L545.3 1569.1L545.8 1565.4L546.3 1589.2L546.8 1565.4L547.3 1589.2L547.8 1569.1L548.2 1596.4L548.7 1589.2L549.2 1596.4L549.7 1583.2L550.2 1565.4L550.7 1577.9L551.1 1589.2L551.6 1605.1L552.1 1605.1L552.6 1659.6L553.1 1596.4L553.6 1605.1L554 1583.2L554.5 1562.0L555 1589.2L555.5 1589.2L556 1583.2L556.5 1583.2L556.9 1577.9L557.4 1596.4L557.9 1616.4L558.4 1583.2L558.9 1605.1L559.4 1605.1L559.8 1589.2L560.3 1583.2L560.8 1583.2L561.3 1605.1L561.8 1583.2L562.3 1555.9L562.7 1573.3L563.2 1596.4L563.7 1577.9L564.2 1616.4L564.7 1577.9L565.2 1616.4L565.6 1596.4L566.1 1596.4L566.6 1569.1L567.1 1573.3L567.6 1596.4L568.1 1616.4L568.5 1596.4L569 1589.2L569.5 1589.2L570 1596.4L570.5 1589.2L571 1589.2L571.4 1565.4L571.9 1583.2L572.4 1632.4L572.9 1569.1L573.4 1589.2L573.9 1589.2L574.3 1573.3L574.8 1583.2L575.3 1573.3L575.8 1583.2L576.3 1583.2L576.8 1596.4L577.2 1605.1L577.7 1589.2L578.2 1616.4L578.7 1583.2L579.2 1596.4L579.7 1616.4L580.1 1596.4L580.6 1573.3L581.1 1565.4L581.6 1573.3L582.1 1569.1L582.5 1616.4L583 1596.4L583.5 1583.2L584 1583.2L584.5 1632.4L585 1583.2L585.4 1605.1L585.9 1605.1L586.4 1616.4L586.9 1605.1L587.4 1577.9L587.9 1596.4L588.3 1577.9L588.8 1589.2L589.3 1605.1L589.8 1565.4L590.3 1596.4L590.8 1605.1L591.2 1616.4L591.7 1596.4L592.2 1577.9L592.7 1596.4L593.2 1583.2L593.7 1589.2L594.1 1583.2L594.6 1616.4L595.1 1616.4L595.6 1589.2L596.1 1577.9L596.6 1589.2L597 1589.2L597.5 1632.4L598 1589.2L598.5 1583.2L599 1573.3L599.5 1605.1L599.9 1616.4L600.4 1596.4L600.9 1577.9L601.4 1569.1L601.9 1577.9L602.4 1577.9L602.8 1583.2L603.3 1596.4L603.8 1589.2L604.3 1632.4L604.8 1569.1L605.3 1589.2L605.7 1596.4L606.2 1589.2L606.7 1589.2L607.2 1596.4L607.7 1573.3L608.2 1596.4L608.6 1573.3L609.1 1583.2L609.6 1589.2L610.1 1589.2L610.6 1589.2L611.1 1589.2L611.5 1583.2L612 1583.2L612.5 1573.3L613 1577.9L613.5 1632.4L614 1605.1L614.4 1596.4L614.9 1583.2L615.4 1596.4L615.9 1589.2L616.4 1577.9L616.9 1605.1L617.3 1596.4L617.8 1569.1L618.3 1616.4L618.8 1605.1L619.3 1605.1L619.8 1577.9L620.2 1589.2L620.7 1583.2L621.2 1583.2L621.7 1616.4L622.2 1573.3L622.7 1589.2L623.1 1596.4L623.6 1583.2L624.1 1596.4L624.6 1577.9L625.1 1596.4L625.6 1605.1L626 1605.1L626.5 1589.2L627 1577.9L627.5 1583.2L628 1577.9L628.5 1577.9L628.9 1616.4L629.4 1573.3L629.9 1573.3L630.4 1577.9L630.9 1605.1L631.4 1589.2L631.8 1583.2L632.3 1583.2L632.8 1596.4L633.3 1583.2L633.8 1589.2L634.3 1616.4L634.7 1596.4L635.2 1573.3L635.7 1573.3" fill="none" stroke="none" marker-start="url(#m3)" marker-mid="url(#m3)" marker-end="url(#m3)"/>
<path d="M153 1366.9L153.5 1367.5L154 1368.0L154.4 1369.0L154.9 1373.1L155.4 1371.7L155.9 1373.0L156.4 1374.8L156.9 1377.5L157.3 1377.0L157.8 1378.4L158.3 1378.4L158.8 1379.9L159.3 1382.3L159.8 1381.6L160.2 1384.1L160.7 1386.4L161.2 1383.7L161.7 1388.8L162.2 1388.9L162.7 1388.3L163.1 1390.1L163.6 1392.8L164.1 1390.1L164.6 1395.1L165.1 1393.4L165.6 1398.0L166 1396.8L166.5 1396.9L167 1398.9L167.5 1400.8L168 1398.3L168.5 1401.8L168.9 1403.7L169.4 1402.1L169.9 1406.1L170.4 1408.8L170.9 1404.7L171.4 1406.8L171.8 1407.3L172.3 1408.5L172.8 1410.9L173.3 1406.2L173.8 1409.4L174.3 1413.3L174.7 1411.4L175.2 1416.0L175.7 1415.8L176.2 1413.6L176.7 1418.8L177.2 1417.0L177.6 1418.6L178.1 1420.2L178.6 1419.5L179.1 1421.5L179.6 1421.3L180.1 1423.5L180.5 1425.0L181 1422.6L181.5 1426.6L182 1427.8L182.5 1424.5L183 1428.6L183.4 1431.2L183.9 1433.0L184.4 1430.2L184.9 1430.5L185.4 1427.1L185.9 1431.7L186.3 1435.5L186.8 1433.3L187.3 1435.5L187.8 1433.8L188.3 1435.0L188.8 1432.6L189.2 1436.5L189.7 1435.3L190.2 1436.6L190.7 1438.0L191.2 1436.1L191.7 1438.3L192.1 1437.6L192.6 1440.9L193.1 1444.5L193.6 1442.5L194.1 1442.9L194.6 1442.5L195 1446.3L195.5 1444.5L196 1447.7L196.5 1443.0L197 1445.1L197.5 1446.3L197.9 1445.3L198.4 1447.4L198.9 1444.6L199.4 1447.7L199.9 1449.0L200.4 1453.1L200.8 1451.5L201.3 1447.4L201.8 1454.3L202.3 1452.5L202.8 1449.7L203.3 1458.8L203.7 1452.1L204.2 1446.8L204.7 1453.3L205.2 1453.1L205.7 1453.9L206.2 1453.1L206.6 1448.1L207.1 1456.7L207.6 1463.0L208.1 1459.3L208.6 1459.0L209 1462.0L209.5 1457.2L210 1457.9L210.5 1457.2L211 1461.2L211.5 1460.2L211.9 1460.0L212.4 1462.3L212.9 1462.8L213.4 1465.2L213.9 1463.8L214.4 1466.9L214.8 1468.4L215.3 1469.0L215.8 1474.6L216.3 1466.3L216.8 1466.3L217.3 1462.8L217.7 1463.0L218.2 1473.6L218.7 1468.1L219.2 1470.6L219.7 1468.4L220.2 1470.6L220.6 1477.5L221.1 1471.5L221.6 1474.2L222.1 1467.2L222.6 1479.9L223.1 1478.7L223.5 1473.9L224 1475.0L224.5 1476.4L225 1482.0L225.5 1476.8L226 1475.7L226.4 1481.6L226.9 1484.6L227.4 1473.9L227.9 1479.9L228.4 1479.5L228.9 1483.3L229.3 1475.7L229.8 1488.5L230.3 1482.0L230.8 1481.6L231.3 1489.0L231.8 1480.7L232.2 1482.4L232.7 1488.5L233.2 1489.5L233.7 1491.1L234.2 1487.5L234.7 1486.5L235.1 1491.1L235.6 1489.0L236.1 1492.7L236.6 1481.6L237.1 1495.0L237.6 1496.2L238 1484.6L238.5 1489.5L239 1485.5L239.5 1491.6L240 1491.6L240.5 1493.8L240.9 1499.4L241.4 1493.8L241.9 1492.7L242.4 1495.6L242.9 1495.6L243.4 1505.2L243.8 1502.2L244.3 1494.4L244.8 1493.3L245.3 1490.5L245.8 1498.1L246.3 1492.2L246.7 1500.8L247.2 1493.3L247.7 1497.5L248.2 1500.8L248.7 1502.2L249.2 1505.2L249.6 1502.9L250.1 1499.4L250.6 1496.8L251.1 1506.7L251.6 1506.7L252.1 1497.5L252.5 1496.8L253 1500.1L253.5 1514.7L254 1498.8L254.5 1498.8L255 1511.9L255.4 1510.9L255.9 1496.2L256.4 1503.6L256.9 1505.9L257.4 1502.9L257.9 1495.0L258.3 1498.8L258.8 1507.5L259.3 1509.2L259.8 1513.7L260.3 1500.8L260.7 1510.1L261.2 1500.8L261.7 1515.7L262.2 1506.7L262.7 1505.9L263.2 1506.7L263.6 1500.8L264.1 1505.2L264.6 1508.4L265.1 1505.2L265.6 1508.4L266.1 1523.5L266.5 1515.7L267 1510.1L267.5 1519.9L268 1504.4L268.5 1509.2L269 1519.9L269.4 1517.8L269.9 1508.4L270.4 1509.2L270.9 1509.2L271.4 1515.7L271.9 1513.7L272.3 1515.7L272.8 1509.2L273.3 1519.9L273.8 1523.5L274.3 1510.9L274.8 1515.7L275.2 1522.3L275.7 1526.0L276.2 1514.7L276.7 1511.9L277.2 1519.9L277.7 1521.1L278.1 1516.7L278.6 1512.8L279.1 1524.7L279.6 1512.8L280.1 1530.1L280.6 1513.7L281 1526.0L281.5 1540.0L282 1540.0L282.5 1524.7L283 1530.1L283.5 1518.8L283.9 1526.0L284.4 1526.0L284.9 1523.5L285.4 1527.3L285.9 1519.9L286.4 1521.1L286.8 1517.8L287.3 1528.7L287.8 1531.6L288.3 1524.7L288.8 1546.1L289.3 1540.0L289.7 1524.7L290.2 1546.1L290.7 1527.3L291.2 1528.7L291.7 1540.0L292.2 1538.2L292.6 1526.0L293.1 1553.2L293.6 1548.3L294.1 1528.7L294.6 1536.4L295.1 1543.9L295.5 1530.1L296 1534.8L296.5 1534.8L297 1543.9L297.5 1558.8L298 1528.7L298.4 1543.9L298.9 1543.9L299.4 1543.9L299.9 1533.2L300.4 1523.5L300.9 1555.9L301.3 1538.2L301.8 1543.9L302.3 1562.0L302.8 1541.9L303.3 1558.8L303.8 1569.1L304.2 1553.2L304.7 1543.9L305.2 1553.2L305.7 1543.9L306.2 1541.9L306.7 1558.8L307.1 1543.9L307.6 1536.4L308.1 1553.2L308.6 1558.8L309.1 1546.1L309.6 1543.9L310 1536.4L310.5 1562.0L311 1546.1L311.5 1548.3L312 1555.9L312.5 1541.9L312.9 1569.1L313.4 1569.1L313.9 1553.2L314.4 1548.3L314.9 1583.2L315.3 1546.1L315.8 1558.8L316.3 1548.3L316.8 1543.9L317.3 1555.9L317.8 1555.9L318.2 1546.1L318.7 1558.8L319.2 1562.0L319.7 1540.0L320.2 1558.8L320.7 1569.1L321.1 1550.7L321.6 1555.9L322.1 1543.9L322.6 1540.0L323.1 1543.9L323.6 1565.4L324 1533.2L324.5 1553.2L325 1550.7L325.5 1562.0L326 1550.7L326.5 1553.2L326.9 1565.4L327.4 1553.2L327.9 1569.1L328.4 1577.9L328.9 1543.9L329.4 1546.1L329.8 1577.9L330.3 1573.3L330.8 1548.3L331.3 1555.9L331.8 1546.1L332.3 1555.9L332.7 1573.3L333.2 1546.1L333.7 1565.4L334.2 1558.8L334.7 1555.9L335.2 1573.3L335.6 1565.4L336.1 1555.9L336.6 1583.2L337.1 1569.1L337.6 1546.1L338.1 1565.4L338.5 1569.1L339 1548.3L339.5 1577.9L340 1583.2L340.5 1562.0L341 1558.8L341.4 1577.9L341.9 1555.9L342.4 1577.9L342.9 1565.4L343.4 1555.9L343.9 1569.1L344.3 1558.8L344.8 1562.0L345.3 1583.2L345.8 1562.0L346.3 1605.1L346.8 1605.1L347.2 1573.3L347.7 1569.1L348.2 1569.1L348.7 1550.7L349.2 1550.7L349.7 1577.9L350.1 1553.2L350.6 1577.9L351.1 1605.1L351.6 1558.8L352.1 1553.2L352.6 1558.8L353 1589.2L353.5 1558.8L354 1632.4L354.5 1558.8L355 1558.8L355.5 1589.2L355.9 1573.3L356.4 1583.2L356.9 1565.4L357.4 1569.1L357.9 1565.4L358.4 1562.0L358.8 1558.8L359.3 1569.1L359.8 1583.2L360.3 1583.2L360.8 1569.1L361.3 1573.3L361.7 1573.3L362.2 1569.1L362.7 1583.2L363.2 1558.8L363.7 1573.3L364.2 1583.2L364.6 1577.9L365.1 1569.1L365.6 1573.3L366.1 1589.2L366.6 1583.2L367.1 1546.1L367.5 1596.4L368 1589.2L368.5 1577.9L369 1583.2L369.5 1573.3L369.9 1596.4L370.4 1583.2L370.9 1573.3L371.4 1565.4L371.9 1577.9L372.4 1589.2L372.8 1589.2L373.3 1558.8L373.8 1573.3L374.3 1583.2L374.8 1583.2L375.3 1596.4L375.7 1573.3L376.2 1577.9L376.7 1573.3L377.2 1562.0L377.7 1589.2L378.2 1573.3L378.6 1558.8L379.1 1573.3L379.6 1596.4L380.1 1573.3L380.6 1605.1L381.1 1583.2L381.5 1573.3L382 1569.1L382.5 1616.4L383 1569.1L383.5 1589.2L384 1583.2L384.4 1583.2L384.9 1583.2L385.4 1577.9L385.9 1583.2L386.4 1605.1L386.9 1583.2L387.3 1583.2L387.8 1583.2L388.3 1562.0L388.8 1589.2L389.3 1558.8L389.8 1562.0L390.2 1565.4L390.7 1596.4L391.2 1596.4L391.7 1596.4L392.2 1573.3L392.7 1577.9L393.1 1616.4L393.6 1569.1L394.1 1589.2L394.6 1605.1L395.1 1583.2L395.6 1589.2L396 1605.1L396.5 1589.2L397 1589.2L397.5 1605.1L398 1569.1L398.5 1569.1L398.9 1577.9L399.4 1632.4L399.9 1573.3L400.4 1589.2L400.9 1589.2L401.4 1569.1L401.8 1605.1L402.3 1573.3L402.8 1577.9L403.3 1573.3L403.8 1596.4L404.3 1583.2L404.7 1632.4L405.2 1577.9L405.7 1596.4L406.2 1577.9L406.7 1605.1L407.2 1589.2L407.6 1555.9L408.1 1596.4L408.6 1583.2L409.1 1616.4L409.6 1589.2L410.1 1589.2L410.5 1577.9L411 1577.9L411.5 1562.0L412 1577.9L412.5 1569.1L413 1589.2L413.4 1589.2L413.9 1589.2L414.4 1596.4L414.9 1632.4L415.4 1605.1L415.9 1573.3L416.3 1573.3L416.8 1573.3L417.3 1573.3L417.8 1596.4L418.3 1596.4L418.8 1616.4L419.2 1616.4L419.7 1583.2L420.2 1596.4L420.7 1589.2L421.2 1589.2L421.6 1589.2L422.1 1583.2L422.6 1616.4L423.1 1573.3L423.6 1605.1L424.1 1573.3L424.5 1589.2L425 1605.1L425.5 1565.4L426 1569.1L426.5 1616.4L427 1577.9L427.4 1605.1L427.9 1577.9L428.4 1596.4L428.9 1605.1L429.4 1565.4L429.9 1596.4L430.3 1565.4L430.8 1577.9L431.3 1589.2L431.8 1589.2L432.3 1573.3L432.8 1573.3L433.2 1596.4L433.7 1583.2L434.2 1589.2L434.7 1589.2L435.2 1589.2L435.7 1589.2L436.1 1589.2L436.6 1616.4L437.1 1596.4L437.6 1589.2L438.1 1565.4L438.6 1589.2L439 1583.2L439.5 1616.4L440 1605.1L440.5 1596.4L441 1596.4L441.5 1616.4L441.9 1583.2L442.4 1632.4L442.9 1577.9L443.4 1577.9L443.9 1573.3L444.4 1577.9L444.8 1577.9L445.3 1605.1L445.8 1583.2L446.3 1596.4L446.8 1605.1L447.3 1562.0L447.7 1569.1L448.2 1589.2L448.7 1605.1L449.2 1616.4L449.7 1577.9L450.2 1596.4L450.6 1583.2L451.1 1577.9L451.6 1569.1L452.1 1569.1L452.6 1583.2L453.1 1583.2L453.5 1605.1L454 1616.4L454.5 1583.2L455 1605.1L455.5 1605.1L456 1596.4L456.4 1605.1L456.9 1605.1L457.4 1616.4L457.9 1596.4L458.4 1583.2L458.9 1596.4L459.3 1577.9L459.8 1583.2L460.3 1596.4L460.8 1605.1L461.3 1577.9L461.8 1577.9L462.2 1583.2L462.7 1632.4L463.2 1589.2L463.7 1577.9L464.2 1605.1L464.7 1605.1L465.1 1583.2L465.6 1632.4L466.1 1565.4L466.6 1616.4L467.1 1583.2L467.6 1577.9L468 1596.4L468.5 1589.2L469 1632.4L469.5 1605.1L470 1589.2L470.5 1605.1L470.9 1573.3L471.4 1589.2L471.9 1605.1L472.9 1616.4L473.4 1632.4L473.8 1589.2L474.3 1616.4L474.8 1605.1L475.3 1589.2L475.8 1616.4L476.2 1596.4L476.7 1605.1L477.2 1565.4L477.7 1659.6L478.2 1605.1L478.7 1589.2L479.1 1583.2L479.6 1573.3L480.1 1596.4L480.6 1583.2L481.1 1573.3L481.6 1605.1L482 1616.4L482.5 1589.2L483 1616.4L483.5 1616.4L484 1616.4L484.5 1596.4L484.9 1616.4L485.4 1616.4L485.9 1596.4L486.4 1632.4L486.9 1596.4L487.4 1596.4L487.8 1605.1L488.3 1632.4L488.8 1659.6L489.3 1583.2L489.8 1632.4L490.3 1632.4L490.7 1632.4L491.2 1605.1L491.7 1605.1L492.2 1596.4L492.7 1589.2L493.2 1596.4L493.6 1605.1L494.1 1632.4L494.6 1577.9L495.1 1589.2L495.6 1577.9L496.1 1589.2L496.5 1605.1L497 1605.1L497.5 1605.1L498 1573.3L498.5 1596.4L499 1632.4L499.4 1589.2L499.9 1577.9L500.4 1589.2L500.9 1605.1L501.4 1596.4L501.9 1616.4L502.3 1616.4L502.8 1616.4L503.3 1596.4L503.8 1583.2L504.3 1583.2L504.8 1577.9L505.2 1596.4L505.7 1616.4L506.2 1577.9L506.7 1589.2L507.2 1583.2L507.7 1583.2L508.1 1605.1L508.6 1659.6L509.1 1583.2L509.6 1596.4L510.1 1596.4L510.6 1596.4L511 1569.1L511.5 1616.4L512 1616.4L512.5 1605.1L513 1596.4L513.5 1616.4L513.9 1589.2L514.4 1589.2L514.9 1596.4L515.4 1589.2L515.9 1583.2L516.4 1616.4L516.8 1589.2L517.3 1616.4L517.8 1577.9L518.3 1616.4L518.8 1632.4L519.3 1577.9L519.7 1605.1L520.2 1605.1L520.7 1589.2L521.2 1583.2L522.2 1573.3L522.6 1573.3L523.1 1596.4L523.6 1577.9L524.1 1605.1L524.6 1616.4L525.1 1596.4L525.5 1596.4L526 1632.4L526.5 1659.6L527 1659.6L527.5 1616.4L528 1589.2L528.4 1565.4L528.9 1589.2L529.4 1605.1L529.9 1577.9L530.4 1605.1L530.8 1616.4L531.3 1596.4L531.8 1596.4L532.3 1616.4L532.8 1596.4L533.3 1632.4L533.7 1589.2L534.2 1616.4L534.7 1583.2L535.2 1577.9L535.7 1596.4L536.2 1605.1L536.6 1616.4L537.1 1659.6L537.6 1632.4L538.6 1589.2L539.1 1569.1L539.5 1596.4L540 1616.4L540.5 1596.4L541 1573.3L541.5 1605.1L542 1616.4L542.4 1589.2L542.9 1555.9L543.4 1589.2L543.9 1605.1L544.4 1589.2L544.9 1583.2L545.3 1583.2L545.8 1589.2L546.3 1569.1L546.8 1605.1L547.3 1569.1L547.8 1605.1L548.2 1573.3L548.7 1569.1L549.2 1616.4L549.7 1616.4L550.2 1577.9L550.7 1605.1L551.1 1596.4L551.6 1659.6L552.1 1605.1L552.6 1589.2L553.1 1577.9L553.6 1616.4L554 1569.1L554.5 1632.4L555 1616.4L555.5 1583.2L556 1605.1L556.5 1632.4L556.9 1569.1L557.4 1577.9L557.9 1596.4L558.4 1596.4L558.9 1616.4L559.4 1577.9L559.8 1589.2L560.3 1605.1L560.8 1659.6L561.3 1605.1L561.8 1596.4L562.3 1616.4L562.7 1605.1L563.2 1573.3L563.7 1577.9L564.2 1589.2L564.7 1605.1L565.2 1583.2L565.6 1596.4L566.1 1589.2L566.6 1659.6L567.1 1596.4L567.6 1605.1L568.1 1583.2L568.5 1577.9L569 1616.4L569.5 1605.1L570 1583.2L570.5 1596.4L571 1616.4L571.4 1632.4L571.9 1583.2L572.4 1616.4L572.9 1589.2L573.4 1577.9L573.9 1596.4L574.3 1589.2L574.8 1596.4L575.3 1573.3L575.8 1596.4L576.3 1605.1L576.8 1565.4L577.2 1605.1L577.7 1616.4L578.2 1577.9L578.7 1583.2L579.2 1596.4L579.7 1616.4L580.1 1589.2L580.6 1589.2L581.1 1596.4L581.6 1589.2L582.1 1589.2L582.5 1596.4L583 1616.4L583.5 1596.4L584 1632.4L584.5 1589.2L585 1583.2L585.4 1596.4L585.9 1596.4L586.4 1616.4L586.9 1596.4L587.4 1583.2L587.9 1596.4L588.3 1577.9L588.8 1605.1L589.3 1589.2L589.8 1589.2L590.3 1583.2L590.8 1589.2L591.2 1562.0L591.7 1659.6L592.2 1605.1L592.7 1583.2L593.2 1596.4L593.7 1583.2L594.1 1605.1L594.6 1573.3L595.1 1632.4L595.6 1605.1L596.1 1589.2L596.6 1577.9L597 1589.2L597.5 1605.1L598 1659.6L598.5 1616.4L599 1589.2L599.5 1605.1L599.9 1596.4L600.4 1616.4L600.9 1589.2L601.4 1616.4L601.9 1596.4L602.4 1583.2L602.8 1605.1L603.3 1583.2L603.8 1596.4L604.3 1589.2L604.8 1632.4L605.3 1596.4L605.7 1583.2L606.2 1562.0L606.7 1577.9L607.2 1596.4L607.7 1577.9L608.2 1605.1L608.6 1573.3L609.1 1632.4L609.6 1616.4L610.1 1565.4L610.6 1583.2L611.1 1632.4L611.5 1616.4L612 1616.4L612.5 1616.4L613 1605.1L613.5 1558.8L614 1616.4L614.4 1632.4L614.9 1605.1L615.4 1596.4L615.9 1616.4L616.4 1577.9L616.9 1573.3L617.3 1583.2L617.8 1577.9L618.3 1605.1L618.8 1605.1L619.3 1583.2L619.8 1596.4L620.2 1596.4L620.7 1583.2L621.2 1616.4L621.7 1632.4L622.2 1589.2L622.7 1605.1L623.1 1616.4L623.6 1589.2L624.1 1605.1L624.6 1589.2L625.1 1577.9L625.6 1596.4L626 1589.2L626.5 1596.4L627 1605.1L627.5 1616.4L628 1583.2L628.5 1605.1L628.9 1596.4L629.4 1577.9L629.9 1577.9L630.4 1632.4L630.9 1605.1L631.4 1583.2L631.8 1589.2L632.3 1589.2L632.8 1596.4L633.3 1632.4L633.8 1605.1L634.3 1596.4L634.7 1605.1L635.2 1596.4L635.7 1605.1" fill="none" stroke="none" marker-start="url(#m6)" marker-mid="url(#m6)" marker-end="url(#m6)"/>
<path d="M153 1366.1L153.5 1368.7L154 1369.8L154.4 1370.9L154.9 1373.5L155.4 1375.0L155.9 1377.6L156.4 1379.0L156.9 1378.5L157.3 1379.8L157.8 1380.6L158.3 1386.0L158.8 1384.3L159.3 1388.0L159.8 1385.6L160.2 1388.6L160.7 1392.7L161.2 1390.9L161.7 1393.5L162.2 1398.0L162.7 1396.8L163.1 1394.6L163.6 1397.9L164.1 1397.6L164.6 1403.1L165.1 1401.3L165.6 1403.6L166 1406.2L166.5 1405.9L167 1408.5L167.5 1409.9L168 1408.6L168.5 1409.7L168.9 1413.4L169.4 1411.7L169.9 1416.2L170.4 1418.3L170.9 1415.3L171.4 1415.6L171.8 1418.4L172.3 1418.2L172.8 1425.1L173.3 1421.1L173.8 1422.3L174.3 1424.0L174.7 1426.2L175.2 1425.7L175.7 1426.5L176.2 1425.6L176.7 1430.3L177.2 1431.1L177.6 1431.9L178.1 1430.4L178.6 1436.9L179.1 1434.0L179.6 1436.1L180.1 1433.3L180.5 1435.0L181 1434.4L181.5 1442.5L182 1436.9L182.5 1441.0L183 1437.8L183.4 1444.0L183.9 1446.2L184.4 1444.6L184.9 1438.3L185.4 1445.5L185.9 1446.0L186.3 1448.1L186.8 1444.8L187.3 1445.6L187.8 1446.8L188.3 1447.9L188.8 1449.9L189.2 1454.1L189.7 1447.4L190.2 1447.9L190.7 1453.5L191.2 1453.9L191.7 1456.0L192.1 1457.2L192.6 1453.5L193.1 1455.6L193.6 1457.6L194.1 1455.8L194.6 1460.5L195 1460.7L195.5 1457.9L196 1456.7L196.5 1459.7L197 1463.8L197.5 1462.5L197.9 1467.2L198.4 1460.7L198.9 1467.2L199.4 1466.3L199.9 1469.3L200.4 1469.0L200.8 1465.8L201.3 1465.8L201.8 1466.0L202.3 1468.4L202.8 1472.5L203.3 1464.1L203.7 1475.7L204.2 1474.2L204.7 1478.3L205.2 1465.8L205.7 1469.6L206.2 1473.9L206.6 1477.2L207.1 1471.5L207.6 1471.2L208.1 1475.7L208.6 1476.4L209 1474.6L209.5 1475.7L210 1478.3L210.5 1473.9L211 1476.8L211.5 1479.9L211.9 1480.3L212.4 1479.5L212.9 1475.3L213.4 1486.0L213.9 1485.1L214.4 1475.3L214.8 1479.9L215.3 1484.6L215.8 1485.5L216.3 1491.6L216.8 1482.8L217.3 1487.5L217.7 1484.2L218.2 1483.7L218.7 1487.5L219.2 1488.0L219.7 1489.0L220.2 1490.0L220.6 1489.0L221.1 1482.4L221.6 1486.5L222.1 1496.8L222.6 1491.1L223.1 1489.5L223.5 1498.8L224 1489.5L224.5 1490.0L225 1503.6L225.5 1486.0L226 1500.1L226.4 1492.7L226.9 1501.5L227.4 1492.2L227.9 1496.8L228.4 1501.5L228.9 1499.4L229.3 1508.4L229.8 1505.9L230.3 1498.1L230.8 1509.2L231.3 1494.4L231.8 1499.4L232.2 1497.5L232.7 1494.4L233.2 1505.9L233.7 1505.2L234.2 1492.7L234.7 1502.2L235.1 1498.1L235.6 1508.4L236.1 1503.6L236.6 1502.2L237.1 1495.6L237.6 1510.9L238 1510.9L238.5 1499.4L239 1506.7L239.5 1510.9L240 1522.3L240.5 1510.1L240.9 1517.8L241.4 1504.4L241.9 1504.4L242.4 1514.7L242.9 1510.1L243.4 1507.5L243.8 1507.5L244.3 1517.8L244.8 1509.2L245.3 1511.9L245.8 1511.9L246.3 1526.0L246.7 1524.7L247.2 1510.9L247.7 1518.8L248.2 1511.9L248.7 1507.5L249.2 1530.1L249.6 1507.5L250.1 1519.9L250.6 1513.7L251.1 1523.5L251.6 1523.5L252.1 1533.2L252.5 1518.8L253 1522.3L253.5 1528.7L254 1528.7L254.5 1517.8L255 1523.5L255.4 1526.0L255.9 1526.0L256.4 1530.1L256.9 1523.5L257.4 1534.8L257.9 1519.9L258.3 1521.1L258.8 1534.8L259.3 1531.6L259.8 1523.5L260.3 1528.7L260.7 1531.6L261.2 1527.3L261.7 1548.3L262.2 1534.8L262.7 1523.5L263.2 1536.4L263.6 1538.2L264.1 1536.4L264.6 1523.5L265.1 1523.5L265.6 1553.2L266.1 1541.9L266.5 1533.2L267 1524.7L267.5 1524.7L268 1543.9L268.5 1550.7L269 1548.3L269.4 1541.9L269.9 1541.9L270.4 1548.3L270.9 1546.1L271.4 1553.2L271.9 1565.4L272.3 1553.2L272.8 1550.7L273.3 1546.1L273.8 1528.7L274.3 1553.2L274.8 1553.2L275.2 1546.1L275.7 1543.9L276.2 1524.7L276.7 1541.9L277.2 1546.1L277.7 1546.1L278.1 1543.9L278.6 1534.8L279.1 1550.7L279.6 1546.1L280.1 1536.4L280.6 1548.3L281 1558.8L281.5 1555.9L282 1562.0L282.5 1541.9L283 1550.7L283.5 1538.2L283.9 1538.2L284.4 1569.1L284.9 1541.9L285.4 1543.9L285.9 1562.0L286.4 1573.3L286.8 1550.7L287.3 1548.3L287.8 1548.3L288.3 1569.1L288.8 1577.9L289.3 1573.3L289.7 1550.7L290.2 1562.0L290.7 1555.9L291.2 1540.0L291.7 1558.8L292.2 1543.9L292.6 1555.9L293.1 1589.2L293.6 1562.0L294.1 1546.1L294.6 1569.1L295.1 1555.9L295.5 1555.9L296 1589.2L296.5 1577.9L297 1583.2L297.5 1548.3L298 1573.3L298.4 1558.8L298.9 1577.9L299.4 1562.0L299.9 1546.1L300.4 1562.0L300.9 1569.1L301.3 1558.8L301.8 1565.4L302.3 1553.2L302.8 1569.1L303.3 1569.1L303.8 1565.4L304.2 1558.8L304.7 1569.1L305.2 1577.9L305.7 1573.3L306.2 1569.1L306.7 1577.9L307.1 1562.0L307.6 1558.8L308.1 1558.8L308.6 1569.1L309.1 1565.4L309.6 1577.9L310 1546.1L310.5 1577.9L311 1555.9L311.5 1583.2L312 1565.4L312.5 1555.9L312.9 1548.3L313.4 1577.9L313.9 1562.0L314.4 1589.2L314.9 1573.3L315.3 1565.4L315.8 1596.4L316.3 1573.3L316.8 1548.3L317.3 1583.2L317.8 1558.8L318.2 1577.9L318.7 1569.1L319.2 1583.2L319.7 1573.3L320.2 1558.8L320.7 1565.4L321.1 1573.3L321.6 1573.3L322.1 1605.1L322.6 1577.9L323.1 1583.2L323.6 1596.4L324 1573.3L324.5 1583.2L325 1569.1L325.5 1596.4L326 1605.1L326.5 1583.2L326.9 1553.2L327.4 1616.4L327.9 1589.2L328.4 1616.4L328.9 1589.2L329.4 1565.4L329.8 1605.1L330.3 1596.4L330.8 1577.9L331.3 1583.2L331.8 1569.1L332.3 1577.9L332.7 1589.2L333.2 1589.2L333.7 1583.2L334.2 1569.1L334.7 1605.1L335.2 1562.0L335.6 1589.2L336.1 1589.2L336.6 1577.9L337.1 1583.2L337.6 1583.2L338.1 1577.9L338.5 1562.0L339 1605.1L339.5 1616.4L340 1589.2L340.5 1565.4L341 1583.2L341.4 1596.4L341.9 1565.4L342.4 1605.1L342.9 1577.9L343.4 1565.4L343.9 1616.4L344.3 1596.4L344.8 1577.9L345.3 1589.2L345.8 1596.4L346.3 1605.1L346.8 1577.9L347.2 1583.2L347.7 1605.1L348.2 1596.4L348.7 1583.2L349.2 1589.2L349.7 1577.9L350.1 1573.3L350.6 1605.1L351.1 1577.9L351.6 1589.2L352.1 1589.2L352.6 1616.4L353 1562.0L353.5 1616.4L354 1577.9L354.5 1596.4L355 1569.1L355.5 1596.4L355.9 1583.2L356.4 1596.4L356.9 1605.1L357.4 1577.9L357.9 1583.2L358.4 1596.4L358.8 1616.4L359.3 1596.4L359.8 1573.3L360.3 1553.2L360.8 1605.1L361.3 1596.4L361.7 1577.9L362.2 1596.4L362.7 1605.1L363.2 1632.4L363.7 1616.4L364.2 1583.2L364.6 1589.2L365.1 1569.1L365.6 1605.1L366.1 1589.2L366.6 1577.9L367.1 1583.2L367.5 1583.2L368 1605.1L368.5 1583.2L369 1605.1L369.5 1573.3L369.9 1605.1L370.4 1589.2L370.9 1632.4L371.4 1605.1L371.9 1583.2L372.4 1589.2L372.8 1589.2L373.3 1596.4L373.8 1589.2L374.3 1616.4L374.8 1583.2L375.3 1577.9L375.7 1589.2L376.2 1583.2L376.7 1605.1L377.2 1573.3L377.7 1589.2L378.2 1605.1L378.6 1596.4L379.1 1605.1L379.6 1596.4L380.1 1565.4L380.6 1577.9L381.1 1605.1L381.5 1605.1L382 1659.6L382.5 1596.4L383 1605.1L383.5 1616.4L384 1632.4L384.4 1583.2L384.9 1605.1L385.4 1596.4L385.9 1589.2L386.4 1632.4L386.9 1577.9L387.3 1577.9L387.8 1573.3L388.3 1596.4L388.8 1659.6L389.3 1632.4L389.8 1659.6L390.2 1589.2L390.7 1589.2L391.2 1616.4L391.7 1577.9L392.2 1605.1L392.7 1596.4L393.1 1616.4L393.6 1616.4L394.1 1616.4L394.6 1596.4L395.1 1596.4L395.6 1605.1L396 1583.2L396.5 1605.1L397 1596.4L397.5 1589.2L398 1589.2L398.5 1605.1L398.9 1577.9L399.4 1605.1L399.9 1605.1L400.4 1596.4L400.9 1583.2L401.4 1583.2L401.8 1605.1L402.3 1616.4L402.8 1616.4L403.3 1616.4L403.8 1632.4L404.3 1596.4L404.7 1596.4L405.2 1596.4L405.7 1589.2L406.2 1616.4L406.7 1605.1L407.2 1616.4L407.6 1596.4L408.1 1605.1L408.6 1577.9L409.1 1616.4L409.6 1589.2L410.1 1632.4L410.5 1632.4L411 1555.9L411.5 1659.6L412 1589.2L412.5 1596.4L413 1596.4L413.4 1616.4L413.9 1632.4L414.4 1573.3L414.9 1573.3L415.4 1589.2L415.9 1589.2L416.3 1573.3L416.8 1596.4L417.3 1583.2L417.8 1605.1L418.3 1605.1L418.8 1605.1L419.2 1616.4L419.7 1589.2L420.2 1596.4L420.7 1596.4L421.2 1632.4L421.6 1596.4L422.1 1589.2L422.6 1583.2L423.1 1616.4L423.6 1589.2L424.1 1605.1L424.5 1616.4L425 1596.4L425.5 1583.2L426 1616.4L426.5 1605.1L427 1632.4L427.4 1632.4L427.9 1632.4L428.4 1605.1L428.9 1589.2L429.4 1616.4L429.9 1632.4L430.3 1605.1L430.8 1632.4L431.3 1605.1L431.8 1632.4L432.3 1605.1L432.8 1616.4L433.2 1589.2L433.7 1583.2L434.2 1616.4L434.7 1596.4L435.2 1616.4L435.7 1616.4L436.1 1577.9L436.6 1616.4L437.1 1596.4L437.6 1577.9L438.1 1605.1L438.6 1569.1L439 1589.2L439.5 1583.2L440 1596.4L440.5 1605.1L441 1596.4L441.5 1605.1L441.9 1605.1L442.4 1616.4L442.9 1605.1L443.4 1659.6L443.9 1583.2L444.4 1616.4L444.8 1589.2L445.3 1605.1L445.8 1596.4L446.3 1616.4L446.8 1596.4L447.3 1596.4L447.7 1616.4L448.2 1632.4L448.7 1616.4L449.2 1632.4L449.7 1577.9L450.2 1583.2L450.6 1605.1L451.1 1605.1L451.6 1596.4L452.1 1632.4L452.6 1596.4L453.1 1573.3L453.5 1589.2L454 1616.4L454.5 1573.3L455 1583.2L455.5 1616.4L456 1589.2L456.4 1605.1L456.9 1616.4L457.4 1589.2L457.9 1605.1L458.4 1616.4L458.9 1583.2L459.3 1659.6L459.8 1596.4L460.3 1605.1L460.8 1605.1L461.3 1596.4L461.8 1596.4L462.2 1616.4L462.7 1616.4L463.2 1596.4L463.7 1616.4L464.2 1583.2L464.7 1583.2L465.1 1589.2L465.6 1589.2L466.1 1569.1L466.6 1589.2L467.1 1605.1L467.6 1659.6L468 1583.2L469 1616.4L469.5 1632.4L470 1616.4L470.5 1596.4L470.9 1616.4L471.4 1605.1L471.9 1583.2L472.4 1616.4L472.9 1605.1L473.4 1605.1L473.8 1616.4L474.3 1659.6L474.8 1616.4L475.3 1589.2L475.8 1605.1L476.2 1569.1L476.7 1605.1L477.2 1659.6L477.7 1616.4L478.2 1589.2L478.7 1596.4L479.1 1605.1L479.6 1583.2L480.1 1616.4L480.6 1659.6L481.1 1596.4L481.6 1596.4L482 1616.4L482.5 1605.1L483.5 1596.4L484 1589.2L484.5 1596.4L484.9 1596.4L485.4 1632.4L485.9 1632.4L486.4 1616.4L486.9 1605.1L487.4 1583.2L487.8 1659.6L488.3 1605.1L488.8 1616.4L489.3 1589.2L489.8 1616.4L490.3 1573.3L490.7 1605.1L491.2 1596.4L491.7 1605.1L492.2 1605.1L492.7 1659.6L493.2 1659.6L493.6 1605.1L494.1 1589.2L494.6 1616.4L495.1 1583.2L495.6 1632.4L496.1 1583.2L496.5 1659.6L497 1596.4L497.5 1605.1L498 1605.1L498.5 1616.4L499 1589.2L499.4 1583.2L499.9 1659.6L500.4 1596.4L500.9 1573.3L501.4 1616.4L501.9 1616.4L502.3 1605.1L502.8 1605.1L503.3 1632.4L503.8 1616.4L504.3 1605.1L504.8 1605.1L505.2 1596.4L505.7 1632.4L506.2 1632.4L506.7 1605.1L507.2 1596.4L507.7 1596.4L508.1 1577.9L508.6 1659.6L509.1 1605.1L509.6 1589.2L510.1 1616.4L510.6 1596.4L511 1616.4L511.5 1605.1L512 1583.2L512.5 1605.1L513 1583.2L513.5 1616.4L513.9 1605.1L514.4 1659.6L514.9 1605.1L515.4 1589.2L515.9 1632.4L516.4 1596.4L516.8 1632.4L517.3 1573.3L517.8 1596.4L518.3 1596.4L518.8 1577.9L519.3 1616.4L519.7 1605.1L520.2 1632.4L520.7 1589.2L521.2 1605.1L521.7 1596.4L522.2 1616.4L522.6 1583.2L523.1 1605.1L523.6 1605.1L524.1 1596.4L524.6 1605.1L525.1 1573.3L525.5 1589.2L526 1589.2L526.5 1616.4L527 1596.4L527.5 1596.4L528 1589.2L528.4 1632.4L528.9 1605.1L529.4 1632.4L529.9 1605.1L530.4 1616.4L530.8 1632.4L531.3 1605.1L531.8 1616.4L532.3 1605.1L532.8 1589.2L533.3 1596.4L533.7 1589.2L534.2 1659.6L534.7 1589.2L535.2 1632.4L535.7 1596.4L536.2 1632.4L536.6 1659.6L537.1 1659.6L537.6 1589.2L538.1 1616.4L538.6 1605.1L539.1 1659.6L539.5 1616.4L540 1589.2L540.5 1577.9L541 1616.4L541.5 1577.9L542 1616.4L542.4 1632.4L542.9 1577.9L543.4 1605.1L543.9 1573.3L544.4 1659.6L544.9 1589.2L545.3 1583.2L545.8 1605.1L546.3 1605.1L546.8 1589.2L547.3 1632.4L547.8 1632.4L548.2 1632.4L548.7 1589.2L549.2 1616.4L549.7 1616.4L550.2 1616.4L550.7 1573.3L551.1 1632.4L551.6 1616.4L552.1 1616.4L552.6 1616.4L553.1 1573.3L553.6 1589.2L554 1632.4L554.5 1596.4L555 1616.4L555.5 1596.4L556 1583.2L556.5 1605.1L556.9 1632.4L557.4 1605.1L558.4 1605.1L558.9 1616.4L559.4 1659.6L559.8 1596.4L560.3 1596.4L560.8 1605.1L561.3 1596.4L561.8 1659.6L562.3 1596.4L562.7 1596.4L563.2 1577.9L563.7 1632.4L564.2 1616.4L564.7 1605.1L565.2 1596.4L565.6 1605.1L566.1 1632.4L566.6 1596.4L567.1 1583.2L567.6 1589.2L568.1 1632.4L569 1632.4L569.5 1605.1L570 1605.1L570.5 1583.2L571 1616.4L571.4 1659.6L571.9 1632.4L572.4 1596.4L572.9 1583.2L573.4 1659.6L573.9 1605.1L574.3 1577.9L574.8 1632.4L575.3 1596.4L575.8 1596.4L576.3 1616.4L576.8 1632.4L577.2 1596.4L577.7 1605.1L578.2 1632.4L578.7 1583.2L579.2 1616.4L579.7 1632.4L580.1 1583.2L580.6 1616.4L581.1 1596.4L581.6 1596.4L582.1 1616.4L582.5 1596.4L583 1589.2L583.5 1596.4L584 1616.4L584.5 1589.2L585 1605.1L585.4 1596.4L585.9 1605.1L586.9 1616.4L587.4 1596.4L587.9 1616.4L588.3 1616.4L588.8 1583.2L589.3 1616.4L589.8 1605.1L590.3 1659.6L590.8 1596.4L591.2 1596.4L591.7 1589.2L592.2 1632.4L592.7 1583.2L593.2 1632.4L593.7 1596.4L594.1 1632.4L594.6 1616.4L595.1 1616.4L595.6 1605.1L596.1 1605.1L596.6 1596.4L597 1569.1L597.5 1605.1L598 1659.6L598.5 1632.4L599 1577.9L599.5 1616.4L599.9 1596.4L600.4 1632.4L600.9 1616.4L601.4 1596.4L601.9 1616.4L602.4 1605.1L602.8 1573.3L603.3 1583.2L603.8 1632.4L604.3 1659.6L604.8 1605.1L605.3 1565.4L605.7 1632.4L606.2 1616.4L606.7 1573.3L607.2 1583.2L607.7 1616.4L608.2 1632.4L608.6 1605.1L609.1 1632.4L609.6 1632.4L610.1 1589.2L610.6 1616.4L611.1 1596.4L611.5 1577.9L612 1596.4L612.5 1596.4L613 1605.1L613.5 1616.4L614 1616.4L614.4 1596.4L614.9 1583.2L615.4 1573.3L615.9 1577.9L616.4 1632.4L616.9 1596.4L617.3 1605.1L617.8 1605.1L618.3 1583.2L618.8 1605.1L619.3 1616.4L619.8 1605.1L620.2 1583.2L620.7 1605.1L621.2 1583.2L621.7 1616.4L622.2 1659.6L622.7 1596.4L623.1 1583.2L623.6 1605.1L624.1 1583.2L624.6 1569.1L625.1 1589.2L625.6 1605.1L626 1616.4L626.5 1596.4L627 1596.4L627.5 1605.1L628 1596.4L628.5 1596.4L628.9 1616.4L629.4 1632.4L629.9 1596.4L630.4 1605.1L630.9 1596.4L631.4 1605.1L631.8 1616.4L632.3 1605.1L632.8 1632.4L633.3 1589.2L633.8 1589.2L634.3 1605.1L634.7 1616.4L635.2 1589.2L635.7 1616.4" fill="none" stroke="none" marker-start="url(#m10)" marker-mid="url(#m10)" marker-end="url(#m10)"/>
<path d="M153 1325.8L153.5 1368.7L154 1371.8L154.4 1372.5L154.9 1373.6L155.4 1374.5L155.9 1378.6L156.4 1380.4L156.9 1378.9L157.3 1381.0L157.8 1382.5L158.3 1384.6L158.8 1383.7L159.3 1387.4L159.8 1386.8L160.2 1390.7L160.7 1392.3L161.2 1396.1L161.7 1394.2L162.2 1398.0L162.7 1399.3L163.1 1400.5L163.6 1399.7L164.1 1400.8L164.6 1404.8L165.1 1404.9L165.6 1405.5L166 1409.6L166.5 1406.6L167 1413.1L167.5 1415.5L168 1412.2L168.5 1414.0L168.9 1415.2L169.4 1417.2L169.9 1417.7L170.4 1420.5L170.9 1420.1L171.4 1422.8L171.8 1425.3L172.3 1428.3L172.8 1426.2L173.3 1431.1L173.8 1430.2L174.3 1427.5L174.7 1432.0L175.2 1435.8L175.7 1434.8L176.2 1435.5L176.7 1438.5L177.2 1440.7L177.6 1440.1L178.1 1440.3L178.6 1441.9L179.1 1441.5L179.6 1447.5L180.1 1449.9L180.5 1443.5L181 1447.4L181.5 1454.3L182 1448.8L182.5 1455.0L183 1451.9L183.4 1456.0L183.9 1454.1L184.4 1452.7L184.9 1449.9L185.4 1462.0L185.9 1459.5L186.3 1460.7L186.8 1455.0L187.3 1461.2L187.8 1461.0L188.3 1463.8L188.8 1458.6L189.2 1461.7L189.7 1466.6L190.2 1463.3L190.7 1461.7L191.2 1460.7L191.7 1470.3L192.1 1473.6L192.6 1473.2L193.1 1470.9L193.6 1469.3L194.1 1472.2L194.6 1468.4L195 1477.2L195.5 1473.9L196 1479.9L196.5 1475.0L197 1473.2L197.5 1475.3L197.9 1475.7L198.4 1475.3L198.9 1478.3L199.4 1475.0L199.9 1482.0L200.4 1479.1L200.8 1480.3L201.3 1485.5L201.8 1484.2L202.3 1487.0L202.8 1491.1L203.3 1487.0L203.7 1479.9L204.2 1486.0L204.7 1491.6L205.2 1486.0L205.7 1490.5L206.2 1490.0L206.6 1486.5L207.1 1496.2L207.6 1490.0L208.1 1493.3L208.6 1495.0L209 1489.5L209.5 1491.1L210 1496.8L210.5 1498.8L211 1495.6L211.5 1492.7L211.9 1502.2L212.4 1498.1L212.9 1500.1L213.4 1504.4L213.9 1492.2L214.4 1500.1L214.8 1492.2L215.3 1500.8L215.8 1494.4L216.3 1500.8L216.8 1498.8L217.3 1506.7L217.7 1503.6L218.2 1516.7L218.7 1517.8L219.2 1502.9L219.7 1514.7L220.2 1508.4L220.6 1512.8L221.1 1501.5L221.6 1504.4L222.1 1513.7L222.6 1511.9L223.1 1507.5L223.5 1510.1L224 1506.7L224.5 1516.7L225 1514.7L225.5 1512.8L226 1522.3L226.4 1517.8L226.9 1515.7L227.4 1510.1L227.9 1528.7L228.4 1516.7L228.9 1515.7L229.3 1513.7L229.8 1517.8L230.3 1522.3L230.8 1517.8L231.3 1516.7L231.8 1524.7L232.2 1533.2L232.7 1541.9L233.2 1512.8L233.7 1536.4L234.2 1523.5L234.7 1527.3L235.1 1521.1L235.6 1517.8L236.1 1536.4L236.6 1530.1L237.1 1527.3L237.6 1517.8L238 1530.1L238.5 1523.5L239 1536.4L239.5 1540.0L240 1528.7L240.5 1540.0L240.9 1530.1L241.4 1531.6L241.9 1541.9L242.4 1543.9L242.9 1534.8L243.4 1540.0L243.8 1543.9L244.3 1528.7L244.8 1536.4L245.3 1530.1L245.8 1531.6L246.3 1531.6L246.7 1548.3L247.2 1518.8L247.7 1543.9L248.2 1540.0L248.7 1534.8L249.2 1541.9L249.6 1534.8L250.1 1534.8L250.6 1550.7L251.1 1553.2L251.6 1541.9L252.1 1548.3L252.5 1550.7L253 1553.2L253.5 1534.8L254 1546.1L254.5 1536.4L255 1534.8L255.4 1573.3L255.9 1541.9L256.4 1543.9L256.9 1548.3L257.4 1573.3L257.9 1555.9L258.3 1555.9L258.8 1541.9L259.3 1538.2L259.8 1540.0L260.3 1543.9L260.7 1538.2L261.2 1546.1L261.7 1565.4L262.2 1548.3L262.7 1558.8L263.2 1555.9L263.6 1558.8L264.1 1569.1L264.6 1573.3L265.1 1577.9L265.6 1569.1L266.1 1558.8L266.5 1548.3L267 1562.0L267.5 1569.1L268 1577.9L268.5 1550.7L269 1569.1L269.4 1569.1L269.9 1562.0L270.4 1558.8L270.9 1562.0L271.4 1541.9L271.9 1573.3L272.3 1596.4L272.8 1565.4L273.3 1558.8L273.8 1596.4L274.3 1596.4L274.8 1548.3L275.2 1569.1L275.7 1577.9L276.2 1565.4L276.7 1573.3L277.2 1583.2L277.7 1583.2L278.1 1558.8L278.6 1583.2L279.1 1577.9L279.6 1589.2L280.1 1565.4L280.6 1573.3L281 1577.9L281.5 1589.2L282 1569.1L282.5 1589.2L283 1573.3L283.5 1577.9L283.9 1583.2L284.4 1577.9L284.9 1577.9L285.4 1573.3L285.9 1573.3L286.4 1596.4L286.8 1562.0L287.3 1569.1L287.8 1659.6L288.3 1577.9L288.8 1589.2L289.3 1565.4L289.7 1616.4L290.2 1583.2L290.7 1596.4L291.2 1577.9L291.7 1616.4L292.2 1573.3L292.6 1596.4L293.1 1565.4L293.6 1583.2L294.1 1589.2L294.6 1577.9L295.1 1605.1L295.5 1605.1L296 1596.4L296.5 1605.1L297 1577.9L297.5 1605.1L298 1605.1L298.4 1589.2L298.9 1562.0L299.4 1583.2L299.9 1569.1L300.4 1616.4L300.9 1605.1L301.3 1605.1L301.8 1596.4L302.3 1605.1L302.8 1596.4L303.3 1605.1L303.8 1583.2L304.2 1616.4L304.7 1589.2L305.2 1616.4L305.7 1583.2L306.2 1589.2L306.7 1583.2L307.1 1605.1L307.6 1596.4L308.1 1616.4L308.6 1632.4L309.1 1596.4L309.6 1605.1L310 1596.4L310.5 1583.2L311 1605.1L311.5 1605.1L312 1573.3L312.5 1616.4L312.9 1596.4L313.4 1616.4L313.9 1605.1L314.4 1659.6L314.9 1589.2L315.3 1632.4L315.8 1616.4L316.3 1659.6L316.8 1616.4L317.3 1589.2L317.8 1605.1L318.2 1616.4L318.7 1605.1L319.2 1632.4L319.7 1616.4L320.2 1577.9L320.7 1632.4L321.1 1605.1L321.6 1616.4L322.1 1616.4L322.6 1659.6L323.1 1596.4L323.6 1589.2L324 1589.2L324.5 1605.1L325 1605.1L325.5 1596.4L326 1616.4L326.5 1605.1L326.9 1616.4L327.4 1632.4L327.9 1616.4L328.4 1589.2L328.9 1632.4L329.4 1659.6L329.8 1605.1L330.3 1605.1L330.8 1632.4L331.3 1605.1L331.8 1605.1L332.3 1605.1L332.7 1605.1L333.2 1632.4L333.7 1632.4L334.2 1589.2L334.7 1659.6L335.2 1605.1L335.6 1616.4L336.1 1659.6L336.6 1659.6L337.1 1583.2L337.6 1659.6L338.1 1632.4L338.5 1589.2L339 1605.1L339.5 1659.6L340 1616.4L340.5 1589.2L341 1632.4L341.4 1616.4L341.9 1659.6L342.4 1605.1L342.9 1616.4L343.4 1605.1L343.9 1616.4L344.3 1596.4L344.8 1616.4L345.3 1632.4L345.8 1605.1L346.3 1596.4L346.8 1632.4L347.2 1605.1L347.7 1605.1L348.2 1659.6L348.7 1632.4L349.2 1632.4L349.7 1659.6L350.1 1632.4L350.6 1616.4L351.1 1632.4L352.1 1605.1L352.6 1659.6L353 1616.4L353.5 1616.4L354 1659.6L354.5 1605.1L355 1616.4L355.5 1616.4L356.4 1605.1L356.9 1605.1L357.4 1632.4L357.9 1596.4L358.4 1596.4L358.8 1596.4L359.3 1632.4L359.8 1616.4L360.3 1616.4L360.8 1616.4L361.3 1605.1L361.7 1659.6L362.2 1616.4L362.7 1605.1L363.7 1605.1L364.2 1659.6L364.6 1605.1L365.1 1632.4L365.6 1659.6L366.1 1589.2L366.6 1659.6L367.1 1596.4L367.5 1596.4L368 1605.1L368.5 1577.9L369 1616.4L369.5 1616.4L369.9 1659.6L370.4 1616.4L370.9 1659.6L371.4 1659.6L371.9 1596.4L372.4 1632.4L372.8 1632.4L373.3 1632.4L373.8 1596.4L374.3 1659.6L374.8 1605.1L375.3 1632.4L375.7 1632.4L376.2 1616.4L377.2 1596.4L377.7 1632.4L378.2 1659.6L378.6 1659.6L379.1 1632.4L379.6 1583.2L380.1 1659.6L380.6 1616.4L381.1 1589.2L382 1596.4L382.5 1632.4L383 1605.1L383.5 1616.4L384 1605.1L384.4 1616.4L384.9 1616.4L385.4 1605.1L385.9 1616.4L386.4 1577.9L386.9 1596.4L387.3 1632.4L387.8 1632.4L388.3 1632.4L388.8 1605.1L389.3 1616.4L389.8 1616.4L390.2 1596.4L390.7 1616.4L391.2 1605.1L391.7 1605.1L392.2 1589.2L392.7 1605.1L393.1 1605.1L393.6 1616.4L394.1 1632.4L394.6 1659.6L395.6 1632.4L396 1632.4L396.5 1616.4L397 1632.4L397.5 1659.6L398 1632.4L398.5 1659.6L398.9 1605.1L399.4 1659.6L399.9 1605.1L400.4 1596.4L400.9 1605.1L401.4 1632.4L401.8 1605.1L402.3 1659.6L402.8 1659.6L403.3 1616.4L403.8 1632.4L404.3 1632.4L404.7 1632.4L405.2 1616.4L405.7 1632.4L406.2 1632.4L406.7 1632.4L407.2 1605.1L407.6 1589.2L408.1 1632.4L408.6 1632.4L409.1 1632.4L409.6 1616.4L410.1 1605.1L410.5 1596.4L411 1605.1L412 1616.4L412.5 1616.4L413 1605.1L413.4 1605.1L413.9 1659.6L414.4 1632.4L414.9 1616.4L415.4 1596.4L415.9 1616.4L416.3 1616.4L416.8 1659.6L417.3 1605.1L417.8 1605.1L418.3 1605.1L418.8 1616.4L419.2 1632.4L419.7 1632.4L420.2 1632.4L420.7 1605.1L421.2 1596.4L421.6 1659.6L422.1 1632.4L422.6 1616.4L423.1 1596.4L423.6 1659.6L424.1 1659.6L424.5 1659.6L425 1632.4L425.5 1632.4L426 1659.6L426.5 1632.4L427 1605.1L427.4 1616.4L427.9 1616.4L428.4 1659.6L428.9 1659.6L429.4 1605.1L429.9 1632.4L430.3 1616.4L430.8 1605.1L431.3 1632.4L431.8 1632.4L432.3 1632.4L432.8 1659.6L433.2 1577.9L433.7 1632.4L434.2 1632.4L434.7 1605.1L435.2 1605.1L435.7 1659.6L436.1 1632.4L436.6 1583.2L437.1 1632.4L438.1 1659.6L438.6 1616.4L439 1659.6L439.5 1632.4L440 1616.4L440.5 1596.4L441 1632.4L441.5 1632.4L441.9 1659.6L442.4 1596.4L442.9 1632.4L443.4 1589.2L443.9 1616.4L444.4 1616.4L444.8 1632.4L445.3 1632.4L445.8 1616.4L446.3 1632.4L446.8 1616.4L447.3 1589.2L447.7 1632.4L448.7 1659.6L449.2 1605.1L450.2 1659.6L450.6 1632.4L451.1 1616.4L451.6 1616.4L452.1 1605.1L452.6 1616.4L453.1 1616.4L453.5 1577.9L454 1632.4L454.5 1605.1L455 1632.4L455.5 1596.4L456 1616.4L456.4 1577.9L456.9 1605.1L457.9 1616.4L458.4 1632.4L458.9 1616.4L459.3 1659.6L459.8 1659.6L460.3 1605.1L460.8 1632.4L461.3 1616.4L461.8 1659.6L462.2 1616.4L462.7 1596.4L463.2 1573.3L463.7 1632.4L464.2 1596.4L464.7 1659.6L465.1 1616.4L465.6 1616.4L466.1 1659.6L467.6 1596.4L468 1632.4L468.5 1605.1L469.5 1632.4L470 1659.6L470.5 1632.4L470.9 1659.6L471.4 1632.4L471.9 1605.1L472.4 1616.4L473.4 1632.4L473.8 1616.4L474.8 1659.6L475.3 1616.4L475.8 1659.6L476.2 1616.4L476.7 1616.4L477.2 1659.6L477.7 1605.1L478.2 1632.4L478.7 1596.4L479.1 1583.2L479.6 1605.1L480.1 1605.1L480.6 1616.4L481.1 1616.4L481.6 1616.4L482 1583.2L483 1659.6L483.5 1605.1L484 1616.4L484.5 1605.1L484.9 1659.6L485.4 1589.2L485.9 1632.4L486.4 1616.4L486.9 1605.1L487.4 1605.1L487.8 1605.1L488.3 1616.4L488.8 1659.6L489.3 1632.4L489.8 1659.6L490.3 1632.4L490.7 1632.4L491.7 1632.4L492.2 1659.6L492.7 1596.4L493.2 1632.4L493.6 1659.6L494.1 1659.6L494.6 1632.4L495.1 1616.4L495.6 1605.1L496.1 1605.1L496.5 1616.4L497 1616.4L497.5 1616.4L498 1632.4L498.5 1659.6L499 1632.4L499.4 1605.1L499.9 1632.4L500.9 1616.4L501.4 1632.4L502.3 1605.1L502.8 1605.1L503.3 1659.6L503.8 1616.4L504.3 1632.4L504.8 1632.4L505.2 1632.4L505.7 1605.1L506.2 1632.4L506.7 1632.4L507.2 1605.1L508.1 1632.4L508.6 1632.4L509.1 1605.1L510.1 1616.4L510.6 1659.6L511 1632.4L511.5 1632.4L512 1605.1L512.5 1659.6L513 1596.4L513.5 1659.6L513.9 1659.6L514.4 1659.6L514.9 1616.4L515.4 1616.4L515.9 1616.4L516.8 1632.4L517.3 1659.6L517.8 1605.1L518.3 1659.6L518.8 1616.4L519.3 1616.4L519.7 1616.4L520.2 1605.1L520.7 1659.6L521.2 1596.4L521.7 1632.4L522.2 1616.4L522.6 1632.4L523.1 1605.1L523.6 1616.4L524.1 1659.6L524.6 1659.6L525.1 1589.2L525.5 1632.4L526 1616.4L526.5 1616.4L527 1589.2L527.5 1616.4L528 1616.4L528.4 1659.6L528.9 1632.4L530.8 1632.4L531.3 1616.4L531.8 1616.4L532.3 1632.4L532.8 1596.4L533.3 1616.4L533.7 1659.6L534.7 1616.4L535.2 1659.6L535.7 1632.4L536.2 1596.4L536.6 1605.1L537.1 1632.4L537.6 1616.4L538.1 1605.1L538.6 1605.1L539.1 1659.6L539.5 1605.1L540 1659.6L541.5 1616.4L542 1632.4L542.4 1596.4L542.9 1659.6L543.4 1616.4L543.9 1659.6L544.4 1632.4L545.3 1616.4L545.8 1605.1L546.3 1632.4L546.8 1589.2L547.3 1632.4L547.8 1596.4L548.2 1632.4L548.7 1632.4L549.2 1659.6L549.7 1632.4L550.7 1659.6L551.1 1616.4L551.6 1632.4L552.1 1589.2L552.6 1659.6L553.1 1583.2L553.6 1659.6L554 1616.4L555 1632.4L555.5 1589.2L556 1596.4L556.5 1616.4L556.9 1605.1L557.4 1659.6L557.9 1659.6L558.9 1659.6L559.8 1616.4L560.3 1659.6L560.8 1616.4L561.3 1605.1L561.8 1632.4L562.3 1659.6L562.7 1596.4L563.2 1616.4L563.7 1632.4L564.2 1583.2L564.7 1616.4L565.2 1632.4L565.6 1605.1L566.1 1583.2L566.6 1632.4L567.1 1616.4L567.6 1616.4L568.1 1659.6L568.5 1632.4L569 1632.4L569.5 1632.4L570 1632.4L570.5 1605.1L571 1583.2L571.4 1659.6L571.9 1583.2L572.4 1632.4L572.9 1632.4L573.4 1659.6L573.9 1659.6L574.3 1659.6L574.8 1659.6L575.8 1605.1L576.3 1659.6L576.8 1589.2L577.2 1659.6L577.7 1605.1L578.2 1659.6L578.7 1659.6L579.2 1616.4L579.7 1659.6L580.1 1605.1L580.6 1616.4L581.1 1632.4L581.6 1616.4L582.1 1659.6L582.5 1632.4L583.5 1659.6L584 1589.2L584.5 1632.4L585 1596.4L585.4 1605.1L585.9 1616.4L586.4 1632.4L586.9 1596.4L587.4 1596.4L587.9 1632.4L588.8 1605.1L589.3 1589.2L589.8 1616.4L590.8 1659.6L591.2 1616.4L591.7 1616.4L592.2 1616.4L592.7 1605.1L593.7 1616.4L594.1 1616.4L594.6 1659.6L595.1 1659.6L595.6 1616.4L596.1 1632.4L596.6 1632.4L597 1589.2L597.5 1616.4L598 1596.4L598.5 1632.4L599 1632.4L599.5 1605.1L599.9 1632.4L600.4 1616.4L600.9 1616.4L601.4 1616.4L601.9 1616.4L602.4 1659.6L602.8 1659.6L603.3 1632.4L603.8 1632.4L604.3 1589.2L604.8 1632.4L605.3 1589.2L605.7 1659.6L606.2 1659.6L606.7 1616.4L607.2 1616.4L607.7 1632.4L608.2 1616.4L608.6 1605.1L609.1 1659.6L609.6 1632.4L610.1 1605.1L610.6 1632.4L611.1 1632.4L611.5 1632.4L612 1616.4L612.5 1589.2L613 1605.1L613.5 1596.4L614 1596.4L614.4 1605.1L614.9 1632.4L615.4 1605.1L615.9 1616.4L616.4 1632.4L616.9 1596.4L617.3 1605.1L617.8 1632.4L618.3 1596.4L618.8 1632.4L619.3 1632.4L619.8 1632.4L620.2 1616.4L620.7 1616.4L621.2 1659.6L621.7 1605.1L622.2 1659.6L622.7 1589.2L623.1 1659.6L623.6 1616.4L624.1 1616.4L624.6 1632.4L625.1 1616.4L625.6 1596.4L626 1659.6L626.5 1616.4L627 1605.1L627.5 1632.4L628.9 1616.4L629.4 1616.4L629.9 1659.6L630.4 1632.4L630.9 1616.4L631.4 1632.4L631.8 1605.1L632.3 1632.4L632.8 1659.6L633.3 1589.2L633.8 1605.1L634.3 1659.6L634.7 1605.1L635.2 1659.6L635.7 1596.4" fill="none" stroke="none" marker-start="url(#m25)" marker-mid="url(#m25)" marker-end="url(#m25)"/>
</g>
<line x1="153" y1="1686" x2="153" y2="1694" stroke="#000" stroke-width="2.6"/>
<text x="153" y="1715.7" font-size="22.2" text-anchor="middle">0</text>
<line x1="213.34" y1="1686" x2="213.34" y2="1690.5" stroke="#000" stroke-width="2.6"/>
<line x1="273.68" y1="1686" x2="273.68" y2="1694" stroke="#000" stroke-width="2.6"/>
<text x="273.68" y="1715.7" font-size="22.2" text-anchor="middle">2</text>
<line x1="334.01" y1="1686" x2="334.01" y2="1690.5" stroke="#000" stroke-width="2.6"/>
<line x1="394.35" y1="1686" x2="394.35" y2="1694" stroke="#000" stroke-width="2.6"/>
<text x="394.35" y="1715.7" font-size="22.2" text-anchor="middle">4</text>
<line x1="454.69" y1="1686" x2="454.69" y2="1690.5" stroke="#000" stroke-width="2.6"/>
<line x1="515.03" y1="1686" x2="515.03" y2="1694" stroke="#000" stroke-width="2.6"/>
<text x="515.03" y="1715.7" font-size="22.2" text-anchor="middle">6</text>
<line x1="575.36" y1="1686" x2="575.36" y2="1690.5" stroke="#000" stroke-width="2.6"/>
<line x1="635.7" y1="1686" x2="635.7" y2="1694" stroke="#000" stroke-width="2.6"/>
<text x="635.7" y="1715.7" font-size="22.2" text-anchor="middle">8</text>
<line x1="153" y1="1659.6" x2="144.5" y2="1659.6" stroke="#000" stroke-width="2.6"/>
<text x="139.6" y="1666.3" font-size="22.2" text-anchor="end">1</text>
<line x1="153" y1="1569.15" x2="144.5" y2="1569.15" stroke="#000" stroke-width="2.6"/>
<text x="139.6" y="1575.85" font-size="22.2" text-anchor="end">10</text>
<line x1="153" y1="1478.7" x2="144.5" y2="1478.7" stroke="#000" stroke-width="2.6"/>
<text x="139.6" y="1485.4" font-size="22.2" text-anchor="end">100</text>
<line x1="153" y1="1388.25" x2="144.5" y2="1388.25" stroke="#000" stroke-width="2.6"/>
<text x="139.6" y="1394.95" font-size="22.2" text-anchor="end">1000</text>
<line x1="153" y1="1297.8" x2="144.5" y2="1297.8" stroke="#000" stroke-width="2.6"/>
<text x="139.6" y="1304.5" font-size="22.2" text-anchor="end">10000</text>
<text x="393.35" y="1755" font-size="24" text-anchor="middle" font-weight="bold">Time (s)</text>
<text x="0" y="0" font-size="24" text-anchor="middle" font-weight="bold" transform="translate(71 1491.95) rotate(-90)">Counts</text>
<circle cx="509.8" cy="1321.5" r="2.85" fill="#8000ff"/><circle cx="509.8" cy="1321.5" r="2.85" fill="url(#r1)"/>
<text x="536.4" y="1329.8" font-size="23.9">1 wt %</text>
<circle cx="509.8" cy="1350.8" r="2.85" fill="#00cacc"/><circle cx="509.8" cy="1350.8" r="2.85" fill="url(#r3)"/>
<text x="536.4" y="1359.1" font-size="23.9">3 wt %</text>
<circle cx="509.8" cy="1380.1" r="2.85" fill="#0a960a"/><circle cx="509.8" cy="1380.1" r="2.85" fill="url(#r6)"/>
<text x="536.4" y="1388.4" font-size="23.9">6 wt %</text>
<circle cx="509.8" cy="1409.4" r="2.85" fill="#f4a460"/><circle cx="509.8" cy="1409.4" r="2.85" fill="url(#r10)"/>
<text x="536.4" y="1417.7" font-size="23.9">10 wt %</text>
<circle cx="509.8" cy="1438.7" r="2.85" fill="#ff0000"/><circle cx="509.8" cy="1438.7" r="2.85" fill="url(#r25)"/>
<text x="536.4" y="1447" font-size="23.9">25 wt %</text>
<text x="39.1" y="1309" font-size="38" letter-spacing="0.8">(f)</text>
</g>
<g>
<rect x="753.9" y="794.3" width="483.1" height="388.9" fill="none" stroke="#000" stroke-width="2.6"/>
<line x1="792.8" y1="1183.2" x2="792.8" y2="1191.2" stroke="#000" stroke-width="2.6"/>
<text x="792.8" y="1212.9" font-size="22.2" text-anchor="middle">1</text>
<line x1="872" y1="1183.2" x2="872" y2="1191.2" stroke="#000" stroke-width="2.6"/>
<text x="872" y="1212.9" font-size="22.2" text-anchor="middle">3</text>
<line x1="951.2" y1="1183.2" x2="951.2" y2="1191.2" stroke="#000" stroke-width="2.6"/>
<text x="951.2" y="1212.9" font-size="22.2" text-anchor="middle">6</text>
<line x1="1030.4" y1="1183.2" x2="1030.4" y2="1191.2" stroke="#000" stroke-width="2.6"/>
<text x="1030.4" y="1212.9" font-size="22.2" text-anchor="middle">10</text>
<line x1="1109.6" y1="1183.2" x2="1109.6" y2="1191.2" stroke="#000" stroke-width="2.6"/>
<text x="1109.6" y="1212.9" font-size="22.2" text-anchor="middle">25</text>
<line x1="1188.8" y1="1183.2" x2="1188.8" y2="1191.2" stroke="#000" stroke-width="2.6"/>
<text x="1188.8" y="1212.9" font-size="22.2" text-anchor="middle">50</text>
<line x1="753.9" y1="843.2" x2="745.4" y2="843.2" stroke="#000" stroke-width="2.6"/>
<text x="740.5" y="849.9" font-size="22.2" text-anchor="end">1.0</text>
<line x1="753.9" y1="940.4" x2="745.4" y2="940.4" stroke="#000" stroke-width="2.6"/>
<text x="740.5" y="947.1" font-size="22.2" text-anchor="end">0.8</text>
<line x1="753.9" y1="1037.5" x2="745.4" y2="1037.5" stroke="#000" stroke-width="2.6"/>
<text x="740.5" y="1044.2" font-size="22.2" text-anchor="end">0.6</text>
<line x1="753.9" y1="1134.6" x2="745.4" y2="1134.6" stroke="#000" stroke-width="2.6"/>
<text x="740.5" y="1141.3" font-size="22.2" text-anchor="end">0.4</text>
<line x1="753.9" y1="794.8" x2="749.4" y2="794.8" stroke="#000" stroke-width="2.6"/>
<line x1="753.9" y1="891.8" x2="749.4" y2="891.8" stroke="#000" stroke-width="2.6"/>
<line x1="753.9" y1="988.9" x2="749.4" y2="988.9" stroke="#000" stroke-width="2.6"/>
<line x1="753.9" y1="1086" x2="749.4" y2="1086" stroke="#000" stroke-width="2.6"/>
<line x1="753.9" y1="1182.8" x2="749.4" y2="1182.8" stroke="#000" stroke-width="2.6"/>
<rect x="787" y="879.72" width="11.6" height="11.6" fill="#ff0480"/>
<line x1="792.8" y1="879.72" x2="792.8" y2="871.2" stroke="#404040" stroke-width="1.7"/>
<line x1="792.8" y1="891.32" x2="792.8" y2="899.51" stroke="#404040" stroke-width="1.7"/>
<line x1="788.9" y1="871.2" x2="796.7" y2="871.2" stroke="#404040" stroke-width="1.7"/>
<line x1="788.9" y1="899.51" x2="796.7" y2="899.51" stroke="#404040" stroke-width="1.7"/>
<rect x="866.2" y="918.02" width="11.6" height="11.6" fill="#ff0480"/>
<line x1="872" y1="918.02" x2="872" y2="909.16" stroke="#404040" stroke-width="1.7"/>
<line x1="872" y1="929.62" x2="872" y2="938.8" stroke="#404040" stroke-width="1.7"/>
<line x1="868.1" y1="909.16" x2="875.9" y2="909.16" stroke="#404040" stroke-width="1.7"/>
<line x1="868.1" y1="938.8" x2="875.9" y2="938.8" stroke="#404040" stroke-width="1.7"/>
<rect x="945.4" y="947.99" width="11.6" height="11.6" fill="#ff0480"/>
<line x1="951.2" y1="947.99" x2="951.2" y2="947.13" stroke="#404040" stroke-width="1.7"/>
<line x1="951.2" y1="959.59" x2="951.2" y2="960.45" stroke="#404040" stroke-width="1.7"/>
<line x1="947.3" y1="947.13" x2="955.1" y2="947.13" stroke="#404040" stroke-width="1.7"/>
<line x1="947.3" y1="960.45" x2="955.1" y2="960.45" stroke="#404040" stroke-width="1.7"/>
<rect x="1024.6" y="976.29" width="11.6" height="11.6" fill="#ff0480"/>
<line x1="1030.4" y1="976.29" x2="1030.4" y2="966.44" stroke="#404040" stroke-width="1.7"/>
<line x1="1030.4" y1="987.89" x2="1030.4" y2="998.08" stroke="#404040" stroke-width="1.7"/>
<line x1="1026.5" y1="966.44" x2="1034.3" y2="966.44" stroke="#404040" stroke-width="1.7"/>
<line x1="1026.5" y1="998.08" x2="1034.3" y2="998.08" stroke="#404040" stroke-width="1.7"/>
<rect x="1103.8" y="1084.85" width="11.6" height="11.6" fill="#ff0480"/>
<line x1="1109.6" y1="1084.85" x2="1109.6" y2="1080.99" stroke="#404040" stroke-width="1.7"/>
<line x1="1109.6" y1="1096.45" x2="1109.6" y2="1100.64" stroke="#404040" stroke-width="1.7"/>
<line x1="1105.7" y1="1080.99" x2="1113.5" y2="1080.99" stroke="#404040" stroke-width="1.7"/>
<line x1="1105.7" y1="1100.64" x2="1113.5" y2="1100.64" stroke="#404040" stroke-width="1.7"/>
<rect x="1183" y="1140.13" width="11.6" height="11.6" fill="#ff0480"/>
<line x1="1188.8" y1="1140.13" x2="1188.8" y2="1139.8" stroke="#404040" stroke-width="1.7"/>
<line x1="1188.8" y1="1151.73" x2="1188.8" y2="1152.05" stroke="#404040" stroke-width="1.7"/>
<line x1="1184.9" y1="1139.8" x2="1192.7" y2="1139.8" stroke="#404040" stroke-width="1.7"/>
<line x1="1184.9" y1="1152.05" x2="1192.7" y2="1152.05" stroke="#404040" stroke-width="1.7"/>
<text x="995" y="1252.2" font-size="24" text-anchor="middle" font-weight="bold">Weight % of <tspan font-style="italic">R</tspan>-(BN)<tspan font-size="16" dy="5">2</tspan><tspan dy="-5"> in PMMA matrix</tspan></text>
<text x="0" y="0" font-size="24" text-anchor="middle" font-weight="bold" transform="translate(691 982.25) rotate(-90)">Life time (s)</text>
<text x="673.4" y="784.6" font-size="34.6" letter-spacing="0.8">(d)</text>
</g>
<g>
<rect x="1377" y="794.3" width="491" height="388.1" fill="none" stroke="#000" stroke-width="2.6"/>
<line x1="1418.1" y1="1182.4" x2="1418.1" y2="1190.4" stroke="#000" stroke-width="2.6"/>
<text x="1418.1" y="1212.1" font-size="22.2" text-anchor="middle">1</text>
<line x1="1499.9" y1="1182.4" x2="1499.9" y2="1190.4" stroke="#000" stroke-width="2.6"/>
<text x="1499.9" y="1212.1" font-size="22.2" text-anchor="middle">3</text>
<line x1="1581.7" y1="1182.4" x2="1581.7" y2="1190.4" stroke="#000" stroke-width="2.6"/>
<text x="1581.7" y="1212.1" font-size="22.2" text-anchor="middle">6</text>
<line x1="1663.5" y1="1182.4" x2="1663.5" y2="1190.4" stroke="#000" stroke-width="2.6"/>
<text x="1663.5" y="1212.1" font-size="22.2" text-anchor="middle">10</text>
<line x1="1745.3" y1="1182.4" x2="1745.3" y2="1190.4" stroke="#000" stroke-width="2.6"/>
<text x="1745.3" y="1212.1" font-size="22.2" text-anchor="middle">25</text>
<line x1="1827.1" y1="1182.4" x2="1827.1" y2="1190.4" stroke="#000" stroke-width="2.6"/>
<text x="1827.1" y="1212.1" font-size="22.2" text-anchor="middle">50</text>
<line x1="1377" y1="1182.4" x2="1368.5" y2="1182.4" stroke="#000" stroke-width="2.6"/>
<text x="1363.6" y="1189.1" font-size="22.2" text-anchor="end">0</text>
<line x1="1377" y1="1117.72" x2="1368.5" y2="1117.72" stroke="#000" stroke-width="2.6"/>
<text x="1363.6" y="1124.42" font-size="22.2" text-anchor="end">2</text>
<line x1="1377" y1="1053.04" x2="1368.5" y2="1053.04" stroke="#000" stroke-width="2.6"/>
<text x="1363.6" y="1059.74" font-size="22.2" text-anchor="end">4</text>
<line x1="1377" y1="988.36" x2="1368.5" y2="988.36" stroke="#000" stroke-width="2.6"/>
<text x="1363.6" y="995.06" font-size="22.2" text-anchor="end">6</text>
<line x1="1377" y1="923.68" x2="1368.5" y2="923.68" stroke="#000" stroke-width="2.6"/>
<text x="1363.6" y="930.38" font-size="22.2" text-anchor="end">8</text>
<line x1="1377" y1="859" x2="1368.5" y2="859" stroke="#000" stroke-width="2.6"/>
<text x="1363.6" y="865.7" font-size="22.2" text-anchor="end">10</text>
<line x1="1377" y1="794.32" x2="1368.5" y2="794.32" stroke="#000" stroke-width="2.6"/>
<text x="1363.6" y="801.02" font-size="22.2" text-anchor="end">12</text>
<line x1="1377" y1="1150.06" x2="1372.5" y2="1150.06" stroke="#000" stroke-width="2.6"/>
<line x1="1377" y1="1085.38" x2="1372.5" y2="1085.38" stroke="#000" stroke-width="2.6"/>
<line x1="1377" y1="1020.7" x2="1372.5" y2="1020.7" stroke="#000" stroke-width="2.6"/>
<line x1="1377" y1="956.02" x2="1372.5" y2="956.02" stroke="#000" stroke-width="2.6"/>
<line x1="1377" y1="891.34" x2="1372.5" y2="891.34" stroke="#000" stroke-width="2.6"/>
<line x1="1377" y1="826.66" x2="1372.5" y2="826.66" stroke="#000" stroke-width="2.6"/>
<polygon points="1409.8,885.49 1418.1,877.19 1426.4,885.49 1418.1,893.79" fill="#ff0480"/>
<line x1="1418.1" y1="877.19" x2="1418.1" y2="855.75" stroke="#404040" stroke-width="1.7"/>
<line x1="1418.1" y1="893.79" x2="1418.1" y2="914.59" stroke="#404040" stroke-width="1.7"/>
<line x1="1414.2" y1="855.75" x2="1422" y2="855.75" stroke="#404040" stroke-width="1.7"/>
<line x1="1414.2" y1="914.59" x2="1422" y2="914.59" stroke="#404040" stroke-width="1.7"/>
<polygon points="1491.6,978.28 1499.9,969.98 1508.2,978.28 1499.9,986.58" fill="#ff0480"/>
<line x1="1499.9" y1="969.98" x2="1499.9" y2="955.65" stroke="#404040" stroke-width="1.7"/>
<line x1="1499.9" y1="986.58" x2="1499.9" y2="1000.27" stroke="#404040" stroke-width="1.7"/>
<line x1="1496" y1="955.65" x2="1503.8" y2="955.65" stroke="#404040" stroke-width="1.7"/>
<line x1="1496" y1="1000.27" x2="1503.8" y2="1000.27" stroke="#404040" stroke-width="1.7"/>
<polygon points="1573.4,992.18 1581.7,983.88 1590,992.18 1581.7,1000.48" fill="#ff0480"/>
<line x1="1581.7" y1="983.88" x2="1581.7" y2="985.07" stroke="#404040" stroke-width="1.7"/>
<line x1="1581.7" y1="1000.48" x2="1581.7" y2="999.62" stroke="#404040" stroke-width="1.7"/>
<line x1="1577.8" y1="985.07" x2="1585.6" y2="985.07" stroke="#404040" stroke-width="1.7"/>
<line x1="1577.8" y1="999.62" x2="1585.6" y2="999.62" stroke="#404040" stroke-width="1.7"/>
<polygon points="1655.2,1108.25 1663.5,1099.95 1671.8,1108.25 1663.5,1116.55" fill="#ff0480"/>
<line x1="1663.5" y1="1099.95" x2="1663.5" y2="1100.49" stroke="#404040" stroke-width="1.7"/>
<line x1="1663.5" y1="1116.55" x2="1663.5" y2="1116.01" stroke="#404040" stroke-width="1.7"/>
<line x1="1659.6" y1="1100.49" x2="1667.4" y2="1100.49" stroke="#404040" stroke-width="1.7"/>
<line x1="1659.6" y1="1116.01" x2="1667.4" y2="1116.01" stroke="#404040" stroke-width="1.7"/>
<polygon points="1737,1140.58 1745.3,1132.28 1753.6,1140.58 1745.3,1148.88" fill="#ff0480"/>
<line x1="1745.3" y1="1132.28" x2="1745.3" y2="1133.47" stroke="#404040" stroke-width="1.7"/>
<line x1="1745.3" y1="1148.88" x2="1745.3" y2="1148.02" stroke="#404040" stroke-width="1.7"/>
<line x1="1741.4" y1="1133.47" x2="1749.2" y2="1133.47" stroke="#404040" stroke-width="1.7"/>
<line x1="1741.4" y1="1148.02" x2="1749.2" y2="1148.02" stroke="#404040" stroke-width="1.7"/>
<polygon points="1818.8,1166.77 1827.1,1158.47 1835.4,1166.77 1827.1,1175.07" fill="#ff0480"/>
<line x1="1827.1" y1="1158.47" x2="1827.1" y2="1154.48" stroke="#404040" stroke-width="1.7"/>
<line x1="1827.1" y1="1175.07" x2="1827.1" y2="1178.73" stroke="#404040" stroke-width="1.7"/>
<line x1="1823.2" y1="1154.48" x2="1831" y2="1154.48" stroke="#404040" stroke-width="1.7"/>
<line x1="1823.2" y1="1178.73" x2="1831" y2="1178.73" stroke="#404040" stroke-width="1.7"/>
<text x="1618" y="1251.4" font-size="24" text-anchor="middle" font-weight="bold">Weight % of <tspan font-style="italic">R</tspan>-(BN)<tspan font-size="16" dy="5">2</tspan><tspan dy="-5"> in PMMA matrix</tspan></text>
<text x="0" y="0" font-size="24" text-anchor="middle" font-weight="bold" transform="translate(1331 988.35) rotate(-90)">Phos QY (%)</text>
<text x="1286" y="784.4" font-size="34.6" letter-spacing="0.8">(e)</text>
</g>
<g>
<rect x="753.9" y="1294.4" width="483.1" height="388.8" fill="none" stroke="#000" stroke-width="2.6"/>
<line x1="803.2" y1="1683.2" x2="803.2" y2="1691.2" stroke="#000" stroke-width="2.6"/>
<text x="803.2" y="1712.9" font-size="22.2" text-anchor="middle">1</text>
<line x1="903.2" y1="1683.2" x2="903.2" y2="1691.2" stroke="#000" stroke-width="2.6"/>
<text x="903.2" y="1712.9" font-size="22.2" text-anchor="middle">3</text>
<line x1="1003.2" y1="1683.2" x2="1003.2" y2="1691.2" stroke="#000" stroke-width="2.6"/>
<text x="1003.2" y="1712.9" font-size="22.2" text-anchor="middle">6</text>
<line x1="1103.2" y1="1683.2" x2="1103.2" y2="1691.2" stroke="#000" stroke-width="2.6"/>
<text x="1103.2" y="1712.9" font-size="22.2" text-anchor="middle">10</text>
<line x1="1203.2" y1="1683.2" x2="1203.2" y2="1691.2" stroke="#000" stroke-width="2.6"/>
<text x="1203.2" y="1712.9" font-size="22.2" text-anchor="middle">25</text>
<line x1="753.9" y1="1683.2" x2="745.4" y2="1683.2" stroke="#000" stroke-width="2.6"/>
<text x="740.5" y="1689.9" font-size="22.2" text-anchor="end">0.2</text>
<line x1="753.9" y1="1612.62" x2="745.4" y2="1612.62" stroke="#000" stroke-width="2.6"/>
<text x="740.5" y="1619.32" font-size="22.2" text-anchor="end">0.3</text>
<line x1="753.9" y1="1542.04" x2="745.4" y2="1542.04" stroke="#000" stroke-width="2.6"/>
<text x="740.5" y="1548.74" font-size="22.2" text-anchor="end">0.4</text>
<line x1="753.9" y1="1471.46" x2="745.4" y2="1471.46" stroke="#000" stroke-width="2.6"/>
<text x="740.5" y="1478.16" font-size="22.2" text-anchor="end">0.5</text>
<line x1="753.9" y1="1400.88" x2="745.4" y2="1400.88" stroke="#000" stroke-width="2.6"/>
<text x="740.5" y="1407.58" font-size="22.2" text-anchor="end">0.6</text>
<line x1="753.9" y1="1330.3" x2="745.4" y2="1330.3" stroke="#000" stroke-width="2.6"/>
<text x="740.5" y="1337" font-size="22.2" text-anchor="end">0.7</text>
<line x1="753.9" y1="1647.91" x2="749.4" y2="1647.91" stroke="#000" stroke-width="2.6"/>
<line x1="753.9" y1="1577.33" x2="749.4" y2="1577.33" stroke="#000" stroke-width="2.6"/>
<line x1="753.9" y1="1506.75" x2="749.4" y2="1506.75" stroke="#000" stroke-width="2.6"/>
<line x1="753.9" y1="1436.17" x2="749.4" y2="1436.17" stroke="#000" stroke-width="2.6"/>
<line x1="753.9" y1="1365.59" x2="749.4" y2="1365.59" stroke="#000" stroke-width="2.6"/>
<line x1="753.9" y1="1294.9" x2="749.4" y2="1294.9" stroke="#000" stroke-width="2.6"/>
<rect x="797.4" y="1341.78" width="11.6" height="11.6" fill="#7f00ff"/>
<line x1="803.2" y1="1341.78" x2="803.2" y2="1323.94" stroke="#404040" stroke-width="1.7"/>
<line x1="803.2" y1="1353.38" x2="803.2" y2="1370.89" stroke="#404040" stroke-width="1.7"/>
<line x1="799.3" y1="1323.94" x2="807.1" y2="1323.94" stroke="#404040" stroke-width="1.7"/>
<line x1="799.3" y1="1370.89" x2="807.1" y2="1370.89" stroke="#404040" stroke-width="1.7"/>
<rect x="897.4" y="1359.43" width="11.6" height="11.6" fill="#7f00ff"/>
<line x1="903.2" y1="1359.43" x2="903.2" y2="1339.92" stroke="#404040" stroke-width="1.7"/>
<line x1="903.2" y1="1371.03" x2="903.2" y2="1389.87" stroke="#404040" stroke-width="1.7"/>
<line x1="899.3" y1="1339.92" x2="907.1" y2="1339.92" stroke="#404040" stroke-width="1.7"/>
<line x1="899.3" y1="1389.87" x2="907.1" y2="1389.87" stroke="#404040" stroke-width="1.7"/>
<rect x="997.4" y="1437.68" width="11.6" height="11.6" fill="#7f00ff"/>
<line x1="1003.2" y1="1437.68" x2="1003.2" y2="1425.83" stroke="#404040" stroke-width="1.7"/>
<line x1="1003.2" y1="1449.28" x2="1003.2" y2="1461.13" stroke="#404040" stroke-width="1.7"/>
<line x1="999.3" y1="1425.83" x2="1007.1" y2="1425.83" stroke="#404040" stroke-width="1.7"/>
<line x1="999.3" y1="1461.13" x2="1007.1" y2="1461.13" stroke="#404040" stroke-width="1.7"/>
<rect x="1097.4" y="1480.64" width="11.6" height="11.6" fill="#7f00ff"/>
<line x1="1103.2" y1="1480.64" x2="1103.2" y2="1470.46" stroke="#404040" stroke-width="1.7"/>
<line x1="1103.2" y1="1492.24" x2="1103.2" y2="1502.09" stroke="#404040" stroke-width="1.7"/>
<line x1="1099.3" y1="1470.46" x2="1107.1" y2="1470.46" stroke="#404040" stroke-width="1.7"/>
<line x1="1099.3" y1="1502.09" x2="1107.1" y2="1502.09" stroke="#404040" stroke-width="1.7"/>
<rect x="1197.4" y="1573.88" width="11.6" height="11.6" fill="#7f00ff"/>
<line x1="1203.2" y1="1573.88" x2="1203.2" y2="1564.7" stroke="#404040" stroke-width="1.7"/>
<line x1="1203.2" y1="1585.48" x2="1203.2" y2="1594" stroke="#404040" stroke-width="1.7"/>
<line x1="1199.3" y1="1564.7" x2="1207.1" y2="1564.7" stroke="#404040" stroke-width="1.7"/>
<line x1="1199.3" y1="1594" x2="1207.1" y2="1594" stroke="#404040" stroke-width="1.7"/>
<text x="995" y="1752.2" font-size="24" text-anchor="middle" font-weight="bold">Weight % of (BN)<tspan font-size="16" dy="5">1</tspan><tspan dy="-5"> in PMMA matrix</tspan></text>
<text x="0" y="0" font-size="24" text-anchor="middle" font-weight="bold" transform="translate(701 1488.8) rotate(-90)">Life time (s)</text>
<text x="673.3" y="1310" font-size="38" letter-spacing="0.8">(g)</text>
</g>
<g>
<rect x="1377" y="1294.6" width="491" height="388.9" fill="none" stroke="#000" stroke-width="2.6"/>
<line x1="1403.9" y1="1683.5" x2="1403.9" y2="1691.5" stroke="#000" stroke-width="2.6"/>
<text x="1403.9" y="1713.2" font-size="22.2" text-anchor="middle">1</text>
<line x1="1509.2" y1="1683.5" x2="1509.2" y2="1691.5" stroke="#000" stroke-width="2.6"/>
<text x="1509.2" y="1713.2" font-size="22.2" text-anchor="middle">3</text>
<line x1="1614.5" y1="1683.5" x2="1614.5" y2="1691.5" stroke="#000" stroke-width="2.6"/>
<text x="1614.5" y="1713.2" font-size="22.2" text-anchor="middle">6</text>
<line x1="1719.8" y1="1683.5" x2="1719.8" y2="1691.5" stroke="#000" stroke-width="2.6"/>
<text x="1719.8" y="1713.2" font-size="22.2" text-anchor="middle">10</text>
<line x1="1825.1" y1="1683.5" x2="1825.1" y2="1691.5" stroke="#000" stroke-width="2.6"/>
<text x="1825.1" y="1713.2" font-size="22.2" text-anchor="middle">25</text>
<line x1="1377" y1="1662.5" x2="1368.5" y2="1662.5" stroke="#000" stroke-width="2.6"/>
<text x="1363.6" y="1669.2" font-size="22.2" text-anchor="end">0</text>
<line x1="1377" y1="1576.17" x2="1368.5" y2="1576.17" stroke="#000" stroke-width="2.6"/>
<text x="1363.6" y="1582.87" font-size="22.2" text-anchor="end">1</text>
<line x1="1377" y1="1489.84" x2="1368.5" y2="1489.84" stroke="#000" stroke-width="2.6"/>
<text x="1363.6" y="1496.54" font-size="22.2" text-anchor="end">2</text>
<line x1="1377" y1="1403.51" x2="1368.5" y2="1403.51" stroke="#000" stroke-width="2.6"/>
<text x="1363.6" y="1410.21" font-size="22.2" text-anchor="end">3</text>
<line x1="1377" y1="1317.18" x2="1368.5" y2="1317.18" stroke="#000" stroke-width="2.6"/>
<text x="1363.6" y="1323.88" font-size="22.2" text-anchor="end">4</text>
<line x1="1377" y1="1619.34" x2="1372.5" y2="1619.34" stroke="#000" stroke-width="2.6"/>
<line x1="1377" y1="1533.01" x2="1372.5" y2="1533.01" stroke="#000" stroke-width="2.6"/>
<line x1="1377" y1="1446.68" x2="1372.5" y2="1446.68" stroke="#000" stroke-width="2.6"/>
<line x1="1377" y1="1360.35" x2="1372.5" y2="1360.35" stroke="#000" stroke-width="2.6"/>
<polygon points="1395.6,1399.02 1403.9,1390.72 1412.2,1399.02 1403.9,1407.32" fill="#7f00ff"/>
<line x1="1403.9" y1="1390.72" x2="1403.9" y2="1374.78" stroke="#404040" stroke-width="1.7"/>
<line x1="1403.9" y1="1407.32" x2="1403.9" y2="1422.63" stroke="#404040" stroke-width="1.7"/>
<line x1="1400" y1="1374.78" x2="1407.8" y2="1374.78" stroke="#404040" stroke-width="1.7"/>
<line x1="1400" y1="1422.63" x2="1407.8" y2="1422.63" stroke="#404040" stroke-width="1.7"/>
<polygon points="1500.9,1507.33 1509.2,1499.03 1517.5,1507.33 1509.2,1515.63" fill="#7f00ff"/>
<line x1="1509.2" y1="1499.03" x2="1509.2" y2="1481.79" stroke="#404040" stroke-width="1.7"/>
<line x1="1509.2" y1="1515.63" x2="1509.2" y2="1532.23" stroke="#404040" stroke-width="1.7"/>
<line x1="1505.3" y1="1481.79" x2="1513.1" y2="1481.79" stroke="#404040" stroke-width="1.7"/>
<line x1="1505.3" y1="1532.23" x2="1513.1" y2="1532.23" stroke="#404040" stroke-width="1.7"/>
<polygon points="1606.2,1637.63 1614.5,1629.33 1622.8,1637.63 1614.5,1645.93" fill="#7f00ff"/>
<line x1="1614.5" y1="1629.33" x2="1614.5" y2="1632.84" stroke="#404040" stroke-width="1.7"/>
<line x1="1614.5" y1="1645.93" x2="1614.5" y2="1642.41" stroke="#404040" stroke-width="1.7"/>
<line x1="1610.6" y1="1632.84" x2="1618.4" y2="1632.84" stroke="#404040" stroke-width="1.7"/>
<line x1="1610.6" y1="1642.41" x2="1618.4" y2="1642.41" stroke="#404040" stroke-width="1.7"/>
<polygon points="1711.5,1662.52 1719.8,1654.22 1728.1,1662.52 1719.8,1670.82" fill="#7f00ff"/>
<polygon points="1816.8,1662.52 1825.1,1654.22 1833.4,1662.52 1825.1,1670.82" fill="#7f00ff"/>
<text x="1620" y="1752.5" font-size="24" text-anchor="middle" font-weight="bold">Weight % of (BN)<tspan font-size="16" dy="5">1</tspan><tspan dy="-5"> in PMMA matrix</tspan></text>
<text x="0" y="0" font-size="24" text-anchor="middle" font-weight="bold" transform="translate(1334 1482.05) rotate(-90)">Phos QY (%)</text>
<text x="1287.5" y="1309.5" font-size="38" letter-spacing="0.8">(h)</text>
</g>
</svg>
</body></html>
